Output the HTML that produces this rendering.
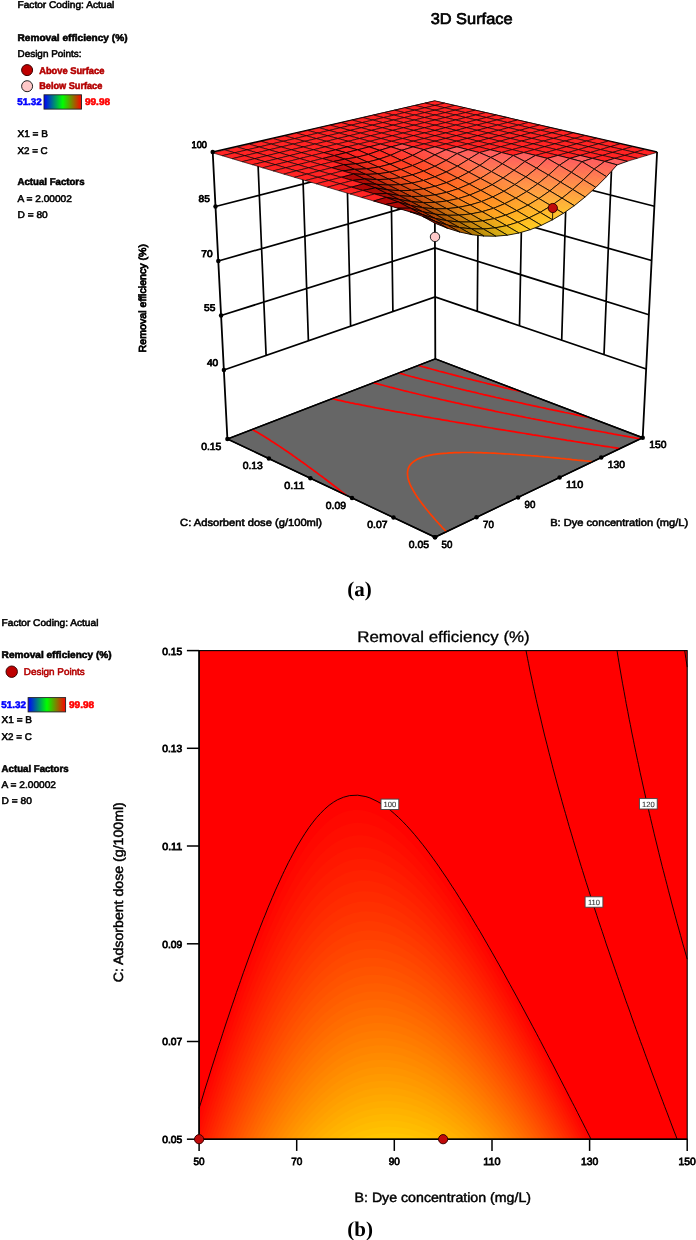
<!DOCTYPE html>
<html lang="en"><head><meta charset="utf-8"><title>3D Surface and contour plot of removal efficiency</title>
<style>html,body{margin:0;padding:0;background:#fff}body{width:696px;height:1240px;overflow:hidden}svg text{font-family:"Liberation Sans",Arial,sans-serif;paint-order:stroke fill;text-rendering:geometricPrecision}.m,.n{fill:none;stroke:#000;stroke-width:.62;stroke-linejoin:round}.n{stroke-width:.85}</style>
</head><body>
<svg width="696" height="1240" viewBox="0 0 696 1240" style="display:block">
<rect width="696" height="1240" fill="#fff"/>
<g stroke-width=".55">
<g id="surface3d">
<path d="M223.9,370.0 L435.1,296.9 L646.2,369.0 M221.1,315.5 L435.0,248.0 L648.9,314.7 M218.3,261.0 L434.8,199.1 L651.6,260.5 M215.5,206.5 L434.7,150.2 L654.4,206.2 M212.7,152.0 L434.5,101.3 L657.1,152.0 M257.1,141.9 L266.1,355.4 M479.0,111.4 L477.3,311.4 M301.4,131.7 L308.4,340.8 M523.5,121.6 L519.5,325.8 M345.8,121.6 L350.6,326.2 M568.1,131.7 L561.7,340.2 M390.1,111.4 L392.9,311.6 M612.6,141.9 L604.0,354.6" fill="none" stroke="#000" stroke-width="1.7"/>
<path d="M212.7,152.0 L227.4,439.0 M434.5,101.3 L435.3,358.9 M657.1,152.0 L642.7,437.7" fill="none" stroke="#000" stroke-width="1.8"/>
<polygon points="227.4,439.0 435.3,358.9 642.7,437.7 435.0,537.2" fill="#666666" stroke="#000" stroke-width="1.3" stroke-linejoin="round"/>
<clipPath id="floorclip"><polygon points="227.4,439.0 435.3,358.9 642.7,437.7 435.0,537.2"/></clipPath>
<g clip-path="url(#floorclip)">
<path d="M446.7,532.1 445.8,531.1 444.0,529.2 443.1,528.3 441.7,526.8 440.5,525.4 439.5,524.4 437.8,522.5 437.0,521.6 435.3,519.7 434.4,518.7 433.3,517.4 432.0,515.9 431.1,514.9 429.5,513.0 428.7,512.0 427.7,510.8 426.4,509.2 425.6,508.2 424.3,506.5 423.4,505.4 422.6,504.4 421.2,502.5 420.5,501.5 419.7,500.5 418.4,498.6 417.7,497.7 417.1,496.7 415.9,494.9 415.2,493.8 414.6,492.8 413.7,491.3 412.9,489.8 412.3,488.8 411.8,487.8 411.0,486.3 410.3,484.8 409.9,483.8 409.5,482.7 409.1,481.6 408.6,480.2 408.2,478.8 407.9,477.4 407.7,476.3 407.6,475.1 407.5,474.0 407.5,472.8 407.6,471.6 407.8,470.3 408.1,469.0 408.5,467.9 409.0,466.9 409.5,465.9 410.6,464.4 411.6,463.3 412.6,462.4 414.5,461.0 416.7,459.6 419.3,458.4 422.2,457.3 425.3,456.3 428.1,455.6 430.5,455.1 432.9,454.7 436.3,454.2 438.4,453.9 440.6,453.6 444.0,453.3 447.1,453.1 449.4,452.9 451.8,452.8 454.2,452.7 456.7,452.6 459.2,452.6 461.7,452.5 464.3,452.5 467.0,452.5 469.7,452.5 472.4,452.5 475.1,452.6 477.9,452.6 480.8,452.7 483.7,452.8 486.6,452.9 489.5,453.0 491.9,453.1 494.2,453.2 496.6,453.3 499.0,453.5 501.6,453.6 504.7,453.8 507.9,454.0 510.6,454.2 512.9,454.3 515.2,454.5 517.5,454.7 520.7,454.9 524.0,455.1 526.5,455.3 528.8,455.5 531.0,455.7 534.0,455.9 537.3,456.2 539.9,456.5 542.2,456.7 544.4,456.9 547.6,457.1 551.0,457.5 553.2,457.7 555.4,457.9 558.1,458.1 561.6,458.5 564.2,458.7 566.4,459.0 568.7,459.2 572.3,459.6 575.1,459.8 577.3,460.1 579.6,460.3 583.2,460.7 586.0,461.0 588.2,461.2 590.5,461.5 592.5,461.7" fill="none" stroke="#ff3d00" stroke-width="1.7"/>
<path d="M346.2,495.1 345.0,494.2 343.0,492.6 341.7,491.7 340.0,490.3 338.0,488.8 337.0,488.0 335.0,486.5 333.1,485.0 332.1,484.3 330.1,482.8 328.1,481.3 327.2,480.5 325.2,479.0 323.4,477.7 322.3,476.8 320.3,475.4 318.7,474.2 317.4,473.2 315.5,471.8 314.0,470.7 312.6,469.6 310.6,468.2 309.1,467.1 307.7,466.1 305.8,464.6 304.2,463.5 302.9,462.5 300.9,461.2 299.1,459.8 298.0,459.1 296.1,457.7 294.2,456.4 293.2,455.7 291.3,454.3 289.3,453.0 288.3,452.3 286.4,451.0 284.5,449.7 282.6,448.4 281.6,447.7 279.6,446.4 277.7,445.1 276.3,444.2 274.8,443.2 272.8,441.9 270.8,440.7 269.5,439.8 267.9,438.8 265.9,437.5 263.9,436.3 261.9,435.1 260.9,434.5 258.9,433.3 256.9,432.1 254.8,430.9 252.8,429.7 251.8,429.1 251.8,429.1" fill="none" stroke="#ff0000" stroke-width="1.7"/>
<path d="M331.7,398.7 333.2,399.0 336.3,399.7 337.9,400.1 341.0,400.7 342.8,401.1 345.7,401.8 347.8,402.2 350.5,402.8 352.7,403.2 355.3,403.8 357.5,404.2 360.2,404.7 362.3,405.2 365.1,405.7 367.0,406.1 370.1,406.7 371.7,407.0 375.0,407.7 376.7,408.0 380.1,408.6 381.7,408.9 385.1,409.6 386.8,409.9 390.1,410.5 391.9,410.8 394.7,411.4 397.0,411.8 399.2,412.2 402.2,412.7 403.9,413.0 407.3,413.7 409.1,414.0 412.5,414.6 414.3,414.9 417.0,415.4 419.5,415.8 421.5,416.2 424.8,416.8 426.6,417.1 430.1,417.7 431.8,418.0 434.7,418.5 437.2,418.9 439.1,419.2 442.5,419.8 444.3,420.1 447.9,420.7 449.7,421.1 452.2,421.5 455.1,422.0 456.9,422.3 460.5,422.9 462.3,423.2 465.3,423.7 467.7,424.1 469.7,424.4 473.2,425.0 475.0,425.3 478.4,425.9 480.5,426.2 482.7,426.6 486.0,427.2 487.9,427.5 491.5,428.0 493.4,428.4 495.8,428.8 499.0,429.3 500.8,429.6 504.5,430.2 506.4,430.5 508.9,430.9 512.0,431.4 513.9,431.7 517.6,432.3 519.5,432.6 521.9,433.0 525.2,433.5 527.0,433.8 530.6,434.4 532.7,434.8 535.0,435.1 538.4,435.7 540.3,436.0 543.7,436.5 546.0,436.9 548.1,437.2 551.7,437.8 553.6,438.1 556.9,438.6 559.4,439.0 561.3,439.3 565.1,439.9 567.1,440.3 570.0,440.7 572.9,441.2 574.8,441.5 578.7,442.1 580.6,442.4 583.2,442.8 586.4,443.3 588.4,443.6 592.0,444.2 594.2,444.6 596.4,444.9 600.1,445.5 602.0,445.8 605.3,446.3 607.9,446.7 609.9,447.0 613.8,447.6 615.8,447.9 618.6,448.4 619.7,448.6" fill="none" stroke="#ff0000" stroke-width="1.7"/>
<path d="M373.4,382.8 375.9,383.4 377.7,383.9 380.5,384.6 383.0,385.3 384.8,385.8 387.6,386.5 389.8,387.1 392.0,387.6 394.9,388.4 396.5,388.8 399.3,389.5 402.2,390.2 403.7,390.6 406.7,391.3 409.3,392.0 411.1,392.4 414.2,393.2 415.7,393.5 418.7,394.3 421.7,395.0 423.3,395.3 426.3,396.1 427.9,396.4 430.9,397.2 433.6,397.8 435.6,398.2 438.7,398.9 440.3,399.3 443.4,400.0 445.2,400.4 448.2,401.1 450.9,401.7 452.9,402.2 456.1,402.9 457.7,403.2 460.9,403.9 462.5,404.3 465.8,405.0 467.7,405.4 470.6,406.0 473.2,406.6 475.5,407.1 478.6,407.7 480.5,408.1 483.8,408.8 485.4,409.2 488.7,409.9 490.4,410.2 493.8,410.9 495.4,411.3 498.8,412.0 500.5,412.3 503.8,413.0 505.5,413.3 508.9,414.0 510.6,414.4 514.0,415.1 515.7,415.4 519.2,416.1 520.9,416.4 524.3,417.1 526.1,417.5 529.5,418.1 531.2,418.5 534.7,419.2 536.5,419.5 539.9,420.2 541.7,420.5 545.2,421.2 547.0,421.6 550.5,422.2 552.3,422.6 555.8,423.3 557.6,423.6 561.1,424.3 562.9,424.6 566.5,425.3 568.3,425.6 571.9,426.3 573.7,426.6 576.9,427.3 579.1,427.7 581.9,428.2 584.5,428.7 586.9,429.1 589.9,429.7 591.9,430.1 595.4,430.7 597.2,431.0 600.9,431.7 602.7,432.0 606.4,432.7 608.3,433.1 611.8,433.7 613.8,434.1 616.8,434.6 619.4,435.1 621.7,435.5 625.0,436.1 626.8,436.4 630.6,437.1 632.5,437.4 636.2,438.1 638.1,438.4 640.0,438.8" fill="none" stroke="#ff0000" stroke-width="1.7"/>
<path d="M398.9,373.1 401.6,373.8 403.8,374.4 405.7,375.0 408.5,375.7 411.3,376.5 412.7,376.8 415.5,377.6 418.3,378.3 419.7,378.7 422.6,379.5 425.4,380.2 426.9,380.6 429.7,381.3 432.6,382.1 434.1,382.4 437.0,383.2 439.9,383.9 441.3,384.3 444.3,385.0 447.2,385.8 448.7,386.1 451.7,386.9 454.0,387.5 456.2,388.0 459.2,388.7 460.7,389.1 463.7,389.8 466.7,390.6 468.2,390.9 471.3,391.6 473.5,392.2 475.9,392.7 479.0,393.5 480.5,393.8 483.6,394.6 486.0,395.1 488.3,395.6 491.4,396.4 493.0,396.7 496.1,397.5 498.3,397.9 500.9,398.5 504.0,399.3 505.6,399.6 508.8,400.3 510.4,400.7 513.6,401.4 516.2,402.0 518.5,402.5 521.7,403.2 523.4,403.6 526.6,404.3 528.2,404.6 531.5,405.4 533.7,405.8 536.5,406.4 539.4,407.1 541.4,407.5 544.7,408.2 546.4,408.6 549.7,409.3 551.4,409.6 554.8,410.3 556.5,410.7 559.8,411.4 562.1,411.9 564.9,412.5 567.7,413.0 570.0,413.5 573.3,414.2 575.1,414.6 578.6,415.3 580.3,415.6 583.7,416.3 585.5,416.7 588.9,417.4 589.8,417.6" fill="none" stroke="#ff0000" stroke-width="1.7"/>
<path d="M418.6,365.5 419.9,365.9 422.7,366.7 425.4,367.4 428.0,368.1 429.5,368.5 432.2,369.3 435.0,370.0 436.4,370.4 439.2,371.2 442.0,371.9 443.9,372.4 446.2,373.0 449.0,373.8 451.6,374.4 453.3,374.9 456.1,375.6 459.0,376.4 460.4,376.7 463.3,377.5 466.2,378.2 467.6,378.6 470.5,379.3 473.5,380.1 474.9,380.4 477.9,381.2 480.6,381.8 482.3,382.3 485.3,383.0 487.5,383.6 489.8,384.1 492.8,384.8 494.3,385.2 497.3,385.9 500.3,386.7 501.8,387.0 504.9,387.8 507.7,388.4 509.5,388.9 512.5,389.6 514.3,390.0 517.2,390.7 520.3,391.4 520.8,391.5" fill="none" stroke="#ff0000" stroke-width="1.7"/>
</g>
<polygon points="227.4,439.0 435.3,358.9 642.7,437.7 435.0,537.2" fill="none" stroke="#000" stroke-width="1.5" stroke-linejoin="round"/>
<path d="M434.9,105.4 444.8,103.1 434.9,100.8 425.0,103.1Z" fill="#ff2323"/>
<path class="m" d="M434.9,105.4 444.8,103.1 434.9,100.8 425.0,103.1Z"/>
<path d="M444.9,107.8 454.9,105.4 444.8,103.1 434.9,105.4Z" fill="#ff2323"/>
<path class="m" d="M444.9,107.8 454.9,105.4 444.8,103.1 434.9,105.4Z"/>
<path d="M424.9,107.8 434.9,105.4 425.0,103.1 414.9,105.4Z" fill="#ff2323"/>
<path class="m" d="M424.9,107.8 434.9,105.4 425.0,103.1 414.9,105.4Z"/>
<path d="M455.1,110.2 465.0,107.8 454.9,105.4 444.9,107.8Z" fill="#ff2323"/>
<path class="m" d="M455.1,110.2 465.0,107.8 454.9,105.4 444.9,107.8Z"/>
<path d="M434.9,110.2 444.9,107.8 434.9,105.4 424.9,107.8Z" fill="#ff2323"/>
<path class="m" d="M434.9,110.2 444.9,107.8 434.9,105.4 424.9,107.8Z"/>
<path d="M414.7,110.2 424.9,107.8 414.9,105.4 404.8,107.8Z" fill="#ff2323"/>
<path class="m" d="M414.7,110.2 424.9,107.8 414.9,105.4 404.8,107.8Z"/>
<path d="M465.4,112.6 475.3,110.2 465.0,107.8 455.1,110.2Z" fill="#ff2323"/>
<path class="m" d="M465.4,112.6 475.3,110.2 465.0,107.8 455.1,110.2Z"/>
<path d="M445.1,112.6 455.1,110.2 444.9,107.8 434.9,110.2Z" fill="#ff2323"/>
<path class="m" d="M445.1,112.6 455.1,110.2 444.9,107.8 434.9,110.2Z"/>
<path d="M424.7,112.6 434.9,110.2 424.9,107.8 414.7,110.2Z" fill="#ff2323"/>
<path class="m" d="M424.7,112.6 434.9,110.2 424.9,107.8 414.7,110.2Z"/>
<path d="M404.4,112.6 414.7,110.2 404.8,107.8 394.5,110.2Z" fill="#ff2323"/>
<path class="m" d="M404.4,112.6 414.7,110.2 404.8,107.8 394.5,110.2Z"/>
<path d="M475.7,115.0 485.7,112.6 475.3,110.2 465.4,112.6Z" fill="#ff2323"/>
<path class="m" d="M475.7,115.0 485.7,112.6 475.3,110.2 465.4,112.6Z"/>
<path d="M455.3,115.0 465.4,112.6 455.1,110.2 445.1,112.6Z" fill="#ff2323"/>
<path class="m" d="M455.3,115.0 465.4,112.6 455.1,110.2 445.1,112.6Z"/>
<path d="M434.9,115.1 445.1,112.6 434.9,110.2 424.7,112.6Z" fill="#ff2323"/>
<path class="m" d="M434.9,115.1 445.1,112.6 434.9,110.2 424.7,112.6Z"/>
<path d="M414.5,115.1 424.7,112.6 414.7,110.2 404.4,112.6Z" fill="#ff2323"/>
<path class="m" d="M414.5,115.1 424.7,112.6 414.7,110.2 404.4,112.6Z"/>
<path d="M394.0,115.1 404.4,112.6 394.5,110.2 384.1,112.6Z" fill="#ff2323"/>
<path class="m" d="M394.0,115.1 404.4,112.6 394.5,110.2 384.1,112.6Z"/>
<path d="M486.3,117.5 496.2,115.0 485.7,112.6 475.7,115.0Z" fill="#ff2323"/>
<path class="m" d="M486.3,117.5 496.2,115.0 485.7,112.6 475.7,115.0Z"/>
<path d="M465.7,117.5 475.7,115.0 465.4,112.6 455.3,115.0Z" fill="#ff2323"/>
<path class="m" d="M465.7,117.5 475.7,115.0 465.4,112.6 455.3,115.0Z"/>
<path d="M445.2,117.5 455.3,115.0 445.1,112.6 434.9,115.1Z" fill="#ff2323"/>
<path class="m" d="M445.2,117.5 455.3,115.0 445.1,112.6 434.9,115.1Z"/>
<path d="M424.6,117.5 434.9,115.1 424.7,112.6 414.5,115.1Z" fill="#ff2323"/>
<path class="m" d="M424.6,117.5 434.9,115.1 424.7,112.6 414.5,115.1Z"/>
<path d="M404.1,117.6 414.5,115.1 404.4,112.6 394.0,115.1Z" fill="#ff2323"/>
<path class="m" d="M404.1,117.6 414.5,115.1 404.4,112.6 394.0,115.1Z"/>
<path d="M383.5,117.6 394.0,115.1 384.1,112.6 373.6,115.1Z" fill="#ff2323"/>
<path class="m" d="M383.5,117.6 394.0,115.1 384.1,112.6 373.6,115.1Z"/>
<path d="M496.9,120.0 506.8,117.5 496.2,115.0 486.3,117.5Z" fill="#ff2323"/>
<path class="m" d="M496.9,120.0 506.8,117.5 496.2,115.0 486.3,117.5Z"/>
<path d="M476.2,120.0 486.3,117.5 475.7,115.0 465.7,117.5Z" fill="#ff2323"/>
<path class="m" d="M476.2,120.0 486.3,117.5 475.7,115.0 465.7,117.5Z"/>
<path d="M455.6,120.0 465.7,117.5 455.3,115.0 445.2,117.5Z" fill="#ff2323"/>
<path class="m" d="M455.6,120.0 465.7,117.5 455.3,115.0 445.2,117.5Z"/>
<path d="M434.9,120.0 445.2,117.5 434.9,115.1 424.6,117.5Z" fill="#ff2323"/>
<path class="m" d="M434.9,120.0 445.2,117.5 434.9,115.1 424.6,117.5Z"/>
<path d="M414.2,120.1 424.6,117.5 414.5,115.1 404.1,117.6Z" fill="#ff2323"/>
<path class="m" d="M414.2,120.1 424.6,117.5 414.5,115.1 404.1,117.6Z"/>
<path d="M393.6,120.1 404.1,117.6 394.0,115.1 383.5,117.6Z" fill="#ff2323"/>
<path class="m" d="M393.6,120.1 404.1,117.6 394.0,115.1 383.5,117.6Z"/>
<path d="M372.9,120.1 383.5,117.6 373.6,115.1 363.0,117.6Z" fill="#ff2323"/>
<path class="m" d="M372.9,120.1 383.5,117.6 373.6,115.1 363.0,117.6Z"/>
<path d="M507.6,122.5 517.5,120.0 506.8,117.5 496.9,120.0Z" fill="#ff2323"/>
<path class="m" d="M507.6,122.5 517.5,120.0 506.8,117.5 496.9,120.0Z"/>
<path d="M486.9,122.5 496.9,120.0 486.3,117.5 476.2,120.0Z" fill="#ff2323"/>
<path class="m" d="M486.9,122.5 496.9,120.0 486.3,117.5 476.2,120.0Z"/>
<path d="M466.1,122.6 476.2,120.0 465.7,117.5 455.6,120.0Z" fill="#ff2323"/>
<path class="m" d="M466.1,122.6 476.2,120.0 465.7,117.5 455.6,120.0Z"/>
<path d="M445.3,122.6 455.6,120.0 445.2,117.5 434.9,120.0Z" fill="#ff2323"/>
<path class="m" d="M445.3,122.6 455.6,120.0 445.2,117.5 434.9,120.0Z"/>
<path d="M424.5,122.6 434.9,120.0 424.6,117.5 414.2,120.1Z" fill="#ff2323"/>
<path class="m" d="M424.5,122.6 434.9,120.0 424.6,117.5 414.2,120.1Z"/>
<path d="M403.7,122.6 414.2,120.1 404.1,117.6 393.6,120.1Z" fill="#ff2323"/>
<path class="m" d="M403.7,122.6 414.2,120.1 404.1,117.6 393.6,120.1Z"/>
<path d="M382.9,122.6 393.6,120.1 383.5,117.6 372.9,120.1Z" fill="#ff2323"/>
<path class="m" d="M382.9,122.6 393.6,120.1 383.5,117.6 372.9,120.1Z"/>
<path d="M362.1,122.6 372.9,120.1 363.0,117.6 352.2,120.1Z" fill="#ff2323"/>
<path class="m" d="M362.1,122.6 372.9,120.1 363.0,117.6 352.2,120.1Z"/>
<path d="M518.5,125.1 528.4,122.5 517.5,120.0 507.6,122.5Z" fill="#ff2323"/>
<path class="m" d="M518.5,125.1 528.4,122.5 517.5,120.0 507.6,122.5Z"/>
<path d="M497.6,125.1 507.6,122.5 496.9,120.0 486.9,122.5Z" fill="#ff2323"/>
<path class="m" d="M497.6,125.1 507.6,122.5 496.9,120.0 486.9,122.5Z"/>
<path d="M476.7,125.1 486.9,122.5 476.2,120.0 466.1,122.6Z" fill="#ff2323"/>
<path class="m" d="M476.7,125.1 486.9,122.5 476.2,120.0 466.1,122.6Z"/>
<path d="M455.8,125.1 466.1,122.6 455.6,120.0 445.3,122.6Z" fill="#ff2323"/>
<path class="m" d="M455.8,125.1 466.1,122.6 455.6,120.0 445.3,122.6Z"/>
<path d="M434.9,125.2 445.3,122.6 434.9,120.0 424.5,122.6Z" fill="#ff2323"/>
<path class="m" d="M434.9,125.2 445.3,122.6 434.9,120.0 424.5,122.6Z"/>
<path d="M414.0,125.2 424.5,122.6 414.2,120.1 403.7,122.6Z" fill="#ff2323"/>
<path class="m" d="M414.0,125.2 424.5,122.6 414.2,120.1 403.7,122.6Z"/>
<path d="M393.1,125.2 403.7,122.6 393.6,120.1 382.9,122.6Z" fill="#ff2323"/>
<path class="m" d="M393.1,125.2 403.7,122.6 393.6,120.1 382.9,122.6Z"/>
<path d="M372.2,125.2 382.9,122.6 372.9,120.1 362.1,122.6Z" fill="#ff2323"/>
<path class="m" d="M372.2,125.2 382.9,122.6 372.9,120.1 362.1,122.6Z"/>
<path d="M351.2,125.2 362.1,122.6 352.2,120.1 341.3,122.7Z" fill="#ff2323"/>
<path class="m" d="M351.2,125.2 362.1,122.6 352.2,120.1 341.3,122.7Z"/>
<path d="M529.5,127.7 539.4,125.1 528.4,122.5 518.5,125.1Z" fill="#ff2323"/>
<path class="m" d="M529.5,127.7 539.4,125.1 528.4,122.5 518.5,125.1Z"/>
<path d="M508.5,127.7 518.5,125.1 507.6,122.5 497.6,125.1Z" fill="#ff2323"/>
<path class="m" d="M508.5,127.7 518.5,125.1 507.6,122.5 497.6,125.1Z"/>
<path d="M487.5,127.7 497.6,125.1 486.9,122.5 476.7,125.1Z" fill="#ff2323"/>
<path class="m" d="M487.5,127.7 497.6,125.1 486.9,122.5 476.7,125.1Z"/>
<path d="M466.5,127.7 476.7,125.1 466.1,122.6 455.8,125.1Z" fill="#ff2323"/>
<path class="m" d="M466.5,127.7 476.7,125.1 466.1,122.6 455.8,125.1Z"/>
<path d="M445.4,127.7 455.8,125.1 445.3,122.6 434.9,125.2Z" fill="#ff2323"/>
<path class="m" d="M445.4,127.7 455.8,125.1 445.3,122.6 434.9,125.2Z"/>
<path d="M424.4,127.8 434.9,125.2 424.5,122.6 414.0,125.2Z" fill="#ff2323"/>
<path class="m" d="M424.4,127.8 434.9,125.2 424.5,122.6 414.0,125.2Z"/>
<path d="M403.4,127.8 414.0,125.2 403.7,122.6 393.1,125.2Z" fill="#ff2323"/>
<path class="m" d="M403.4,127.8 414.0,125.2 403.7,122.6 393.1,125.2Z"/>
<path d="M382.3,127.8 393.1,125.2 382.9,122.6 372.2,125.2Z" fill="#ff2323"/>
<path class="m" d="M382.3,127.8 393.1,125.2 382.9,122.6 372.2,125.2Z"/>
<path d="M361.3,127.8 372.2,125.2 362.1,122.6 351.2,125.2Z" fill="#ff2323"/>
<path class="m" d="M361.3,127.8 372.2,125.2 362.1,122.6 351.2,125.2Z"/>
<path d="M340.2,127.8 351.2,125.2 341.3,122.7 330.3,125.2Z" fill="#ff2323"/>
<path class="m" d="M340.2,127.8 351.2,125.2 341.3,122.7 330.3,125.2Z"/>
<path d="M540.7,130.3 550.5,127.7 539.4,125.1 529.5,127.7Z" fill="#ff2323"/>
<path class="m" d="M540.7,130.3 550.5,127.7 539.4,125.1 529.5,127.7Z"/>
<path d="M519.5,130.3 529.5,127.7 518.5,125.1 508.5,127.7Z" fill="#ff2323"/>
<path class="m" d="M519.5,130.3 529.5,127.7 518.5,125.1 508.5,127.7Z"/>
<path d="M498.4,130.3 508.5,127.7 497.6,125.1 487.5,127.7Z" fill="#ff2323"/>
<path class="m" d="M498.4,130.3 508.5,127.7 497.6,125.1 487.5,127.7Z"/>
<path d="M477.2,130.3 487.5,127.7 476.7,125.1 466.5,127.7Z" fill="#ff2323"/>
<path class="m" d="M477.2,130.3 487.5,127.7 476.7,125.1 466.5,127.7Z"/>
<path d="M456.1,130.4 466.5,127.7 455.8,125.1 445.4,127.7Z" fill="#ff2323"/>
<path class="m" d="M456.1,130.4 466.5,127.7 455.8,125.1 445.4,127.7Z"/>
<path d="M434.9,130.4 445.4,127.7 434.9,125.2 424.4,127.8Z" fill="#ff2323"/>
<path class="m" d="M434.9,130.4 445.4,127.7 434.9,125.2 424.4,127.8Z"/>
<path d="M413.7,130.4 424.4,127.8 414.0,125.2 403.4,127.8Z" fill="#ff2323"/>
<path class="m" d="M413.7,130.4 424.4,127.8 414.0,125.2 403.4,127.8Z"/>
<path d="M392.6,130.4 403.4,127.8 393.1,125.2 382.3,127.8Z" fill="#ff2323"/>
<path class="m" d="M392.6,130.4 403.4,127.8 393.1,125.2 382.3,127.8Z"/>
<path d="M371.4,130.4 382.3,127.8 372.2,125.2 361.3,127.8Z" fill="#ff2323"/>
<path class="m" d="M371.4,130.4 382.3,127.8 372.2,125.2 361.3,127.8Z"/>
<path d="M350.2,130.4 361.3,127.8 351.2,125.2 340.2,127.8Z" fill="#ff2323"/>
<path class="m" d="M350.2,130.4 361.3,127.8 351.2,125.2 340.2,127.8Z"/>
<path d="M329.1,130.5 340.2,127.8 330.3,125.2 319.2,127.8Z" fill="#ff2323"/>
<path class="m" d="M329.1,130.5 340.2,127.8 330.3,125.2 319.2,127.8Z"/>
<path d="M551.9,132.9 561.8,130.3 550.5,127.7 540.7,130.3Z" fill="#ff2323"/>
<path class="m" d="M551.9,132.9 561.8,130.3 550.5,127.7 540.7,130.3Z"/>
<path d="M530.7,133.0 540.7,130.3 529.5,127.7 519.5,130.3Z" fill="#ff2323"/>
<path class="m" d="M530.7,133.0 540.7,130.3 529.5,127.7 519.5,130.3Z"/>
<path d="M509.4,133.0 519.5,130.3 508.5,127.7 498.4,130.3Z" fill="#ff2323"/>
<path class="m" d="M509.4,133.0 519.5,130.3 508.5,127.7 498.4,130.3Z"/>
<path d="M488.1,133.0 498.4,130.3 487.5,127.7 477.2,130.3Z" fill="#ff2323"/>
<path class="m" d="M488.1,133.0 498.4,130.3 487.5,127.7 477.2,130.3Z"/>
<path d="M466.8,133.0 477.2,130.3 466.5,127.7 456.1,130.4Z" fill="#ff2323"/>
<path class="m" d="M466.8,133.0 477.2,130.3 466.5,127.7 456.1,130.4Z"/>
<path d="M445.6,133.0 456.1,130.4 445.4,127.7 434.9,130.4Z" fill="#ff2323"/>
<path class="m" d="M445.6,133.0 456.1,130.4 445.4,127.7 434.9,130.4Z"/>
<path d="M424.3,133.0 434.9,130.4 424.4,127.8 413.7,130.4Z" fill="#ff2323"/>
<path class="m" d="M424.3,133.0 434.9,130.4 424.4,127.8 413.7,130.4Z"/>
<path d="M403.0,133.1 413.7,130.4 403.4,127.8 392.6,130.4Z" fill="#ff2323"/>
<path class="m" d="M403.0,133.1 413.7,130.4 403.4,127.8 392.6,130.4Z"/>
<path d="M381.7,133.1 392.6,130.4 382.3,127.8 371.4,130.4Z" fill="#ff2323"/>
<path class="m" d="M381.7,133.1 392.6,130.4 382.3,127.8 371.4,130.4Z"/>
<path d="M360.4,133.1 371.4,130.4 361.3,127.8 350.2,130.4Z" fill="#ff2323"/>
<path class="m" d="M360.4,133.1 371.4,130.4 361.3,127.8 350.2,130.4Z"/>
<path d="M339.1,133.1 350.2,130.4 340.2,127.8 329.1,130.5Z" fill="#ff2323"/>
<path class="m" d="M339.1,133.1 350.2,130.4 340.2,127.8 329.1,130.5Z"/>
<path d="M317.8,133.1 329.1,130.5 319.2,127.8 307.9,130.5Z" fill="#ff2323"/>
<path class="m" d="M317.8,133.1 329.1,130.5 319.2,127.8 307.9,130.5Z"/>
<path d="M563.3,135.6 573.2,132.9 561.8,130.3 551.9,132.9Z" fill="#ff2323"/>
<path class="m" d="M563.3,135.6 573.2,132.9 561.8,130.3 551.9,132.9Z"/>
<path d="M541.9,135.6 551.9,132.9 540.7,130.3 530.7,133.0Z" fill="#ff2323"/>
<path class="m" d="M541.9,135.6 551.9,132.9 540.7,130.3 530.7,133.0Z"/>
<path d="M520.5,135.7 530.7,133.0 519.5,130.3 509.4,133.0Z" fill="#ff2323"/>
<path class="m" d="M520.5,135.7 530.7,133.0 519.5,130.3 509.4,133.0Z"/>
<path d="M499.1,135.7 509.4,133.0 498.4,130.3 488.1,133.0Z" fill="#ff2323"/>
<path class="m" d="M499.1,135.7 509.4,133.0 498.4,130.3 488.1,133.0Z"/>
<path d="M477.7,135.7 488.1,133.0 477.2,130.3 466.8,133.0Z" fill="#ff2323"/>
<path class="m" d="M477.7,135.7 488.1,133.0 477.2,130.3 466.8,133.0Z"/>
<path d="M456.3,135.7 466.8,133.0 456.1,130.4 445.6,133.0Z" fill="#ff2323"/>
<path class="m" d="M456.3,135.7 466.8,133.0 456.1,130.4 445.6,133.0Z"/>
<path d="M434.9,135.7 445.6,133.0 434.9,130.4 424.3,133.0Z" fill="#ff2323"/>
<path class="m" d="M434.9,135.7 445.6,133.0 434.9,130.4 424.3,133.0Z"/>
<path d="M413.5,135.7 424.3,133.0 413.7,130.4 403.0,133.1Z" fill="#ff2323"/>
<path class="m" d="M413.5,135.7 424.3,133.0 413.7,130.4 403.0,133.1Z"/>
<path d="M392.1,135.8 403.0,133.1 392.6,130.4 381.7,133.1Z" fill="#ff2323"/>
<path class="m" d="M392.1,135.8 403.0,133.1 392.6,130.4 381.7,133.1Z"/>
<path d="M370.6,135.8 381.7,133.1 371.4,130.4 360.4,133.1Z" fill="#ff2323"/>
<path class="m" d="M370.6,135.8 381.7,133.1 371.4,130.4 360.4,133.1Z"/>
<path d="M349.2,135.8 360.4,133.1 350.2,130.4 339.1,133.1Z" fill="#ff2323"/>
<path class="m" d="M349.2,135.8 360.4,133.1 350.2,130.4 339.1,133.1Z"/>
<path d="M327.8,135.8 339.1,133.1 329.1,130.5 317.8,133.1Z" fill="#ff2323"/>
<path class="m" d="M327.8,135.8 339.1,133.1 329.1,130.5 317.8,133.1Z"/>
<path d="M306.3,135.8 317.8,133.1 307.9,130.5 296.5,133.1Z" fill="#ff2323"/>
<path class="m" d="M306.3,135.8 317.8,133.1 307.9,130.5 296.5,133.1Z"/>
<path d="M574.9,138.3 584.7,135.6 573.2,132.9 563.3,135.6Z" fill="#ff2323"/>
<path class="m" d="M574.9,138.3 584.7,135.6 573.2,132.9 563.3,135.6Z"/>
<path d="M553.4,138.4 563.3,135.6 551.9,132.9 541.9,135.6Z" fill="#ff2323"/>
<path class="m" d="M553.4,138.4 563.3,135.6 551.9,132.9 541.9,135.6Z"/>
<path d="M531.8,138.4 541.9,135.6 530.7,133.0 520.5,135.7Z" fill="#ff2323"/>
<path class="m" d="M531.8,138.4 541.9,135.6 530.7,133.0 520.5,135.7Z"/>
<path d="M510.3,138.4 520.5,135.7 509.4,133.0 499.1,135.7Z" fill="#ff2323"/>
<path class="m" d="M510.3,138.4 520.5,135.7 509.4,133.0 499.1,135.7Z"/>
<path d="M488.8,138.4 499.1,135.7 488.1,133.0 477.7,135.7Z" fill="#ff2323"/>
<path class="m" d="M488.8,138.4 499.1,135.7 488.1,133.0 477.7,135.7Z"/>
<path d="M467.2,138.4 477.7,135.7 466.8,133.0 456.3,135.7Z" fill="#ff2323"/>
<path class="m" d="M467.2,138.4 477.7,135.7 466.8,133.0 456.3,135.7Z"/>
<path d="M445.7,138.4 456.3,135.7 445.6,133.0 434.9,135.7Z" fill="#ff2323"/>
<path class="m" d="M445.7,138.4 456.3,135.7 445.6,133.0 434.9,135.7Z"/>
<path d="M424.1,138.5 434.9,135.7 424.3,133.0 413.5,135.7Z" fill="#ff2323"/>
<path class="m" d="M424.1,138.5 434.9,135.7 424.3,133.0 413.5,135.7Z"/>
<path d="M402.6,138.5 413.5,135.7 403.0,133.1 392.1,135.8Z" fill="#ff2323"/>
<path class="m" d="M402.6,138.5 413.5,135.7 403.0,133.1 392.1,135.8Z"/>
<path d="M381.0,138.5 392.1,135.8 381.7,133.1 370.6,135.8Z" fill="#ff2323"/>
<path class="m" d="M381.0,138.5 392.1,135.8 381.7,133.1 370.6,135.8Z"/>
<path d="M359.5,138.5 370.6,135.8 360.4,133.1 349.2,135.8Z" fill="#ff2323"/>
<path class="m" d="M359.5,138.5 370.6,135.8 360.4,133.1 349.2,135.8Z"/>
<path d="M337.9,138.5 349.2,135.8 339.1,133.1 327.8,135.8Z" fill="#ff2323"/>
<path class="m" d="M337.9,138.5 349.2,135.8 339.1,133.1 327.8,135.8Z"/>
<path d="M316.3,138.6 327.8,135.8 317.8,133.1 306.3,135.8Z" fill="#ff2323"/>
<path class="m" d="M316.3,138.6 327.8,135.8 317.8,133.1 306.3,135.8Z"/>
<path d="M294.8,138.6 306.3,135.8 296.5,133.1 284.9,135.9Z" fill="#ff2323"/>
<path class="m" d="M294.8,138.6 306.3,135.8 296.5,133.1 284.9,135.9Z"/>
<path d="M586.6,141.1 596.4,138.3 584.7,135.6 574.9,138.3Z" fill="#ff2323"/>
<path class="m" d="M586.6,141.1 596.4,138.3 584.7,135.6 574.9,138.3Z"/>
<path d="M564.9,141.1 574.9,138.3 563.3,135.6 553.4,138.4Z" fill="#ff2323"/>
<path class="m" d="M564.9,141.1 574.9,138.3 563.3,135.6 553.4,138.4Z"/>
<path d="M543.3,141.1 553.4,138.4 541.9,135.6 531.8,138.4Z" fill="#ff2323"/>
<path class="m" d="M543.3,141.1 553.4,138.4 541.9,135.6 531.8,138.4Z"/>
<path d="M521.6,141.1 531.8,138.4 520.5,135.7 510.3,138.4Z" fill="#ff2323"/>
<path class="m" d="M521.6,141.1 531.8,138.4 520.5,135.7 510.3,138.4Z"/>
<path d="M499.9,141.2 510.3,138.4 499.1,135.7 488.8,138.4Z" fill="#ff2323"/>
<path class="m" d="M499.9,141.2 510.3,138.4 499.1,135.7 488.8,138.4Z"/>
<path d="M478.3,141.2 488.8,138.4 477.7,135.7 467.2,138.4Z" fill="#ff2323"/>
<path class="m" d="M478.3,141.2 488.8,138.4 477.7,135.7 467.2,138.4Z"/>
<path d="M456.6,141.2 467.2,138.4 456.3,135.7 445.7,138.4Z" fill="#ff2323"/>
<path class="m" d="M456.6,141.2 467.2,138.4 456.3,135.7 445.7,138.4Z"/>
<path d="M434.9,141.2 445.7,138.4 434.9,135.7 424.1,138.5Z" fill="#ff2323"/>
<path class="m" d="M434.9,141.2 445.7,138.4 434.9,135.7 424.1,138.5Z"/>
<path d="M413.2,141.2 424.1,138.5 413.5,135.7 402.6,138.5Z" fill="#ff2323"/>
<path class="m" d="M413.2,141.2 424.1,138.5 413.5,135.7 402.6,138.5Z"/>
<path d="M391.6,141.3 402.6,138.5 392.1,135.8 381.0,138.5Z" fill="#ff2323"/>
<path class="m" d="M391.6,141.3 402.6,138.5 392.1,135.8 381.0,138.5Z"/>
<path d="M369.9,141.3 381.0,138.5 370.6,135.8 359.5,138.5Z" fill="#ff2323"/>
<path class="m" d="M369.9,141.3 381.0,138.5 370.6,135.8 359.5,138.5Z"/>
<path d="M348.2,141.3 359.5,138.5 349.2,135.8 337.9,138.5Z" fill="#ff2323"/>
<path class="m" d="M348.2,141.3 359.5,138.5 349.2,135.8 337.9,138.5Z"/>
<path d="M326.5,141.3 337.9,138.5 327.8,135.8 316.3,138.6Z" fill="#ff2323"/>
<path class="m" d="M326.5,141.3 337.9,138.5 327.8,135.8 316.3,138.6Z"/>
<path d="M304.8,141.3 316.3,138.6 306.3,135.8 294.8,138.6Z" fill="#ff2323"/>
<path class="m" d="M304.8,141.3 316.3,138.6 306.3,135.8 294.8,138.6Z"/>
<path d="M283.1,141.3 294.8,138.6 284.9,135.9 273.2,138.6Z" fill="#ff2323"/>
<path class="m" d="M283.1,141.3 294.8,138.6 284.9,135.9 273.2,138.6Z"/>
<path d="M598.4,143.9 608.2,141.1 596.4,138.3 586.6,141.1Z" fill="#ff2323"/>
<path class="m" d="M598.4,143.9 608.2,141.1 596.4,138.3 586.6,141.1Z"/>
<path d="M576.6,143.9 586.6,141.1 574.9,138.3 564.9,141.1Z" fill="#ff2323"/>
<path class="m" d="M576.6,143.9 586.6,141.1 574.9,138.3 564.9,141.1Z"/>
<path d="M554.8,143.9 564.9,141.1 553.4,138.4 543.3,141.1Z" fill="#ff2323"/>
<path class="m" d="M554.8,143.9 564.9,141.1 553.4,138.4 543.3,141.1Z"/>
<path d="M533.0,143.9 543.3,141.1 531.8,138.4 521.6,141.1Z" fill="#ff2323"/>
<path class="m" d="M533.0,143.9 543.3,141.1 531.8,138.4 521.6,141.1Z"/>
<path d="M511.2,143.9 521.6,141.1 510.3,138.4 499.9,141.2Z" fill="#ff2323"/>
<path class="m" d="M511.2,143.9 521.6,141.1 510.3,138.4 499.9,141.2Z"/>
<path d="M489.4,144.0 499.9,141.2 488.8,138.4 478.3,141.2Z" fill="#ff2323"/>
<path class="m" d="M489.4,144.0 499.9,141.2 488.8,138.4 478.3,141.2Z"/>
<path d="M467.6,144.0 478.3,141.2 467.2,138.4 456.6,141.2Z" fill="#ff2323"/>
<path class="m" d="M467.6,144.0 478.3,141.2 467.2,138.4 456.6,141.2Z"/>
<path d="M445.8,144.0 456.6,141.2 445.7,138.4 434.9,141.2Z" fill="#ff2323"/>
<path class="m" d="M445.8,144.0 456.6,141.2 445.7,138.4 434.9,141.2Z"/>
<path d="M424.0,144.0 434.9,141.2 424.1,138.5 413.2,141.2Z" fill="#ff2323"/>
<path class="m" d="M424.0,144.0 434.9,141.2 424.1,138.5 413.2,141.2Z"/>
<path d="M402.2,144.0 413.2,141.2 402.6,138.5 391.6,141.3Z" fill="#ff2323"/>
<path class="m" d="M402.2,144.0 413.2,141.2 402.6,138.5 391.6,141.3Z"/>
<path d="M380.4,144.1 391.6,141.3 381.0,138.5 369.9,141.3Z" fill="#ff2323"/>
<path class="m" d="M380.4,144.1 391.6,141.3 381.0,138.5 369.9,141.3Z"/>
<path d="M358.6,144.1 369.9,141.3 359.5,138.5 348.2,141.3Z" fill="#ff2323"/>
<path class="m" d="M358.6,144.1 369.9,141.3 359.5,138.5 348.2,141.3Z"/>
<path d="M336.7,144.1 348.2,141.3 337.9,138.5 326.5,141.3Z" fill="#ff2323"/>
<path class="m" d="M336.7,144.1 348.2,141.3 337.9,138.5 326.5,141.3Z"/>
<path d="M314.9,144.1 326.5,141.3 316.3,138.6 304.8,141.3Z" fill="#ff2323"/>
<path class="m" d="M314.9,144.1 326.5,141.3 316.3,138.6 304.8,141.3Z"/>
<path d="M293.0,144.1 304.8,141.3 294.8,138.6 283.1,141.3Z" fill="#ff2323"/>
<path class="m" d="M293.0,144.1 304.8,141.3 294.8,138.6 283.1,141.3Z"/>
<path d="M271.2,144.1 283.1,141.3 273.2,138.6 261.3,141.4Z" fill="#ff2323"/>
<path class="m" d="M271.2,144.1 283.1,141.3 273.2,138.6 261.3,141.4Z"/>
<path d="M610.4,146.7 620.2,143.9 608.2,141.1 598.4,143.9Z" fill="#ff2323"/>
<path class="m" d="M610.4,146.7 620.2,143.9 608.2,141.1 598.4,143.9Z"/>
<path d="M588.4,146.7 598.4,143.9 586.6,141.1 576.6,143.9Z" fill="#ff2323"/>
<path class="m" d="M588.4,146.7 598.4,143.9 586.6,141.1 576.6,143.9Z"/>
<path d="M566.5,146.7 576.6,143.9 564.9,141.1 554.8,143.9Z" fill="#ff2323"/>
<path class="m" d="M566.5,146.7 576.6,143.9 564.9,141.1 554.8,143.9Z"/>
<path d="M544.6,146.7 554.8,143.9 543.3,141.1 533.0,143.9Z" fill="#ff2323"/>
<path class="m" d="M544.6,146.7 554.8,143.9 543.3,141.1 533.0,143.9Z"/>
<path d="M522.7,146.8 533.0,143.9 521.6,141.1 511.2,143.9Z" fill="#ff2323"/>
<path class="m" d="M522.7,146.8 533.0,143.9 521.6,141.1 511.2,143.9Z"/>
<path d="M500.7,146.8 511.2,143.9 499.9,141.2 489.4,144.0Z" fill="#ff2323"/>
<path class="m" d="M500.7,146.8 511.2,143.9 499.9,141.2 489.4,144.0Z"/>
<path d="M478.8,146.8 489.4,144.0 478.3,141.2 467.6,144.0Z" fill="#ff2323"/>
<path class="m" d="M478.8,146.8 489.4,144.0 478.3,141.2 467.6,144.0Z"/>
<path d="M456.9,146.8 467.6,144.0 456.6,141.2 445.8,144.0Z" fill="#ff2323"/>
<path class="m" d="M456.9,146.8 467.6,144.0 456.6,141.2 445.8,144.0Z"/>
<path d="M434.9,146.8 445.8,144.0 434.9,141.2 424.0,144.0Z" fill="#ff2323"/>
<path class="m" d="M434.9,146.8 445.8,144.0 434.9,141.2 424.0,144.0Z"/>
<path d="M413.0,146.9 424.0,144.0 413.2,141.2 402.2,144.0Z" fill="#ff2323"/>
<path class="m" d="M413.0,146.9 424.0,144.0 413.2,141.2 402.2,144.0Z"/>
<path d="M391.0,146.9 402.2,144.0 391.6,141.3 380.4,144.1Z" fill="#ff2323"/>
<path class="m" d="M391.0,146.9 402.2,144.0 391.6,141.3 380.4,144.1Z"/>
<path d="M369.1,146.9 380.4,144.1 369.9,141.3 358.6,144.1Z" fill="#ff2323"/>
<path class="m" d="M369.1,146.9 380.4,144.1 369.9,141.3 358.6,144.1Z"/>
<path d="M347.1,146.9 358.6,144.1 348.2,141.3 336.7,144.1Z" fill="#ff2323"/>
<path class="m" d="M347.1,146.9 358.6,144.1 348.2,141.3 336.7,144.1Z"/>
<path d="M325.1,146.9 336.7,144.1 326.5,141.3 314.9,144.1Z" fill="#ff2323"/>
<path class="m" d="M325.1,146.9 336.7,144.1 326.5,141.3 314.9,144.1Z"/>
<path d="M303.2,147.0 314.9,144.1 304.8,141.3 293.0,144.1Z" fill="#ff2323"/>
<path class="m" d="M303.2,147.0 314.9,144.1 304.8,141.3 293.0,144.1Z"/>
<path d="M281.2,147.0 293.0,144.1 283.1,141.3 271.2,144.1Z" fill="#ff2323"/>
<path class="m" d="M281.2,147.0 293.0,144.1 283.1,141.3 271.2,144.1Z"/>
<path d="M259.2,147.0 271.2,144.1 261.3,141.4 249.4,144.2Z" fill="#ff2323"/>
<path class="m" d="M259.2,147.0 271.2,144.1 261.3,141.4 249.4,144.2Z"/>
<path d="M622.5,149.5 632.3,146.7 620.2,143.9 610.4,146.7Z" fill="#ff2323"/>
<path class="m" d="M622.5,149.5 632.3,146.7 620.2,143.9 610.4,146.7Z"/>
<path d="M600.4,149.6 610.4,146.7 598.4,143.9 588.4,146.7Z" fill="#ff2323"/>
<path class="m" d="M600.4,149.6 610.4,146.7 598.4,143.9 588.4,146.7Z"/>
<path d="M578.4,149.6 588.4,146.7 576.6,143.9 566.5,146.7Z" fill="#ff2323"/>
<path class="m" d="M578.4,149.6 588.4,146.7 576.6,143.9 566.5,146.7Z"/>
<path d="M556.3,149.6 566.5,146.7 554.8,143.9 544.6,146.7Z" fill="#ff2323"/>
<path class="m" d="M556.3,149.6 566.5,146.7 554.8,143.9 544.6,146.7Z"/>
<path d="M534.3,149.6 544.6,146.7 533.0,143.9 522.7,146.8Z" fill="#ff2323"/>
<path class="m" d="M534.3,149.6 544.6,146.7 533.0,143.9 522.7,146.8Z"/>
<path d="M512.2,149.6 522.7,146.8 511.2,143.9 500.7,146.8Z" fill="#ff2323"/>
<path class="m" d="M512.2,149.6 522.7,146.8 511.2,143.9 500.7,146.8Z"/>
<path d="M490.1,149.7 500.7,146.8 489.4,144.0 478.8,146.8Z" fill="#ff2323"/>
<path class="m" d="M490.1,149.7 500.7,146.8 489.4,144.0 478.8,146.8Z"/>
<path d="M468.0,149.7 478.8,146.8 467.6,144.0 456.9,146.8Z" fill="#ff2323"/>
<path class="m" d="M468.0,149.7 478.8,146.8 467.6,144.0 456.9,146.8Z"/>
<path d="M446.0,149.7 456.9,146.8 445.8,144.0 434.9,146.8Z" fill="#ff2323"/>
<path class="m" d="M446.0,149.7 456.9,146.8 445.8,144.0 434.9,146.8Z"/>
<path d="M423.9,149.7 434.9,146.8 424.0,144.0 413.0,146.9Z" fill="#ff2323"/>
<path class="m" d="M423.9,149.7 434.9,146.8 424.0,144.0 413.0,146.9Z"/>
<path d="M401.8,150.3 413.0,146.9 402.2,144.0 391.0,146.9Z" fill="#ff4848"/>
<path d="M402.1,146.0 405.8,145.0 402.2,144.0 398.5,145.0Z" fill="#ff5050"/>
<path d="M405.7,147.0 409.4,145.9 405.8,145.0 402.1,146.0Z" fill="#ff4f4f"/>
<path d="M394.6,148.0 398.3,147.0 394.8,145.9 391.0,146.9Z" fill="#ff4141"/>
<path d="M409.3,148.0 413.0,146.9 409.4,145.9 405.7,147.0Z" fill="#ff4f4f"/>
<path d="M398.2,149.2 401.9,148.1 398.3,147.0 394.6,148.0Z" fill="#ff4140"/>
<path d="M405.5,149.1 409.3,148.0 405.7,147.0 401.9,148.1Z" fill="#ff4847"/>
<path d="M401.8,150.3 405.5,149.1 401.9,148.1 398.2,149.2Z" fill="#ff4140"/>
<path class="n" d="M401.8,150.3 413.0,146.9 402.2,144.0 391.0,146.9Z"/>
<path d="M379.7,150.4 391.0,146.9 380.4,144.1 369.1,146.9Z" fill="#ff3433"/>
<path d="M380.2,146.0 383.9,145.0 380.4,144.1 376.6,145.0Z" fill="#ff3b3b"/>
<path d="M376.4,147.0 380.2,146.0 376.6,145.0 372.8,145.9Z" fill="#ff3434"/>
<path d="M383.7,147.0 387.5,145.9 383.9,145.0 380.2,146.0Z" fill="#ff3b3b"/>
<path d="M372.6,148.1 376.4,147.0 372.8,145.9 369.1,146.9Z" fill="#ff2c2c"/>
<path d="M387.3,148.0 391.0,146.9 387.5,145.9 383.7,147.0Z" fill="#ff3a3a"/>
<path d="M376.1,149.2 379.9,148.1 376.4,147.0 372.6,148.1Z" fill="#ff2d2c"/>
<path d="M379.7,150.4 383.5,149.2 379.9,148.1 376.1,149.2Z" fill="#ff2d2b"/>
<path class="n" d="M379.7,150.4 391.0,146.9 380.4,144.1 369.1,146.9Z"/>
<path d="M357.6,149.8 369.1,146.9 358.6,144.1 347.1,146.9Z" fill="#ff2323"/>
<path class="m" d="M357.6,149.8 369.1,146.9 358.6,144.1 347.1,146.9Z"/>
<path d="M335.5,149.8 347.1,146.9 336.7,144.1 325.1,146.9Z" fill="#ff2323"/>
<path class="m" d="M335.5,149.8 347.1,146.9 336.7,144.1 325.1,146.9Z"/>
<path d="M313.4,149.8 325.1,146.9 314.9,144.1 303.2,147.0Z" fill="#ff2323"/>
<path class="m" d="M313.4,149.8 325.1,146.9 314.9,144.1 303.2,147.0Z"/>
<path d="M291.3,149.8 303.2,147.0 293.0,144.1 281.2,147.0Z" fill="#ff2323"/>
<path class="m" d="M291.3,149.8 303.2,147.0 293.0,144.1 281.2,147.0Z"/>
<path d="M269.2,149.8 281.2,147.0 271.2,144.1 259.2,147.0Z" fill="#ff2323"/>
<path class="m" d="M269.2,149.8 281.2,147.0 271.2,144.1 259.2,147.0Z"/>
<path d="M247.0,149.9 259.2,147.0 249.4,144.2 237.2,147.0Z" fill="#ff2323"/>
<path class="m" d="M247.0,149.9 259.2,147.0 249.4,144.2 237.2,147.0Z"/>
<path d="M634.7,152.4 644.5,149.5 632.3,146.7 622.5,149.5Z" fill="#ff2323"/>
<path class="m" d="M634.7,152.4 644.5,149.5 632.3,146.7 622.5,149.5Z"/>
<path d="M612.6,152.4 622.5,149.5 610.4,146.7 600.4,149.6Z" fill="#ff2323"/>
<path class="m" d="M612.6,152.4 622.5,149.5 610.4,146.7 600.4,149.6Z"/>
<path d="M590.4,152.5 600.4,149.6 588.4,146.7 578.4,149.6Z" fill="#ff2323"/>
<path class="m" d="M590.4,152.5 600.4,149.6 588.4,146.7 578.4,149.6Z"/>
<path d="M568.2,152.5 578.4,149.6 566.5,146.7 556.3,149.6Z" fill="#ff2323"/>
<path class="m" d="M568.2,152.5 578.4,149.6 566.5,146.7 556.3,149.6Z"/>
<path d="M546.0,152.5 556.3,149.6 544.6,146.7 534.3,149.6Z" fill="#ff2323"/>
<path class="m" d="M546.0,152.5 556.3,149.6 544.6,146.7 534.3,149.6Z"/>
<path d="M523.8,152.5 534.3,149.6 522.7,146.8 512.2,149.6Z" fill="#ff2323"/>
<path class="m" d="M523.8,152.5 534.3,149.6 522.7,146.8 512.2,149.6Z"/>
<path d="M501.6,152.5 512.2,149.6 500.7,146.8 490.1,149.7Z" fill="#ff2323"/>
<path class="m" d="M501.6,152.5 512.2,149.6 500.7,146.8 490.1,149.7Z"/>
<path d="M479.4,152.6 490.1,149.7 478.8,146.8 468.0,149.7Z" fill="#ff2323"/>
<path class="m" d="M479.4,152.6 490.1,149.7 478.8,146.8 468.0,149.7Z"/>
<path d="M457.1,153.6 468.0,149.7 456.9,146.8 446.0,149.7Z" fill="#ff5f5f"/>
<path d="M453.4,152.3 457.1,151.1 453.3,149.9 449.7,151.0Z" fill="#ff605e"/>
<path d="M460.8,152.3 464.4,151.0 460.7,149.9 457.1,151.1Z" fill="#ff605e"/>
<path d="M457.1,153.6 460.8,152.3 457.1,151.1 453.4,152.3Z" fill="#ff615e"/>
<path class="n" d="M457.1,153.6 468.0,149.7 456.9,146.8 446.0,149.7Z"/>
<path d="M434.9,154.9 446.0,149.7 434.9,146.8 423.9,149.7Z" fill="#ff5c59"/>
<path d="M434.9,149.0 438.6,147.8 434.9,146.8 431.3,147.8Z" fill="#ff5f5f"/>
<path d="M431.2,150.2 434.9,149.0 431.3,147.8 427.6,148.8Z" fill="#ff5c5c"/>
<path d="M438.6,150.2 442.3,148.7 438.6,147.8 434.9,149.0Z" fill="#ff5f5f"/>
<path d="M427.6,151.4 431.2,150.2 427.6,148.8 423.9,149.7Z" fill="#ff5554"/>
<path d="M434.9,151.7 438.6,150.2 434.9,149.0 431.2,150.2Z" fill="#ff5d5b"/>
<path d="M442.3,151.4 446.0,149.7 442.3,148.7 438.6,150.2Z" fill="#ff605f"/>
<path d="M431.2,153.1 434.9,151.7 431.2,150.2 427.6,151.4Z" fill="#ff5753"/>
<path d="M438.6,153.1 442.3,151.4 438.6,150.2 434.9,151.7Z" fill="#ff5e5a"/>
<path d="M434.9,154.9 438.6,153.1 434.9,151.7 431.2,153.1Z" fill="#ff5952"/>
<path class="n" d="M434.9,154.9 446.0,149.7 434.9,146.8 423.9,149.7Z"/>
<path d="M412.7,155.4 423.9,149.7 413.0,146.9 401.8,150.3Z" fill="#ff4a46"/>
<path d="M412.9,149.2 416.6,147.8 413.0,146.9 409.3,148.0Z" fill="#ff4f4e"/>
<path d="M409.2,150.6 412.9,149.2 409.3,148.0 405.5,149.1Z" fill="#ff4947"/>
<path d="M416.5,150.4 420.2,148.8 416.6,147.8 412.9,149.2Z" fill="#ff4f4e"/>
<path d="M405.4,152.0 409.2,150.6 405.5,149.1 401.8,150.3Z" fill="#ff423f"/>
<path d="M412.8,152.1 416.5,150.4 412.9,149.2 409.2,150.6Z" fill="#ff4946"/>
<path d="M420.2,151.6 423.9,149.7 420.2,148.8 416.5,150.4Z" fill="#ff4f4d"/>
<path d="M409.1,153.7 412.8,152.1 409.2,150.6 405.4,152.0Z" fill="#ff443e"/>
<path d="M416.5,153.5 420.2,151.6 416.5,150.4 412.8,152.1Z" fill="#ff4a45"/>
<path d="M412.7,155.4 416.5,153.5 412.8,152.1 409.1,153.7Z" fill="#ff463d"/>
<path class="n" d="M412.7,155.4 423.9,149.7 413.0,146.9 401.8,150.3Z"/>
<path d="M390.5,155.3 401.8,150.3 391.0,146.9 379.7,150.4Z" fill="#ff3632"/>
<path d="M390.8,149.3 394.6,148.0 391.0,146.9 387.3,148.0Z" fill="#ff3a3a"/>
<path d="M387.1,150.7 390.8,149.3 387.3,148.0 383.5,149.2Z" fill="#ff3432"/>
<path d="M394.4,150.6 398.2,149.2 394.6,148.0 390.8,149.3Z" fill="#ff3b39"/>
<path d="M383.3,152.0 387.1,150.7 383.5,149.2 379.7,150.4Z" fill="#ff2e2b"/>
<path d="M398.0,152.0 401.8,150.3 398.2,149.2 394.4,150.6Z" fill="#ff3c38"/>
<path d="M386.9,153.6 390.7,152.1 387.1,150.7 383.3,152.0Z" fill="#ff302a"/>
<path d="M394.3,153.6 398.0,152.0 394.4,150.6 390.7,152.1Z" fill="#ff3731"/>
<path d="M390.5,155.3 394.3,153.6 390.7,152.1 386.9,153.6Z" fill="#ff332a"/>
<path class="n" d="M390.5,155.3 401.8,150.3 391.0,146.9 379.7,150.4Z"/>
<path d="M368.3,154.4 379.7,150.4 369.1,146.9 357.6,149.8Z" fill="#ff2623"/>
<path d="M368.8,149.1 372.6,148.1 369.1,146.9 365.3,147.8Z" fill="#ff2525"/>
<path d="M365.0,150.2 368.8,149.1 365.3,147.8 361.4,148.8Z" fill="#ff2423"/>
<path d="M372.3,150.4 376.1,149.2 372.6,148.1 368.8,149.1Z" fill="#ff2624"/>
<path d="M361.1,151.3 365.0,150.2 361.4,148.8 357.6,149.8Z" fill="#ff2423"/>
<path d="M368.5,151.6 372.3,150.4 368.8,149.1 365.0,150.2Z" fill="#ff2523"/>
<path d="M375.9,151.7 379.7,150.4 376.1,149.2 372.3,150.4Z" fill="#ff2724"/>
<path d="M372.1,153.0 375.9,151.7 372.3,150.4 368.5,151.6Z" fill="#ff2723"/>
<path d="M368.3,154.4 372.1,153.0 368.5,151.6 364.7,152.8Z" fill="#ff2923"/>
<path class="n" d="M368.3,154.4 379.7,150.4 369.1,146.9 357.6,149.8Z"/>
<path d="M346.0,152.7 357.6,149.8 347.1,146.9 335.5,149.8Z" fill="#ff2323"/>
<path d="M339.0,150.8 342.9,149.8 339.4,148.8 335.5,149.8Z" fill="#fe2222"/>
<path d="M342.5,151.7 346.4,150.8 342.9,149.8 339.0,150.8Z" fill="#fd2222"/>
<path d="M346.0,152.7 349.9,151.7 346.4,150.8 342.5,151.7Z" fill="#fd2121"/>
<path class="n" d="M346.0,152.7 357.6,149.8 347.1,146.9 335.5,149.8Z"/>
<path d="M323.8,152.7 335.5,149.8 325.1,146.9 313.4,149.8Z" fill="#ff2323"/>
<path class="m" d="M323.8,152.7 335.5,149.8 325.1,146.9 313.4,149.8Z"/>
<path d="M301.5,152.7 313.4,149.8 303.2,147.0 291.3,149.8Z" fill="#ff2323"/>
<path class="m" d="M301.5,152.7 313.4,149.8 303.2,147.0 291.3,149.8Z"/>
<path d="M279.3,152.7 291.3,149.8 281.2,147.0 269.2,149.8Z" fill="#ff2323"/>
<path class="m" d="M279.3,152.7 291.3,149.8 281.2,147.0 269.2,149.8Z"/>
<path d="M257.0,152.8 269.2,149.8 259.2,147.0 247.0,149.9Z" fill="#ff2323"/>
<path class="m" d="M257.0,152.8 269.2,149.8 259.2,147.0 247.0,149.9Z"/>
<path d="M234.7,152.8 247.0,149.9 237.2,147.0 224.9,149.9Z" fill="#ff2323"/>
<path class="m" d="M234.7,152.8 247.0,149.9 237.2,147.0 224.9,149.9Z"/>
<path d="M647.2,155.3 656.9,152.4 644.5,149.5 634.7,152.4Z" fill="#ff2323"/>
<path class="m" d="M647.2,155.3 656.9,152.4 644.5,149.5 634.7,152.4Z"/>
<path d="M624.8,155.4 634.7,152.4 622.5,149.5 612.6,152.4Z" fill="#ff2323"/>
<path class="m" d="M624.8,155.4 634.7,152.4 622.5,149.5 612.6,152.4Z"/>
<path d="M602.5,155.4 612.6,152.4 600.4,149.6 590.4,152.5Z" fill="#ff2323"/>
<path class="m" d="M602.5,155.4 612.6,152.4 600.4,149.6 590.4,152.5Z"/>
<path d="M580.2,155.4 590.4,152.5 578.4,149.6 568.2,152.5Z" fill="#ff2323"/>
<path class="m" d="M580.2,155.4 590.4,152.5 578.4,149.6 568.2,152.5Z"/>
<path d="M557.9,155.4 568.2,152.5 556.3,149.6 546.0,152.5Z" fill="#ff2323"/>
<path class="m" d="M557.9,155.4 568.2,152.5 556.3,149.6 546.0,152.5Z"/>
<path d="M535.5,155.4 546.0,152.5 534.3,149.6 523.8,152.5Z" fill="#ff2323"/>
<path class="m" d="M535.5,155.4 546.0,152.5 534.3,149.6 523.8,152.5Z"/>
<path d="M513.2,155.5 523.8,152.5 512.2,149.6 501.6,152.5Z" fill="#ff2323"/>
<path class="m" d="M513.2,155.5 523.8,152.5 512.2,149.6 501.6,152.5Z"/>
<path d="M490.8,157.5 501.6,152.5 490.1,149.7 479.4,152.6Z" fill="#ff605e"/>
<path d="M490.3,151.8 493.9,150.6 490.1,149.7 486.5,150.6Z" fill="#ff5f5f"/>
<path d="M486.8,153.0 490.3,151.8 486.5,150.6 483.0,151.6Z" fill="#ff5f5f"/>
<path d="M494.2,153.0 497.7,151.6 493.9,150.6 490.3,151.8Z" fill="#ff5f5f"/>
<path d="M483.2,154.2 486.8,153.0 483.0,151.6 479.4,152.6Z" fill="#ff605f"/>
<path d="M498.0,154.2 501.6,152.5 497.7,151.6 494.2,153.0Z" fill="#ff605f"/>
<path d="M487.0,155.9 490.6,154.4 486.8,153.0 483.2,154.2Z" fill="#ff615e"/>
<path d="M494.4,155.9 498.0,154.2 494.2,153.0 490.6,154.4Z" fill="#ff615e"/>
<path d="M490.8,157.5 494.4,155.9 490.6,154.4 487.0,155.9Z" fill="#ff635d"/>
<path class="n" d="M490.8,157.5 501.6,152.5 490.1,149.7 479.4,152.6Z"/>
<path d="M468.4,159.4 479.4,152.6 468.0,149.7 457.1,153.6Z" fill="#ff635d"/>
<path d="M468.2,152.2 471.8,150.6 468.0,149.7 464.4,151.0Z" fill="#ff5f5f"/>
<path d="M464.5,153.9 468.2,152.2 464.4,151.0 460.8,152.3Z" fill="#ff615e"/>
<path d="M472.0,153.5 475.6,151.6 471.8,150.6 468.2,152.2Z" fill="#ff605e"/>
<path d="M475.7,154.8 479.4,152.6 475.6,151.6 472.0,153.5Z" fill="#ff605e"/>
<path d="M464.7,157.4 468.3,155.5 464.5,153.9 460.9,155.5Z" fill="#ff655c"/>
<path d="M472.1,157.1 475.7,154.8 472.0,153.5 468.3,155.5Z" fill="#ff645d"/>
<path d="M468.4,159.4 472.1,157.1 468.3,155.5 464.7,157.4Z" fill="#ff685b"/>
<path class="n" d="M468.4,159.4 479.4,152.6 468.0,149.7 457.1,153.6Z"/>
<path d="M446.1,160.4 457.1,153.6 446.0,149.7 434.9,154.9Z" fill="#ff6057"/>
<path d="M446.0,152.9 449.7,151.0 446.0,149.7 442.3,151.4Z" fill="#ff615e"/>
<path d="M442.3,154.8 446.0,152.9 442.3,151.4 438.6,153.1Z" fill="#ff5f59"/>
<path d="M449.7,154.4 453.4,152.3 449.7,151.0 446.0,152.9Z" fill="#ff625e"/>
<path d="M438.6,156.7 442.3,154.8 438.6,153.1 434.9,154.9Z" fill="#ff5b51"/>
<path d="M453.5,155.8 457.1,153.6 453.4,152.3 449.7,154.4Z" fill="#ff635d"/>
<path d="M442.4,158.6 446.1,156.5 442.3,154.8 438.6,156.7Z" fill="#ff5d4f"/>
<path d="M449.8,158.1 453.5,155.8 449.7,154.4 446.1,156.5Z" fill="#ff6256"/>
<path d="M446.1,160.4 449.8,158.1 446.1,156.5 442.4,158.6Z" fill="#ff5f4e"/>
<path class="n" d="M446.1,160.4 457.1,153.6 446.0,149.7 434.9,154.9Z"/>
<path d="M423.8,160.8 434.9,154.9 423.9,149.7 412.7,155.4Z" fill="#ff4f43"/>
<path d="M423.8,153.3 427.6,151.4 423.9,149.7 420.2,151.6Z" fill="#ff504c"/>
<path d="M420.1,155.3 423.8,153.3 420.2,151.6 416.5,153.5Z" fill="#ff4c44"/>
<path d="M427.5,155.1 431.2,153.1 427.6,151.4 423.8,153.3Z" fill="#ff524b"/>
<path d="M416.4,157.2 420.1,155.3 416.5,153.5 412.7,155.4Z" fill="#ff493d"/>
<path d="M431.2,156.8 434.9,154.9 431.2,153.1 427.5,155.1Z" fill="#ff544a"/>
<path d="M420.1,159.0 423.8,157.0 420.1,155.3 416.4,157.2Z" fill="#ff4c3c"/>
<path d="M427.5,158.8 431.2,156.8 427.5,155.1 423.8,157.0Z" fill="#ff5142"/>
<path d="M423.8,160.8 427.5,158.8 423.8,157.0 420.1,159.0Z" fill="#ff4e3b"/>
<path class="n" d="M423.8,160.8 434.9,154.9 423.9,149.7 412.7,155.4Z"/>
<path d="M401.4,160.4 412.7,155.4 401.8,150.3 390.5,155.3Z" fill="#ff3c30"/>
<path d="M401.7,153.7 405.4,152.0 401.8,150.3 398.0,152.0Z" fill="#ff3d38"/>
<path d="M397.9,155.3 401.7,153.7 398.0,152.0 394.3,153.6Z" fill="#ff3930"/>
<path d="M405.3,155.4 409.1,153.7 405.4,152.0 401.7,153.7Z" fill="#ff4037"/>
<path d="M394.1,157.0 397.9,155.3 394.3,153.6 390.5,155.3Z" fill="#ff3529"/>
<path d="M409.0,157.1 412.7,155.4 409.1,153.7 405.3,155.4Z" fill="#ff4236"/>
<path d="M397.8,158.7 401.5,157.0 397.9,155.3 394.1,157.0Z" fill="#ff3829"/>
<path d="M405.2,158.7 409.0,157.1 405.3,155.4 401.5,157.0Z" fill="#ff3e2f"/>
<path d="M401.4,160.4 405.2,158.7 401.5,157.0 397.8,158.7Z" fill="#ff3b28"/>
<path class="n" d="M401.4,160.4 412.7,155.4 401.8,150.3 390.5,155.3Z"/>
<path d="M379.1,159.2 390.5,155.3 379.7,150.4 368.3,154.4Z" fill="#ff2d23"/>
<path d="M379.5,153.3 383.3,152.0 379.7,150.4 375.9,151.7Z" fill="#ff2823"/>
<path d="M375.7,154.6 379.5,153.3 375.9,151.7 372.1,153.0Z" fill="#ff2a23"/>
<path d="M383.1,154.9 386.9,153.6 383.3,152.0 379.5,153.3Z" fill="#ff2b23"/>
<path d="M371.9,156.0 375.7,154.6 372.1,153.0 368.3,154.4Z" fill="#ff2b23"/>
<path d="M386.7,156.6 390.5,155.3 386.9,153.6 383.1,154.9Z" fill="#ff2e23"/>
<path d="M375.4,157.6 379.3,156.3 375.7,154.6 371.9,156.0Z" fill="#ff2e23"/>
<path d="M382.9,157.9 386.7,156.6 383.1,154.9 379.3,156.3Z" fill="#ff3023"/>
<path d="M379.1,159.2 382.9,157.9 379.3,156.3 375.4,157.6Z" fill="#ff3123"/>
<path class="n" d="M379.1,159.2 390.5,155.3 379.7,150.4 368.3,154.4Z"/>
<path d="M356.7,157.3 368.3,154.4 357.6,149.8 346.0,152.7Z" fill="#ff2622"/>
<path d="M357.3,152.3 361.1,151.3 357.6,149.8 353.8,150.7Z" fill="#ff2423"/>
<path d="M353.4,153.3 357.3,152.3 353.8,150.7 349.9,151.7Z" fill="#ff2423"/>
<path d="M360.8,153.8 364.7,152.8 361.1,151.3 357.3,152.3Z" fill="#ff2723"/>
<path d="M349.5,154.2 353.4,153.3 349.9,151.7 346.0,152.7Z" fill="#fc2221"/>
<path d="M357.0,154.8 360.8,153.8 357.3,152.3 353.4,153.3Z" fill="#ff2723"/>
<path d="M364.4,155.3 368.3,154.4 364.7,152.8 360.8,153.8Z" fill="#ff2923"/>
<path d="M353.1,155.8 357.0,154.8 353.4,153.3 349.5,154.2Z" fill="#fb2521"/>
<path d="M360.5,156.3 364.4,155.3 360.8,153.8 357.0,154.8Z" fill="#ff2923"/>
<path d="M356.7,157.3 360.5,156.3 357.0,154.8 353.1,155.8Z" fill="#fb2721"/>
<path class="n" d="M356.7,157.3 368.3,154.4 357.6,149.8 346.0,152.7Z"/>
<path d="M334.2,155.6 346.0,152.7 335.5,149.8 323.8,152.7Z" fill="#f11d1d"/>
<path d="M335.1,151.7 339.0,150.8 335.5,149.8 331.6,150.8Z" fill="#f72020"/>
<path d="M338.6,152.7 342.5,151.7 339.0,150.8 335.1,151.7Z" fill="#f71f1f"/>
<path d="M327.2,153.7 331.2,152.7 327.7,151.7 323.8,152.7Z" fill="#eb1b1b"/>
<path d="M342.1,153.7 346.0,152.7 342.5,151.7 338.6,152.7Z" fill="#f61f1f"/>
<path d="M330.7,154.6 334.7,153.7 331.2,152.7 327.2,153.7Z" fill="#ea1b1b"/>
<path d="M338.2,154.7 342.1,153.7 338.6,152.7 334.7,153.7Z" fill="#f01d1d"/>
<path d="M334.2,155.6 338.2,154.7 334.7,153.7 330.7,154.6Z" fill="#ea1b1b"/>
<path class="n" d="M334.2,155.6 346.0,152.7 335.5,149.8 323.8,152.7Z"/>
<path d="M311.9,155.6 323.8,152.7 313.4,149.8 301.5,152.7Z" fill="#ff2323"/>
<path class="m" d="M311.9,155.6 323.8,152.7 313.4,149.8 301.5,152.7Z"/>
<path d="M289.5,155.7 301.5,152.7 291.3,149.8 279.3,152.7Z" fill="#ff2323"/>
<path class="m" d="M289.5,155.7 301.5,152.7 291.3,149.8 279.3,152.7Z"/>
<path d="M267.1,155.7 279.3,152.7 269.2,149.8 257.0,152.8Z" fill="#ff2323"/>
<path class="m" d="M267.1,155.7 279.3,152.7 269.2,149.8 257.0,152.8Z"/>
<path d="M244.7,155.7 257.0,152.8 247.0,149.9 234.7,152.8Z" fill="#ff2323"/>
<path class="m" d="M244.7,155.7 257.0,152.8 247.0,149.9 234.7,152.8Z"/>
<path d="M222.3,155.7 234.7,152.8 224.9,149.9 212.5,152.8Z" fill="#ff2323"/>
<path class="m" d="M222.3,155.7 234.7,152.8 224.9,149.9 212.5,152.8Z"/>
<path d="M637.3,158.3 647.2,155.3 634.7,152.4 624.8,155.4Z" fill="#ff2323"/>
<path class="m" d="M637.3,158.3 647.2,155.3 634.7,152.4 624.8,155.4Z"/>
<path d="M614.8,158.3 624.8,155.4 612.6,152.4 602.5,155.4Z" fill="#ff2323"/>
<path class="m" d="M614.8,158.3 624.8,155.4 612.6,152.4 602.5,155.4Z"/>
<path d="M592.3,158.4 602.5,155.4 590.4,152.5 580.2,155.4Z" fill="#ff2323"/>
<path class="m" d="M592.3,158.4 602.5,155.4 590.4,152.5 580.2,155.4Z"/>
<path d="M569.9,158.4 580.2,155.4 568.2,152.5 557.9,155.4Z" fill="#ff2323"/>
<path class="m" d="M569.9,158.4 580.2,155.4 568.2,152.5 557.9,155.4Z"/>
<path d="M547.4,158.4 557.9,155.4 546.0,152.5 535.5,155.4Z" fill="#ff2323"/>
<path class="m" d="M547.4,158.4 557.9,155.4 546.0,152.5 535.5,155.4Z"/>
<path d="M524.9,161.5 535.5,155.4 523.8,152.5 513.2,155.5Z" fill="#ff615e"/>
<path d="M524.1,154.8 527.7,153.5 523.8,152.5 520.3,153.5Z" fill="#ff5f5f"/>
<path d="M520.6,156.1 524.1,154.8 520.3,153.5 516.7,154.5Z" fill="#ff5f5f"/>
<path d="M528.1,156.1 531.6,154.5 527.7,153.5 524.1,154.8Z" fill="#ff5f5f"/>
<path d="M517.0,157.5 520.6,156.1 516.7,154.5 513.2,155.5Z" fill="#ff605e"/>
<path d="M532.0,157.4 535.5,155.4 531.6,154.5 528.1,156.1Z" fill="#ff605e"/>
<path d="M520.9,159.5 524.5,157.8 520.6,156.1 517.0,157.5Z" fill="#ff635d"/>
<path d="M528.4,159.5 532.0,157.4 528.1,156.1 524.5,157.8Z" fill="#ff635d"/>
<path d="M524.9,161.5 528.4,159.5 524.5,157.8 520.9,159.5Z" fill="#ff655c"/>
<path class="n" d="M524.9,161.5 535.5,155.4 523.8,152.5 513.2,155.5Z"/>
<path d="M502.3,163.8 513.2,155.5 501.6,152.5 490.8,157.5Z" fill="#ff655c"/>
<path d="M501.8,155.5 505.4,153.5 501.6,152.5 498.0,154.2Z" fill="#ff605e"/>
<path d="M498.2,157.6 501.8,155.5 498.0,154.2 494.4,155.9Z" fill="#ff635d"/>
<path d="M505.7,156.9 509.3,154.5 505.4,153.5 501.8,155.5Z" fill="#ff615e"/>
<path d="M494.6,159.6 498.2,157.6 494.4,155.9 490.8,157.5Z" fill="#ff665c"/>
<path d="M509.6,158.2 513.2,155.5 509.3,154.5 505.7,156.9Z" fill="#ff615e"/>
<path d="M498.5,161.7 502.1,159.3 498.2,157.6 494.6,159.6Z" fill="#ff685b"/>
<path d="M506.0,161.0 509.6,158.2 505.7,156.9 502.1,159.3Z" fill="#ff665c"/>
<path d="M502.3,163.8 506.0,161.0 502.1,159.3 498.5,161.7Z" fill="#ff6b59"/>
<path class="n" d="M502.3,163.8 513.2,155.5 501.6,152.5 490.8,157.5Z"/>
<path d="M479.9,165.4 490.8,157.5 479.4,152.6 468.4,159.4Z" fill="#ff695b"/>
<path d="M479.5,156.6 483.2,154.2 479.4,152.6 475.7,154.8Z" fill="#ff625e"/>
<path d="M475.9,159.0 479.5,156.6 475.7,154.8 472.1,157.1Z" fill="#ff665c"/>
<path d="M483.3,158.4 487.0,155.9 483.2,154.2 479.5,156.6Z" fill="#ff645d"/>
<path d="M472.2,161.4 475.9,159.0 472.1,157.1 468.4,159.4Z" fill="#ff6a5a"/>
<path d="M487.2,160.1 490.8,157.5 487.0,155.9 483.3,158.4Z" fill="#ff675c"/>
<path d="M476.0,163.4 479.7,160.9 475.9,159.0 472.2,161.4Z" fill="#ff6d59"/>
<path d="M483.5,162.8 487.2,160.1 483.3,158.4 479.7,160.9Z" fill="#ff6c59"/>
<path d="M479.9,165.4 483.5,162.8 479.7,160.9 476.0,163.4Z" fill="#ff7157"/>
<path class="n" d="M479.9,165.4 490.8,157.5 479.4,152.6 468.4,159.4Z"/>
<path d="M457.4,166.2 468.4,159.4 457.1,153.6 446.1,160.4Z" fill="#ff6753"/>
<path d="M457.2,157.8 460.9,155.5 457.1,153.6 453.5,155.8Z" fill="#ff655c"/>
<path d="M453.5,160.1 457.2,157.8 453.5,155.8 449.8,158.1Z" fill="#ff6455"/>
<path d="M461.0,159.7 464.7,157.4 460.9,155.5 457.2,157.8Z" fill="#ff685b"/>
<path d="M449.9,162.4 453.5,160.1 449.8,158.1 446.1,160.4Z" fill="#ff624d"/>
<path d="M464.8,161.6 468.4,159.4 464.7,157.4 461.0,159.7Z" fill="#ff6b59"/>
<path d="M453.6,164.3 457.3,162.0 453.5,160.1 449.9,162.4Z" fill="#ff654b"/>
<path d="M461.1,163.9 464.8,161.6 461.0,159.7 457.3,162.0Z" fill="#ff6a52"/>
<path d="M457.4,166.2 461.1,163.9 457.3,162.0 453.6,164.3Z" fill="#ff684a"/>
<path class="n" d="M457.4,166.2 468.4,159.4 457.1,153.6 446.1,160.4Z"/>
<path d="M434.9,166.3 446.1,160.4 434.9,154.9 423.8,160.8Z" fill="#ff5740"/>
<path d="M434.9,158.7 438.6,156.7 434.9,154.9 431.2,156.8Z" fill="#ff5749"/>
<path d="M431.2,160.6 434.9,158.7 431.2,156.8 427.5,158.8Z" fill="#ff5441"/>
<path d="M438.7,160.5 442.4,158.6 438.6,156.7 434.9,158.7Z" fill="#ff5a47"/>
<path d="M427.5,162.6 431.2,160.6 427.5,158.8 423.8,160.8Z" fill="#ff513a"/>
<path d="M442.4,162.4 446.1,160.4 442.4,158.6 438.7,160.5Z" fill="#ff5d46"/>
<path d="M431.2,164.5 434.9,162.5 431.2,160.6 427.5,162.6Z" fill="#ff5439"/>
<path d="M438.7,164.3 442.4,162.4 438.7,160.5 434.9,162.5Z" fill="#ff5a3f"/>
<path d="M434.9,166.3 438.7,164.3 434.9,162.5 431.2,164.5Z" fill="#ff5738"/>
<path class="n" d="M434.9,166.3 446.1,160.4 434.9,154.9 423.8,160.8Z"/>
<path d="M412.5,165.6 423.8,160.8 412.7,155.4 401.4,160.4Z" fill="#ff442e"/>
<path d="M412.6,158.8 416.4,157.2 412.7,155.4 409.0,157.1Z" fill="#ff4535"/>
<path d="M408.9,160.5 412.6,158.8 409.0,157.1 405.2,158.7Z" fill="#ff412e"/>
<path d="M416.3,160.6 420.1,159.0 416.4,157.2 412.6,158.8Z" fill="#ff4834"/>
<path d="M405.1,162.1 408.9,160.5 405.2,158.7 401.4,160.4Z" fill="#ff3d28"/>
<path d="M420.0,162.4 423.8,160.8 420.1,159.0 416.3,160.6Z" fill="#ff4b34"/>
<path d="M408.8,163.9 412.6,162.2 408.9,160.5 405.1,162.1Z" fill="#ff4027"/>
<path d="M416.2,164.0 420.0,162.4 416.3,160.6 412.6,162.2Z" fill="#ff472d"/>
<path d="M412.5,165.6 416.2,164.0 412.6,162.2 408.8,163.9Z" fill="#ff4327"/>
<path class="n" d="M412.5,165.6 423.8,160.8 412.7,155.4 401.4,160.4Z"/>
<path d="M390.0,164.2 401.4,160.4 390.5,155.3 379.1,159.2Z" fill="#ff3623"/>
<path d="M390.3,158.3 394.1,157.0 390.5,155.3 386.7,156.6Z" fill="#ff3123"/>
<path d="M386.5,159.6 390.3,158.3 386.7,156.6 382.9,157.9Z" fill="#ff3323"/>
<path d="M394.0,160.0 397.8,158.7 394.1,157.0 390.3,158.3Z" fill="#ff3423"/>
<path d="M382.7,160.9 386.5,159.6 382.9,157.9 379.1,159.2Z" fill="#ff3423"/>
<path d="M397.6,161.7 401.4,160.4 397.8,158.7 394.0,160.0Z" fill="#ff3823"/>
<path d="M386.3,162.6 390.2,161.3 386.5,159.6 382.7,160.9Z" fill="#ff3723"/>
<path d="M393.8,162.9 397.6,161.7 394.0,160.0 390.2,161.3Z" fill="#ff3923"/>
<path d="M390.0,164.2 393.8,162.9 390.2,161.3 386.3,162.6Z" fill="#ff3a23"/>
<path class="n" d="M390.0,164.2 401.4,160.4 390.5,155.3 379.1,159.2Z"/>
<path d="M367.5,162.1 379.1,159.2 368.3,154.4 356.7,157.3Z" fill="#fe2e22"/>
<path d="M368.0,156.9 371.9,156.0 368.3,154.4 364.4,155.3Z" fill="#ff2c23"/>
<path d="M364.1,157.9 368.0,156.9 364.4,155.3 360.5,156.3Z" fill="#ff2c23"/>
<path d="M371.6,158.6 375.4,157.6 371.9,156.0 368.0,156.9Z" fill="#ff2f23"/>
<path d="M360.2,158.9 364.1,157.9 360.5,156.3 356.7,157.3Z" fill="#fa2921"/>
<path d="M367.7,159.5 371.6,158.6 368.0,156.9 364.1,157.9Z" fill="#ff2e23"/>
<path d="M375.2,160.2 379.1,159.2 375.4,157.6 371.6,158.6Z" fill="#ff3223"/>
<path d="M363.8,160.5 367.7,159.5 364.1,157.9 360.2,158.9Z" fill="#f92c20"/>
<path d="M371.3,161.1 375.2,160.2 371.6,158.6 367.7,159.5Z" fill="#ff3122"/>
<path d="M367.5,162.1 371.3,161.1 367.7,159.5 363.8,160.5Z" fill="#f92e20"/>
<path class="n" d="M367.5,162.1 379.1,159.2 368.3,154.4 356.7,157.3Z"/>
<path d="M344.9,159.2 356.7,157.3 346.0,152.7 334.2,155.6Z" fill="#ef1f1d"/>
<path d="M345.6,155.1 349.5,154.2 346.0,152.7 342.1,153.7Z" fill="#f6201f"/>
<path d="M341.7,155.9 345.6,155.1 342.1,153.7 338.2,154.7Z" fill="#ef1d1d"/>
<path d="M349.2,156.5 353.1,155.8 349.5,154.2 345.6,155.1Z" fill="#f5221f"/>
<path d="M337.8,156.8 341.7,155.9 338.2,154.7 334.2,155.6Z" fill="#e91b1b"/>
<path d="M352.8,157.9 356.7,157.3 353.1,155.8 349.2,156.5Z" fill="#f4241f"/>
<path d="M341.3,158.0 345.3,157.2 341.7,155.9 337.8,156.8Z" fill="#e81c1a"/>
<path d="M348.8,158.6 352.8,157.9 349.2,156.5 345.3,157.2Z" fill="#ee201c"/>
<path d="M344.9,159.2 348.8,158.6 345.3,157.2 341.3,158.0Z" fill="#e81d1a"/>
<path class="n" d="M344.9,159.2 356.7,157.3 346.0,152.7 334.2,155.6Z"/>
<path d="M322.3,158.6 334.2,155.6 323.8,152.7 311.9,155.6Z" fill="#ff2323"/>
<path class="m" d="M322.3,158.6 334.2,155.6 323.8,152.7 311.9,155.6Z"/>
<path d="M299.8,158.6 311.9,155.6 301.5,152.7 289.5,155.7Z" fill="#ff2323"/>
<path class="m" d="M299.8,158.6 311.9,155.6 301.5,152.7 289.5,155.7Z"/>
<path d="M277.3,158.7 289.5,155.7 279.3,152.7 267.1,155.7Z" fill="#ff2323"/>
<path class="m" d="M277.3,158.7 289.5,155.7 279.3,152.7 267.1,155.7Z"/>
<path d="M254.7,158.7 267.1,155.7 257.0,152.8 244.7,155.7Z" fill="#ff2323"/>
<path class="m" d="M254.7,158.7 267.1,155.7 257.0,152.8 244.7,155.7Z"/>
<path d="M232.2,158.7 244.7,155.7 234.7,152.8 222.3,155.7Z" fill="#ff2323"/>
<path class="m" d="M232.2,158.7 244.7,155.7 234.7,152.8 222.3,155.7Z"/>
<path d="M627.3,161.3 637.3,158.3 624.8,155.4 614.8,158.3Z" fill="#ff2323"/>
<path class="m" d="M627.3,161.3 637.3,158.3 624.8,155.4 614.8,158.3Z"/>
<path d="M604.7,161.4 614.8,158.3 602.5,155.4 592.3,158.4Z" fill="#ff2323"/>
<path class="m" d="M604.7,161.4 614.8,158.3 602.5,155.4 592.3,158.4Z"/>
<path d="M582.0,161.7 592.3,158.4 580.2,155.4 569.9,158.4Z" fill="#ff5f5f"/>
<path class="n" d="M582.0,161.7 592.3,158.4 580.2,155.4 569.9,158.4Z"/>
<path d="M559.3,165.3 569.9,158.4 557.9,155.4 547.4,158.4Z" fill="#ff625e"/>
<path d="M558.4,157.8 561.8,156.4 557.9,155.4 554.4,156.4Z" fill="#ff5f5f"/>
<path d="M554.9,159.3 558.4,157.8 554.4,156.4 550.9,157.4Z" fill="#ff605f"/>
<path d="M562.4,159.3 565.8,157.4 561.8,156.4 558.4,157.8Z" fill="#ff605f"/>
<path d="M551.4,160.7 554.9,159.3 550.9,157.4 547.4,158.4Z" fill="#ff605e"/>
<path d="M566.4,160.7 569.9,158.4 565.8,157.4 562.4,159.3Z" fill="#ff605e"/>
<path d="M555.3,163.0 558.9,161.1 554.9,159.3 551.4,160.7Z" fill="#ff645d"/>
<path d="M562.9,163.0 566.4,160.7 562.4,159.3 558.9,161.1Z" fill="#ff645d"/>
<path d="M559.3,165.3 562.9,163.0 558.9,161.1 555.3,163.0Z" fill="#ff675b"/>
<path class="n" d="M559.3,165.3 569.9,158.4 557.9,155.4 547.4,158.4Z"/>
<path d="M536.7,168.2 547.4,158.4 535.5,155.4 524.9,161.5Z" fill="#ff665c"/>
<path d="M535.9,158.8 539.5,156.4 535.5,155.4 532.0,157.4Z" fill="#ff615e"/>
<path d="M532.3,161.3 535.9,158.8 532.0,157.4 528.4,159.5Z" fill="#ff645c"/>
<path d="M539.9,160.2 543.4,157.4 539.5,156.4 535.9,158.8Z" fill="#ff615e"/>
<path d="M528.8,163.7 532.3,161.3 528.4,159.5 524.9,161.5Z" fill="#ff685b"/>
<path d="M543.8,161.6 547.4,158.4 543.4,157.4 539.9,160.2Z" fill="#ff625e"/>
<path d="M532.7,165.9 536.3,163.1 532.3,161.3 528.8,163.7Z" fill="#ff6c59"/>
<path d="M540.2,164.9 543.8,161.6 539.9,160.2 536.3,163.1Z" fill="#ff685b"/>
<path d="M536.7,168.2 540.2,164.9 536.3,163.1 532.7,165.9Z" fill="#ff6f58"/>
<path class="n" d="M536.7,168.2 547.4,158.4 535.5,155.4 524.9,161.5Z"/>
<path d="M514.0,170.3 524.9,161.5 513.2,155.5 502.3,163.8Z" fill="#ff6c59"/>
<path d="M513.5,160.3 517.0,157.5 513.2,155.5 509.6,158.2Z" fill="#ff635d"/>
<path d="M509.8,163.1 513.5,160.3 509.6,158.2 506.0,161.0Z" fill="#ff695b"/>
<path d="M517.3,162.3 520.9,159.5 517.0,157.5 513.5,160.3Z" fill="#ff665c"/>
<path d="M506.2,165.9 509.8,163.1 506.0,161.0 502.3,163.8Z" fill="#ff6f58"/>
<path d="M521.3,164.4 524.9,161.5 520.9,159.5 517.3,162.3Z" fill="#ff6a5a"/>
<path d="M510.1,168.1 513.7,165.2 509.8,163.1 506.2,165.9Z" fill="#ff7256"/>
<path d="M517.6,167.3 521.3,164.4 517.3,162.3 513.7,165.2Z" fill="#ff7058"/>
<path d="M514.0,170.3 517.6,167.3 513.7,165.2 510.1,168.1Z" fill="#ff7655"/>
<path class="n" d="M514.0,170.3 524.9,161.5 513.2,155.5 502.3,163.8Z"/>
<path d="M491.4,171.6 502.3,163.8 490.8,157.5 479.9,165.4Z" fill="#ff7257"/>
<path d="M491.0,162.2 494.6,159.6 490.8,157.5 487.2,160.1Z" fill="#ff6a5a"/>
<path d="M487.4,164.8 491.0,162.2 487.2,160.1 483.5,162.8Z" fill="#ff6f58"/>
<path d="M494.9,164.3 498.5,161.7 494.6,159.6 491.0,162.2Z" fill="#ff6d59"/>
<path d="M483.7,167.4 487.4,164.8 483.5,162.8 479.9,165.4Z" fill="#ff7456"/>
<path d="M498.7,166.4 502.3,163.8 498.5,161.7 494.9,164.3Z" fill="#ff7057"/>
<path d="M487.6,169.5 491.2,166.9 487.4,164.8 483.7,167.4Z" fill="#ff7754"/>
<path d="M495.1,169.0 498.7,166.4 494.9,164.3 491.2,166.9Z" fill="#ff7555"/>
<path d="M491.4,171.6 495.1,169.0 491.2,166.9 487.6,169.5Z" fill="#ff7a53"/>
<path class="n" d="M491.4,171.6 502.3,163.8 490.8,157.5 479.9,165.4Z"/>
<path d="M468.8,172.2 479.9,165.4 468.4,159.4 457.4,166.2Z" fill="#ff6f4f"/>
<path d="M468.6,163.6 472.2,161.4 468.4,159.4 464.8,161.6Z" fill="#ff6f58"/>
<path d="M464.9,165.9 468.6,163.6 464.8,161.6 461.1,163.9Z" fill="#ff6c50"/>
<path d="M472.4,165.6 476.0,163.4 472.2,161.4 468.6,163.6Z" fill="#ff7156"/>
<path d="M461.2,168.2 464.9,165.9 461.1,163.9 457.4,166.2Z" fill="#ff6b48"/>
<path d="M468.7,167.9 472.4,165.6 468.6,163.6 464.9,165.9Z" fill="#ff6f4e"/>
<path d="M476.2,167.6 479.9,165.4 476.0,163.4 472.4,165.6Z" fill="#ff7455"/>
<path d="M465.0,170.2 468.7,167.9 464.9,165.9 461.2,168.2Z" fill="#ff6e47"/>
<path d="M472.5,169.9 476.2,167.6 472.4,165.6 468.7,167.9Z" fill="#ff724d"/>
<path d="M468.8,172.2 472.5,169.9 468.7,167.9 465.0,170.2Z" fill="#ff7146"/>
<path class="n" d="M468.8,172.2 479.9,165.4 468.4,159.4 457.4,166.2Z"/>
<path d="M446.2,172.0 457.4,166.2 446.1,160.4 434.9,166.3Z" fill="#ff603d"/>
<path d="M446.1,164.3 449.9,162.4 446.1,160.4 442.4,162.4Z" fill="#ff5f45"/>
<path d="M442.4,166.3 446.1,164.3 442.4,162.4 438.7,164.3Z" fill="#ff5d3e"/>
<path d="M449.9,166.2 453.6,164.3 449.9,162.4 446.1,164.3Z" fill="#ff6244"/>
<path d="M438.7,168.2 442.4,166.3 438.7,164.3 434.9,166.3Z" fill="#ff5a37"/>
<path d="M453.7,168.1 457.4,166.2 453.6,164.3 449.9,166.2Z" fill="#ff6542"/>
<path d="M442.5,170.1 446.2,168.2 442.4,166.3 438.7,168.2Z" fill="#ff5d36"/>
<path d="M450.0,170.1 453.7,168.1 449.9,166.2 446.2,168.2Z" fill="#ff633c"/>
<path d="M446.2,172.0 450.0,170.1 446.2,168.2 442.5,170.1Z" fill="#ff6135"/>
<path class="n" d="M446.2,172.0 457.4,166.2 446.1,160.4 434.9,166.3Z"/>
<path d="M423.6,171.1 434.9,166.3 423.8,160.8 412.5,165.6Z" fill="#ff4d2c"/>
<path d="M423.7,164.2 427.5,162.6 423.8,160.8 420.0,162.4Z" fill="#ff4e33"/>
<path d="M420.0,165.8 423.7,164.2 420.0,162.4 416.2,164.0Z" fill="#ff4a2c"/>
<path d="M427.5,166.1 431.2,164.5 427.5,162.6 423.7,164.2Z" fill="#ff5132"/>
<path d="M416.2,167.5 420.0,165.8 416.2,164.0 412.5,165.6Z" fill="#ff4726"/>
<path d="M431.2,167.9 434.9,166.3 431.2,164.5 427.5,166.1Z" fill="#ff5431"/>
<path d="M419.9,169.3 423.7,167.7 420.0,165.8 416.2,167.5Z" fill="#ff4a26"/>
<path d="M427.4,169.5 431.2,167.9 427.5,166.1 423.7,167.7Z" fill="#ff512b"/>
<path d="M423.6,171.1 427.4,169.5 423.7,167.7 419.9,169.3Z" fill="#ff4d25"/>
<path class="n" d="M423.6,171.1 434.9,166.3 423.8,160.8 412.5,165.6Z"/>
<path d="M401.0,169.5 412.5,165.6 401.4,160.4 390.0,164.2Z" fill="#ff4023"/>
<path d="M401.3,163.4 405.1,162.1 401.4,160.4 397.6,161.7Z" fill="#ff3b23"/>
<path d="M397.5,164.7 401.3,163.4 397.6,161.7 393.8,162.9Z" fill="#ff3c23"/>
<path d="M405.0,165.2 408.8,163.9 405.1,162.1 401.3,163.4Z" fill="#ff3f23"/>
<path d="M393.6,166.0 397.5,164.7 393.8,162.9 390.0,164.2Z" fill="#ff3e23"/>
<path d="M408.7,166.9 412.5,165.6 408.8,163.9 405.0,165.2Z" fill="#ff4223"/>
<path d="M397.3,167.7 401.2,166.4 397.5,164.7 393.6,166.0Z" fill="#ff4123"/>
<path d="M404.9,168.2 408.7,166.9 405.0,165.2 401.2,166.4Z" fill="#ff4323"/>
<path d="M401.0,169.5 404.9,168.2 401.2,166.4 397.3,167.7Z" fill="#ff4423"/>
<path class="n" d="M401.0,169.5 412.5,165.6 401.4,160.4 390.0,164.2Z"/>
<path d="M378.4,167.1 390.0,164.2 379.1,159.2 367.5,162.1Z" fill="#fd3622"/>
<path d="M378.8,161.8 382.7,160.9 379.1,159.2 375.2,160.2Z" fill="#ff3523"/>
<path d="M375.0,162.8 378.8,161.8 375.2,160.2 371.3,161.1Z" fill="#fe3422"/>
<path d="M382.5,163.5 386.3,162.6 382.7,160.9 378.8,161.8Z" fill="#ff3823"/>
<path d="M371.1,163.7 375.0,162.8 371.3,161.1 367.5,162.1Z" fill="#f83120"/>
<path d="M378.6,164.4 382.5,163.5 378.8,161.8 375.0,162.8Z" fill="#fe3622"/>
<path d="M386.1,165.2 390.0,164.2 386.3,162.6 382.5,163.5Z" fill="#ff3b23"/>
<path d="M374.7,165.4 378.6,164.4 375.0,162.8 371.1,163.7Z" fill="#f73420"/>
<path d="M382.3,166.1 386.1,165.2 382.5,163.5 378.6,164.4Z" fill="#fd3922"/>
<path d="M378.4,167.1 382.3,166.1 378.6,164.4 374.7,165.4Z" fill="#f7371f"/>
<path class="n" d="M378.4,167.1 390.0,164.2 379.1,159.2 367.5,162.1Z"/>
<path d="M355.7,163.9 367.5,162.1 356.7,157.3 344.9,159.2Z" fill="#ed251c"/>
<path d="M356.3,159.5 360.2,158.9 356.7,157.3 352.8,157.9Z" fill="#f4261e"/>
<path d="M352.4,160.1 356.3,159.5 352.8,157.9 348.8,158.6Z" fill="#ed221c"/>
<path d="M359.9,161.1 363.8,160.5 360.2,158.9 356.3,159.5Z" fill="#f3291e"/>
<path d="M348.5,160.7 352.4,160.1 348.8,158.6 344.9,159.2Z" fill="#e71e1a"/>
<path d="M363.5,162.7 367.5,162.1 363.8,160.5 359.9,161.1Z" fill="#f22b1e"/>
<path d="M352.1,162.3 356.0,161.7 352.4,160.1 348.5,160.7Z" fill="#e6211a"/>
<path d="M359.6,163.3 363.5,162.7 359.9,161.1 356.0,161.7Z" fill="#ec271c"/>
<path d="M355.7,163.9 359.6,163.3 356.0,161.7 352.1,162.3Z" fill="#e62319"/>
<path class="n" d="M355.7,163.9 367.5,162.1 356.7,157.3 344.9,159.2Z"/>
<path d="M333.0,161.6 344.9,159.2 334.2,155.6 322.3,158.6Z" fill="#dc1616"/>
<path d="M333.8,157.7 337.8,156.8 334.2,155.6 330.3,156.6Z" fill="#e31818"/>
<path d="M337.4,158.9 341.3,158.0 337.8,156.8 333.8,157.7Z" fill="#e21918"/>
<path d="M325.9,159.6 329.9,158.7 326.3,157.6 322.3,158.6Z" fill="#d61414"/>
<path d="M340.9,160.0 344.9,159.2 341.3,158.0 337.4,158.9Z" fill="#e11918"/>
<path d="M329.4,160.6 333.4,159.7 329.9,158.7 325.9,159.6Z" fill="#d51414"/>
<path d="M337.0,160.8 340.9,160.0 337.4,158.9 333.4,159.7Z" fill="#db1616"/>
<path d="M333.0,161.6 337.0,160.8 333.4,159.7 329.4,160.6Z" fill="#d51313"/>
<path class="n" d="M333.0,161.6 344.9,159.2 334.2,155.6 322.3,158.6Z"/>
<path d="M310.3,161.6 322.3,158.6 311.9,155.6 299.8,158.6Z" fill="#ff2323"/>
<path class="m" d="M310.3,161.6 322.3,158.6 311.9,155.6 299.8,158.6Z"/>
<path d="M287.6,161.7 299.8,158.6 289.5,155.7 277.3,158.7Z" fill="#ff2323"/>
<path class="m" d="M287.6,161.7 299.8,158.6 289.5,155.7 277.3,158.7Z"/>
<path d="M264.9,161.7 277.3,158.7 267.1,155.7 254.7,158.7Z" fill="#ff2323"/>
<path class="m" d="M264.9,161.7 277.3,158.7 267.1,155.7 254.7,158.7Z"/>
<path d="M242.2,161.7 254.7,158.7 244.7,155.7 232.2,158.7Z" fill="#ff2323"/>
<path class="m" d="M242.2,161.7 254.7,158.7 244.7,155.7 232.2,158.7Z"/>
<path d="M617.1,164.9 627.3,161.3 614.8,158.3 604.7,161.4Z" fill="#ff5f5f"/>
<path d="M617.1,164.9 620.5,163.7 616.3,162.6 612.9,163.7Z" fill="#ff605e"/>
<path class="n" d="M617.1,164.9 627.3,161.3 614.8,158.3 604.7,161.4Z"/>
<path d="M594.2,169.1 604.7,161.4 592.3,158.4 582.0,161.7Z" fill="#ff635d"/>
<path d="M593.0,161.0 596.4,159.4 592.3,158.4 588.9,159.5Z" fill="#ff5f5f"/>
<path d="M589.5,162.5 593.0,161.0 588.9,159.5 585.5,160.6Z" fill="#ff605e"/>
<path d="M597.1,162.4 600.5,160.4 596.4,159.4 593.0,161.0Z" fill="#ff605e"/>
<path d="M586.1,164.2 589.5,162.5 585.5,160.6 582.0,161.7Z" fill="#ff615e"/>
<path d="M601.2,163.9 604.7,161.4 600.5,160.4 597.1,162.4Z" fill="#ff615e"/>
<path d="M590.1,166.6 593.6,164.5 589.5,162.5 586.1,164.2Z" fill="#ff655c"/>
<path d="M597.7,166.5 601.2,163.9 597.1,162.4 593.6,164.5Z" fill="#ff655c"/>
<path d="M594.2,169.1 597.7,166.5 593.6,164.5 590.1,166.6Z" fill="#ff695b"/>
<path class="n" d="M594.2,169.1 604.7,161.4 592.3,158.4 582.0,161.7Z"/>
<path d="M571.4,172.4 582.0,161.7 569.9,158.4 559.3,165.3Z" fill="#ff685b"/>
<path d="M570.4,162.2 573.9,159.5 569.9,158.4 566.4,160.7Z" fill="#ff615e"/>
<path d="M566.9,164.9 570.4,162.2 566.4,160.7 562.9,163.0Z" fill="#ff665c"/>
<path d="M574.4,163.7 578.0,160.6 573.9,159.5 570.4,162.2Z" fill="#ff625d"/>
<path d="M563.3,167.7 566.9,164.9 562.9,163.0 559.3,165.3Z" fill="#ff6b5a"/>
<path d="M578.5,165.3 582.0,161.7 578.0,160.6 574.4,163.7Z" fill="#ff635d"/>
<path d="M567.3,170.1 570.9,166.9 566.9,164.9 563.3,167.7Z" fill="#ff6e58"/>
<path d="M574.9,168.9 578.5,165.3 574.4,163.7 570.9,166.9Z" fill="#ff6b5a"/>
<path d="M571.4,172.4 574.9,168.9 570.9,166.9 567.3,170.1Z" fill="#ff7257"/>
<path class="n" d="M571.4,172.4 582.0,161.7 569.9,158.4 559.3,165.3Z"/>
<path d="M548.6,175.1 559.3,165.3 547.4,158.4 536.7,168.2Z" fill="#ff6f58"/>
<path d="M547.8,163.9 551.4,160.7 547.4,158.4 543.8,161.6Z" fill="#ff645d"/>
<path d="M544.2,167.2 547.8,163.9 543.8,161.6 540.2,164.9Z" fill="#ff6b59"/>
<path d="M551.8,166.2 555.3,163.0 551.4,160.7 547.8,163.9Z" fill="#ff685b"/>
<path d="M540.6,170.4 544.2,167.2 540.2,164.9 536.7,168.2Z" fill="#ff7256"/>
<path d="M555.8,168.5 559.3,165.3 555.3,163.0 551.8,166.2Z" fill="#ff6c59"/>
<path d="M544.6,172.8 548.2,169.5 544.2,167.2 540.6,170.4Z" fill="#ff7655"/>
<path d="M552.2,171.8 555.8,168.5 551.8,166.2 548.2,169.5Z" fill="#ff7356"/>
<path d="M548.6,175.1 552.2,171.8 548.2,169.5 544.6,172.8Z" fill="#ff7a53"/>
<path class="n" d="M548.6,175.1 559.3,165.3 547.4,158.4 536.7,168.2Z"/>
<path d="M525.8,176.9 536.7,168.2 524.9,161.5 514.0,170.3Z" fill="#ff7754"/>
<path d="M525.2,166.6 528.8,163.7 524.9,161.5 521.3,164.4Z" fill="#ff6d59"/>
<path d="M521.6,169.5 525.2,166.6 521.3,164.4 517.6,167.3Z" fill="#ff7356"/>
<path d="M529.1,168.8 532.7,165.9 528.8,163.7 525.2,166.6Z" fill="#ff7157"/>
<path d="M517.9,172.5 521.6,169.5 517.6,167.3 514.0,170.3Z" fill="#ff7953"/>
<path d="M533.1,171.1 536.7,168.2 532.7,165.9 529.1,168.8Z" fill="#ff7555"/>
<path d="M521.9,174.7 525.5,171.8 521.6,169.5 517.9,172.5Z" fill="#ff7d52"/>
<path d="M529.4,174.0 533.1,171.1 529.1,168.8 525.5,171.8Z" fill="#ff7b53"/>
<path d="M525.8,176.9 529.4,174.0 525.5,171.8 521.9,174.7Z" fill="#ff8150"/>
<path class="n" d="M525.8,176.9 536.7,168.2 524.9,161.5 514.0,170.3Z"/>
<path d="M503.1,178.0 514.0,170.3 502.3,163.8 491.4,171.6Z" fill="#ff7c52"/>
<path d="M502.6,168.5 506.2,165.9 502.3,163.8 498.7,166.4Z" fill="#ff7456"/>
<path d="M499.0,171.1 502.6,168.5 498.7,166.4 495.1,169.0Z" fill="#ff7954"/>
<path d="M506.5,170.7 510.1,168.1 506.2,165.9 502.6,168.5Z" fill="#ff7854"/>
<path d="M495.3,173.7 499.0,171.1 495.1,169.0 491.4,171.6Z" fill="#ff7e51"/>
<path d="M510.4,172.8 514.0,170.3 510.1,168.1 506.5,170.7Z" fill="#ff7b53"/>
<path d="M499.2,175.9 502.8,173.3 499.0,171.1 495.3,173.7Z" fill="#ff8150"/>
<path d="M506.8,175.4 510.4,172.8 506.5,170.7 502.8,173.3Z" fill="#ff8050"/>
<path d="M503.1,178.0 506.8,175.4 502.8,173.3 499.2,175.9Z" fill="#ff854e"/>
<path class="n" d="M503.1,178.0 514.0,170.3 502.3,163.8 491.4,171.6Z"/>
<path d="M480.4,178.4 491.4,171.6 479.9,165.4 468.8,172.2Z" fill="#ff794a"/>
<path d="M480.0,169.7 483.7,167.4 479.9,165.4 476.2,167.6Z" fill="#ff7753"/>
<path d="M476.4,172.0 480.0,169.7 476.2,167.6 472.5,169.9Z" fill="#ff754b"/>
<path d="M483.9,171.8 487.6,169.5 483.7,167.4 480.0,169.7Z" fill="#ff7a51"/>
<path d="M472.7,174.2 476.4,172.0 472.5,169.9 468.8,172.2Z" fill="#ff7444"/>
<path d="M480.2,174.0 483.9,171.8 480.0,169.7 476.4,172.0Z" fill="#ff784a"/>
<path d="M487.8,173.8 491.4,171.6 487.6,169.5 483.9,171.8Z" fill="#ff7d4f"/>
<path d="M476.5,176.3 480.2,174.0 476.4,172.0 472.7,174.2Z" fill="#ff7743"/>
<path d="M484.1,176.1 487.8,173.8 483.9,171.8 480.2,174.0Z" fill="#ff7c48"/>
<path d="M480.4,178.4 484.1,176.1 480.2,174.0 476.5,176.3Z" fill="#ff7b41"/>
<path class="n" d="M480.4,178.4 491.4,171.6 479.9,165.4 468.8,172.2Z"/>
<path d="M457.7,178.0 468.8,172.2 457.4,166.2 446.2,172.0Z" fill="#ff6a3a"/>
<path d="M457.5,170.1 461.2,168.2 457.4,166.2 453.7,168.1Z" fill="#ff6941"/>
<path d="M453.8,172.1 457.5,170.1 453.7,168.1 450.0,170.1Z" fill="#ff663b"/>
<path d="M461.3,172.1 465.0,170.2 461.2,168.2 457.5,170.1Z" fill="#ff6c40"/>
<path d="M450.0,174.0 453.8,172.1 450.0,170.1 446.2,172.0Z" fill="#ff6434"/>
<path d="M457.6,174.0 461.3,172.1 457.5,170.1 453.8,172.1Z" fill="#ff693a"/>
<path d="M465.1,174.1 468.8,172.2 465.0,170.2 461.3,172.1Z" fill="#ff6f3f"/>
<path d="M453.8,176.0 457.6,174.0 453.8,172.1 450.0,174.0Z" fill="#ff6734"/>
<path d="M461.4,176.0 465.1,174.1 461.3,172.1 457.6,174.0Z" fill="#ff6d39"/>
<path d="M457.7,178.0 461.4,176.0 457.6,174.0 453.8,176.0Z" fill="#ff6b33"/>
<path class="n" d="M457.7,178.0 468.8,172.2 457.4,166.2 446.2,172.0Z"/>
<path d="M434.9,176.8 446.2,172.0 434.9,166.3 423.6,171.1Z" fill="#ff572a"/>
<path d="M434.9,169.8 438.7,168.2 434.9,166.3 431.2,167.9Z" fill="#ff5731"/>
<path d="M431.2,171.4 434.9,169.8 431.2,167.9 427.4,169.5Z" fill="#ff542b"/>
<path d="M438.7,171.7 442.5,170.1 438.7,168.2 434.9,169.8Z" fill="#ff5b30"/>
<path d="M427.4,173.0 431.2,171.4 427.4,169.5 423.6,171.1Z" fill="#ff5125"/>
<path d="M442.5,173.6 446.2,172.0 442.5,170.1 438.7,171.7Z" fill="#ff5e2f"/>
<path d="M431.2,174.9 434.9,173.3 431.2,171.4 427.4,173.0Z" fill="#ff5424"/>
<path d="M438.7,175.2 442.5,173.6 438.7,171.7 434.9,173.3Z" fill="#ff5b2a"/>
<path d="M434.9,176.8 438.7,175.2 434.9,173.3 431.2,174.9Z" fill="#ff5824"/>
<path class="n" d="M434.9,176.8 446.2,172.0 434.9,166.3 423.6,171.1Z"/>
<path d="M412.2,174.9 423.6,171.1 412.5,165.6 401.0,169.5Z" fill="#ff4a23"/>
<path d="M412.4,168.7 416.2,167.5 412.5,165.6 408.7,166.9Z" fill="#ff4623"/>
<path d="M408.6,170.0 412.4,168.7 408.7,166.9 404.9,168.2Z" fill="#ff4723"/>
<path d="M416.1,170.5 419.9,169.3 416.2,167.5 412.4,168.7Z" fill="#ff4923"/>
<path d="M404.7,171.3 408.6,170.0 404.9,168.2 401.0,169.5Z" fill="#ff4823"/>
<path d="M419.8,172.4 423.6,171.1 419.9,169.3 416.1,170.5Z" fill="#ff4d23"/>
<path d="M408.5,173.1 412.3,171.8 408.6,170.0 404.7,171.3Z" fill="#ff4b23"/>
<path d="M416.0,173.6 419.8,172.4 416.1,170.5 412.3,171.8Z" fill="#ff4e23"/>
<path d="M412.2,174.9 416.0,173.6 412.3,171.8 408.5,173.1Z" fill="#ff4f23"/>
<path class="n" d="M412.2,174.9 423.6,171.1 412.5,165.6 401.0,169.5Z"/>
<path d="M389.4,172.2 401.0,169.5 390.0,164.2 378.4,167.1Z" fill="#fb3f21"/>
<path d="M389.8,166.9 393.6,166.0 390.0,164.2 386.1,165.2Z" fill="#ff3e23"/>
<path d="M385.9,167.8 389.8,166.9 386.1,165.2 382.3,166.1Z" fill="#fc3c21"/>
<path d="M393.5,168.6 397.3,167.7 393.6,166.0 389.8,166.9Z" fill="#ff4123"/>
<path d="M382.0,168.8 385.9,167.8 382.3,166.1 378.4,167.1Z" fill="#f6391f"/>
<path d="M389.6,169.6 393.5,168.6 389.8,166.9 385.9,167.8Z" fill="#fc3f21"/>
<path d="M397.2,170.4 401.0,169.5 397.3,167.7 393.5,168.6Z" fill="#ff4523"/>
<path d="M385.7,170.5 389.6,169.6 385.9,167.8 382.0,168.8Z" fill="#f53c1f"/>
<path d="M393.3,171.3 397.2,170.4 393.5,168.6 389.6,169.6Z" fill="#fb4221"/>
<path d="M389.4,172.2 393.3,171.3 389.6,169.6 385.7,170.5Z" fill="#f53f1f"/>
<path class="n" d="M389.4,172.2 401.0,169.5 390.0,164.2 378.4,167.1Z"/>
<path d="M366.6,168.8 378.4,167.1 367.5,162.1 355.7,163.9Z" fill="#eb2c1b"/>
<path d="M367.2,164.3 371.1,163.7 367.5,162.1 363.5,162.7Z" fill="#f22e1e"/>
<path d="M363.2,164.9 367.2,164.3 363.5,162.7 359.6,163.3Z" fill="#eb2a1b"/>
<path d="M370.8,166.0 374.7,165.4 371.1,163.7 367.2,164.3Z" fill="#f1311d"/>
<path d="M359.3,165.5 363.2,164.9 359.6,163.3 355.7,163.9Z" fill="#e52619"/>
<path d="M374.5,167.6 378.4,167.1 374.7,165.4 370.8,166.0Z" fill="#f0331d"/>
<path d="M362.9,167.1 366.9,166.6 363.2,164.9 359.3,165.5Z" fill="#e42819"/>
<path d="M370.5,168.2 374.5,167.6 370.8,166.0 366.9,166.6Z" fill="#ea2f1b"/>
<path d="M366.6,168.8 370.5,168.2 366.9,166.6 362.9,167.1Z" fill="#e42b19"/>
<path class="n" d="M366.6,168.8 378.4,167.1 367.5,162.1 355.7,163.9Z"/>
<path d="M343.7,164.7 355.7,163.9 344.9,159.2 333.0,161.6Z" fill="#da1815"/>
<path d="M344.5,161.4 348.5,160.7 344.9,159.2 340.9,160.0Z" fill="#e11b18"/>
<path d="M340.5,162.0 344.5,161.4 340.9,160.0 337.0,160.8Z" fill="#da1715"/>
<path d="M348.1,162.8 352.1,162.3 348.5,160.7 344.5,161.4Z" fill="#e01c17"/>
<path d="M336.5,162.6 340.5,162.0 337.0,160.8 333.0,161.6Z" fill="#d41313"/>
<path d="M351.7,164.1 355.7,163.9 352.1,162.3 348.1,162.8Z" fill="#df1e17"/>
<path d="M340.1,163.6 344.1,163.2 340.5,162.0 336.5,162.6Z" fill="#d31413"/>
<path d="M347.7,164.4 351.7,164.1 348.1,162.8 344.1,163.2Z" fill="#d91915"/>
<path d="M343.7,164.7 347.7,164.4 344.1,163.2 340.1,163.6Z" fill="#d31413"/>
<path class="n" d="M343.7,164.7 355.7,163.9 344.9,159.2 333.0,161.6Z"/>
<path d="M320.9,164.7 333.0,161.6 322.3,158.6 310.3,161.6Z" fill="#ff2323"/>
<path class="m" d="M320.9,164.7 333.0,161.6 322.3,158.6 310.3,161.6Z"/>
<path d="M298.1,164.7 310.3,161.6 299.8,158.6 287.6,161.7Z" fill="#ff2323"/>
<path class="m" d="M298.1,164.7 310.3,161.6 299.8,158.6 287.6,161.7Z"/>
<path d="M275.3,164.7 287.6,161.7 277.3,158.7 264.9,161.7Z" fill="#ff2323"/>
<path class="m" d="M275.3,164.7 287.6,161.7 277.3,158.7 264.9,161.7Z"/>
<path d="M252.4,164.7 264.9,161.7 254.7,158.7 242.2,161.7Z" fill="#ff2323"/>
<path class="m" d="M252.4,164.7 264.9,161.7 254.7,158.7 242.2,161.7Z"/>
<path d="M606.5,176.7 617.1,164.9 604.7,161.4 594.2,169.1Z" fill="#ff6a5a"/>
<path d="M605.3,165.6 608.8,162.6 604.7,161.4 601.2,163.9Z" fill="#ff625e"/>
<path d="M601.8,168.6 605.3,165.6 601.2,163.9 597.7,166.5Z" fill="#ff675b"/>
<path d="M609.4,167.2 612.9,163.7 608.8,162.6 605.3,165.6Z" fill="#ff635d"/>
<path d="M598.3,171.6 601.8,168.6 597.7,166.5 594.2,169.1Z" fill="#ff6d59"/>
<path d="M613.6,168.8 617.1,164.9 612.9,163.7 609.4,167.2Z" fill="#ff645d"/>
<path d="M602.4,174.1 605.9,170.7 601.8,168.6 598.3,171.6Z" fill="#ff7157"/>
<path d="M610.1,172.7 613.6,168.8 609.4,167.2 605.9,170.7Z" fill="#ff6d59"/>
<path d="M606.5,176.7 610.1,172.7 605.9,170.7 602.4,174.1Z" fill="#ff7555"/>
<path class="n" d="M606.5,176.7 617.1,164.9 604.7,161.4 594.2,169.1Z"/>
<path d="M583.5,179.8 594.2,169.1 582.0,161.7 571.4,172.4Z" fill="#ff7256"/>
<path d="M582.5,167.7 586.1,164.2 582.0,161.7 578.5,165.3Z" fill="#ff665c"/>
<path d="M579.0,171.3 582.5,167.7 578.5,165.3 574.9,168.9Z" fill="#ff6e58"/>
<path d="M586.6,170.2 590.1,166.6 586.1,164.2 582.5,167.7Z" fill="#ff6a5a"/>
<path d="M575.4,174.9 579.0,171.3 574.9,168.9 571.4,172.4Z" fill="#ff7655"/>
<path d="M590.7,172.6 594.2,169.1 590.1,166.6 586.6,170.2Z" fill="#ff6f58"/>
<path d="M579.5,177.3 583.0,173.8 579.0,171.3 575.4,174.9Z" fill="#ff7a53"/>
<path d="M587.1,176.2 590.7,172.6 586.6,170.2 583.0,173.8Z" fill="#ff7754"/>
<path d="M583.5,179.8 587.1,176.2 583.0,173.8 579.5,177.3Z" fill="#ff7f51"/>
<path class="n" d="M583.5,179.8 594.2,169.1 582.0,161.7 571.4,172.4Z"/>
<path d="M560.6,182.2 571.4,172.4 559.3,165.3 548.6,175.1Z" fill="#ff7c52"/>
<path d="M559.8,170.9 563.3,167.7 559.3,165.3 555.8,168.5Z" fill="#ff7157"/>
<path d="M556.2,174.2 559.8,170.9 555.8,168.5 552.2,171.8Z" fill="#ff7854"/>
<path d="M563.8,173.3 567.3,170.1 563.3,167.7 559.8,170.9Z" fill="#ff7555"/>
<path d="M552.6,177.4 556.2,174.2 552.2,171.8 548.6,175.1Z" fill="#ff7f51"/>
<path d="M567.8,175.7 571.4,172.4 567.3,170.1 563.8,173.3Z" fill="#ff7953"/>
<path d="M556.6,179.8 560.2,176.5 556.2,174.2 552.6,177.4Z" fill="#ff834f"/>
<path d="M564.2,178.9 567.8,175.7 563.8,173.3 560.2,176.5Z" fill="#ff8050"/>
<path d="M560.6,182.2 564.2,178.9 560.2,176.5 556.6,179.8Z" fill="#ff874d"/>
<path class="n" d="M560.6,182.2 571.4,172.4 559.3,165.3 548.6,175.1Z"/>
<path d="M537.8,183.8 548.6,175.1 536.7,168.2 525.8,176.9Z" fill="#ff834f"/>
<path d="M537.0,173.4 540.6,170.4 536.7,168.2 533.1,171.1Z" fill="#ff7954"/>
<path d="M533.4,176.3 537.0,173.4 533.1,171.1 529.4,174.0Z" fill="#ff7f51"/>
<path d="M541.0,175.7 544.6,172.8 540.6,170.4 537.0,173.4Z" fill="#ff7d52"/>
<path d="M529.8,179.2 533.4,176.3 529.4,174.0 525.8,176.9Z" fill="#ff854e"/>
<path d="M545.0,178.0 548.6,175.1 544.6,172.8 541.0,175.7Z" fill="#ff8150"/>
<path d="M533.8,181.5 537.4,178.6 533.4,176.3 529.8,179.2Z" fill="#ff894d"/>
<path d="M541.4,180.9 545.0,178.0 541.0,175.7 537.4,178.6Z" fill="#ff874d"/>
<path d="M537.8,183.8 541.4,180.9 537.4,178.6 533.8,181.5Z" fill="#ff8d4b"/>
<path class="n" d="M537.8,183.8 548.6,175.1 536.7,168.2 525.8,176.9Z"/>
<path d="M514.9,184.6 525.8,176.9 514.0,170.3 503.1,178.0Z" fill="#ff874d"/>
<path d="M514.3,175.0 517.9,172.5 514.0,170.3 510.4,172.8Z" fill="#ff7f51"/>
<path d="M510.7,177.6 514.3,175.0 510.4,172.8 506.8,175.4Z" fill="#ff844f"/>
<path d="M518.2,177.3 521.9,174.7 517.9,172.5 514.3,175.0Z" fill="#ff834f"/>
<path d="M507.0,180.2 510.7,177.6 506.8,175.4 503.1,178.0Z" fill="#ff894d"/>
<path d="M522.2,179.5 525.8,176.9 521.9,174.7 518.2,177.3Z" fill="#ff864e"/>
<path d="M511.0,182.4 514.6,179.8 510.7,177.6 507.0,180.2Z" fill="#ff8c4b"/>
<path d="M518.6,182.1 522.2,179.5 518.2,177.3 514.6,179.8Z" fill="#ff8b4c"/>
<path d="M514.9,184.6 518.6,182.1 514.6,179.8 511.0,182.4Z" fill="#ff904a"/>
<path class="n" d="M514.9,184.6 525.8,176.9 514.0,170.3 503.1,178.0Z"/>
<path d="M492.1,184.7 503.1,178.0 491.4,171.6 480.4,178.4Z" fill="#ff8245"/>
<path d="M491.6,176.0 495.3,173.7 491.4,171.6 487.8,173.8Z" fill="#ff804d"/>
<path d="M488.0,178.2 491.6,176.0 487.8,173.8 484.1,176.1Z" fill="#ff7f47"/>
<path d="M495.5,178.1 499.2,175.9 495.3,173.7 491.6,176.0Z" fill="#ff844c"/>
<path d="M484.3,180.5 488.0,178.2 484.1,176.1 480.4,178.4Z" fill="#ff7e40"/>
<path d="M499.4,180.3 503.1,178.0 499.2,175.9 495.5,178.1Z" fill="#ff874a"/>
<path d="M488.2,182.6 491.8,180.4 488.0,178.2 484.3,180.5Z" fill="#ff813f"/>
<path d="M495.8,182.5 499.4,180.3 495.5,178.1 491.8,180.4Z" fill="#ff8643"/>
<path d="M492.1,184.7 495.8,182.5 491.8,180.4 488.2,182.6Z" fill="#ff853d"/>
<path class="n" d="M492.1,184.7 503.1,178.0 491.4,171.6 480.4,178.4Z"/>
<path d="M469.2,184.1 480.4,178.4 468.8,172.2 457.7,178.0Z" fill="#ff7437"/>
<path d="M469.0,176.2 472.7,174.2 468.8,172.2 465.1,174.1Z" fill="#ff723e"/>
<path d="M465.2,178.1 469.0,176.2 465.1,174.1 461.4,176.0Z" fill="#ff7038"/>
<path d="M472.8,178.2 476.5,176.3 472.7,174.2 469.0,176.2Z" fill="#ff763d"/>
<path d="M461.5,180.0 465.2,178.1 461.4,176.0 457.7,178.0Z" fill="#ff6f32"/>
<path d="M476.7,180.3 480.4,178.4 476.5,176.3 472.8,178.2Z" fill="#ff793b"/>
<path d="M465.4,182.0 469.1,180.1 465.2,178.1 461.5,180.0Z" fill="#ff7231"/>
<path d="M473.0,182.2 476.7,180.3 472.8,178.2 469.1,180.1Z" fill="#ff7736"/>
<path d="M469.2,184.1 473.0,182.2 469.1,180.1 465.4,182.0Z" fill="#ff7630"/>
<path class="n" d="M469.2,184.1 480.4,178.4 468.8,172.2 457.7,178.0Z"/>
<path d="M446.4,182.7 457.7,178.0 446.2,172.0 434.9,176.8Z" fill="#ff6229"/>
<path d="M446.3,175.6 450.0,174.0 446.2,172.0 442.5,173.6Z" fill="#ff612f"/>
<path d="M442.5,177.2 446.3,175.6 442.5,173.6 438.7,175.2Z" fill="#ff5e29"/>
<path d="M450.1,177.6 453.8,176.0 450.0,174.0 446.3,175.6Z" fill="#ff652e"/>
<path d="M438.7,178.8 442.5,177.2 438.7,175.2 434.9,176.8Z" fill="#ff5b24"/>
<path d="M453.9,179.5 457.7,178.0 453.8,176.0 450.1,177.6Z" fill="#ff692d"/>
<path d="M442.6,180.7 446.3,179.1 442.5,177.2 438.7,178.8Z" fill="#ff5f23"/>
<path d="M450.2,181.1 453.9,179.5 450.1,177.6 446.3,179.1Z" fill="#ff6628"/>
<path d="M446.4,182.7 450.2,181.1 446.3,179.1 442.6,180.7Z" fill="#ff6323"/>
<path class="n" d="M446.4,182.7 457.7,178.0 446.2,172.0 434.9,176.8Z"/>
<path d="M423.5,180.5 434.9,176.8 423.6,171.1 412.2,174.9Z" fill="#ff5523"/>
<path d="M423.6,174.3 427.4,173.0 423.6,171.1 419.8,172.4Z" fill="#ff5123"/>
<path d="M419.8,175.5 423.6,174.3 419.8,172.4 416.0,173.6Z" fill="#ff5223"/>
<path d="M416.0,176.8 419.8,175.5 416.0,173.6 412.2,174.9Z" fill="#ff5323"/>
<path d="M431.2,178.0 434.9,176.8 431.2,174.9 427.4,176.1Z" fill="#ff5823"/>
<path d="M419.7,178.6 423.6,177.4 419.8,175.5 416.0,176.8Z" fill="#ff5623"/>
<path d="M427.3,179.3 431.2,178.0 427.4,176.1 423.6,177.4Z" fill="#ff5923"/>
<path d="M423.5,180.5 427.3,179.3 423.6,177.4 419.7,178.6Z" fill="#ff5a23"/>
<path class="n" d="M423.5,180.5 434.9,176.8 423.6,171.1 412.2,174.9Z"/>
<path d="M400.6,177.6 412.2,174.9 401.0,169.5 389.4,172.2Z" fill="#fa4821"/>
<path d="M400.9,172.2 404.7,171.3 401.0,169.5 397.2,170.4Z" fill="#ff4823"/>
<path d="M397.0,173.1 400.9,172.2 397.2,170.4 393.3,171.3Z" fill="#fa4521"/>
<path d="M404.6,174.0 408.5,173.1 404.7,171.3 400.9,172.2Z" fill="#ff4b23"/>
<path d="M393.1,174.0 397.0,173.1 393.3,171.3 389.4,172.2Z" fill="#f4421f"/>
<path d="M408.4,175.8 412.2,174.9 408.5,173.1 404.6,174.0Z" fill="#ff4f23"/>
<path d="M396.9,175.8 400.7,174.9 397.0,173.1 393.1,174.0Z" fill="#f4461e"/>
<path d="M404.5,176.7 408.4,175.8 404.6,174.0 400.7,174.9Z" fill="#f94c20"/>
<path d="M400.6,177.6 404.5,176.7 400.7,174.9 396.9,175.8Z" fill="#f3491e"/>
<path class="n" d="M400.6,177.6 412.2,174.9 401.0,169.5 389.4,172.2Z"/>
<path d="M377.7,173.9 389.4,172.2 378.4,167.1 366.6,168.8Z" fill="#e9351a"/>
<path d="M378.1,169.3 382.0,168.8 378.4,167.1 374.5,167.6Z" fill="#f0361d"/>
<path d="M374.2,169.9 378.1,169.3 374.5,167.6 370.5,168.2Z" fill="#e9321b"/>
<path d="M381.8,171.0 385.7,170.5 382.0,168.8 378.1,169.3Z" fill="#ef391d"/>
<path d="M370.3,170.5 374.2,169.9 370.5,168.2 366.6,168.8Z" fill="#e32d18"/>
<path d="M385.5,172.8 389.4,172.2 385.7,170.5 381.8,171.0Z" fill="#ef3c1d"/>
<path d="M374.0,172.2 377.9,171.6 374.2,169.9 370.3,170.5Z" fill="#e33018"/>
<path d="M381.6,173.3 385.5,172.8 381.8,171.0 377.9,171.6Z" fill="#e8371a"/>
<path d="M377.7,173.9 381.6,173.3 377.9,171.6 374.0,172.2Z" fill="#e23318"/>
<path class="n" d="M377.7,173.9 389.4,172.2 378.4,167.1 366.6,168.8Z"/>
<path d="M354.6,169.4 366.6,168.8 355.7,163.9 343.7,164.7Z" fill="#d81d14"/>
<path d="M355.3,165.8 359.3,165.5 355.7,163.9 351.7,164.1Z" fill="#df2117"/>
<path d="M351.4,166.0 355.3,165.8 351.7,164.1 347.7,164.4Z" fill="#d91b15"/>
<path d="M359.0,167.4 362.9,167.1 359.3,165.5 355.3,165.8Z" fill="#de2317"/>
<path d="M347.3,166.2 351.4,166.0 347.7,164.4 343.7,164.7Z" fill="#d21512"/>
<path d="M362.6,169.0 366.6,168.8 362.9,167.1 359.0,167.4Z" fill="#de2616"/>
<path d="M351.0,167.8 355.0,167.6 351.4,166.0 347.3,166.2Z" fill="#d21712"/>
<path d="M358.6,169.2 362.6,169.0 359.0,167.4 355.0,167.6Z" fill="#d72014"/>
<path d="M354.6,169.4 358.6,169.2 355.0,167.6 351.0,167.8Z" fill="#d11a12"/>
<path class="n" d="M354.6,169.4 366.6,168.8 355.7,163.9 343.7,164.7Z"/>
<path d="M331.6,167.8 343.7,164.7 333.0,161.6 320.9,164.7Z" fill="#ff2323"/>
<path class="m" d="M331.6,167.8 343.7,164.7 333.0,161.6 320.9,164.7Z"/>
<path d="M308.7,167.8 320.9,164.7 310.3,161.6 298.1,164.7Z" fill="#ff2323"/>
<path class="m" d="M308.7,167.8 320.9,164.7 310.3,161.6 298.1,164.7Z"/>
<path d="M285.7,167.8 298.1,164.7 287.6,161.7 275.3,164.7Z" fill="#ff2323"/>
<path class="m" d="M285.7,167.8 298.1,164.7 287.6,161.7 275.3,164.7Z"/>
<path d="M262.7,167.8 275.3,164.7 264.9,161.7 252.4,164.7Z" fill="#ff2323"/>
<path class="m" d="M262.7,167.8 275.3,164.7 264.9,161.7 252.4,164.7Z"/>
<path d="M595.8,187.4 606.5,176.7 594.2,169.1 583.5,179.8Z" fill="#ff8050"/>
<path d="M594.8,175.2 598.3,171.6 594.2,169.1 590.7,172.6Z" fill="#ff7456"/>
<path d="M591.2,178.7 594.8,175.2 590.7,172.6 587.1,176.2Z" fill="#ff7b52"/>
<path d="M598.9,177.7 602.4,174.1 598.3,171.6 594.8,175.2Z" fill="#ff7854"/>
<path d="M587.6,182.3 591.2,178.7 587.1,176.2 583.5,179.8Z" fill="#ff834f"/>
<path d="M603.0,180.2 606.5,176.7 602.4,174.1 598.9,177.7Z" fill="#ff7d52"/>
<path d="M591.7,184.8 595.3,181.3 591.2,178.7 587.6,182.3Z" fill="#ff884d"/>
<path d="M599.4,183.8 603.0,180.2 598.9,177.7 595.3,181.3Z" fill="#ff854e"/>
<path d="M595.8,187.4 599.4,183.8 595.3,181.3 591.7,184.8Z" fill="#ff8d4b"/>
<path class="n" d="M595.8,187.4 606.5,176.7 594.2,169.1 583.5,179.8Z"/>
<path d="M572.8,189.5 583.5,179.8 571.4,172.4 560.6,182.2Z" fill="#ff894d"/>
<path d="M571.8,178.1 575.4,174.9 571.4,172.4 567.8,175.7Z" fill="#ff7d52"/>
<path d="M568.3,181.4 571.8,178.1 567.8,175.7 564.2,178.9Z" fill="#ff844f"/>
<path d="M575.9,180.6 579.5,177.3 575.4,174.9 571.8,178.1Z" fill="#ff8250"/>
<path d="M564.7,184.6 568.3,181.4 564.2,178.9 560.6,182.2Z" fill="#ff8b4c"/>
<path d="M580.0,183.0 583.5,179.8 579.5,177.3 575.9,180.6Z" fill="#ff864e"/>
<path d="M568.7,187.1 572.3,183.8 568.3,181.4 564.7,184.6Z" fill="#ff8f4a"/>
<path d="M576.4,186.3 580.0,183.0 575.9,180.6 572.3,183.8Z" fill="#ff8d4b"/>
<path d="M572.8,189.5 576.4,186.3 572.3,183.8 568.7,187.1Z" fill="#ff9448"/>
<path class="n" d="M572.8,189.5 583.5,179.8 571.4,172.4 560.6,182.2Z"/>
<path d="M549.8,190.9 560.6,182.2 548.6,175.1 537.8,183.8Z" fill="#ff8f4a"/>
<path d="M549.0,180.3 552.6,177.4 548.6,175.1 545.0,178.0Z" fill="#ff854e"/>
<path d="M545.4,183.2 549.0,180.3 545.0,178.0 541.4,180.9Z" fill="#ff8b4c"/>
<path d="M553.0,182.7 556.6,179.8 552.6,177.4 549.0,180.3Z" fill="#ff894c"/>
<path d="M541.8,186.1 545.4,183.2 541.4,180.9 537.8,183.8Z" fill="#ff9149"/>
<path d="M557.0,185.1 560.6,182.2 556.6,179.8 553.0,182.7Z" fill="#ff8d4b"/>
<path d="M545.8,188.5 549.4,185.6 545.4,183.2 541.8,186.1Z" fill="#ff9547"/>
<path d="M553.4,188.0 557.0,185.1 553.0,182.7 549.4,185.6Z" fill="#ff9348"/>
<path d="M549.8,190.9 553.4,188.0 549.4,185.6 545.8,188.5Z" fill="#ff9946"/>
<path class="n" d="M549.8,190.9 560.6,182.2 548.6,175.1 537.8,183.8Z"/>
<path d="M526.8,191.5 537.8,183.8 525.8,176.9 514.9,184.6Z" fill="#ff9348"/>
<path d="M526.2,181.8 529.8,179.2 525.8,176.9 522.2,179.5Z" fill="#ff8a4c"/>
<path d="M522.5,184.3 526.2,181.8 522.2,179.5 518.6,182.1Z" fill="#ff8f4a"/>
<path d="M530.1,184.1 533.8,181.5 529.8,179.2 526.2,181.8Z" fill="#ff8e4a"/>
<path d="M518.9,186.9 522.5,184.3 518.6,182.1 514.9,184.6Z" fill="#ff9448"/>
<path d="M534.1,186.3 537.8,183.8 533.8,181.5 530.1,184.1Z" fill="#ff9249"/>
<path d="M522.8,189.2 526.5,186.6 522.5,184.3 518.9,186.9Z" fill="#ff9746"/>
<path d="M530.5,188.9 534.1,186.3 530.1,184.1 526.5,186.6Z" fill="#ff9747"/>
<path d="M526.8,191.5 530.5,188.9 526.5,186.6 522.8,189.2Z" fill="#ff9b45"/>
<path class="n" d="M526.8,191.5 537.8,183.8 525.8,176.9 514.9,184.6Z"/>
<path d="M503.9,191.3 514.9,184.6 503.1,178.0 492.1,184.7Z" fill="#ff8d40"/>
<path d="M503.4,182.5 507.0,180.2 503.1,178.0 499.4,180.3Z" fill="#ff8a48"/>
<path d="M499.7,184.7 503.4,182.5 499.4,180.3 495.8,182.5Z" fill="#ff8942"/>
<path d="M507.3,184.7 511.0,182.4 507.0,180.2 503.4,182.5Z" fill="#ff8e46"/>
<path d="M496.0,186.9 499.7,184.7 495.8,182.5 492.1,184.7Z" fill="#ff893c"/>
<path d="M511.2,186.9 514.9,184.6 511.0,182.4 507.3,184.7Z" fill="#ff9145"/>
<path d="M499.9,189.1 503.6,186.9 499.7,184.7 496.0,186.9Z" fill="#ff8c3b"/>
<path d="M507.6,189.1 511.2,186.9 507.3,184.7 503.6,186.9Z" fill="#ff903f"/>
<path d="M503.9,191.3 507.6,189.1 503.6,186.9 499.9,189.1Z" fill="#ff9039"/>
<path class="n" d="M503.9,191.3 514.9,184.6 503.1,178.0 492.1,184.7Z"/>
<path d="M480.9,190.4 492.1,184.7 480.4,178.4 469.2,184.1Z" fill="#ff7f34"/>
<path d="M480.6,182.4 484.3,180.5 480.4,178.4 476.7,180.3Z" fill="#ff7d3a"/>
<path d="M476.8,184.3 480.6,182.4 476.7,180.3 473.0,182.2Z" fill="#ff7b35"/>
<path d="M484.5,184.5 488.2,182.6 484.3,180.5 480.6,182.4Z" fill="#ff8039"/>
<path d="M473.1,186.2 476.8,184.3 473.0,182.2 469.2,184.1Z" fill="#ff7a30"/>
<path d="M488.4,186.6 492.1,184.7 488.2,182.6 484.5,184.5Z" fill="#ff8438"/>
<path d="M477.0,188.3 480.7,186.4 476.8,184.3 473.1,186.2Z" fill="#ff7e2f"/>
<path d="M484.7,188.5 488.4,186.6 484.5,184.5 480.7,186.4Z" fill="#ff8333"/>
<path d="M480.9,190.4 484.7,188.5 480.7,186.4 477.0,188.3Z" fill="#ff822e"/>
<path class="n" d="M480.9,190.4 492.1,184.7 480.4,178.4 469.2,184.1Z"/>
<path d="M458.0,188.8 469.2,184.1 457.7,178.0 446.4,182.7Z" fill="#ff6e27"/>
<path d="M457.8,181.6 461.5,180.0 457.7,178.0 453.9,179.5Z" fill="#ff6c2d"/>
<path d="M454.0,183.1 457.8,181.6 453.9,179.5 450.2,181.1Z" fill="#ff6a28"/>
<path d="M461.6,183.6 465.4,182.0 461.5,180.0 457.8,181.6Z" fill="#ff702c"/>
<path d="M450.2,184.7 454.0,183.1 450.2,181.1 446.4,182.7Z" fill="#ff6723"/>
<path d="M457.9,185.2 461.6,183.6 457.8,181.6 454.0,183.1Z" fill="#ff6d27"/>
<path d="M465.5,185.6 469.2,184.1 465.4,182.0 461.6,183.6Z" fill="#ff742b"/>
<path d="M454.1,186.7 457.9,185.2 454.0,183.1 450.2,184.7Z" fill="#ff6c23"/>
<path d="M461.7,187.2 465.5,185.6 461.6,183.6 457.9,185.2Z" fill="#ff7127"/>
<path d="M458.0,188.8 461.7,187.2 457.9,185.2 454.1,186.7Z" fill="#ff7023"/>
<path class="n" d="M458.0,188.8 469.2,184.1 457.7,178.0 446.4,182.7Z"/>
<path d="M435.0,186.3 446.4,182.7 434.9,176.8 423.5,180.5Z" fill="#ff6123"/>
<path d="M435.0,180.0 438.7,178.8 434.9,176.8 431.2,178.0Z" fill="#ff5c23"/>
<path d="M431.1,181.2 435.0,180.0 431.2,178.0 427.3,179.3Z" fill="#ff5d23"/>
<path d="M438.8,181.9 442.6,180.7 438.7,178.8 435.0,180.0Z" fill="#ff6023"/>
<path d="M427.3,182.4 431.1,181.2 427.3,179.3 423.5,180.5Z" fill="#ff5e23"/>
<path d="M442.6,183.9 446.4,182.7 442.6,180.7 438.8,181.9Z" fill="#ff6523"/>
<path d="M431.1,184.4 435.0,183.2 431.1,181.2 427.3,182.4Z" fill="#ff6223"/>
<path d="M438.8,185.1 442.6,183.9 438.8,181.9 435.0,183.2Z" fill="#ff6523"/>
<path d="M435.0,186.3 438.8,185.1 435.0,183.2 431.1,184.4Z" fill="#ff6623"/>
<path class="n" d="M435.0,186.3 446.4,182.7 434.9,176.8 423.5,180.5Z"/>
<path d="M411.9,183.1 423.5,180.5 412.2,174.9 400.6,177.6Z" fill="#f85220"/>
<path d="M412.1,177.6 416.0,176.8 412.2,174.9 408.4,175.8Z" fill="#ff5222"/>
<path d="M408.2,178.5 412.1,177.6 408.4,175.8 404.5,176.7Z" fill="#f94f20"/>
<path d="M415.9,179.5 419.7,178.6 416.0,176.8 412.1,177.6Z" fill="#fe5522"/>
<path d="M404.4,179.4 408.2,178.5 404.5,176.7 400.6,177.6Z" fill="#f24c1e"/>
<path d="M419.7,181.4 423.5,180.5 419.7,178.6 415.9,179.5Z" fill="#fe5922"/>
<path d="M408.1,181.3 412.0,180.4 408.2,178.5 404.4,179.4Z" fill="#f24f1e"/>
<path d="M415.8,182.3 419.7,181.4 415.9,179.5 412.0,180.4Z" fill="#f75620"/>
<path d="M411.9,183.1 415.8,182.3 412.0,180.4 408.1,181.3Z" fill="#f1531d"/>
<path class="n" d="M411.9,183.1 423.5,180.5 412.2,174.9 400.6,177.6Z"/>
<path d="M388.8,179.2 400.6,177.6 389.4,172.2 377.7,173.9Z" fill="#e73d1a"/>
<path d="M389.2,174.5 393.1,174.0 389.4,172.2 385.5,172.8Z" fill="#ee3f1c"/>
<path d="M385.3,175.1 389.2,174.5 385.5,172.8 381.6,173.3Z" fill="#e83a1a"/>
<path d="M393.0,176.3 396.9,175.8 393.1,174.0 389.2,174.5Z" fill="#ed421c"/>
<path d="M381.4,175.6 385.3,175.1 381.6,173.3 377.7,173.9Z" fill="#e13618"/>
<path d="M396.7,178.1 400.6,177.6 396.9,175.8 393.0,176.3Z" fill="#ed451c"/>
<path d="M385.1,177.4 389.0,176.9 385.3,175.1 381.4,175.6Z" fill="#e13918"/>
<path d="M392.8,178.6 396.7,178.1 393.0,176.3 389.0,176.9Z" fill="#e6401a"/>
<path d="M388.8,179.2 392.8,178.6 389.0,176.9 385.1,177.4Z" fill="#e03c17"/>
<path class="n" d="M388.8,179.2 400.6,177.6 389.4,172.2 377.7,173.9Z"/>
<path d="M365.7,174.4 377.7,173.9 366.6,168.8 354.6,169.4Z" fill="#d62514"/>
<path d="M366.3,170.7 370.3,170.5 366.6,168.8 362.6,169.0Z" fill="#dd2816"/>
<path d="M362.3,170.9 366.3,170.7 362.6,169.0 358.6,169.2Z" fill="#d72214"/>
<path d="M370.0,172.4 374.0,172.2 370.3,170.5 366.3,170.7Z" fill="#dc2b16"/>
<path d="M358.3,171.1 362.3,170.9 358.6,169.2 354.6,169.4Z" fill="#d01c12"/>
<path d="M373.7,174.1 377.7,173.9 374.0,172.2 370.0,172.4Z" fill="#dc2e16"/>
<path d="M362.0,172.7 366.0,172.6 362.3,170.9 358.3,171.1Z" fill="#d01f12"/>
<path d="M369.7,174.2 373.7,174.1 370.0,172.4 366.0,172.6Z" fill="#d52814"/>
<path d="M365.7,174.4 369.7,174.2 366.0,172.6 362.0,172.7Z" fill="#cf2111"/>
<path class="n" d="M365.7,174.4 377.7,173.9 366.6,168.8 354.6,169.4Z"/>
<path d="M342.5,170.9 354.6,169.4 343.7,164.7 331.6,167.8Z" fill="#c50f0e"/>
<path d="M343.3,167.1 347.3,166.2 343.7,164.7 339.7,165.7Z" fill="#cc1110"/>
<path d="M339.3,167.9 343.3,167.1 339.7,165.7 335.7,166.7Z" fill="#c60e0e"/>
<path d="M347.0,168.5 351.0,167.8 347.3,166.2 343.3,167.1Z" fill="#cb1310"/>
<path d="M335.3,168.8 339.3,167.9 335.7,166.7 331.6,167.8Z" fill="#bf0c0c"/>
<path d="M350.6,169.9 354.6,169.4 351.0,167.8 347.0,168.5Z" fill="#cb1510"/>
<path d="M338.9,169.8 342.9,169.2 339.3,167.9 335.3,168.8Z" fill="#bf0c0c"/>
<path d="M346.6,170.4 350.6,169.9 347.0,168.5 342.9,169.2Z" fill="#c4100e"/>
<path d="M342.5,170.9 346.6,170.4 342.9,169.2 338.9,169.8Z" fill="#be0c0b"/>
<path class="n" d="M342.5,170.9 354.6,169.4 343.7,164.7 331.6,167.8Z"/>
<path d="M319.4,170.9 331.6,167.8 320.9,164.7 308.7,167.8Z" fill="#ff2323"/>
<path class="m" d="M319.4,170.9 331.6,167.8 320.9,164.7 308.7,167.8Z"/>
<path d="M296.3,170.9 308.7,167.8 298.1,164.7 285.7,167.8Z" fill="#ff2323"/>
<path class="m" d="M296.3,170.9 308.7,167.8 298.1,164.7 285.7,167.8Z"/>
<path d="M273.2,170.9 285.7,167.8 275.3,164.7 262.7,167.8Z" fill="#ff2323"/>
<path class="m" d="M273.2,170.9 285.7,167.8 275.3,164.7 262.7,167.8Z"/>
<path d="M585.1,197.0 595.8,187.4 583.5,179.8 572.8,189.5Z" fill="#ff9647"/>
<path d="M584.1,185.5 587.6,182.3 583.5,179.8 580.0,183.0Z" fill="#ff8b4c"/>
<path d="M580.5,188.8 584.1,185.5 580.0,183.0 576.4,186.3Z" fill="#ff9149"/>
<path d="M588.2,188.1 591.7,184.8 587.6,182.3 584.1,185.5Z" fill="#ff8f4a"/>
<path d="M576.9,192.0 580.5,188.8 576.4,186.3 572.8,189.5Z" fill="#ff9846"/>
<path d="M592.3,190.6 595.8,187.4 591.7,184.8 588.2,188.1Z" fill="#ff9448"/>
<path d="M581.0,194.5 584.6,191.3 580.5,188.8 576.9,192.0Z" fill="#ff9d44"/>
<path d="M588.7,193.8 592.3,190.6 588.2,188.1 584.6,191.3Z" fill="#ff9a45"/>
<path d="M585.1,197.0 588.7,193.8 584.6,191.3 581.0,194.5Z" fill="#ffa142"/>
<path class="n" d="M585.1,197.0 595.8,187.4 583.5,179.8 572.8,189.5Z"/>
<path d="M562.0,198.2 572.8,189.5 560.6,182.2 549.8,190.9Z" fill="#ff9b44"/>
<path d="M561.1,187.5 564.7,184.6 560.6,182.2 557.0,185.1Z" fill="#ff9149"/>
<path d="M557.5,190.4 561.1,187.5 557.0,185.1 553.4,188.0Z" fill="#ff9746"/>
<path d="M565.1,189.9 568.7,187.1 564.7,184.6 561.1,187.5Z" fill="#ff9647"/>
<path d="M553.9,193.3 557.5,190.4 553.4,188.0 549.8,190.9Z" fill="#ff9d44"/>
<path d="M569.2,192.4 572.8,189.5 568.7,187.1 565.1,189.9Z" fill="#ff9a45"/>
<path d="M557.9,195.7 561.5,192.8 557.5,190.4 553.9,193.3Z" fill="#ffa142"/>
<path d="M565.6,195.3 569.2,192.4 565.1,189.9 561.5,192.8Z" fill="#ffa043"/>
<path d="M562.0,198.2 565.6,195.3 561.5,192.8 557.9,195.7Z" fill="#ffa540"/>
<path class="n" d="M562.0,198.2 572.8,189.5 560.6,182.2 549.8,190.9Z"/>
<path d="M538.9,198.5 549.8,190.9 537.8,183.8 526.8,191.5Z" fill="#ff9e43"/>
<path d="M538.1,188.7 541.8,186.1 537.8,183.8 534.1,186.3Z" fill="#ff9647"/>
<path d="M534.5,191.3 538.1,188.7 534.1,186.3 530.5,188.9Z" fill="#ff9a45"/>
<path d="M542.2,191.1 545.8,188.5 541.8,186.1 538.1,188.7Z" fill="#ff9a45"/>
<path d="M530.9,193.8 534.5,191.3 530.5,188.9 526.8,191.5Z" fill="#ff9f43"/>
<path d="M534.9,196.2 538.5,193.6 534.5,191.3 530.9,193.8Z" fill="#ffa341"/>
<path d="M542.6,196.0 546.2,193.4 542.2,191.1 538.5,193.6Z" fill="#ffa241"/>
<path d="M538.9,198.5 542.6,196.0 538.5,193.6 534.9,196.2Z" fill="#ffa73f"/>
<path class="n" d="M538.9,198.5 549.8,190.9 537.8,183.8 526.8,191.5Z"/>
<path d="M515.8,198.1 526.8,191.5 514.9,184.6 503.9,191.3Z" fill="#ff983c"/>
<path d="M515.2,189.1 518.9,186.9 514.9,184.6 511.2,186.9Z" fill="#ff9543"/>
<path d="M511.5,191.4 515.2,189.1 511.2,186.9 507.6,189.1Z" fill="#ff943d"/>
<path d="M519.2,191.4 522.8,189.2 518.9,186.9 515.2,189.1Z" fill="#ff9841"/>
<path d="M507.9,193.6 511.5,191.4 507.6,189.1 503.9,191.3Z" fill="#ff9438"/>
<path d="M523.2,193.7 526.8,191.5 522.8,189.2 519.2,191.4Z" fill="#ff9c3f"/>
<path d="M511.8,195.9 515.5,193.6 511.5,191.4 507.9,193.6Z" fill="#ff9837"/>
<path d="M519.5,195.9 523.2,193.7 519.2,191.4 515.5,193.6Z" fill="#ff9c3a"/>
<path d="M515.8,198.1 519.5,195.9 515.5,193.6 511.8,195.9Z" fill="#ff9c36"/>
<path class="n" d="M515.8,198.1 526.8,191.5 514.9,184.6 503.9,191.3Z"/>
<path d="M492.7,197.0 503.9,191.3 492.1,184.7 480.9,190.4Z" fill="#ff8b31"/>
<path d="M492.3,188.8 496.0,186.9 492.1,184.7 488.4,186.6Z" fill="#ff8837"/>
<path d="M488.6,190.7 492.3,188.8 488.4,186.6 484.7,188.5Z" fill="#ff8732"/>
<path d="M496.2,191.0 499.9,189.1 496.0,186.9 492.3,188.8Z" fill="#ff8c36"/>
<path d="M484.9,192.6 488.6,190.7 484.7,188.5 480.9,190.4Z" fill="#ff862d"/>
<path d="M500.2,193.2 503.9,191.3 499.9,189.1 496.2,191.0Z" fill="#ff9035"/>
<path d="M488.8,194.8 492.5,192.9 488.6,190.7 484.9,192.6Z" fill="#ff8a2d"/>
<path d="M496.5,195.1 500.2,193.2 496.2,191.0 492.5,192.9Z" fill="#ff8f30"/>
<path d="M492.7,197.0 496.5,195.1 492.5,192.9 488.8,194.8Z" fill="#ff8e2c"/>
<path class="n" d="M492.7,197.0 503.9,191.3 492.1,184.7 480.9,190.4Z"/>
<path d="M469.7,195.1 480.9,190.4 469.2,184.1 458.0,188.8Z" fill="#ff7a26"/>
<path d="M469.4,187.7 473.1,186.2 469.2,184.1 465.5,185.6Z" fill="#ff782b"/>
<path d="M465.6,189.3 469.4,187.7 465.5,185.6 461.7,187.2Z" fill="#ff7526"/>
<path d="M473.3,189.9 477.0,188.3 473.1,186.2 469.4,187.7Z" fill="#ff7c2a"/>
<path d="M461.8,190.9 465.6,189.3 461.7,187.2 458.0,188.8Z" fill="#ff7423"/>
<path d="M477.2,192.0 480.9,190.4 477.0,188.3 473.3,189.9Z" fill="#ff802a"/>
<path d="M465.7,192.9 469.5,191.4 465.6,189.3 461.8,190.9Z" fill="#ff7923"/>
<path d="M473.4,193.5 477.2,192.0 473.3,189.9 469.5,191.4Z" fill="#ff7e25"/>
<path d="M469.7,195.1 473.4,193.5 469.5,191.4 465.7,192.9Z" fill="#ff7d23"/>
<path class="n" d="M469.7,195.1 480.9,190.4 469.2,184.1 458.0,188.8Z"/>
<path d="M446.5,192.4 458.0,188.8 446.4,182.7 435.0,186.3Z" fill="#ff6d23"/>
<path d="M446.4,185.9 450.2,184.7 446.4,182.7 442.6,183.9Z" fill="#ff6923"/>
<path d="M442.6,187.1 446.4,185.9 442.6,183.9 438.8,185.1Z" fill="#ff6923"/>
<path d="M438.8,188.3 442.6,187.1 438.8,185.1 435.0,186.3Z" fill="#ff6a23"/>
<path d="M446.5,189.1 450.3,187.9 446.4,185.9 442.6,187.1Z" fill="#ff6e23"/>
<path d="M454.2,190.0 458.0,188.8 454.1,186.7 450.3,187.9Z" fill="#ff7123"/>
<path d="M442.7,190.3 446.5,189.1 442.6,187.1 438.8,188.3Z" fill="#ff6e23"/>
<path d="M450.4,191.2 454.2,190.0 450.3,187.9 446.5,189.1Z" fill="#ff7223"/>
<path d="M446.5,192.4 450.4,191.2 446.5,189.1 442.7,190.3Z" fill="#ff7223"/>
<path class="n" d="M446.5,192.4 458.0,188.8 446.4,182.7 435.0,186.3Z"/>
<path d="M423.4,188.9 435.0,186.3 423.5,180.5 411.9,183.1Z" fill="#f65d1f"/>
<path d="M423.5,183.3 427.3,182.4 423.5,180.5 419.7,181.4Z" fill="#fd5c22"/>
<path d="M419.6,184.2 423.5,183.3 419.7,181.4 415.8,182.3Z" fill="#f7591f"/>
<path d="M427.3,185.2 431.1,184.4 427.3,182.4 423.5,183.3Z" fill="#fc6021"/>
<path d="M415.7,185.0 419.6,184.2 415.8,182.3 411.9,183.1Z" fill="#f0561d"/>
<path d="M431.1,187.2 435.0,186.3 431.1,184.4 427.3,185.2Z" fill="#fc6421"/>
<path d="M419.5,187.0 423.4,186.1 419.6,184.2 415.7,185.0Z" fill="#f05a1d"/>
<path d="M427.3,188.0 431.1,187.2 427.3,185.2 423.4,186.1Z" fill="#f5611f"/>
<path d="M423.4,188.9 427.3,188.0 423.4,186.1 419.5,187.0Z" fill="#ef5d1d"/>
<path class="n" d="M423.4,188.9 435.0,186.3 423.5,180.5 411.9,183.1Z"/>
<path d="M400.2,184.7 411.9,183.1 400.6,177.6 388.8,179.2Z" fill="#e54719"/>
<path d="M400.5,179.9 404.4,179.4 400.6,177.6 396.7,178.1Z" fill="#ec481c"/>
<path d="M396.5,180.5 400.5,179.9 396.7,178.1 392.8,178.6Z" fill="#e64419"/>
<path d="M404.2,181.8 408.1,181.3 404.4,179.4 400.5,179.9Z" fill="#eb4b1b"/>
<path d="M392.6,181.0 396.5,180.5 392.8,178.6 388.8,179.2Z" fill="#df3f17"/>
<path d="M408.0,183.6 411.9,183.1 408.1,181.3 404.2,181.8Z" fill="#eb4f1b"/>
<path d="M396.4,182.8 400.3,182.3 396.5,180.5 392.6,181.0Z" fill="#df4217"/>
<path d="M404.1,184.2 408.0,183.6 404.2,181.8 400.3,182.3Z" fill="#e44a19"/>
<path d="M400.2,184.7 404.1,184.2 400.3,182.3 396.4,182.8Z" fill="#de4517"/>
<path class="n" d="M400.2,184.7 411.9,183.1 400.6,177.6 388.8,179.2Z"/>
<path d="M376.9,179.6 388.8,179.2 377.7,173.9 365.7,174.4Z" fill="#d42d13"/>
<path d="M377.4,175.8 381.4,175.6 377.7,173.9 373.7,174.1Z" fill="#db3016"/>
<path d="M373.4,176.0 377.4,175.8 373.7,174.1 369.7,174.2Z" fill="#d52a13"/>
<path d="M381.1,177.6 385.1,177.4 381.4,175.6 377.4,175.8Z" fill="#da3315"/>
<path d="M369.4,176.2 373.4,176.0 369.7,174.2 365.7,174.4Z" fill="#ce2411"/>
<path d="M384.9,179.3 388.8,179.2 385.1,177.4 381.1,177.6Z" fill="#da3615"/>
<path d="M373.2,177.9 377.2,177.7 373.4,176.0 369.4,176.2Z" fill="#ce2711"/>
<path d="M380.9,179.5 384.9,179.3 381.1,177.6 377.2,177.7Z" fill="#d33013"/>
<path d="M376.9,179.6 380.9,179.5 377.2,177.7 373.2,177.9Z" fill="#cd2a11"/>
<path class="n" d="M376.9,179.6 388.8,179.2 377.7,173.9 365.7,174.4Z"/>
<path d="M353.6,174.0 365.7,174.4 354.6,169.4 342.5,170.9Z" fill="#c3130d"/>
<path d="M354.3,171.4 358.3,171.1 354.6,169.4 350.6,169.9Z" fill="#ca1710"/>
<path d="M350.3,171.6 354.3,171.4 350.6,169.9 346.6,170.4Z" fill="#c4110d"/>
<path d="M358.0,172.8 362.0,172.7 358.3,171.1 354.3,171.4Z" fill="#c9190f"/>
<path d="M346.2,171.9 350.3,171.6 346.6,170.4 342.5,170.9Z" fill="#bd0c0b"/>
<path d="M361.7,174.3 365.7,174.4 362.0,172.7 358.0,172.8Z" fill="#c91b0f"/>
<path d="M349.9,173.0 353.9,172.9 350.3,171.6 346.2,171.9Z" fill="#bd0c0b"/>
<path d="M357.6,174.2 361.7,174.3 358.0,172.8 353.9,172.9Z" fill="#c2140d"/>
<path d="M353.6,174.0 357.6,174.2 353.9,172.9 349.9,173.0Z" fill="#bc0d0b"/>
<path class="n" d="M353.6,174.0 365.7,174.4 354.6,169.4 342.5,170.9Z"/>
<path d="M330.3,174.1 342.5,170.9 331.6,167.8 319.4,170.9Z" fill="#ff2323"/>
<path class="m" d="M330.3,174.1 342.5,170.9 331.6,167.8 319.4,170.9Z"/>
<path d="M307.0,174.1 319.4,170.9 308.7,167.8 296.3,170.9Z" fill="#ff2323"/>
<path class="m" d="M307.0,174.1 319.4,170.9 308.7,167.8 296.3,170.9Z"/>
<path d="M283.8,174.1 296.3,170.9 285.7,167.8 273.2,170.9Z" fill="#ff2323"/>
<path class="m" d="M283.8,174.1 296.3,170.9 285.7,167.8 273.2,170.9Z"/>
<path d="M574.3,205.7 585.1,197.0 572.8,189.5 562.0,198.2Z" fill="#ffa83f"/>
<path d="M573.3,194.9 576.9,192.0 572.8,189.5 569.2,192.4Z" fill="#ff9e43"/>
<path d="M569.7,197.8 573.3,194.9 569.2,192.4 565.6,195.3Z" fill="#ffa441"/>
<path d="M577.4,197.4 581.0,194.5 576.9,192.0 573.3,194.9Z" fill="#ffa341"/>
<path d="M566.1,200.7 569.7,197.8 565.6,195.3 562.0,198.2Z" fill="#ffaa3e"/>
<path d="M581.5,199.9 585.1,197.0 581.0,194.5 577.4,197.4Z" fill="#ffa73f"/>
<path d="M570.2,203.2 573.8,200.3 569.7,197.8 566.1,200.7Z" fill="#ffae3c"/>
<path d="M577.9,202.8 581.5,199.9 577.4,197.4 573.8,200.3Z" fill="#ffad3d"/>
<path d="M574.3,205.7 577.9,202.8 573.8,200.3 570.2,203.2Z" fill="#ffb23b"/>
<path class="n" d="M574.3,205.7 585.1,197.0 572.8,189.5 562.0,198.2Z"/>
<path d="M551.1,205.8 562.0,198.2 549.8,190.9 538.9,198.5Z" fill="#ffaa3e"/>
<path d="M550.2,195.8 553.9,193.3 549.8,190.9 546.2,193.4Z" fill="#ffa242"/>
<path d="M546.6,198.4 550.2,195.8 546.2,193.4 542.6,196.0Z" fill="#ffa640"/>
<path d="M554.3,198.3 557.9,195.7 553.9,193.3 550.2,195.8Z" fill="#ffa640"/>
<path d="M543.0,201.0 546.6,198.4 542.6,196.0 538.9,198.5Z" fill="#ffab3d"/>
<path d="M550.7,200.8 554.3,198.3 550.2,195.8 546.6,198.4Z" fill="#ffab3e"/>
<path d="M547.0,203.4 550.7,200.8 546.6,198.4 543.0,201.0Z" fill="#ffae3b"/>
<path d="M554.8,203.3 558.4,200.7 554.3,198.3 550.7,200.8Z" fill="#ffaf3c"/>
<path d="M551.1,205.8 554.8,203.3 550.7,200.8 547.0,203.4Z" fill="#ffb239"/>
<path class="n" d="M551.1,205.8 562.0,198.2 549.8,190.9 538.9,198.5Z"/>
<path d="M527.9,205.2 538.9,198.5 526.8,191.5 515.8,198.1Z" fill="#ffa437"/>
<path d="M527.2,196.0 530.9,193.8 526.8,191.5 523.2,193.7Z" fill="#ffa03e"/>
<path d="M523.5,198.2 527.2,196.0 523.2,193.7 519.5,195.9Z" fill="#ffa039"/>
<path d="M531.2,198.4 534.9,196.2 530.9,193.8 527.2,196.0Z" fill="#ffa33c"/>
<path d="M519.8,200.5 523.5,198.2 519.5,195.9 515.8,198.1Z" fill="#ffa034"/>
<path d="M535.3,200.7 538.9,198.5 534.9,196.2 531.2,198.4Z" fill="#ffa73a"/>
<path d="M523.9,202.8 527.6,200.6 523.5,198.2 519.8,200.5Z" fill="#ffa433"/>
<path d="M531.6,202.9 535.3,200.7 531.2,198.4 527.6,200.6Z" fill="#ffa836"/>
<path d="M527.9,205.2 531.6,202.9 527.6,200.6 523.9,202.8Z" fill="#ffa932"/>
<path class="n" d="M527.9,205.2 538.9,198.5 526.8,191.5 515.8,198.1Z"/>
<path d="M504.7,203.7 515.8,198.1 503.9,191.3 492.7,197.0Z" fill="#ff972e"/>
<path d="M504.2,195.5 507.9,193.6 503.9,191.3 500.2,193.2Z" fill="#ff9433"/>
<path d="M500.4,197.3 504.2,195.5 500.2,193.2 496.5,195.1Z" fill="#ff932f"/>
<path d="M508.1,197.7 511.8,195.9 507.9,193.6 504.2,195.5Z" fill="#ff9832"/>
<path d="M496.7,199.2 500.4,197.3 496.5,195.1 492.7,197.0Z" fill="#ff932b"/>
<path d="M512.1,200.0 515.8,198.1 511.8,195.9 508.1,197.7Z" fill="#ff9c31"/>
<path d="M500.7,201.5 504.4,199.6 500.4,197.3 496.7,199.2Z" fill="#ff972b"/>
<path d="M508.4,201.9 512.1,200.0 508.1,197.7 504.4,199.6Z" fill="#ff9c2e"/>
<path d="M504.7,203.7 508.4,201.9 504.4,199.6 500.7,201.5Z" fill="#ff9b2a"/>
<path class="n" d="M504.7,203.7 515.8,198.1 503.9,191.3 492.7,197.0Z"/>
<path d="M481.5,201.6 492.7,197.0 480.9,190.4 469.7,195.1Z" fill="#ff8725"/>
<path d="M481.1,194.1 484.9,192.6 480.9,190.4 477.2,192.0Z" fill="#ff8429"/>
<path d="M477.4,195.7 481.1,194.1 477.2,192.0 473.4,193.5Z" fill="#ff8225"/>
<path d="M485.1,196.3 488.8,194.8 484.9,192.6 481.1,194.1Z" fill="#ff8929"/>
<path d="M473.6,197.2 477.4,195.7 473.4,193.5 469.7,195.1Z" fill="#ff8223"/>
<path d="M489.0,198.5 492.7,197.0 488.8,194.8 485.1,196.3Z" fill="#ff8d28"/>
<path d="M477.5,199.4 481.3,197.8 477.4,195.7 473.6,197.2Z" fill="#ff8723"/>
<path d="M485.3,200.0 489.0,198.5 485.1,196.3 481.3,197.8Z" fill="#ff8b24"/>
<path d="M481.5,201.6 485.3,200.0 481.3,197.8 477.5,199.4Z" fill="#ff8c23"/>
<path class="n" d="M481.5,201.6 492.7,197.0 480.9,190.4 469.7,195.1Z"/>
<path d="M458.2,198.6 469.7,195.1 458.0,188.8 446.5,192.4Z" fill="#ff7a23"/>
<path d="M458.0,192.0 461.8,190.9 458.0,188.8 454.2,190.0Z" fill="#ff7623"/>
<path d="M454.2,193.2 458.0,192.0 454.2,190.0 450.4,191.2Z" fill="#ff7623"/>
<path d="M450.4,194.4 454.2,193.2 450.4,191.2 446.5,192.4Z" fill="#ff7622"/>
<path d="M465.9,196.2 469.7,195.1 465.7,192.9 462.0,194.1Z" fill="#ff7f23"/>
<path d="M454.3,196.5 458.1,195.3 454.2,193.2 450.4,194.4Z" fill="#ff7a22"/>
<path d="M462.1,197.4 465.9,196.2 462.0,194.1 458.1,195.3Z" fill="#ff7f23"/>
<path d="M458.2,198.6 462.1,197.4 458.1,195.3 454.3,196.5Z" fill="#fe7e22"/>
<path class="n" d="M458.2,198.6 469.7,195.1 458.0,188.8 446.5,192.4Z"/>
<path d="M435.0,194.9 446.5,192.4 435.0,186.3 423.4,188.9Z" fill="#f4681e"/>
<path d="M435.0,189.2 438.8,188.3 435.0,186.3 431.1,187.2Z" fill="#fb6821"/>
<path d="M431.1,190.0 435.0,189.2 431.1,187.2 427.3,188.0Z" fill="#f5641f"/>
<path d="M438.8,191.2 442.7,190.3 438.8,188.3 435.0,189.2Z" fill="#fa6b21"/>
<path d="M427.2,190.9 431.1,190.0 427.3,188.0 423.4,188.9Z" fill="#ee611c"/>
<path d="M442.7,193.2 446.5,192.4 442.7,190.3 438.8,191.2Z" fill="#fa6f20"/>
<path d="M431.1,192.9 435.0,192.0 431.1,190.0 427.2,190.9Z" fill="#ee651c"/>
<path d="M438.8,194.0 442.7,193.2 438.8,191.2 435.0,192.0Z" fill="#f36c1e"/>
<path d="M435.0,194.9 438.8,194.0 435.0,192.0 431.1,192.9Z" fill="#ed681c"/>
<path class="n" d="M435.0,194.9 446.5,192.4 435.0,186.3 423.4,188.9Z"/>
<path d="M411.6,190.4 423.4,188.9 411.9,183.1 400.2,184.7Z" fill="#e35118"/>
<path d="M411.8,185.5 415.7,185.0 411.9,183.1 408.0,183.6Z" fill="#ea521b"/>
<path d="M407.9,186.0 411.8,185.5 408.0,183.6 404.1,184.2Z" fill="#e44d19"/>
<path d="M415.6,187.5 419.5,187.0 415.7,185.0 411.8,185.5Z" fill="#e9561b"/>
<path d="M404.0,186.6 407.9,186.0 404.1,184.2 400.2,184.7Z" fill="#dd4916"/>
<path d="M419.5,189.4 423.4,188.9 419.5,187.0 415.6,187.5Z" fill="#e9591a"/>
<path d="M407.8,188.5 411.7,188.0 407.9,186.0 404.0,186.6Z" fill="#dd4c16"/>
<path d="M415.6,189.9 419.5,189.4 415.6,187.5 411.7,188.0Z" fill="#e25418"/>
<path d="M411.6,190.4 415.6,189.9 411.7,188.0 407.8,188.5Z" fill="#dc4f16"/>
<path class="n" d="M411.6,190.4 423.4,188.9 411.9,183.1 400.2,184.7Z"/>
<path d="M388.2,185.1 400.2,184.7 388.8,179.2 376.9,179.6Z" fill="#d23612"/>
<path d="M388.6,181.1 392.6,181.0 388.8,179.2 384.9,179.3Z" fill="#d93915"/>
<path d="M384.7,181.3 388.6,181.1 384.9,179.3 380.9,179.5Z" fill="#d33313"/>
<path d="M392.4,183.0 396.4,182.8 392.6,181.0 388.6,181.1Z" fill="#d83c15"/>
<path d="M380.7,181.4 384.7,181.3 380.9,179.5 376.9,179.6Z" fill="#cc2d10"/>
<path d="M396.2,184.8 400.2,184.7 396.4,182.8 392.4,183.0Z" fill="#d84014"/>
<path d="M384.4,183.2 388.4,183.1 384.7,181.3 380.7,181.4Z" fill="#cc3010"/>
<path d="M392.2,184.9 396.2,184.8 392.4,183.0 388.4,183.1Z" fill="#d13912"/>
<path d="M388.2,185.1 392.2,184.9 388.4,183.1 384.4,183.2Z" fill="#cb3310"/>
<path class="n" d="M388.2,185.1 400.2,184.7 388.8,179.2 376.9,179.6Z"/>
<path d="M364.8,179.0 376.9,179.6 365.7,174.4 353.6,174.0Z" fill="#c1180c"/>
<path d="M365.4,176.0 369.4,176.2 365.7,174.4 361.7,174.3Z" fill="#c81d0f"/>
<path d="M361.3,175.8 365.4,176.0 361.7,174.3 357.6,174.2Z" fill="#c2160d"/>
<path d="M369.1,177.7 373.2,177.9 369.4,176.2 365.4,176.0Z" fill="#c7200f"/>
<path d="M357.3,175.7 361.3,175.8 357.6,174.2 353.6,174.0Z" fill="#bb0e0a"/>
<path d="M372.9,179.4 376.9,179.6 373.2,177.9 369.1,177.7Z" fill="#c7230e"/>
<path d="M361.0,177.3 365.1,177.5 361.3,175.8 357.3,175.7Z" fill="#bb100a"/>
<path d="M368.8,179.2 372.9,179.4 369.1,177.7 365.1,177.5Z" fill="#c01b0c"/>
<path d="M364.8,179.0 368.8,179.2 365.1,177.5 361.0,177.3Z" fill="#ba130a"/>
<path class="n" d="M364.8,179.0 376.9,179.6 365.7,174.4 353.6,174.0Z"/>
<path d="M341.3,177.3 353.6,174.0 342.5,170.9 330.3,174.1Z" fill="#ff2323"/>
<path class="m" d="M341.3,177.3 353.6,174.0 342.5,170.9 330.3,174.1Z"/>
<path d="M317.9,177.3 330.3,174.1 319.4,170.9 307.0,174.1Z" fill="#ff2323"/>
<path class="m" d="M317.9,177.3 330.3,174.1 319.4,170.9 307.0,174.1Z"/>
<path d="M294.5,177.3 307.0,174.1 296.3,170.9 283.8,174.1Z" fill="#ff2323"/>
<path class="m" d="M294.5,177.3 307.0,174.1 296.3,170.9 283.8,174.1Z"/>
<path d="M563.4,213.3 574.3,205.7 562.0,198.2 551.1,205.8Z" fill="#ffb738"/>
<path d="M562.5,203.2 566.1,200.7 562.0,198.2 558.4,200.7Z" fill="#ffae3c"/>
<path d="M558.9,205.7 562.5,203.2 558.4,200.7 554.8,203.3Z" fill="#ffb33a"/>
<path d="M566.6,205.7 570.2,203.2 566.1,200.7 562.5,203.2Z" fill="#ffb33a"/>
<path d="M555.2,208.3 558.9,205.7 554.8,203.3 551.1,205.8Z" fill="#ffb637"/>
<path d="M559.3,210.8 563.0,208.2 558.9,205.7 555.2,208.3Z" fill="#ffbb36"/>
<path d="M567.1,210.8 570.7,208.2 566.6,205.7 563.0,208.2Z" fill="#ffbb36"/>
<path d="M563.4,213.3 567.1,210.8 563.0,208.2 559.3,210.8Z" fill="#ffbf34"/>
<path class="n" d="M563.4,213.3 574.3,205.7 562.0,198.2 551.1,205.8Z"/>
<path d="M540.1,212.4 551.1,205.8 538.9,198.5 527.9,205.2Z" fill="#ffb033"/>
<path d="M539.3,203.1 543.0,201.0 538.9,198.5 535.3,200.7Z" fill="#ffab38"/>
<path d="M535.6,205.3 539.3,203.1 535.3,200.7 531.6,202.9Z" fill="#ffac34"/>
<path d="M543.4,205.6 547.0,203.4 543.0,201.0 539.3,203.1Z" fill="#ffb037"/>
<path d="M532.0,207.6 535.6,205.3 531.6,202.9 527.9,205.2Z" fill="#ffad31"/>
<path d="M547.5,208.0 551.1,205.8 547.0,203.4 543.4,205.6Z" fill="#ffb435"/>
<path d="M536.0,210.0 539.7,207.8 535.6,205.3 532.0,207.6Z" fill="#ffb22f"/>
<path d="M543.8,210.2 547.5,208.0 543.4,205.6 539.7,207.8Z" fill="#ffb531"/>
<path d="M540.1,212.4 543.8,210.2 539.7,207.8 536.0,210.0Z" fill="#ffb62e"/>
<path class="n" d="M540.1,212.4 551.1,205.8 538.9,198.5 527.9,205.2Z"/>
<path d="M516.8,210.7 527.9,205.2 515.8,198.1 504.7,203.7Z" fill="#ffa52c"/>
<path d="M516.2,202.3 519.8,200.5 515.8,198.1 512.1,200.0Z" fill="#ffa030"/>
<path d="M512.4,204.2 516.2,202.3 512.1,200.0 508.4,201.9Z" fill="#ffa02d"/>
<path d="M520.2,204.7 523.9,202.8 519.8,200.5 516.2,202.3Z" fill="#ffa52f"/>
<path d="M508.7,206.1 512.4,204.2 508.4,201.9 504.7,203.7Z" fill="#ffa029"/>
<path d="M524.2,207.0 527.9,205.2 523.9,202.8 520.2,204.7Z" fill="#ffa92e"/>
<path d="M512.8,208.4 516.5,206.5 512.4,204.2 508.7,206.1Z" fill="#ffa529"/>
<path d="M520.5,208.9 524.2,207.0 520.2,204.7 516.5,206.5Z" fill="#ffa92b"/>
<path d="M516.8,210.7 520.5,208.9 516.5,206.5 512.8,208.4Z" fill="#ffa928"/>
<path class="n" d="M516.8,210.7 527.9,205.2 515.8,198.1 504.7,203.7Z"/>
<path d="M493.5,208.3 504.7,203.7 492.7,197.0 481.5,201.6Z" fill="#ff9525"/>
<path d="M493.0,200.7 496.7,199.2 492.7,197.0 489.0,198.5Z" fill="#ff9128"/>
<path d="M489.2,202.3 493.0,200.7 489.0,198.5 485.3,200.0Z" fill="#ff9024"/>
<path d="M497.0,203.0 500.7,201.5 496.7,199.2 493.0,200.7Z" fill="#ff9627"/>
<path d="M485.5,203.8 489.2,202.3 485.3,200.0 481.5,201.6Z" fill="#ff9023"/>
<path d="M493.2,204.5 497.0,203.0 493.0,200.7 489.2,202.3Z" fill="#ff9524"/>
<path d="M501.0,205.2 504.7,203.7 500.7,201.5 497.0,203.0Z" fill="#ff9b27"/>
<path d="M489.5,206.0 493.2,204.5 489.2,202.3 485.5,203.8Z" fill="#ff9523"/>
<path d="M497.2,206.8 501.0,205.2 497.0,203.0 493.2,204.5Z" fill="#ff9924"/>
<path d="M493.5,208.3 497.2,206.8 493.2,204.5 489.5,206.0Z" fill="#ff9a23"/>
<path class="n" d="M493.5,208.3 504.7,203.7 492.7,197.0 481.5,201.6Z"/>
<path d="M470.1,205.0 481.5,201.6 469.7,195.1 458.2,198.6Z" fill="#ff8823"/>
<path d="M469.8,198.4 473.6,197.2 469.7,195.1 465.9,196.2Z" fill="#ff8323"/>
<path d="M466.0,199.6 469.8,198.4 465.9,196.2 462.1,197.4Z" fill="#ff8323"/>
<path d="M462.2,200.7 466.0,199.6 462.1,197.4 458.2,198.6Z" fill="#fd8222"/>
<path d="M477.7,202.7 481.5,201.6 477.5,199.4 473.7,200.5Z" fill="#ff8d23"/>
<path d="M466.1,202.9 469.9,201.7 466.0,199.6 462.2,200.7Z" fill="#fd8722"/>
<path d="M473.9,203.9 477.7,202.7 473.7,200.5 469.9,201.7Z" fill="#ff8d23"/>
<path d="M470.1,205.0 473.9,203.9 469.9,201.7 466.1,202.9Z" fill="#fc8b21"/>
<path class="n" d="M470.1,205.0 481.5,201.6 469.7,195.1 458.2,198.6Z"/>
<path d="M446.7,201.0 458.2,198.6 446.5,192.4 435.0,194.9Z" fill="#f2741e"/>
<path d="M446.6,195.3 450.4,194.4 446.5,192.4 442.7,193.2Z" fill="#f97320"/>
<path d="M442.7,196.1 446.6,195.3 442.7,193.2 438.8,194.0Z" fill="#f3701e"/>
<path d="M450.5,197.3 454.3,196.5 450.4,194.4 446.6,195.3Z" fill="#f87720"/>
<path d="M438.9,196.9 442.7,196.1 438.8,194.0 435.0,194.9Z" fill="#ec6c1c"/>
<path d="M454.4,199.4 458.2,198.6 454.3,196.5 450.5,197.3Z" fill="#f87b20"/>
<path d="M442.8,199.0 446.6,198.2 442.7,196.1 438.9,196.9Z" fill="#ec701c"/>
<path d="M450.6,200.2 454.4,199.4 450.5,197.3 446.6,198.2Z" fill="#f2781e"/>
<path d="M446.7,201.0 450.6,200.2 446.6,198.2 442.8,199.0Z" fill="#eb741b"/>
<path class="n" d="M446.7,201.0 458.2,198.6 446.5,192.4 435.0,194.9Z"/>
<path d="M423.2,196.3 435.0,194.9 423.4,188.9 411.6,190.4Z" fill="#e15b18"/>
<path d="M423.3,191.4 427.2,190.9 423.4,188.9 419.5,189.4Z" fill="#e85d1a"/>
<path d="M419.4,191.8 423.3,191.4 419.5,189.4 415.6,189.9Z" fill="#e25818"/>
<path d="M427.2,193.3 431.1,192.9 427.2,190.9 423.3,191.4Z" fill="#e7611a"/>
<path d="M415.5,192.3 419.4,191.8 415.6,189.9 411.6,190.4Z" fill="#db5316"/>
<path d="M431.1,195.3 435.0,194.9 431.1,192.9 427.2,193.3Z" fill="#e7641a"/>
<path d="M419.3,194.3 423.3,193.8 419.4,191.8 415.5,192.3Z" fill="#db5616"/>
<path d="M427.2,195.8 431.1,195.3 427.2,193.3 423.3,193.8Z" fill="#e15f18"/>
<path d="M423.2,196.3 427.2,195.8 423.3,193.8 419.3,194.3Z" fill="#da5a15"/>
<path class="n" d="M423.2,196.3 435.0,194.9 423.4,188.9 411.6,190.4Z"/>
<path d="M399.7,190.7 411.6,190.4 400.2,184.7 388.2,185.1Z" fill="#d04012"/>
<path d="M400.0,186.7 404.0,186.6 400.2,184.7 396.2,184.8Z" fill="#d74314"/>
<path d="M396.0,186.8 400.0,186.7 396.2,184.8 392.2,184.9Z" fill="#d13c12"/>
<path d="M403.8,188.6 407.8,188.5 404.0,186.6 400.0,186.7Z" fill="#d64614"/>
<path d="M392.0,186.9 396.0,186.8 392.2,184.9 388.2,185.1Z" fill="#cb3610"/>
<path d="M407.7,190.5 411.6,190.4 407.8,188.5 403.8,188.6Z" fill="#d64a14"/>
<path d="M395.9,188.8 399.9,188.7 396.0,186.8 392.0,186.9Z" fill="#ca3910"/>
<path d="M403.7,190.6 407.7,190.5 403.8,188.6 399.9,188.7Z" fill="#d04312"/>
<path d="M399.7,190.7 403.7,190.6 399.9,188.7 395.9,188.8Z" fill="#c93c0f"/>
<path class="n" d="M399.7,190.7 411.6,190.4 400.2,184.7 388.2,185.1Z"/>
<path d="M376.1,184.3 388.2,185.1 376.9,179.6 364.8,179.0Z" fill="#bf200c"/>
<path d="M376.6,181.2 380.7,181.4 376.9,179.6 372.9,179.4Z" fill="#c6250e"/>
<path d="M372.6,181.0 376.6,181.2 372.9,179.4 368.8,179.2Z" fill="#c01d0c"/>
<path d="M380.4,183.0 384.4,183.2 380.7,181.4 376.6,181.2Z" fill="#c5280e"/>
<path d="M368.5,180.8 372.6,181.0 368.8,179.2 364.8,179.0Z" fill="#ba150a"/>
<path d="M384.2,184.8 388.2,185.1 384.4,183.2 380.4,183.0Z" fill="#c52b0e"/>
<path d="M372.3,182.5 376.4,182.8 372.6,181.0 368.5,180.8Z" fill="#b91809"/>
<path d="M380.2,184.6 384.2,184.8 380.4,183.0 376.4,182.8Z" fill="#bf230b"/>
<path d="M376.1,184.3 380.2,184.6 376.4,182.8 372.3,182.5Z" fill="#b81b09"/>
<path class="n" d="M376.1,184.3 388.2,185.1 376.9,179.6 364.8,179.0Z"/>
<path d="M352.5,180.5 364.8,179.0 353.6,174.0 341.3,177.3Z" fill="#b30907"/>
<path d="M353.2,176.6 357.3,175.7 353.6,174.0 349.5,175.1Z" fill="#b50908"/>
<path d="M349.1,177.5 353.2,176.6 349.5,175.1 345.4,176.2Z" fill="#b20707"/>
<path d="M356.9,178.0 361.0,177.3 357.3,175.7 353.2,176.6Z" fill="#b40b08"/>
<path d="M345.0,178.3 349.1,177.5 345.4,176.2 341.3,177.3Z" fill="#b20707"/>
<path d="M352.9,178.7 356.9,178.0 353.2,176.6 349.1,177.5Z" fill="#b20907"/>
<path d="M360.7,179.5 364.8,179.0 361.0,177.3 356.9,178.0Z" fill="#b40d08"/>
<path d="M348.7,179.4 352.9,178.7 349.1,177.5 345.0,178.3Z" fill="#b20707"/>
<path d="M356.6,180.0 360.7,179.5 356.9,178.0 352.9,178.7Z" fill="#b20a07"/>
<path d="M352.5,180.5 356.6,180.0 352.9,178.7 348.7,179.4Z" fill="#b20807"/>
<path class="n" d="M352.5,180.5 364.8,179.0 353.6,174.0 341.3,177.3Z"/>
<path d="M328.9,180.5 341.3,177.3 330.3,174.1 317.9,177.3Z" fill="#ff2323"/>
<path class="m" d="M328.9,180.5 341.3,177.3 330.3,174.1 317.9,177.3Z"/>
<path d="M305.3,180.6 317.9,177.3 307.0,174.1 294.5,177.3Z" fill="#ff2323"/>
<path class="m" d="M305.3,180.6 317.9,177.3 307.0,174.1 294.5,177.3Z"/>
<path d="M552.5,219.8 563.4,213.3 551.1,205.8 540.1,212.4Z" fill="#ffbe2f"/>
<path d="M551.6,210.5 555.2,208.3 551.1,205.8 547.5,208.0Z" fill="#ffb833"/>
<path d="M547.9,212.7 551.6,210.5 547.5,208.0 543.8,210.2Z" fill="#ffb930"/>
<path d="M555.7,213.0 559.3,210.8 555.2,208.3 551.6,210.5Z" fill="#ffbc32"/>
<path d="M544.2,214.9 547.9,212.7 543.8,210.2 540.1,212.4Z" fill="#ffbb2d"/>
<path d="M559.8,215.5 563.4,213.3 559.3,210.8 555.7,213.0Z" fill="#ffc130"/>
<path d="M548.3,217.4 552.0,215.2 547.9,212.7 544.2,214.9Z" fill="#ffbf2c"/>
<path d="M556.1,217.7 559.8,215.5 555.7,213.0 552.0,215.2Z" fill="#ffc22d"/>
<path d="M552.5,219.8 556.1,217.7 552.0,215.2 548.3,217.4Z" fill="#ffc42b"/>
<path class="n" d="M552.5,219.8 563.4,213.3 551.1,205.8 540.1,212.4Z"/>
<path d="M529.0,217.9 540.1,212.4 527.9,205.2 516.8,210.7Z" fill="#ffb32a"/>
<path d="M528.3,209.4 532.0,207.6 527.9,205.2 524.2,207.0Z" fill="#ffae2d"/>
<path d="M524.6,211.2 528.3,209.4 524.2,207.0 520.5,208.9Z" fill="#ffae2a"/>
<path d="M532.4,211.8 536.0,210.0 532.0,207.6 528.3,209.4Z" fill="#ffb22c"/>
<path d="M520.9,213.1 524.6,211.2 520.5,208.9 516.8,210.7Z" fill="#ffae28"/>
<path d="M536.4,214.2 540.1,212.4 536.0,210.0 532.4,211.8Z" fill="#ffb72b"/>
<path d="M524.9,215.5 528.7,213.7 524.6,211.2 520.9,213.1Z" fill="#ffb327"/>
<path d="M532.7,216.1 536.4,214.2 532.4,211.8 528.7,213.7Z" fill="#ffb829"/>
<path d="M529.0,217.9 532.7,216.1 528.7,213.7 524.9,215.5Z" fill="#ffb827"/>
<path class="n" d="M529.0,217.9 540.1,212.4 527.9,205.2 516.8,210.7Z"/>
<path d="M505.6,215.2 516.8,210.7 504.7,203.7 493.5,208.3Z" fill="#ffa424"/>
<path d="M505.0,207.6 508.7,206.1 504.7,203.7 501.0,205.2Z" fill="#ff9f26"/>
<path d="M501.2,209.1 505.0,207.6 501.0,205.2 497.2,206.8Z" fill="#ff9e23"/>
<path d="M509.0,209.9 512.8,208.4 508.7,206.1 505.0,207.6Z" fill="#ffa426"/>
<path d="M497.5,210.6 501.2,209.1 497.2,206.8 493.5,208.3Z" fill="#ff9f23"/>
<path d="M505.3,211.4 509.0,209.9 505.0,207.6 501.2,209.1Z" fill="#ffa323"/>
<path d="M513.1,212.2 516.8,210.7 512.8,208.4 509.0,209.9Z" fill="#ffa926"/>
<path d="M501.5,212.9 505.3,211.4 501.2,209.1 497.5,210.6Z" fill="#ffa423"/>
<path d="M509.3,213.7 513.1,212.2 509.0,209.9 505.3,211.4Z" fill="#ffa823"/>
<path d="M505.6,215.2 509.3,213.7 505.3,211.4 501.5,212.9Z" fill="#ffaa23"/>
<path class="n" d="M505.6,215.2 516.8,210.7 504.7,203.7 493.5,208.3Z"/>
<path d="M482.1,211.7 493.5,208.3 481.5,201.6 470.1,205.0Z" fill="#ff9622"/>
<path d="M481.7,204.9 485.5,203.8 481.5,201.6 477.7,202.7Z" fill="#ff9123"/>
<path d="M477.9,206.1 481.7,204.9 477.7,202.7 473.9,203.9Z" fill="#ff9123"/>
<path d="M485.7,207.2 489.5,206.0 485.5,203.8 481.7,204.9Z" fill="#ff9623"/>
<path d="M474.1,207.3 477.9,206.1 473.9,203.9 470.1,205.0Z" fill="#fc9021"/>
<path d="M481.9,208.3 485.7,207.2 481.7,204.9 477.9,206.1Z" fill="#ff9623"/>
<path d="M489.7,209.4 493.5,208.3 489.5,206.0 485.7,207.2Z" fill="#ff9b23"/>
<path d="M478.1,209.5 481.9,208.3 477.9,206.1 474.1,207.3Z" fill="#fb9421"/>
<path d="M485.9,210.6 489.7,209.4 485.7,207.2 481.9,208.3Z" fill="#ff9b23"/>
<path d="M482.1,211.7 485.9,210.6 481.9,208.3 478.1,209.5Z" fill="#fa9921"/>
<path class="n" d="M482.1,211.7 493.5,208.3 481.5,201.6 470.1,205.0Z"/>
<path d="M458.6,207.4 470.1,205.0 458.2,198.6 446.7,201.0Z" fill="#f0801d"/>
<path d="M458.3,201.5 462.2,200.7 458.2,198.6 454.4,199.4Z" fill="#f78020"/>
<path d="M454.5,202.4 458.3,201.5 454.4,199.4 450.6,200.2Z" fill="#f17c1d"/>
<path d="M462.3,203.7 466.1,202.9 462.2,200.7 458.3,201.5Z" fill="#f7841f"/>
<path d="M450.6,203.2 454.5,202.4 450.6,200.2 446.7,201.0Z" fill="#eb781b"/>
<path d="M466.3,205.8 470.1,205.0 466.1,202.9 462.3,203.7Z" fill="#f6881f"/>
<path d="M454.6,205.3 458.4,204.5 454.5,202.4 450.6,203.2Z" fill="#ea7d1b"/>
<path d="M462.4,206.6 466.3,205.8 462.3,203.7 458.4,204.5Z" fill="#f0841d"/>
<path d="M458.6,207.4 462.4,206.6 458.4,204.5 454.6,205.3Z" fill="#e9811b"/>
<path class="n" d="M458.6,207.4 470.1,205.0 458.2,198.6 446.7,201.0Z"/>
<path d="M435.0,202.4 446.7,201.0 435.0,194.9 423.2,196.3Z" fill="#df6717"/>
<path d="M435.0,197.4 438.9,196.9 435.0,194.9 431.1,195.3Z" fill="#e6681a"/>
<path d="M431.1,197.8 435.0,197.4 431.1,195.3 427.2,195.8Z" fill="#e06317"/>
<path d="M438.9,199.4 442.8,199.0 438.9,196.9 435.0,197.4Z" fill="#e66c19"/>
<path d="M427.1,198.3 431.1,197.8 427.2,195.8 423.2,196.3Z" fill="#da5e15"/>
<path d="M442.8,201.5 446.7,201.0 442.8,199.0 438.9,199.4Z" fill="#e57019"/>
<path d="M431.0,200.3 435.0,199.9 431.1,197.8 427.1,198.3Z" fill="#d96115"/>
<path d="M438.9,201.9 442.8,201.5 438.9,199.4 435.0,199.9Z" fill="#df6b17"/>
<path d="M435.0,202.4 438.9,201.9 435.0,199.9 431.0,200.3Z" fill="#d86515"/>
<path class="n" d="M435.0,202.4 446.7,201.0 435.0,194.9 423.2,196.3Z"/>
<path d="M411.3,196.5 423.2,196.3 411.6,190.4 399.7,190.7Z" fill="#ce4a11"/>
<path d="M411.5,192.4 415.5,192.3 411.6,190.4 407.7,190.5Z" fill="#d54d14"/>
<path d="M407.6,192.5 411.5,192.4 407.7,190.5 403.7,190.6Z" fill="#cf4611"/>
<path d="M415.4,194.4 419.3,194.3 415.5,192.3 411.5,192.4Z" fill="#d55013"/>
<path d="M403.6,192.6 407.6,192.5 403.7,190.6 399.7,190.7Z" fill="#c9400f"/>
<path d="M419.3,196.3 423.2,196.3 419.3,194.3 415.4,194.4Z" fill="#d45413"/>
<path d="M407.4,194.6 411.4,194.5 407.6,192.5 403.6,192.6Z" fill="#c8430f"/>
<path d="M415.3,196.4 419.3,196.3 415.4,194.4 411.4,194.5Z" fill="#ce4d11"/>
<path d="M411.3,196.5 415.3,196.4 411.4,194.5 407.4,194.6Z" fill="#c7460f"/>
<path class="n" d="M411.3,196.5 423.2,196.3 411.6,190.4 399.7,190.7Z"/>
<path d="M387.6,189.9 399.7,190.7 388.2,185.1 376.1,184.3Z" fill="#bd290b"/>
<path d="M388.0,186.7 392.0,186.9 388.2,185.1 384.2,184.8Z" fill="#c42e0e"/>
<path d="M384.0,186.4 388.0,186.7 384.2,184.8 380.2,184.6Z" fill="#be260b"/>
<path d="M391.8,188.5 395.9,188.8 392.0,186.9 388.0,186.7Z" fill="#c4320d"/>
<path d="M379.9,186.2 384.0,186.4 380.2,184.6 376.1,184.3Z" fill="#b81e09"/>
<path d="M395.7,190.4 399.7,190.7 395.9,188.8 391.8,188.5Z" fill="#c3350d"/>
<path d="M383.7,188.0 387.8,188.3 384.0,186.4 379.9,186.2Z" fill="#b72109"/>
<path d="M391.7,190.1 395.7,190.4 391.8,188.5 387.8,188.3Z" fill="#bd2c0b"/>
<path d="M387.6,189.9 391.7,190.1 387.8,188.3 383.7,188.0Z" fill="#b62409"/>
<path class="n" d="M387.6,189.9 399.7,190.7 388.2,185.1 376.1,184.3Z"/>
<path d="M363.8,183.8 376.1,184.3 364.8,179.0 352.5,180.5Z" fill="#b20d07"/>
<path d="M364.5,181.0 368.5,180.8 364.8,179.0 360.7,179.5Z" fill="#b30f07"/>
<path d="M360.4,181.3 364.5,181.0 360.7,179.5 356.6,180.0Z" fill="#b20b07"/>
<path d="M368.2,182.6 372.3,182.5 368.5,180.8 364.5,181.0Z" fill="#b31107"/>
<path d="M356.2,181.6 360.4,181.3 356.6,180.0 352.5,180.5Z" fill="#b20807"/>
<path d="M372.0,184.1 376.1,184.3 372.3,182.5 368.2,182.6Z" fill="#b21307"/>
<path d="M360.0,182.7 364.1,182.6 360.4,181.3 356.2,181.6Z" fill="#b20907"/>
<path d="M367.9,184.0 372.0,184.1 368.2,182.6 364.1,182.6Z" fill="#b20e07"/>
<path d="M363.8,183.8 367.9,184.0 364.1,182.6 360.0,182.7Z" fill="#b20907"/>
<path class="n" d="M363.8,183.8 376.1,184.3 364.8,179.0 352.5,180.5Z"/>
<path d="M340.1,183.8 352.5,180.5 341.3,177.3 328.9,180.5Z" fill="#ff2323"/>
<path class="m" d="M340.1,183.8 352.5,180.5 341.3,177.3 328.9,180.5Z"/>
<path d="M316.3,183.8 328.9,180.5 317.9,177.3 305.3,180.6Z" fill="#ff2323"/>
<path class="m" d="M316.3,183.8 328.9,180.5 317.9,177.3 305.3,180.6Z"/>
<path d="M541.4,225.3 552.5,219.8 540.1,212.4 529.0,217.9Z" fill="#ffc227"/>
<path d="M540.5,216.7 544.2,214.9 540.1,212.4 536.4,214.2Z" fill="#ffbc2a"/>
<path d="M536.8,218.5 540.5,216.7 536.4,214.2 532.7,216.1Z" fill="#ffbd28"/>
<path d="M544.7,219.2 548.3,217.4 544.2,214.9 540.5,216.7Z" fill="#ffc129"/>
<path d="M533.1,220.4 536.8,218.5 532.7,216.1 529.0,217.9Z" fill="#ffbd26"/>
<path d="M548.8,221.7 552.5,219.8 548.3,217.4 544.7,219.2Z" fill="#ffc628"/>
<path d="M537.3,222.8 541.0,221.0 536.8,218.5 533.1,220.4Z" fill="#ffc326"/>
<path d="M545.1,223.5 548.8,221.7 544.7,219.2 541.0,221.0Z" fill="#ffc727"/>
<path d="M541.4,225.3 545.1,223.5 541.0,221.0 537.3,222.8Z" fill="#ffc825"/>
<path class="n" d="M541.4,225.3 552.5,219.8 540.1,212.4 529.0,217.9Z"/>
<path d="M517.8,222.3 529.0,217.9 516.8,210.7 505.6,215.2Z" fill="#ffb324"/>
<path d="M517.1,214.6 520.9,213.1 516.8,210.7 513.1,212.2Z" fill="#ffae25"/>
<path d="M513.4,216.1 517.1,214.6 513.1,212.2 509.3,213.7Z" fill="#ffad23"/>
<path d="M521.2,217.0 524.9,215.5 520.9,213.1 517.1,214.6Z" fill="#ffb325"/>
<path d="M509.6,217.6 513.4,216.1 509.3,213.7 505.6,215.2Z" fill="#ffaf23"/>
<path d="M517.5,218.5 521.2,217.0 517.1,214.6 513.4,216.1Z" fill="#ffb323"/>
<path d="M525.3,219.4 529.0,217.9 524.9,215.5 521.2,217.0Z" fill="#ffb925"/>
<path d="M513.7,220.0 517.5,218.5 513.4,216.1 509.6,217.6Z" fill="#ffb423"/>
<path d="M521.6,220.9 525.3,219.4 521.2,217.0 517.5,218.5Z" fill="#ffb823"/>
<path d="M517.8,222.3 521.6,220.9 517.5,218.5 513.7,220.0Z" fill="#ffba23"/>
<path class="n" d="M517.8,222.3 529.0,217.9 516.8,210.7 505.6,215.2Z"/>
<path d="M494.2,218.6 505.6,215.2 493.5,208.3 482.1,211.7Z" fill="#fea422"/>
<path d="M493.7,211.7 497.5,210.6 493.5,208.3 489.7,209.4Z" fill="#ffa023"/>
<path d="M489.9,212.8 493.7,211.7 489.7,209.4 485.9,210.6Z" fill="#ffa023"/>
<path d="M497.7,214.0 501.5,212.9 497.5,210.6 493.7,211.7Z" fill="#ffa523"/>
<path d="M486.1,214.0 489.9,212.8 485.9,210.6 482.1,211.7Z" fill="#fa9d20"/>
<path d="M494.0,215.1 497.7,214.0 493.7,211.7 489.9,212.8Z" fill="#ffa422"/>
<path d="M501.8,216.3 505.6,215.2 501.5,212.9 497.7,214.0Z" fill="#ffaa23"/>
<path d="M490.1,216.3 494.0,215.1 489.9,212.8 486.1,214.0Z" fill="#f9a220"/>
<path d="M498.0,217.5 501.8,216.3 497.7,214.0 494.0,215.1Z" fill="#ffa922"/>
<path d="M494.2,218.6 498.0,217.5 494.0,215.1 490.1,216.3Z" fill="#f8a720"/>
<path class="n" d="M494.2,218.6 505.6,215.2 493.5,208.3 482.1,211.7Z"/>
<path d="M470.6,214.0 482.1,211.7 470.1,205.0 458.6,207.4Z" fill="#ee8d1c"/>
<path d="M470.2,208.0 474.1,207.3 470.1,205.0 466.3,205.8Z" fill="#f58d1f"/>
<path d="M466.4,208.8 470.2,208.0 466.3,205.8 462.4,206.6Z" fill="#ef891d"/>
<path d="M474.2,210.3 478.1,209.5 474.1,207.3 470.2,208.0Z" fill="#f5911f"/>
<path d="M462.5,209.6 466.4,208.8 462.4,206.6 458.6,207.4Z" fill="#e9851a"/>
<path d="M478.3,212.5 482.1,211.7 478.1,209.5 474.2,210.3Z" fill="#f4961e"/>
<path d="M466.5,211.8 470.4,211.0 466.4,208.8 462.5,209.6Z" fill="#e8891a"/>
<path d="M474.4,213.3 478.3,212.5 474.2,210.3 470.4,211.0Z" fill="#ee921c"/>
<path d="M470.6,214.0 474.4,213.3 470.4,211.0 466.5,211.8Z" fill="#e78e1a"/>
<path class="n" d="M470.6,214.0 482.1,211.7 470.1,205.0 458.6,207.4Z"/>
<path d="M446.8,208.7 458.6,207.4 446.7,201.0 435.0,202.4Z" fill="#dd7316"/>
<path d="M446.7,203.6 450.6,203.2 446.7,201.0 442.8,201.5Z" fill="#e47419"/>
<path d="M442.8,204.0 446.7,203.6 442.8,201.5 438.9,201.9Z" fill="#de6f17"/>
<path d="M450.7,205.7 454.6,205.3 450.6,203.2 446.7,203.6Z" fill="#e47819"/>
<path d="M438.9,204.5 442.8,204.0 438.9,201.9 435.0,202.4Z" fill="#d86914"/>
<path d="M454.7,207.9 458.6,207.4 454.6,205.3 450.7,205.7Z" fill="#e37c18"/>
<path d="M442.9,206.6 446.8,206.2 442.8,204.0 438.9,204.5Z" fill="#d76d14"/>
<path d="M450.8,208.3 454.7,207.9 450.7,205.7 446.8,206.2Z" fill="#dd7716"/>
<path d="M446.8,208.7 450.8,208.3 446.8,206.2 442.9,206.6Z" fill="#d67114"/>
<path class="n" d="M446.8,208.7 458.6,207.4 446.7,201.0 435.0,202.4Z"/>
<path d="M423.1,202.6 435.0,202.4 423.2,196.3 411.3,196.5Z" fill="#cc5410"/>
<path d="M423.2,198.4 427.1,198.3 423.2,196.3 419.3,196.3Z" fill="#d35813"/>
<path d="M419.2,198.4 423.2,198.4 419.3,196.3 415.3,196.4Z" fill="#cd5111"/>
<path d="M427.1,200.4 431.0,200.3 427.1,198.3 423.2,198.4Z" fill="#d35b13"/>
<path d="M415.2,198.5 419.2,198.4 415.3,196.4 411.3,196.5Z" fill="#c74a0e"/>
<path d="M431.0,202.4 435.0,202.4 431.0,200.3 427.1,200.4Z" fill="#d25f12"/>
<path d="M419.1,200.5 423.1,200.5 419.2,198.4 415.2,198.5Z" fill="#c64e0e"/>
<path d="M427.1,202.5 431.0,202.4 427.1,200.4 423.1,200.5Z" fill="#cc5810"/>
<path d="M423.1,202.6 427.1,202.5 423.1,200.5 419.1,200.5Z" fill="#c5510e"/>
<path class="n" d="M423.1,202.6 435.0,202.4 423.2,196.3 411.3,196.5Z"/>
<path d="M399.2,195.6 411.3,196.5 399.7,190.7 387.6,189.9Z" fill="#bb330a"/>
<path d="M399.5,192.3 403.6,192.6 399.7,190.7 395.7,190.4Z" fill="#c2380d"/>
<path d="M395.5,192.1 399.5,192.3 395.7,190.4 391.7,190.1Z" fill="#bc300b"/>
<path d="M403.4,194.3 407.4,194.6 403.6,192.6 399.5,192.3Z" fill="#c23b0d"/>
<path d="M391.5,191.8 395.5,192.1 391.7,190.1 387.6,189.9Z" fill="#b62708"/>
<path d="M407.3,196.2 411.3,196.5 407.4,194.6 403.4,194.3Z" fill="#c13f0c"/>
<path d="M395.3,193.7 399.4,194.0 395.5,192.1 391.5,191.8Z" fill="#b52b08"/>
<path d="M403.3,195.9 407.3,196.2 403.4,194.3 399.4,194.0Z" fill="#bb360a"/>
<path d="M399.2,195.6 403.3,195.9 399.4,194.0 395.3,193.7Z" fill="#b42e08"/>
<path class="n" d="M399.2,195.6 411.3,196.5 399.7,190.7 387.6,189.9Z"/>
<path d="M375.3,187.9 387.6,189.9 376.1,184.3 363.8,183.8Z" fill="#b21207"/>
<path d="M375.8,185.8 379.9,186.2 376.1,184.3 372.0,184.1Z" fill="#b21607"/>
<path d="M371.7,185.5 375.8,185.8 372.0,184.1 367.9,184.0Z" fill="#b21007"/>
<path d="M379.7,187.5 383.7,188.0 379.9,186.2 375.8,185.8Z" fill="#b21907"/>
<path d="M367.6,185.1 371.7,185.5 367.9,184.0 363.8,183.8Z" fill="#b20a07"/>
<path d="M383.5,189.2 387.6,189.9 383.7,188.0 379.7,187.5Z" fill="#b21c07"/>
<path d="M371.4,186.5 375.6,187.0 371.7,185.5 367.6,185.1Z" fill="#b20c07"/>
<path d="M379.4,188.5 383.5,189.2 379.7,187.5 375.6,187.0Z" fill="#b21407"/>
<path d="M375.3,187.9 379.4,188.5 375.6,187.0 371.4,186.5Z" fill="#b20d07"/>
<path class="n" d="M375.3,187.9 387.6,189.9 376.1,184.3 363.8,183.8Z"/>
<path d="M351.4,187.2 363.8,183.8 352.5,180.5 340.1,183.8Z" fill="#ff2323"/>
<path class="m" d="M351.4,187.2 363.8,183.8 352.5,180.5 340.1,183.8Z"/>
<path d="M327.5,187.2 340.1,183.8 328.9,180.5 316.3,183.8Z" fill="#ff2323"/>
<path class="m" d="M327.5,187.2 340.1,183.8 328.9,180.5 316.3,183.8Z"/>
<path d="M530.2,229.7 541.4,225.3 529.0,217.9 517.8,222.3Z" fill="#ffc423"/>
<path d="M529.4,221.8 533.1,220.4 529.0,217.9 525.3,219.4Z" fill="#ffbe24"/>
<path d="M525.7,223.3 529.4,221.8 525.3,219.4 521.6,220.9Z" fill="#ffbe23"/>
<path d="M533.5,224.3 537.3,222.8 533.1,220.4 529.4,221.8Z" fill="#ffc324"/>
<path d="M521.9,224.8 525.7,223.3 521.6,220.9 517.8,222.3Z" fill="#ffbf23"/>
<path d="M529.8,225.8 533.5,224.3 529.4,221.8 525.7,223.3Z" fill="#ffc323"/>
<path d="M537.7,226.8 541.4,225.3 537.3,222.8 533.5,224.3Z" fill="#ffc924"/>
<path d="M526.1,227.3 529.8,225.8 525.7,223.3 521.9,224.8Z" fill="#ffc523"/>
<path d="M533.9,228.2 537.7,226.8 533.5,224.3 529.8,225.8Z" fill="#ffc923"/>
<path d="M530.2,229.7 533.9,228.2 529.8,225.8 526.1,227.3Z" fill="#ffca23"/>
<path class="n" d="M530.2,229.7 541.4,225.3 529.0,217.9 517.8,222.3Z"/>
<path d="M506.5,225.7 517.8,222.3 505.6,215.2 494.2,218.6Z" fill="#fcb321"/>
<path d="M505.9,218.7 509.6,217.6 505.6,215.2 501.8,216.3Z" fill="#ffaf23"/>
<path d="M502.1,219.8 505.9,218.7 501.8,216.3 498.0,217.5Z" fill="#feae22"/>
<path d="M509.9,221.1 513.7,220.0 509.6,217.6 505.9,218.7Z" fill="#ffb523"/>
<path d="M498.3,220.9 502.1,219.8 498.0,217.5 494.2,218.6Z" fill="#f8ac20"/>
<path d="M506.2,222.2 509.9,221.1 505.9,218.7 502.1,219.8Z" fill="#fdb322"/>
<path d="M514.0,223.5 517.8,222.3 513.7,220.0 509.9,221.1Z" fill="#ffba23"/>
<path d="M502.4,223.3 506.2,222.2 502.1,219.8 498.3,220.9Z" fill="#f7b120"/>
<path d="M510.3,224.6 514.0,223.5 509.9,221.1 506.2,222.2Z" fill="#fdb822"/>
<path d="M506.5,225.7 510.3,224.6 506.2,222.2 502.4,223.3Z" fill="#f6b61f"/>
<path class="n" d="M506.5,225.7 517.8,222.3 505.6,215.2 494.2,218.6Z"/>
<path d="M482.7,220.9 494.2,218.6 482.1,211.7 470.6,214.0Z" fill="#ec9b1c"/>
<path d="M482.3,214.8 486.1,214.0 482.1,211.7 478.3,212.5Z" fill="#f39a1e"/>
<path d="M478.4,215.5 482.3,214.8 478.3,212.5 474.4,213.3Z" fill="#ed961c"/>
<path d="M486.3,217.0 490.1,216.3 486.1,214.0 482.3,214.8Z" fill="#f39f1e"/>
<path d="M474.6,216.3 478.4,215.5 474.4,213.3 470.6,214.0Z" fill="#e7921a"/>
<path d="M490.4,219.3 494.2,218.6 490.1,216.3 486.3,217.0Z" fill="#f2a41e"/>
<path d="M478.6,218.6 482.5,217.8 478.4,215.5 474.6,216.3Z" fill="#e6971a"/>
<path d="M486.6,220.1 490.4,219.3 486.3,217.0 482.5,217.8Z" fill="#ec9f1c"/>
<path d="M482.7,220.9 486.6,220.1 482.5,217.8 478.6,218.6Z" fill="#e59b19"/>
<path class="n" d="M482.7,220.9 494.2,218.6 482.1,211.7 470.6,214.0Z"/>
<path d="M458.9,215.2 470.6,214.0 458.6,207.4 446.8,208.7Z" fill="#db7f16"/>
<path d="M458.7,210.0 462.5,209.6 458.6,207.4 454.7,207.9Z" fill="#e28018"/>
<path d="M454.8,210.5 458.7,210.0 454.7,207.9 450.8,208.3Z" fill="#dc7b16"/>
<path d="M462.7,212.2 466.5,211.8 462.5,209.6 458.7,210.0Z" fill="#e28518"/>
<path d="M450.8,210.9 454.8,210.5 450.8,208.3 446.8,208.7Z" fill="#d67514"/>
<path d="M466.7,214.4 470.6,214.0 466.5,211.8 462.7,212.2Z" fill="#e18918"/>
<path d="M454.8,213.1 458.8,212.6 454.8,210.5 450.8,210.9Z" fill="#d57913"/>
<path d="M462.8,214.8 466.7,214.4 462.7,212.2 458.8,212.6Z" fill="#db8315"/>
<path d="M458.9,215.2 462.8,214.8 458.8,212.6 454.8,213.1Z" fill="#d47e13"/>
<path class="n" d="M458.9,215.2 470.6,214.0 458.6,207.4 446.8,208.7Z"/>
<path d="M435.0,208.8 446.8,208.7 435.0,202.4 423.1,202.6Z" fill="#ca6010"/>
<path d="M435.0,204.5 438.9,204.5 435.0,202.4 431.0,202.4Z" fill="#d16312"/>
<path d="M431.0,204.6 435.0,204.5 431.0,202.4 427.1,202.5Z" fill="#cb5c10"/>
<path d="M438.9,206.6 442.9,206.6 438.9,204.5 435.0,204.5Z" fill="#d16712"/>
<path d="M427.0,204.6 431.0,204.6 427.1,202.5 423.1,202.6Z" fill="#c5550e"/>
<path d="M442.9,208.7 446.8,208.7 442.9,206.6 438.9,206.6Z" fill="#d06b12"/>
<path d="M431.0,206.7 435.0,206.7 431.0,204.6 427.0,204.6Z" fill="#c4590d"/>
<path d="M439.0,208.8 442.9,208.7 438.9,206.6 435.0,206.7Z" fill="#ca640f"/>
<path d="M435.0,208.8 439.0,208.8 435.0,206.7 431.0,206.7Z" fill="#c35d0d"/>
<path class="n" d="M435.0,208.8 446.8,208.7 435.0,202.4 423.1,202.6Z"/>
<path d="M411.0,201.6 423.1,202.6 411.3,196.5 399.2,195.6Z" fill="#b93d0a"/>
<path d="M411.2,198.2 415.2,198.5 411.3,196.5 407.3,196.2Z" fill="#c0420c"/>
<path d="M407.2,197.9 411.2,198.2 407.3,196.2 403.3,195.9Z" fill="#ba3a0a"/>
<path d="M415.1,200.2 419.1,200.5 415.2,198.5 411.2,198.2Z" fill="#c0460c"/>
<path d="M403.1,197.6 407.2,197.9 403.3,195.9 399.2,195.6Z" fill="#b43108"/>
<path d="M419.1,202.2 423.1,202.6 419.1,200.5 415.1,200.2Z" fill="#bf490c"/>
<path d="M407.1,199.6 411.1,199.9 407.2,197.9 403.1,197.6Z" fill="#b33507"/>
<path d="M415.0,201.9 419.1,202.2 415.1,200.2 411.1,199.9Z" fill="#b94109"/>
<path d="M411.0,201.6 415.0,201.9 411.1,199.9 407.1,199.6Z" fill="#b23807"/>
<path class="n" d="M411.0,201.6 423.1,202.6 411.3,196.5 399.2,195.6Z"/>
<path d="M386.9,193.5 399.2,195.6 387.6,189.9 375.3,187.9Z" fill="#b21b07"/>
<path d="M387.4,191.1 391.5,191.8 387.6,189.9 383.5,189.2Z" fill="#b21f07"/>
<path d="M383.3,190.4 387.4,191.1 383.5,189.2 379.4,188.5Z" fill="#b21707"/>
<path d="M391.2,193.0 395.3,193.7 391.5,191.8 387.4,191.1Z" fill="#b22207"/>
<path d="M379.1,189.7 383.3,190.4 379.4,188.5 375.3,187.9Z" fill="#b20f07"/>
<path d="M395.1,194.9 399.2,195.6 395.3,193.7 391.2,193.0Z" fill="#b22607"/>
<path d="M383.0,191.6 387.1,192.3 383.3,190.4 379.1,189.7Z" fill="#b21307"/>
<path d="M391.0,194.2 395.1,194.9 391.2,193.0 387.1,192.3Z" fill="#b21e07"/>
<path d="M386.9,193.5 391.0,194.2 387.1,192.3 383.0,191.6Z" fill="#b21607"/>
<path class="n" d="M386.9,193.5 399.2,195.6 387.6,189.9 375.3,187.9Z"/>
<path d="M362.8,190.5 375.3,187.9 363.8,183.8 351.4,187.2Z" fill="#b20707"/>
<path d="M367.3,187.5 371.4,186.5 367.6,185.1 363.5,186.2Z" fill="#b20807"/>
<path d="M371.1,188.7 375.3,187.9 371.4,186.5 367.3,187.5Z" fill="#b20907"/>
<path d="M367.0,189.6 371.1,188.7 367.3,187.5 363.2,188.4Z" fill="#b20807"/>
<path class="n" d="M362.8,190.5 375.3,187.9 363.8,183.8 351.4,187.2Z"/>
<path d="M338.8,190.6 351.4,187.2 340.1,183.8 327.5,187.2Z" fill="#ff2323"/>
<path class="m" d="M338.8,190.6 351.4,187.2 340.1,183.8 327.5,187.2Z"/>
<path d="M518.9,233.0 530.2,229.7 517.8,222.3 506.5,225.7Z" fill="#fbc221"/>
<path d="M518.2,225.9 521.9,224.8 517.8,222.3 514.0,223.5Z" fill="#ffbf23"/>
<path d="M514.4,227.0 518.2,225.9 514.0,223.5 510.3,224.6Z" fill="#fcbd21"/>
<path d="M522.3,228.3 526.1,227.3 521.9,224.8 518.2,225.9Z" fill="#ffc523"/>
<path d="M510.6,228.1 514.4,227.0 510.3,224.6 506.5,225.7Z" fill="#f6bb1f"/>
<path d="M518.5,229.5 522.3,228.3 518.2,225.9 514.4,227.0Z" fill="#fbc321"/>
<path d="M526.4,230.8 530.2,229.7 526.1,227.3 522.3,228.3Z" fill="#ffca23"/>
<path d="M514.7,230.6 518.5,229.5 514.4,227.0 510.6,228.1Z" fill="#f5c01f"/>
<path d="M522.7,231.9 526.4,230.8 522.3,228.3 518.5,229.5Z" fill="#fbc821"/>
<path d="M518.9,233.0 522.7,231.9 518.5,229.5 514.7,230.6Z" fill="#f5c51f"/>
<path class="n" d="M518.9,233.0 530.2,229.7 517.8,222.3 506.5,225.7Z"/>
<path d="M495.0,227.9 506.5,225.7 494.2,218.6 482.7,220.9Z" fill="#eaa91b"/>
<path d="M494.5,221.7 498.3,220.9 494.2,218.6 490.4,219.3Z" fill="#f1a81e"/>
<path d="M490.6,222.4 494.5,221.7 490.4,219.3 486.6,220.1Z" fill="#eba41b"/>
<path d="M498.6,224.1 502.4,223.3 498.3,220.9 494.5,221.7Z" fill="#f1ad1d"/>
<path d="M486.8,223.2 490.6,222.4 486.6,220.1 482.7,220.9Z" fill="#e5a019"/>
<path d="M502.7,226.4 506.5,225.7 502.4,223.3 498.6,224.1Z" fill="#f0b21d"/>
<path d="M490.9,225.6 494.7,224.8 490.6,222.4 486.8,223.2Z" fill="#e4a519"/>
<path d="M498.8,227.2 502.7,226.4 498.6,224.1 494.7,224.8Z" fill="#eaae1b"/>
<path d="M495.0,227.9 498.8,227.2 494.7,224.8 490.9,225.6Z" fill="#e4aa19"/>
<path class="n" d="M495.0,227.9 506.5,225.7 494.2,218.6 482.7,220.9Z"/>
<path d="M471.0,222.0 482.7,220.9 470.6,214.0 458.9,215.2Z" fill="#d98c15"/>
<path d="M470.7,216.7 474.6,216.3 470.6,214.0 466.7,214.4Z" fill="#e08d18"/>
<path d="M466.8,217.1 470.7,216.7 466.7,214.4 462.8,214.8Z" fill="#da8815"/>
<path d="M474.8,219.0 478.6,218.6 474.6,216.3 470.7,216.7Z" fill="#e09217"/>
<path d="M462.9,217.5 466.8,217.1 462.8,214.8 458.9,215.2Z" fill="#d48213"/>
<path d="M478.8,221.2 482.7,220.9 478.6,218.6 474.8,219.0Z" fill="#df9617"/>
<path d="M467.0,219.7 470.9,219.4 466.8,217.1 462.9,217.5Z" fill="#d38613"/>
<path d="M474.9,221.6 478.8,221.2 474.8,219.0 470.9,219.4Z" fill="#d99115"/>
<path d="M471.0,222.0 474.9,221.6 470.9,219.4 467.0,219.7Z" fill="#d38b13"/>
<path class="n" d="M471.0,222.0 482.7,220.9 470.6,214.0 458.9,215.2Z"/>
<path d="M447.0,215.3 458.9,215.2 446.8,208.7 435.0,208.8Z" fill="#c86c0f"/>
<path d="M446.9,210.9 450.8,210.9 446.8,208.7 442.9,208.7Z" fill="#cf6f11"/>
<path d="M442.9,210.9 446.9,210.9 442.9,208.7 439.0,208.8Z" fill="#c9680f"/>
<path d="M450.9,213.1 454.8,213.1 450.8,210.9 446.9,210.9Z" fill="#cf7311"/>
<path d="M439.0,211.0 442.9,210.9 439.0,208.8 435.0,208.8Z" fill="#c3610d"/>
<path d="M454.9,215.3 458.9,215.2 454.8,213.1 450.9,213.1Z" fill="#ce7711"/>
<path d="M443.0,213.1 447.0,213.1 442.9,210.9 439.0,211.0Z" fill="#c2650d"/>
<path d="M451.0,215.3 454.9,215.3 450.9,213.1 447.0,213.1Z" fill="#c8700f"/>
<path d="M447.0,215.3 451.0,215.3 447.0,213.1 443.0,213.1Z" fill="#c2690d"/>
<path class="n" d="M447.0,215.3 458.9,215.2 446.8,208.7 435.0,208.8Z"/>
<path d="M422.9,207.8 435.0,208.8 423.1,202.6 411.0,201.6Z" fill="#b84809"/>
<path d="M423.0,204.3 427.0,204.6 423.1,202.6 419.1,202.2Z" fill="#be4d0b"/>
<path d="M419.0,204.0 423.0,204.3 419.1,202.2 415.0,201.9Z" fill="#b84409"/>
<path d="M427.0,206.4 431.0,206.7 427.0,204.6 423.0,204.3Z" fill="#be510b"/>
<path d="M415.0,203.6 419.0,204.0 415.0,201.9 411.0,201.6Z" fill="#b23c07"/>
<path d="M423.0,206.0 427.0,206.4 423.0,204.3 419.0,204.0Z" fill="#b74809"/>
<path d="M431.0,208.5 435.0,208.8 431.0,206.7 427.0,206.4Z" fill="#bd550b"/>
<path d="M418.9,205.7 423.0,206.0 419.0,204.0 415.0,203.6Z" fill="#b24007"/>
<path d="M427.0,208.1 431.0,208.5 427.0,206.4 423.0,206.0Z" fill="#b74c09"/>
<path d="M422.9,207.8 427.0,208.1 423.0,206.0 418.9,205.7Z" fill="#b24307"/>
<path class="n" d="M422.9,207.8 435.0,208.8 423.1,202.6 411.0,201.6Z"/>
<path d="M398.7,199.4 411.0,201.6 399.2,195.6 386.9,193.5Z" fill="#b22507"/>
<path d="M399.1,196.9 403.1,197.6 399.2,195.6 395.1,194.9Z" fill="#b22907"/>
<path d="M395.0,196.2 399.1,196.9 395.1,194.9 391.0,194.2Z" fill="#b22107"/>
<path d="M403.0,198.9 407.1,199.6 403.1,197.6 399.1,196.9Z" fill="#b22d07"/>
<path d="M390.8,195.5 395.0,196.2 391.0,194.2 386.9,193.5Z" fill="#b21907"/>
<path d="M406.9,200.9 411.0,201.6 407.1,199.6 403.0,198.9Z" fill="#b23107"/>
<path d="M394.8,197.4 398.9,198.2 395.0,196.2 390.8,195.5Z" fill="#b21d07"/>
<path d="M402.8,200.1 406.9,200.9 403.0,198.9 398.9,198.2Z" fill="#b22807"/>
<path d="M398.7,199.4 402.8,200.1 398.9,198.2 394.8,197.4Z" fill="#b22007"/>
<path class="n" d="M398.7,199.4 411.0,201.6 399.2,195.6 386.9,193.5Z"/>
<path d="M374.5,194.0 386.9,193.5 375.3,187.9 362.8,190.5Z" fill="#b20b07"/>
<path d="M370.9,191.0 375.0,190.4 371.1,188.7 367.0,189.6Z" fill="#b20907"/>
<path d="M378.9,192.0 383.0,191.6 379.1,189.7 375.0,190.4Z" fill="#b20d07"/>
<path d="M366.7,191.7 370.9,191.0 367.0,189.6 362.8,190.5Z" fill="#b20707"/>
<path d="M382.8,193.7 386.9,193.5 383.0,191.6 378.9,192.0Z" fill="#b21007"/>
<path d="M370.6,192.8 374.7,192.4 370.9,191.0 366.7,191.7Z" fill="#b20807"/>
<path d="M378.6,193.8 382.8,193.7 378.9,192.0 374.7,192.4Z" fill="#b20c07"/>
<path d="M374.5,194.0 378.6,193.8 374.7,192.4 370.6,192.8Z" fill="#b20907"/>
<path class="n" d="M374.5,194.0 386.9,193.5 375.3,187.9 362.8,190.5Z"/>
<path d="M350.2,194.0 362.8,190.5 351.4,187.2 338.8,190.6Z" fill="#ff2323"/>
<path class="m" d="M350.2,194.0 362.8,190.5 351.4,187.2 338.8,190.6Z"/>
<path d="M507.4,235.2 518.9,233.0 506.5,225.7 495.0,227.9Z" fill="#e9b81a"/>
<path d="M506.8,228.8 510.6,228.1 506.5,225.7 502.7,226.4Z" fill="#efb71d"/>
<path d="M503.0,229.6 506.8,228.8 502.7,226.4 498.8,227.2Z" fill="#e9b31b"/>
<path d="M510.9,231.3 514.7,230.6 510.6,228.1 506.8,228.8Z" fill="#efbc1d"/>
<path d="M499.1,230.3 503.0,229.6 498.8,227.2 495.0,227.9Z" fill="#e3af18"/>
<path d="M515.1,233.7 518.9,233.0 514.7,230.6 510.9,231.3Z" fill="#eec11c"/>
<path d="M503.3,232.7 507.1,232.0 503.0,229.6 499.1,230.3Z" fill="#e2b318"/>
<path d="M511.3,234.5 515.1,233.7 510.9,231.3 507.1,232.0Z" fill="#e8bd1a"/>
<path d="M507.4,235.2 511.3,234.5 507.1,232.0 503.3,232.7Z" fill="#e2b818"/>
<path class="n" d="M507.4,235.2 518.9,233.0 506.5,225.7 495.0,227.9Z"/>
<path d="M483.3,229.0 495.0,227.9 482.7,220.9 471.0,222.0Z" fill="#d89a14"/>
<path d="M482.9,223.6 486.8,223.2 482.7,220.9 478.8,221.2Z" fill="#de9b17"/>
<path d="M479.0,223.9 482.9,223.6 478.8,221.2 474.9,221.6Z" fill="#d89515"/>
<path d="M487.0,225.9 490.9,225.6 486.8,223.2 482.9,223.6Z" fill="#dea017"/>
<path d="M475.1,224.3 479.0,223.9 474.9,221.6 471.0,222.0Z" fill="#d28f12"/>
<path d="M491.1,228.3 495.0,227.9 490.9,225.6 487.0,225.9Z" fill="#dda416"/>
<path d="M479.2,226.7 483.1,226.3 479.0,223.9 475.1,224.3Z" fill="#d19412"/>
<path d="M487.2,228.6 491.1,228.3 487.0,225.9 483.1,226.3Z" fill="#d79f14"/>
<path d="M483.3,229.0 487.2,228.6 483.1,226.3 479.2,226.7Z" fill="#d19912"/>
<path class="n" d="M483.3,229.0 495.0,227.9 482.7,220.9 471.0,222.0Z"/>
<path d="M459.2,222.0 471.0,222.0 458.9,215.2 447.0,215.3Z" fill="#c7780e"/>
<path d="M459.0,217.5 462.9,217.5 458.9,215.2 454.9,215.3Z" fill="#ce7b11"/>
<path d="M455.0,217.5 459.0,217.5 454.9,215.3 451.0,215.3Z" fill="#c7740f"/>
<path d="M463.0,219.7 467.0,219.7 462.9,217.5 459.0,217.5Z" fill="#cd8011"/>
<path d="M451.1,217.5 455.0,217.5 451.0,215.3 447.0,215.3Z" fill="#c16d0c"/>
<path d="M467.1,222.0 471.0,222.0 467.0,219.7 463.0,219.7Z" fill="#cc8410"/>
<path d="M455.1,219.7 459.1,219.7 455.0,217.5 451.1,217.5Z" fill="#c0710c"/>
<path d="M463.2,222.0 467.1,222.0 463.0,219.7 459.1,219.7Z" fill="#c67d0e"/>
<path d="M459.2,222.0 463.2,222.0 459.1,219.7 455.1,219.7Z" fill="#c0750c"/>
<path class="n" d="M459.2,222.0 471.0,222.0 458.9,215.2 447.0,215.3Z"/>
<path d="M435.0,214.2 447.0,215.3 435.0,208.8 422.9,207.8Z" fill="#b65409"/>
<path d="M435.0,210.6 439.0,211.0 435.0,208.8 431.0,208.5Z" fill="#bd580b"/>
<path d="M431.0,210.2 435.0,210.6 431.0,208.5 427.0,208.1Z" fill="#b65009"/>
<path d="M439.0,212.8 443.0,213.1 439.0,211.0 435.0,210.6Z" fill="#bc5c0b"/>
<path d="M426.9,209.9 431.0,210.2 427.0,208.1 422.9,207.8Z" fill="#b24707"/>
<path d="M435.0,212.4 439.0,212.8 435.0,210.6 431.0,210.2Z" fill="#b65408"/>
<path d="M443.0,214.9 447.0,215.3 443.0,213.1 439.0,212.8Z" fill="#bb600a"/>
<path d="M430.9,212.0 435.0,212.4 431.0,210.2 426.9,209.9Z" fill="#b24b07"/>
<path d="M439.0,214.5 443.0,214.9 439.0,212.8 435.0,212.4Z" fill="#b55708"/>
<path d="M435.0,214.2 439.0,214.5 435.0,212.4 430.9,212.0Z" fill="#b25007"/>
<path class="n" d="M435.0,214.2 447.0,215.3 435.0,208.8 422.9,207.8Z"/>
<path d="M410.6,205.5 422.9,207.8 411.0,201.6 398.7,199.4Z" fill="#b23007"/>
<path d="M410.9,202.9 415.0,203.6 411.0,201.6 406.9,200.9Z" fill="#b23407"/>
<path d="M406.8,202.2 410.9,202.9 406.9,200.9 402.8,200.1Z" fill="#b22c07"/>
<path d="M414.9,205.0 418.9,205.7 415.0,203.6 410.9,202.9Z" fill="#b23807"/>
<path d="M402.7,201.4 406.8,202.2 402.8,200.1 398.7,199.4Z" fill="#b22407"/>
<path d="M418.8,207.0 422.9,207.8 418.9,205.7 414.9,205.0Z" fill="#b23c07"/>
<path d="M406.7,203.5 410.8,204.2 406.8,202.2 402.7,201.4Z" fill="#b22807"/>
<path d="M414.8,206.3 418.8,207.0 414.9,205.0 410.8,204.2Z" fill="#b23407"/>
<path d="M410.6,205.5 414.8,206.3 410.8,204.2 406.7,203.5Z" fill="#b22b07"/>
<path class="n" d="M410.6,205.5 422.9,207.8 411.0,201.6 398.7,199.4Z"/>
<path d="M386.2,197.4 398.7,199.4 386.9,193.5 374.5,194.0Z" fill="#b21007"/>
<path d="M386.7,195.4 390.8,195.5 386.9,193.5 382.8,193.7Z" fill="#b21307"/>
<path d="M382.5,195.2 386.7,195.4 382.8,193.7 378.6,193.8Z" fill="#b20e07"/>
<path d="M390.6,197.0 394.8,197.4 390.8,195.5 386.7,195.4Z" fill="#b21607"/>
<path d="M378.4,195.1 382.5,195.2 378.6,193.8 374.5,194.0Z" fill="#b20907"/>
<path d="M394.6,198.8 398.7,199.4 394.8,197.4 390.6,197.0Z" fill="#b21907"/>
<path d="M382.3,196.3 386.5,196.7 382.5,195.2 378.4,195.1Z" fill="#b20a07"/>
<path d="M390.4,198.1 394.6,198.8 390.6,197.0 386.5,196.7Z" fill="#b21107"/>
<path d="M386.2,197.4 390.4,198.1 386.5,196.7 382.3,196.3Z" fill="#b20a07"/>
<path class="n" d="M386.2,197.4 398.7,199.4 386.9,193.5 374.5,194.0Z"/>
<path d="M361.8,197.5 374.5,194.0 362.8,190.5 350.2,194.0Z" fill="#ff2323"/>
<path class="m" d="M361.8,197.5 374.5,194.0 362.8,190.5 350.2,194.0Z"/>
<path d="M495.8,236.2 507.4,235.2 495.0,227.9 483.3,229.0Z" fill="#d6a814"/>
<path d="M495.3,230.7 499.1,230.3 495.0,227.9 491.1,228.3Z" fill="#dda916"/>
<path d="M491.4,231.0 495.3,230.7 491.1,228.3 487.2,228.6Z" fill="#d6a314"/>
<path d="M499.4,233.1 503.3,232.7 499.1,230.3 495.3,230.7Z" fill="#dcae16"/>
<path d="M487.5,231.4 491.4,231.0 487.2,228.6 483.3,229.0Z" fill="#d09d12"/>
<path d="M503.6,235.5 507.4,235.2 503.3,232.7 499.4,233.1Z" fill="#dbb316"/>
<path d="M491.6,233.8 495.5,233.4 491.4,231.0 487.5,231.4Z" fill="#cfa211"/>
<path d="M499.7,235.9 503.6,235.5 499.4,233.1 495.5,233.4Z" fill="#d5ad13"/>
<path d="M495.8,236.2 499.7,235.9 495.5,233.4 491.6,233.8Z" fill="#cfa711"/>
<path class="n" d="M495.8,236.2 507.4,235.2 495.0,227.9 483.3,229.0Z"/>
<path d="M471.5,228.9 483.3,229.0 471.0,222.0 459.2,222.0Z" fill="#c5860e"/>
<path d="M471.2,224.3 475.1,224.3 471.0,222.0 467.1,222.0Z" fill="#cc8910"/>
<path d="M467.3,224.3 471.2,224.3 467.1,222.0 463.2,222.0Z" fill="#c5810e"/>
<path d="M475.3,226.6 479.2,226.7 475.1,224.3 471.2,224.3Z" fill="#cb8d10"/>
<path d="M463.3,224.3 467.3,224.3 463.2,222.0 459.2,222.0Z" fill="#bf7a0c"/>
<path d="M479.4,229.0 483.3,229.0 479.2,226.7 475.3,226.6Z" fill="#ca9210"/>
<path d="M467.4,226.6 471.4,226.6 467.3,224.3 463.3,224.3Z" fill="#be7e0b"/>
<path d="M475.5,228.9 479.4,229.0 475.3,226.6 471.4,226.6Z" fill="#c48a0d"/>
<path d="M471.5,228.9 475.5,228.9 471.4,226.6 467.4,226.6Z" fill="#be820b"/>
<path class="n" d="M471.5,228.9 483.3,229.0 471.0,222.0 459.2,222.0Z"/>
<path d="M447.2,220.8 459.2,222.0 447.0,215.3 435.0,214.2Z" fill="#b56008"/>
<path d="M447.1,217.1 451.1,217.5 447.0,215.3 443.0,214.9Z" fill="#bb650a"/>
<path d="M443.1,216.7 447.1,217.1 443.0,214.9 439.0,214.5Z" fill="#b45b08"/>
<path d="M451.1,219.4 455.1,219.7 451.1,217.5 447.1,217.1Z" fill="#ba690a"/>
<path d="M439.0,216.4 443.1,216.7 439.0,214.5 435.0,214.2Z" fill="#b25407"/>
<path d="M447.1,219.0 451.1,219.4 447.1,217.1 443.1,216.7Z" fill="#b46008"/>
<path d="M455.2,221.6 459.2,222.0 455.1,219.7 451.1,219.4Z" fill="#b96d0a"/>
<path d="M443.1,218.6 447.1,219.0 443.1,216.7 439.0,216.4Z" fill="#b25807"/>
<path d="M451.2,221.2 455.2,221.6 451.1,219.4 447.1,219.0Z" fill="#b36407"/>
<path d="M447.2,220.8 451.2,221.2 447.1,219.0 443.1,218.6Z" fill="#b25c07"/>
<path class="n" d="M447.2,220.8 459.2,222.0 447.0,215.3 435.0,214.2Z"/>
<path d="M422.7,211.8 435.0,214.2 422.9,207.8 410.6,205.5Z" fill="#b23c07"/>
<path d="M422.9,209.1 426.9,209.9 422.9,207.8 418.8,207.0Z" fill="#b24007"/>
<path d="M418.8,208.4 422.9,209.1 418.8,207.0 414.8,206.3Z" fill="#b23807"/>
<path d="M426.9,211.3 430.9,212.0 426.9,209.9 422.9,209.1Z" fill="#b24407"/>
<path d="M414.7,207.6 418.8,208.4 414.8,206.3 410.6,205.5Z" fill="#b22f07"/>
<path d="M430.9,213.4 435.0,214.2 430.9,212.0 426.9,211.3Z" fill="#b24807"/>
<path d="M418.7,209.7 422.8,210.5 418.8,208.4 414.7,207.6Z" fill="#b23307"/>
<path d="M426.8,212.6 430.9,213.4 426.9,211.3 422.8,210.5Z" fill="#b24007"/>
<path d="M422.7,211.8 426.8,212.6 422.8,210.5 418.7,209.7Z" fill="#b23707"/>
<path class="n" d="M422.7,211.8 435.0,214.2 422.9,207.8 410.6,205.5Z"/>
<path d="M398.2,202.0 410.6,205.5 398.7,199.4 386.2,197.4Z" fill="#b21607"/>
<path d="M398.5,200.6 402.7,201.4 398.7,199.4 394.6,198.8Z" fill="#b21c07"/>
<path d="M394.4,199.8 398.5,200.6 394.6,198.8 390.4,198.1Z" fill="#b21407"/>
<path d="M402.5,202.5 406.7,203.5 402.7,201.4 398.5,200.6Z" fill="#b21f07"/>
<path d="M390.2,198.9 394.4,199.8 390.4,198.1 386.2,197.4Z" fill="#b20b07"/>
<path d="M406.5,204.3 410.6,205.5 406.7,203.5 402.5,202.5Z" fill="#b22207"/>
<path d="M394.2,200.5 398.4,201.5 394.4,199.8 390.2,198.9Z" fill="#b20d07"/>
<path d="M402.4,203.2 406.5,204.3 402.5,202.5 398.4,201.5Z" fill="#b21907"/>
<path d="M398.2,202.0 402.4,203.2 398.4,201.5 394.2,200.5Z" fill="#b20f07"/>
<path class="n" d="M398.2,202.0 410.6,205.5 398.7,199.4 386.2,197.4Z"/>
<path d="M373.6,201.0 386.2,197.4 374.5,194.0 361.8,197.5Z" fill="#ff2323"/>
<path class="m" d="M373.6,201.0 386.2,197.4 374.5,194.0 361.8,197.5Z"/>
<path d="M484.0,236.1 495.8,236.2 483.3,229.0 471.5,228.9Z" fill="#c3930d"/>
<path d="M483.6,231.4 487.5,231.4 483.3,229.0 479.4,229.0Z" fill="#ca960f"/>
<path d="M479.6,231.3 483.6,231.4 479.4,229.0 475.5,228.9Z" fill="#c38f0d"/>
<path d="M487.7,233.7 491.6,233.8 487.5,231.4 483.6,231.4Z" fill="#c99b0f"/>
<path d="M475.7,231.3 479.6,231.3 475.5,228.9 471.5,228.9Z" fill="#bd870b"/>
<path d="M491.9,236.2 495.8,236.2 491.6,233.8 487.7,233.7Z" fill="#c8a00f"/>
<path d="M479.8,233.7 483.8,233.7 479.6,231.3 475.7,231.3Z" fill="#bc8c0b"/>
<path d="M488.0,236.1 491.9,236.2 487.7,233.7 483.8,233.7Z" fill="#c2980d"/>
<path d="M484.0,236.1 488.0,236.1 483.8,233.7 479.8,233.7Z" fill="#bc900b"/>
<path class="n" d="M484.0,236.1 495.8,236.2 483.3,229.0 471.5,228.9Z"/>
<path d="M459.6,227.6 471.5,228.9 459.2,222.0 447.2,220.8Z" fill="#b46d08"/>
<path d="M459.3,223.9 463.3,224.3 459.2,222.0 455.2,221.6Z" fill="#b97109"/>
<path d="M455.3,223.5 459.3,223.9 455.2,221.6 451.2,221.2Z" fill="#b26807"/>
<path d="M463.4,226.2 467.4,226.6 463.3,224.3 459.3,223.9Z" fill="#b87609"/>
<path d="M451.3,223.1 455.3,223.5 451.2,221.2 447.2,220.8Z" fill="#b26107"/>
<path d="M459.4,225.8 463.4,226.2 459.3,223.9 455.3,223.5Z" fill="#b26c07"/>
<path d="M467.6,228.5 471.5,228.9 467.4,226.6 463.4,226.2Z" fill="#b77a09"/>
<path d="M455.4,225.3 459.4,225.8 455.3,223.5 451.3,223.1Z" fill="#b26507"/>
<path d="M463.6,228.1 467.6,228.5 463.4,226.2 459.4,225.8Z" fill="#b27107"/>
<path d="M459.6,227.6 463.6,228.1 459.4,225.8 455.4,225.3Z" fill="#b26a07"/>
<path class="n" d="M459.6,227.6 471.5,228.9 459.2,222.0 447.2,220.8Z"/>
<path d="M435.0,218.4 447.2,220.8 435.0,214.2 422.7,211.8Z" fill="#b24807"/>
<path d="M435.0,215.6 439.0,216.4 435.0,214.2 430.9,213.4Z" fill="#b24c07"/>
<path d="M430.9,214.8 435.0,215.6 430.9,213.4 426.8,212.6Z" fill="#b24407"/>
<path d="M439.1,217.8 443.1,218.6 439.0,216.4 435.0,215.6Z" fill="#b25007"/>
<path d="M426.8,214.0 430.9,214.8 426.8,212.6 422.7,211.8Z" fill="#b23b07"/>
<path d="M443.1,220.0 447.2,220.8 443.1,218.6 439.1,217.8Z" fill="#b25507"/>
<path d="M430.9,216.2 435.0,217.0 430.9,214.8 426.8,214.0Z" fill="#b23f07"/>
<path d="M439.1,219.2 443.1,220.0 439.1,217.8 435.0,217.0Z" fill="#b24c07"/>
<path d="M435.0,218.4 439.1,219.2 435.0,217.0 430.9,216.2Z" fill="#b24307"/>
<path class="n" d="M435.0,218.4 447.2,220.8 435.0,214.2 422.7,211.8Z"/>
<path d="M410.3,208.2 422.7,211.8 410.6,205.5 398.2,202.0Z" fill="#b22007"/>
<path d="M410.5,206.4 414.7,207.6 410.6,205.5 406.5,204.3Z" fill="#b22607"/>
<path d="M406.4,205.3 410.5,206.4 406.5,204.3 402.4,203.2Z" fill="#b21c07"/>
<path d="M414.6,208.5 418.7,209.7 414.7,207.6 410.5,206.4Z" fill="#b22a07"/>
<path d="M402.2,204.1 406.4,205.3 402.4,203.2 398.2,202.0Z" fill="#b21207"/>
<path d="M418.6,210.6 422.7,211.8 418.7,209.7 414.6,208.5Z" fill="#b22e07"/>
<path d="M406.2,206.2 410.4,207.3 406.4,205.3 402.2,204.1Z" fill="#b21607"/>
<path d="M414.5,209.4 418.6,210.6 414.6,208.5 410.4,207.3Z" fill="#b22407"/>
<path d="M410.3,208.2 414.5,209.4 410.4,207.3 406.2,206.2Z" fill="#b21a07"/>
<path class="n" d="M410.3,208.2 422.7,211.8 410.6,205.5 398.2,202.0Z"/>
<path d="M385.5,204.5 398.2,202.0 386.2,197.4 373.6,201.0Z" fill="#b20807"/>
<path d="M386.0,200.0 390.2,198.9 386.2,197.4 382.0,198.6Z" fill="#b20707"/>
<path d="M381.8,201.1 386.0,200.0 382.0,198.6 377.8,199.8Z" fill="#b20707"/>
<path d="M390.0,201.4 394.2,200.5 390.2,198.9 386.0,200.0Z" fill="#b20907"/>
<path d="M377.6,202.2 381.8,201.1 377.8,199.8 373.6,201.0Z" fill="#b20707"/>
<path d="M394.0,202.9 398.2,202.0 394.2,200.5 390.0,201.4Z" fill="#b20a07"/>
<path d="M381.6,203.3 385.8,202.4 381.8,201.1 377.6,202.2Z" fill="#b20707"/>
<path d="M389.8,203.7 394.0,202.9 390.0,201.4 385.8,202.4Z" fill="#b20907"/>
<path d="M385.5,204.5 389.8,203.7 385.8,202.4 381.6,203.3Z" fill="#b20707"/>
<path class="n" d="M385.5,204.5 398.2,202.0 386.2,197.4 373.6,201.0Z"/>
<path d="M472.1,234.7 484.0,236.1 471.5,228.9 459.6,227.6Z" fill="#b37b08"/>
<path d="M471.7,230.9 475.7,231.3 471.5,228.9 467.6,228.5Z" fill="#b77e09"/>
<path d="M467.7,230.4 471.7,230.9 467.6,228.5 463.6,228.1Z" fill="#b27607"/>
<path d="M475.9,233.2 479.8,233.7 475.7,231.3 471.7,230.9Z" fill="#b68309"/>
<path d="M463.7,230.0 467.7,230.4 463.6,228.1 459.6,227.6Z" fill="#b26e07"/>
<path d="M471.9,232.8 475.9,233.2 471.7,230.9 467.7,230.4Z" fill="#b27a07"/>
<path d="M480.1,235.6 484.0,236.1 479.8,233.7 475.9,233.2Z" fill="#b58808"/>
<path d="M467.9,232.3 471.9,232.8 467.7,230.4 463.7,230.0Z" fill="#b27307"/>
<path d="M476.1,235.2 480.1,235.6 475.9,233.2 471.9,232.8Z" fill="#b27f07"/>
<path d="M472.1,234.7 476.1,235.2 471.9,232.8 467.9,232.3Z" fill="#b27807"/>
<path class="n" d="M472.1,234.7 484.0,236.1 471.5,228.9 459.6,227.6Z"/>
<path d="M447.4,225.1 459.6,227.6 447.2,220.8 435.0,218.4Z" fill="#b25507"/>
<path d="M447.3,222.2 451.3,223.1 447.2,220.8 443.1,220.0Z" fill="#b25907"/>
<path d="M443.2,221.4 447.3,222.2 443.1,220.0 439.1,219.2Z" fill="#b25007"/>
<path d="M451.4,224.5 455.4,225.3 451.3,223.1 447.3,222.2Z" fill="#b25d07"/>
<path d="M439.1,220.6 443.2,221.4 439.1,219.2 435.0,218.4Z" fill="#b24807"/>
<path d="M455.5,226.8 459.6,227.6 455.4,225.3 451.4,224.5Z" fill="#b26207"/>
<path d="M443.2,222.9 447.3,223.7 443.2,221.4 439.1,220.6Z" fill="#b24c07"/>
<path d="M451.5,226.0 455.5,226.8 451.4,224.5 447.3,223.7Z" fill="#b25907"/>
<path d="M447.4,225.1 451.5,226.0 447.3,223.7 443.2,222.9Z" fill="#b25007"/>
<path class="n" d="M447.4,225.1 459.6,227.6 447.2,220.8 435.0,218.4Z"/>
<path d="M422.6,214.7 435.0,218.4 422.7,211.8 410.3,208.2Z" fill="#b22c07"/>
<path d="M422.7,212.8 426.8,214.0 422.7,211.8 418.6,210.6Z" fill="#b23207"/>
<path d="M418.5,211.6 422.7,212.8 418.6,210.6 414.5,209.4Z" fill="#b22807"/>
<path d="M426.8,215.0 430.9,216.2 426.8,214.0 422.7,212.8Z" fill="#b23607"/>
<path d="M414.4,210.4 418.5,211.6 414.5,209.4 410.3,208.2Z" fill="#b21d07"/>
<path d="M430.9,217.2 435.0,218.4 430.9,216.2 426.8,215.0Z" fill="#b23a07"/>
<path d="M418.4,212.5 422.6,213.8 418.5,211.6 414.4,210.4Z" fill="#b22107"/>
<path d="M426.7,215.9 430.9,217.2 426.8,215.0 422.6,213.8Z" fill="#b23007"/>
<path d="M422.6,214.7 426.7,215.9 422.6,213.8 418.4,212.5Z" fill="#b22507"/>
<path class="n" d="M422.6,214.7 435.0,218.4 422.7,211.8 410.3,208.2Z"/>
<path d="M397.6,208.2 410.3,208.2 398.2,202.0 385.5,204.5Z" fill="#b20c07"/>
<path d="M393.8,205.2 398.0,204.6 394.0,202.9 389.8,203.7Z" fill="#b20a07"/>
<path d="M402.0,206.4 406.2,206.2 402.2,204.1 398.0,204.6Z" fill="#b20f07"/>
<path d="M389.6,205.7 393.8,205.2 389.8,203.7 385.5,204.5Z" fill="#b20807"/>
<path d="M406.1,208.2 410.3,208.2 406.2,206.2 402.0,206.4Z" fill="#b21207"/>
<path d="M393.6,206.9 397.8,206.7 393.8,205.2 389.6,205.7Z" fill="#b20807"/>
<path d="M401.9,208.2 406.1,208.2 402.0,206.4 397.8,206.7Z" fill="#b20e07"/>
<path d="M397.6,208.2 401.9,208.2 397.8,206.7 393.6,206.9Z" fill="#b20907"/>
<path class="n" d="M397.6,208.2 410.3,208.2 398.2,202.0 385.5,204.5Z"/>
<path d="M459.9,232.1 472.1,234.7 459.6,227.6 447.4,225.1Z" fill="#b26207"/>
<path d="M459.7,229.1 463.7,230.0 459.6,227.6 455.5,226.8Z" fill="#b26607"/>
<path d="M455.6,228.3 459.7,229.1 455.5,226.8 451.5,226.0Z" fill="#b25d07"/>
<path d="M463.9,231.5 467.9,232.3 463.7,230.0 459.7,229.1Z" fill="#b26b07"/>
<path d="M451.5,227.5 455.6,228.3 451.5,226.0 447.4,225.1Z" fill="#b25507"/>
<path d="M468.0,233.9 472.1,234.7 467.9,232.3 463.9,231.5Z" fill="#b27007"/>
<path d="M455.7,229.8 459.8,230.6 455.6,228.3 451.5,227.5Z" fill="#b25907"/>
<path d="M464.0,233.0 468.0,233.9 463.9,231.5 459.8,230.6Z" fill="#b26707"/>
<path d="M459.9,232.1 464.0,233.0 459.8,230.6 455.7,229.8Z" fill="#b25e07"/>
<path class="n" d="M459.9,232.1 472.1,234.7 459.6,227.6 447.4,225.1Z"/>
<path d="M435.0,221.4 447.4,225.1 435.0,218.4 422.6,214.7Z" fill="#b23807"/>
<path d="M435.0,219.4 439.1,220.6 435.0,218.4 430.9,217.2Z" fill="#b23e07"/>
<path d="M430.8,218.2 435.0,219.4 430.9,217.2 426.7,215.9Z" fill="#b23407"/>
<path d="M439.1,221.6 443.2,222.9 439.1,220.6 435.0,219.4Z" fill="#b24207"/>
<path d="M426.7,216.9 430.8,218.2 426.7,215.9 422.6,214.7Z" fill="#b22907"/>
<path d="M443.3,223.9 447.4,225.1 443.2,222.9 439.1,221.6Z" fill="#b24707"/>
<path d="M430.8,219.1 435.0,220.4 430.8,218.2 426.7,216.9Z" fill="#b22d07"/>
<path d="M439.1,222.6 443.3,223.9 439.1,221.6 435.0,220.4Z" fill="#b23c07"/>
<path d="M435.0,221.4 439.1,222.6 435.0,220.4 430.8,219.1Z" fill="#b23207"/>
<path class="n" d="M435.0,221.4 447.4,225.1 435.0,218.4 422.6,214.7Z"/>
<path d="M409.9,211.8 422.6,214.7 410.3,208.2 397.6,208.2Z" fill="#b21107"/>
<path d="M410.2,210.0 414.4,210.4 410.3,208.2 406.1,208.2Z" fill="#b21507"/>
<path d="M406.0,209.7 410.2,210.0 406.1,208.2 401.9,208.2Z" fill="#b20f07"/>
<path d="M414.3,211.9 418.4,212.5 414.4,210.4 410.2,210.0Z" fill="#b21907"/>
<path d="M401.7,209.4 406.0,209.7 401.9,208.2 397.6,208.2Z" fill="#b20a07"/>
<path d="M418.4,213.7 422.6,214.7 418.4,212.5 414.3,211.9Z" fill="#b21c07"/>
<path d="M405.8,210.6 410.0,211.2 406.0,209.7 401.7,209.4Z" fill="#b20a07"/>
<path d="M414.2,212.8 418.4,213.7 414.3,211.9 410.0,211.2Z" fill="#b21307"/>
<path d="M409.9,211.8 414.2,212.8 410.0,211.2 405.8,210.6Z" fill="#b20b07"/>
<path class="n" d="M409.9,211.8 422.6,214.7 410.3,208.2 397.6,208.2Z"/>
<path d="M447.6,228.3 459.9,232.1 447.4,225.1 435.0,221.4Z" fill="#b24507"/>
<path d="M447.4,226.2 451.5,227.5 447.4,225.1 443.3,223.9Z" fill="#b24b07"/>
<path d="M443.3,224.9 447.4,226.2 443.3,223.9 439.1,222.6Z" fill="#b24007"/>
<path d="M451.6,228.5 455.7,229.8 451.5,227.5 447.4,226.2Z" fill="#b24f07"/>
<path d="M439.2,223.7 443.3,224.9 439.1,222.6 435.0,221.4Z" fill="#b23607"/>
<path d="M455.8,230.9 459.9,232.1 455.7,229.8 451.6,228.5Z" fill="#b25407"/>
<path d="M443.4,226.0 447.5,227.3 443.3,224.9 439.2,223.7Z" fill="#b23a07"/>
<path d="M451.7,229.6 455.8,230.9 451.6,228.5 447.5,227.3Z" fill="#b24907"/>
<path d="M447.6,228.3 451.7,229.6 447.5,227.3 443.4,226.0Z" fill="#b23f07"/>
<path class="n" d="M447.6,228.3 459.9,232.1 447.4,225.1 435.0,221.4Z"/>
<path d="M422.4,216.3 435.0,221.4 422.6,214.7 409.9,211.8Z" fill="#b21807"/>
<path d="M422.5,215.7 426.7,216.9 422.6,214.7 418.4,213.7Z" fill="#b21f07"/>
<path d="M418.3,214.5 422.5,215.7 418.4,213.7 414.2,212.8Z" fill="#b21607"/>
<path d="M426.6,217.7 430.8,219.1 426.7,216.9 422.5,215.7Z" fill="#b22307"/>
<path d="M414.0,213.3 418.3,214.5 414.2,212.8 409.9,211.8Z" fill="#b20c07"/>
<path d="M430.8,219.7 435.0,221.4 430.8,219.1 426.6,217.7Z" fill="#b22707"/>
<path d="M418.2,214.8 422.4,216.3 418.3,214.5 414.0,213.3Z" fill="#b20e07"/>
<path d="M426.6,218.0 430.8,219.7 426.6,217.7 422.4,216.3Z" fill="#b21b07"/>
<path d="M422.4,216.3 426.6,218.0 422.4,216.3 418.2,214.8Z" fill="#b20f07"/>
<path class="n" d="M422.4,216.3 435.0,221.4 422.6,214.7 409.9,211.8Z"/>
<path d="M435.0,223.2 447.6,228.3 435.0,221.4 422.4,216.3Z" fill="#b22307"/>
<path d="M435.0,222.0 439.2,223.7 435.0,221.4 430.8,219.7Z" fill="#b22b07"/>
<path d="M430.8,220.3 435.0,222.0 430.8,219.7 426.6,218.0Z" fill="#b21e07"/>
<path d="M439.2,224.3 443.4,226.0 439.2,223.7 435.0,222.0Z" fill="#b22f07"/>
<path d="M426.5,218.6 430.8,220.3 426.6,218.0 422.4,216.3Z" fill="#b21207"/>
<path d="M443.4,226.6 447.6,228.3 443.4,226.0 439.2,224.3Z" fill="#b23307"/>
<path d="M430.8,220.9 435.0,222.6 430.8,220.3 426.5,218.6Z" fill="#b21607"/>
<path d="M439.2,224.9 443.4,226.6 439.2,224.3 435.0,222.6Z" fill="#b22707"/>
<path d="M435.0,223.2 439.2,224.9 435.0,222.6 430.8,220.9Z" fill="#b21a07"/>
<path class="n" d="M435.0,223.2 447.6,228.3 435.0,221.4 422.4,216.3Z"/>
<line x1="552.8" y1="208.0" x2="552.5" y2="219.8" stroke="#000" stroke-width="0.8"/>
<circle cx="552.8" cy="208.0" r="4.6" fill="#c00a0a" stroke="#3a0000" stroke-width="1"/>
<circle cx="435.0" cy="236.9" r="4.7" fill="#ffc8c8" stroke="#222" stroke-width="1"/>
<circle cx="223.9" cy="370.0" r="2.25" fill="#000"/>
<text x="218.2" y="365.8" font-size="9.7" text-anchor="end" fill="#000" stroke="#000" stroke-width="0.75" textLength="11.3" lengthAdjust="spacingAndGlyphs" >40</text>
<circle cx="221.1" cy="315.5" r="2.25" fill="#000"/>
<text x="215.4" y="311.3" font-size="9.7" text-anchor="end" fill="#000" stroke="#000" stroke-width="0.75" textLength="11.3" lengthAdjust="spacingAndGlyphs" >55</text>
<circle cx="218.3" cy="261.0" r="2.25" fill="#000"/>
<text x="212.6" y="256.8" font-size="9.7" text-anchor="end" fill="#000" stroke="#000" stroke-width="0.75" textLength="11.3" lengthAdjust="spacingAndGlyphs" >70</text>
<circle cx="215.5" cy="206.5" r="2.25" fill="#000"/>
<text x="209.8" y="202.3" font-size="9.7" text-anchor="end" fill="#000" stroke="#000" stroke-width="0.75" textLength="11.3" lengthAdjust="spacingAndGlyphs" >85</text>
<circle cx="212.7" cy="152.0" r="2.25" fill="#000"/>
<text x="207.0" y="147.8" font-size="9.7" text-anchor="end" fill="#000" stroke="#000" stroke-width="0.75" textLength="15.4" lengthAdjust="spacingAndGlyphs" >100</text>
<circle cx="227.4" cy="439.0" r="2.25" fill="#000"/>
<text x="221.4" y="449.7" font-size="10.3" text-anchor="end" fill="#000" stroke="#000" stroke-width="0.7" textLength="20.2" lengthAdjust="spacingAndGlyphs" >0.15</text>
<circle cx="435.0" cy="537.2" r="2.25" fill="#000"/>
<text x="441.5" y="547.9" font-size="10.3" fill="#000" stroke="#000" stroke-width="0.7" textLength="10.8" lengthAdjust="spacingAndGlyphs" >50</text>
<circle cx="268.9" cy="458.6" r="2.25" fill="#000"/>
<text x="262.9" y="469.3" font-size="10.3" text-anchor="end" fill="#000" stroke="#000" stroke-width="0.7" textLength="20.2" lengthAdjust="spacingAndGlyphs" >0.13</text>
<circle cx="476.5" cy="517.3" r="2.25" fill="#000"/>
<text x="483.0" y="528.0" font-size="10.3" fill="#000" stroke="#000" stroke-width="0.7" textLength="10.8" lengthAdjust="spacingAndGlyphs" >70</text>
<circle cx="310.4" cy="478.3" r="2.25" fill="#000"/>
<text x="304.4" y="489.0" font-size="10.3" text-anchor="end" fill="#000" stroke="#000" stroke-width="0.7" textLength="20.2" lengthAdjust="spacingAndGlyphs" >0.11</text>
<circle cx="518.1" cy="497.4" r="2.25" fill="#000"/>
<text x="524.6" y="508.1" font-size="10.3" fill="#000" stroke="#000" stroke-width="0.7" textLength="10.8" lengthAdjust="spacingAndGlyphs" >90</text>
<circle cx="352.0" cy="497.9" r="2.25" fill="#000"/>
<text x="346.0" y="508.6" font-size="10.3" text-anchor="end" fill="#000" stroke="#000" stroke-width="0.7" textLength="20.2" lengthAdjust="spacingAndGlyphs" >0.09</text>
<circle cx="559.6" cy="477.5" r="2.25" fill="#000"/>
<text x="566.1" y="488.2" font-size="10.3" fill="#000" stroke="#000" stroke-width="0.7" textLength="17.2" lengthAdjust="spacingAndGlyphs" >110</text>
<circle cx="393.5" cy="517.6" r="2.25" fill="#000"/>
<text x="387.5" y="528.3" font-size="10.3" text-anchor="end" fill="#000" stroke="#000" stroke-width="0.7" textLength="20.2" lengthAdjust="spacingAndGlyphs" >0.07</text>
<circle cx="601.2" cy="457.6" r="2.25" fill="#000"/>
<text x="607.7" y="468.3" font-size="10.3" fill="#000" stroke="#000" stroke-width="0.7" textLength="17.2" lengthAdjust="spacingAndGlyphs" >130</text>
<circle cx="435.0" cy="537.2" r="2.25" fill="#000"/>
<text x="429.0" y="547.9" font-size="10.3" text-anchor="end" fill="#000" stroke="#000" stroke-width="0.7" textLength="20.2" lengthAdjust="spacingAndGlyphs" >0.05</text>
<circle cx="642.7" cy="437.7" r="2.25" fill="#000"/>
<text x="649.2" y="448.4" font-size="10.3" fill="#000" stroke="#000" stroke-width="0.7" textLength="17.2" lengthAdjust="spacingAndGlyphs" >150</text>
</g>
<text x="471.6" y="23.5" font-size="15.6" text-anchor="middle" fill="#000" stroke="#000" stroke-width="0.7" textLength="81.9" lengthAdjust="spacingAndGlyphs" >3D Surface</text>
<text x="180.1" y="526.1" font-size="10.3" fill="#000" stroke="#000" textLength="142.0" lengthAdjust="spacingAndGlyphs" >C: Adsorbent dose (g/100ml)</text>
<text x="550.2" y="526.1" font-size="10.3" fill="#000" stroke="#000" textLength="138.0" lengthAdjust="spacingAndGlyphs" >B: Dye concentration (mg/L)</text>
<text x="146.2" y="352.4" font-size="10.3" fill="#000" stroke="#000" stroke-width="0.8" textLength="108.5" lengthAdjust="spacingAndGlyphs" transform="rotate(-90 146.2 352.4)" >Removal efficiency (%)</text>
<text x="359.5" y="595.5" font-size="21" text-anchor="middle" font-weight="bold" fill="#000" stroke="#000" stroke-width=".3" style="font-family:Liberation Serif, Times New Roman, serif;stroke:none" >(a)</text>
<g id="contour2d">
<rect x="199.1" y="650.6" width="488.1" height="488.6" fill="#ff0000"/>
<path d="M199.1,1139.2 203.2,1139.2 207.2,1139.2 211.3,1139.2 215.4,1139.2 219.4,1139.2 223.5,1139.2 227.6,1139.2 231.6,1139.2 235.7,1139.2 239.8,1139.2 243.8,1139.2 247.9,1139.2 252.0,1139.2 256.0,1139.2 260.1,1139.2 264.2,1139.2 268.2,1139.2 272.3,1139.2 276.4,1139.2 280.5,1139.2 284.5,1139.2 288.6,1139.2 292.7,1139.2 296.7,1139.2 300.8,1139.2 304.9,1139.2 308.9,1139.2 313.0,1139.2 317.1,1139.2 321.1,1139.2 325.2,1139.2 329.3,1139.2 333.3,1139.2 337.4,1139.2 341.5,1139.2 345.5,1139.2 349.6,1139.2 353.7,1139.2 357.7,1139.2 361.8,1139.2 365.9,1139.2 369.9,1139.2 374.0,1139.2 378.1,1139.2 382.1,1139.2 386.2,1139.2 390.3,1139.2 394.3,1139.2 398.4,1139.2 402.5,1139.2 406.5,1139.2 410.6,1139.2 414.7,1139.2 418.7,1139.2 422.8,1139.2 426.9,1139.2 430.9,1139.2 435.0,1139.2 439.1,1139.2 443.1,1139.2 447.2,1139.2 451.3,1139.2 455.4,1139.2 459.4,1139.2 463.5,1139.2 467.6,1139.2 471.6,1139.2 475.7,1139.2 479.8,1139.2 483.8,1139.2 487.9,1139.2 492.0,1139.2 496.0,1139.2 500.1,1139.2 504.2,1139.2 508.2,1139.2 512.3,1139.2 516.4,1139.2 520.4,1139.2 524.5,1139.2 528.6,1139.2 532.6,1139.2 536.7,1139.2 540.8,1139.2 544.8,1139.2 548.9,1139.2 553.0,1139.2 557.0,1139.2 561.1,1139.2 565.2,1139.2 569.2,1139.2 573.3,1139.2 577.4,1139.2 581.4,1139.2 585.5,1139.2 589.6,1139.2 590.8,1139.2 589.6,1136.8 588.7,1135.1 586.7,1131.1 585.5,1128.7 584.6,1127.0 582.5,1122.9 581.4,1120.7 580.5,1118.8 578.4,1114.8 577.4,1112.7 576.3,1110.7 574.2,1106.6 573.3,1104.8 572.2,1102.6 570.1,1098.5 569.2,1096.9 568.0,1094.4 565.9,1090.3 565.2,1089.0 563.8,1086.3 561.7,1082.2 561.1,1081.1 559.6,1078.1 557.5,1074.1 557.0,1073.2 555.3,1070.0 553.2,1065.9 553.0,1065.4 551.1,1061.8 549.0,1057.8 548.9,1057.6 546.8,1053.7 544.8,1049.9 544.7,1049.6 542.5,1045.6 540.8,1042.2 540.4,1041.5 538.2,1037.4 536.7,1034.5 536.1,1033.3 533.9,1029.3 532.6,1026.8 531.8,1025.2 529.6,1021.1 528.6,1019.2 527.4,1017.1 525.2,1013.0 524.5,1011.6 523.0,1008.9 520.8,1004.8 520.4,1004.1 518.6,1000.8 516.4,996.7 516.4,996.6 514.2,992.6 512.3,989.2 511.9,988.5 509.7,984.5 508.2,981.8 507.4,980.4 505.2,976.3 504.2,974.5 502.9,972.3 500.6,968.2 500.1,967.2 498.3,964.1 496.0,960.0 496.0,960.0 493.7,956.0 492.0,952.9 491.4,951.9 489.1,947.8 487.9,945.8 486.7,943.8 484.3,939.7 483.8,938.8 482.0,935.6 479.8,931.8 479.6,931.5 477.2,927.5 475.7,925.0 474.7,923.4 472.3,919.3 471.6,918.2 469.8,915.3 467.6,911.5 467.4,911.2 464.8,907.1 463.5,904.9 462.3,903.0 459.8,899.0 459.4,898.4 457.2,894.9 455.4,892.0 454.6,890.8 451.9,886.8 451.3,885.7 449.3,882.7 447.2,879.6 446.6,878.6 443.8,874.5 443.1,873.5 441.0,870.5 439.1,867.6 438.2,866.4 435.3,862.3 435.0,861.9 432.4,858.3 430.9,856.3 429.4,854.2 426.9,850.8 426.3,850.1 423.2,846.0 422.8,845.6 419.9,842.0 418.7,840.5 416.6,837.9 414.7,835.6 413.1,833.8 410.6,830.9 409.5,829.8 406.5,826.5 405.8,825.7 402.5,822.2 401.8,821.6 398.4,818.3 397.6,817.5 394.3,814.6 393.0,813.5 390.3,811.2 387.9,809.4 386.2,808.1 382.2,805.3 382.1,805.3 378.1,802.8 375.0,801.3 374.0,800.8 369.9,799.0 365.9,797.7 363.4,797.2 361.8,796.8 357.7,796.4 353.7,796.3 349.6,796.8 347.8,797.2 345.5,797.7 341.5,799.1 337.4,801.0 337.0,801.3 333.3,803.5 330.8,805.3 329.3,806.4 325.7,809.4 325.2,809.9 321.5,813.5 321.1,813.8 317.8,817.5 317.1,818.3 314.4,821.6 313.0,823.3 311.2,825.7 308.9,828.8 308.3,829.8 305.5,833.8 304.9,834.8 302.9,837.9 300.8,841.3 300.4,842.0 298.0,846.0 296.7,848.2 295.7,850.1 293.4,854.2 292.7,855.6 291.3,858.3 289.1,862.3 288.6,863.4 287.1,866.4 285.1,870.5 284.5,871.6 283.1,874.5 281.2,878.6 280.5,880.2 279.3,882.7 277.5,886.8 276.4,889.2 275.7,890.8 273.9,894.9 272.3,898.5 272.1,899.0 270.4,903.0 268.7,907.1 268.2,908.2 267.0,911.2 265.4,915.3 264.2,918.2 263.7,919.3 262.1,923.4 260.5,927.5 260.1,928.5 258.9,931.5 257.4,935.6 256.0,939.0 255.8,939.7 254.3,943.8 252.8,947.8 252.0,949.9 251.2,951.9 249.8,956.0 248.3,960.0 247.9,961.0 246.8,964.1 245.3,968.2 243.9,972.3 243.8,972.3 242.4,976.3 241.0,980.4 239.8,983.9 239.6,984.5 238.2,988.5 236.8,992.6 235.7,995.6 235.3,996.7 234.0,1000.8 232.6,1004.8 231.6,1007.6 231.2,1008.9 229.8,1013.0 228.5,1017.1 227.6,1019.7 227.1,1021.1 225.8,1025.2 224.4,1029.3 223.5,1032.0 223.1,1033.3 221.8,1037.4 220.4,1041.5 219.4,1044.5 219.1,1045.6 217.8,1049.6 216.5,1053.7 215.4,1057.1 215.2,1057.8 213.9,1061.8 212.6,1065.9 211.3,1069.9 211.3,1070.0 210.0,1074.1 208.7,1078.1 207.4,1082.2 207.2,1082.8 206.1,1086.3 204.9,1090.3 203.6,1094.4 203.2,1095.8 202.3,1098.5 201.1,1102.6 199.8,1106.6 199.1,1108.9 199.1,1110.7 199.1,1114.8 199.1,1118.8 199.1,1122.9 199.1,1127.0 199.1,1131.1 199.1,1135.1 199.1,1139.2Z" fill="#ff0300"/>
<path d="M199.1,1139.2 203.2,1139.2 207.2,1139.2 211.3,1139.2 215.4,1139.2 219.4,1139.2 223.5,1139.2 227.6,1139.2 231.6,1139.2 235.7,1139.2 239.8,1139.2 243.8,1139.2 247.9,1139.2 252.0,1139.2 256.0,1139.2 260.1,1139.2 264.2,1139.2 268.2,1139.2 272.3,1139.2 276.4,1139.2 280.5,1139.2 284.5,1139.2 288.6,1139.2 292.7,1139.2 296.7,1139.2 300.8,1139.2 304.9,1139.2 308.9,1139.2 313.0,1139.2 317.1,1139.2 321.1,1139.2 325.2,1139.2 329.3,1139.2 333.3,1139.2 337.4,1139.2 341.5,1139.2 345.5,1139.2 349.6,1139.2 353.7,1139.2 357.7,1139.2 361.8,1139.2 365.9,1139.2 369.9,1139.2 374.0,1139.2 378.1,1139.2 382.1,1139.2 386.2,1139.2 390.3,1139.2 394.3,1139.2 398.4,1139.2 402.5,1139.2 406.5,1139.2 410.6,1139.2 414.7,1139.2 418.7,1139.2 422.8,1139.2 426.9,1139.2 430.9,1139.2 435.0,1139.2 439.1,1139.2 443.1,1139.2 447.2,1139.2 451.3,1139.2 455.4,1139.2 459.4,1139.2 463.5,1139.2 467.6,1139.2 471.6,1139.2 475.7,1139.2 479.8,1139.2 483.8,1139.2 487.9,1139.2 492.0,1139.2 496.0,1139.2 500.1,1139.2 504.2,1139.2 508.2,1139.2 512.3,1139.2 516.4,1139.2 520.4,1139.2 524.5,1139.2 528.6,1139.2 532.6,1139.2 536.7,1139.2 540.8,1139.2 544.8,1139.2 548.9,1139.2 553.0,1139.2 557.0,1139.2 561.1,1139.2 565.2,1139.2 569.2,1139.2 573.3,1139.2 577.4,1139.2 581.4,1139.2 585.5,1139.2 588.3,1139.2 586.2,1135.1 585.5,1133.8 584.1,1131.1 582.0,1127.0 581.4,1125.8 579.9,1122.9 577.8,1118.8 577.4,1117.9 575.7,1114.8 573.6,1110.7 573.3,1110.0 571.5,1106.6 569.4,1102.6 569.2,1102.2 567.3,1098.5 565.2,1094.4 565.2,1094.4 563.1,1090.3 561.1,1086.6 561.0,1086.3 558.8,1082.2 557.0,1078.8 556.7,1078.1 554.5,1074.1 553.0,1071.1 552.4,1070.0 550.2,1065.9 548.9,1063.4 548.1,1061.8 545.9,1057.8 544.8,1055.7 543.8,1053.7 541.6,1049.6 540.8,1048.1 539.4,1045.6 537.2,1041.5 536.7,1040.5 535.0,1037.4 532.9,1033.3 532.6,1032.9 530.6,1029.3 528.6,1025.4 528.4,1025.2 526.2,1021.1 524.5,1017.9 524.0,1017.1 521.8,1013.0 520.4,1010.5 519.5,1008.9 517.3,1004.8 516.4,1003.2 515.0,1000.8 512.8,996.7 512.3,995.8 510.5,992.6 508.2,988.6 508.2,988.5 505.9,984.5 504.2,981.4 503.6,980.4 501.3,976.3 500.1,974.2 499.0,972.3 496.6,968.2 496.0,967.1 494.3,964.1 492.0,960.1 491.9,960.0 489.5,956.0 487.9,953.2 487.1,951.9 484.7,947.8 483.8,946.3 482.3,943.8 479.9,939.7 479.8,939.5 477.4,935.6 475.7,932.8 474.9,931.5 472.4,927.5 471.6,926.2 469.9,923.4 467.6,919.6 467.4,919.3 464.8,915.3 463.5,913.2 462.2,911.2 459.6,907.1 459.4,906.9 456.9,903.0 455.4,900.6 454.2,899.0 451.5,894.9 451.3,894.5 448.8,890.8 447.2,888.5 446.0,886.8 443.1,882.7 443.1,882.7 440.2,878.6 439.1,877.0 437.3,874.5 435.0,871.4 434.3,870.5 431.2,866.4 430.9,866.0 428.1,862.3 426.9,860.8 424.8,858.3 422.8,855.7 421.5,854.2 418.7,850.8 418.1,850.1 414.7,846.2 414.6,846.0 410.8,842.0 410.6,841.7 406.9,837.9 406.5,837.5 402.8,833.8 402.5,833.5 398.4,829.8 398.4,829.7 394.3,826.3 393.6,825.7 390.3,823.1 388.2,821.6 386.2,820.2 382.1,817.6 382.0,817.5 378.1,815.4 374.0,813.5 373.8,813.5 369.9,812.0 365.9,810.9 361.8,810.2 357.7,809.9 353.7,810.0 349.6,810.6 345.5,811.6 341.5,813.1 340.7,813.5 337.4,815.1 333.4,817.5 333.3,817.6 329.3,820.5 328.0,821.6 325.2,824.0 323.4,825.7 321.1,827.9 319.5,829.8 317.1,832.4 315.9,833.8 313.0,837.3 312.5,837.9 309.5,842.0 308.9,842.7 306.6,846.0 304.9,848.6 303.9,850.1 301.3,854.2 300.8,854.9 298.8,858.3 296.7,861.7 296.4,862.3 294.1,866.4 292.7,868.9 291.8,870.5 289.6,874.5 288.6,876.5 287.5,878.6 285.5,882.7 284.5,884.5 283.4,886.8 281.5,890.8 280.5,892.9 279.5,894.9 277.7,899.0 276.4,901.7 275.8,903.0 274.0,907.1 272.3,910.8 272.2,911.2 270.4,915.3 268.7,919.3 268.2,920.3 267.0,923.4 265.3,927.5 264.2,930.0 263.6,931.5 261.9,935.6 260.3,939.7 260.1,940.1 258.7,943.8 257.1,947.8 256.0,950.5 255.5,951.9 253.9,956.0 252.4,960.0 252.0,961.1 250.8,964.1 249.3,968.2 247.9,972.0 247.8,972.3 246.3,976.3 244.8,980.4 243.8,983.1 243.3,984.5 241.9,988.5 240.4,992.6 239.8,994.4 239.0,996.7 237.5,1000.8 236.1,1004.8 235.7,1005.9 234.7,1008.9 233.3,1013.0 231.9,1017.0 231.6,1017.7 230.5,1021.1 229.1,1025.2 227.7,1029.3 227.6,1029.6 226.3,1033.3 225.0,1037.4 223.6,1041.5 223.5,1041.7 222.2,1045.6 220.9,1049.6 219.5,1053.7 219.4,1054.0 218.2,1057.8 216.9,1061.8 215.5,1065.9 215.4,1066.4 214.2,1070.0 212.9,1074.1 211.6,1078.1 211.3,1079.0 210.3,1082.2 209.0,1086.3 207.7,1090.3 207.2,1091.7 206.4,1094.4 205.1,1098.5 203.8,1102.6 203.2,1104.6 202.5,1106.6 201.2,1110.7 200.0,1114.8 199.1,1117.5 199.1,1118.8 199.1,1122.9 199.1,1127.0 199.1,1131.1 199.1,1135.1 199.1,1139.2Z" fill="#ff0800"/>
<path d="M199.1,1139.2 203.2,1139.2 207.2,1139.2 211.3,1139.2 215.4,1139.2 219.4,1139.2 223.5,1139.2 227.6,1139.2 231.6,1139.2 235.7,1139.2 239.8,1139.2 243.8,1139.2 247.9,1139.2 252.0,1139.2 256.0,1139.2 260.1,1139.2 264.2,1139.2 268.2,1139.2 272.3,1139.2 276.4,1139.2 280.5,1139.2 284.5,1139.2 288.6,1139.2 292.7,1139.2 296.7,1139.2 300.8,1139.2 304.9,1139.2 308.9,1139.2 313.0,1139.2 317.1,1139.2 321.1,1139.2 325.2,1139.2 329.3,1139.2 333.3,1139.2 337.4,1139.2 341.5,1139.2 345.5,1139.2 349.6,1139.2 353.7,1139.2 357.7,1139.2 361.8,1139.2 365.9,1139.2 369.9,1139.2 374.0,1139.2 378.1,1139.2 382.1,1139.2 386.2,1139.2 390.3,1139.2 394.3,1139.2 398.4,1139.2 402.5,1139.2 406.5,1139.2 410.6,1139.2 414.7,1139.2 418.7,1139.2 422.8,1139.2 426.9,1139.2 430.9,1139.2 435.0,1139.2 439.1,1139.2 443.1,1139.2 447.2,1139.2 451.3,1139.2 455.4,1139.2 459.4,1139.2 463.5,1139.2 467.6,1139.2 471.6,1139.2 475.7,1139.2 479.8,1139.2 483.8,1139.2 487.9,1139.2 492.0,1139.2 496.0,1139.2 500.1,1139.2 504.2,1139.2 508.2,1139.2 512.3,1139.2 516.4,1139.2 520.4,1139.2 524.5,1139.2 528.6,1139.2 532.6,1139.2 536.7,1139.2 540.8,1139.2 544.8,1139.2 548.9,1139.2 553.0,1139.2 557.0,1139.2 561.1,1139.2 565.2,1139.2 569.2,1139.2 573.3,1139.2 577.4,1139.2 581.4,1139.2 585.5,1139.2 585.7,1139.2 585.5,1138.8 583.6,1135.1 581.5,1131.1 581.4,1130.9 579.4,1127.0 577.4,1123.1 577.3,1122.9 575.2,1118.8 573.3,1115.2 573.1,1114.8 570.9,1110.7 569.2,1107.5 568.8,1106.6 566.7,1102.6 565.2,1099.7 564.5,1098.5 562.4,1094.4 561.1,1092.0 560.2,1090.3 558.1,1086.3 557.0,1084.3 555.9,1082.2 553.7,1078.1 553.0,1076.7 551.6,1074.1 549.4,1070.0 548.9,1069.0 547.2,1065.9 545.0,1061.8 544.8,1061.5 542.8,1057.8 540.8,1053.9 540.6,1053.7 538.4,1049.6 536.7,1046.4 536.2,1045.6 534.0,1041.5 532.6,1039.0 531.8,1037.4 529.5,1033.3 528.6,1031.6 527.3,1029.3 525.0,1025.2 524.5,1024.2 522.8,1021.1 520.5,1017.1 520.4,1016.9 518.2,1013.0 516.4,1009.6 516.0,1008.9 513.7,1004.8 512.3,1002.4 511.4,1000.8 509.0,996.7 508.2,995.3 506.7,992.6 504.4,988.5 504.2,988.2 502.0,984.5 500.1,981.1 499.7,980.4 497.3,976.3 496.0,974.2 494.9,972.3 492.5,968.2 492.0,967.3 490.1,964.1 487.9,960.5 487.6,960.0 485.2,956.0 483.8,953.7 482.7,951.9 480.2,947.8 479.8,947.0 477.7,943.8 475.7,940.5 475.2,939.7 472.6,935.6 471.6,934.0 470.0,931.5 467.6,927.6 467.5,927.5 464.8,923.4 463.5,921.3 462.2,919.3 459.5,915.3 459.4,915.2 456.7,911.2 455.4,909.1 454.0,907.1 451.3,903.2 451.2,903.0 448.3,899.0 447.2,897.3 445.5,894.9 443.1,891.7 442.5,890.8 439.5,886.8 439.1,886.1 436.5,882.7 435.0,880.7 433.3,878.6 430.9,875.5 430.1,874.5 426.9,870.5 426.9,870.5 423.5,866.4 422.8,865.6 419.9,862.3 418.7,860.9 416.3,858.3 414.7,856.5 412.5,854.2 410.6,852.2 408.5,850.1 406.5,848.2 404.2,846.0 402.5,844.4 399.7,842.0 398.4,840.9 394.7,837.9 394.3,837.6 390.3,834.6 389.1,833.8 386.2,831.9 382.5,829.8 382.1,829.6 378.1,827.5 374.0,825.8 373.5,825.7 369.9,824.5 365.9,823.5 361.8,823.0 357.7,822.8 353.7,823.1 349.6,823.8 345.5,824.9 343.5,825.7 341.5,826.5 337.4,828.5 335.4,829.8 333.3,831.0 329.5,833.8 329.3,834.0 325.2,837.5 324.8,837.9 321.1,841.4 320.6,842.0 317.1,845.8 316.9,846.0 313.5,850.1 313.0,850.7 310.3,854.2 308.9,856.0 307.3,858.3 304.9,861.8 304.5,862.3 301.8,866.4 300.8,868.0 299.3,870.5 296.8,874.5 296.7,874.6 294.4,878.6 292.7,881.7 292.1,882.7 289.9,886.8 288.6,889.1 287.7,890.8 285.6,894.9 284.5,897.0 283.5,899.0 281.5,903.0 280.5,905.2 279.6,907.1 277.6,911.2 276.4,913.8 275.7,915.3 273.9,919.3 272.3,922.7 272.0,923.4 270.2,927.5 268.4,931.5 268.2,932.0 266.7,935.6 265.0,939.7 264.2,941.5 263.3,943.8 261.6,947.8 260.1,951.4 259.9,951.9 258.3,956.0 256.7,960.0 256.0,961.6 255.0,964.1 253.5,968.2 252.0,972.0 251.9,972.3 250.3,976.3 248.8,980.4 247.9,982.6 247.2,984.5 245.7,988.5 244.2,992.6 243.8,993.5 242.7,996.7 241.2,1000.8 239.8,1004.7 239.7,1004.8 238.3,1008.9 236.8,1013.0 235.7,1016.0 235.3,1017.1 233.9,1021.1 232.5,1025.2 231.6,1027.6 231.1,1029.3 229.6,1033.3 228.2,1037.4 227.6,1039.3 226.8,1041.5 225.4,1045.6 224.1,1049.6 223.5,1051.2 222.7,1053.7 221.3,1057.8 219.9,1061.8 219.4,1063.3 218.6,1065.9 217.2,1070.0 215.9,1074.1 215.4,1075.5 214.5,1078.1 213.2,1082.2 211.9,1086.3 211.3,1087.9 210.5,1090.3 209.2,1094.4 207.9,1098.5 207.2,1100.5 206.6,1102.6 205.3,1106.6 204.0,1110.7 203.2,1113.2 202.7,1114.8 201.4,1118.8 200.1,1122.9 199.1,1126.0 199.1,1127.0 199.1,1131.1 199.1,1135.1 199.1,1139.2Z" fill="#ff0d00"/>
<path d="M199.1,1139.2 203.2,1139.2 207.2,1139.2 211.3,1139.2 215.4,1139.2 219.4,1139.2 223.5,1139.2 227.6,1139.2 231.6,1139.2 235.7,1139.2 239.8,1139.2 243.8,1139.2 247.9,1139.2 252.0,1139.2 256.0,1139.2 260.1,1139.2 264.2,1139.2 268.2,1139.2 272.3,1139.2 276.4,1139.2 280.5,1139.2 284.5,1139.2 288.6,1139.2 292.7,1139.2 296.7,1139.2 300.8,1139.2 304.9,1139.2 308.9,1139.2 313.0,1139.2 317.1,1139.2 321.1,1139.2 325.2,1139.2 329.3,1139.2 333.3,1139.2 337.4,1139.2 341.5,1139.2 345.5,1139.2 349.6,1139.2 353.7,1139.2 357.7,1139.2 361.8,1139.2 365.9,1139.2 369.9,1139.2 374.0,1139.2 378.1,1139.2 382.1,1139.2 386.2,1139.2 390.3,1139.2 394.3,1139.2 398.4,1139.2 402.5,1139.2 406.5,1139.2 410.6,1139.2 414.7,1139.2 418.7,1139.2 422.8,1139.2 426.9,1139.2 430.9,1139.2 435.0,1139.2 439.1,1139.2 443.1,1139.2 447.2,1139.2 451.3,1139.2 455.4,1139.2 459.4,1139.2 463.5,1139.2 467.6,1139.2 471.6,1139.2 475.7,1139.2 479.8,1139.2 483.8,1139.2 487.9,1139.2 492.0,1139.2 496.0,1139.2 500.1,1139.2 504.2,1139.2 508.2,1139.2 512.3,1139.2 516.4,1139.2 520.4,1139.2 524.5,1139.2 528.6,1139.2 532.6,1139.2 536.7,1139.2 540.8,1139.2 544.8,1139.2 548.9,1139.2 553.0,1139.2 557.0,1139.2 561.1,1139.2 565.2,1139.2 569.2,1139.2 573.3,1139.2 577.4,1139.2 581.4,1139.2 583.1,1139.2 581.4,1135.9 581.0,1135.1 578.9,1131.1 577.4,1128.2 576.8,1127.0 574.6,1122.9 573.3,1120.4 572.5,1118.8 570.3,1114.8 569.2,1112.7 568.2,1110.7 566.0,1106.6 565.2,1105.0 563.8,1102.6 561.7,1098.5 561.1,1097.4 559.5,1094.4 557.3,1090.3 557.0,1089.8 555.1,1086.3 553.0,1082.2 553.0,1082.2 550.7,1078.1 548.9,1074.7 548.6,1074.1 546.3,1070.0 544.8,1067.2 544.1,1065.9 541.9,1061.8 540.8,1059.7 539.7,1057.8 537.4,1053.7 536.7,1052.3 535.2,1049.6 533.0,1045.6 532.6,1045.0 530.7,1041.5 528.6,1037.7 528.4,1037.4 526.1,1033.3 524.5,1030.4 523.9,1029.3 521.6,1025.2 520.4,1023.2 519.3,1021.1 517.0,1017.1 516.4,1016.0 514.6,1013.0 512.3,1008.9 512.3,1008.9 509.9,1004.8 508.2,1001.9 507.6,1000.8 505.2,996.7 504.2,994.9 502.8,992.6 500.4,988.5 500.1,988.0 498.0,984.5 496.0,981.1 495.6,980.4 493.1,976.3 492.0,974.3 490.7,972.3 488.2,968.2 487.9,967.6 485.7,964.1 483.8,961.0 483.2,960.0 480.7,956.0 479.8,954.5 478.1,951.9 475.7,948.1 475.5,947.8 472.9,943.8 471.6,941.7 470.3,939.7 467.6,935.6 467.6,935.5 464.9,931.5 463.5,929.3 462.2,927.5 459.5,923.4 459.4,923.3 456.7,919.3 455.4,917.4 453.8,915.3 451.3,911.6 451.0,911.2 448.0,907.1 447.2,906.0 445.0,903.0 443.1,900.5 442.0,899.0 439.1,895.1 438.9,894.9 435.7,890.8 435.0,889.9 432.5,886.8 430.9,884.8 429.1,882.7 426.9,880.0 425.7,878.6 422.8,875.3 422.1,874.5 418.7,870.8 418.4,870.5 414.7,866.5 414.6,866.4 410.6,862.4 410.5,862.3 406.5,858.6 406.2,858.3 402.5,855.0 401.5,854.2 398.4,851.6 396.4,850.1 394.3,848.6 390.6,846.0 390.3,845.8 386.2,843.3 383.8,842.0 382.1,841.1 378.1,839.2 374.5,837.9 374.0,837.7 369.9,836.5 365.9,835.7 361.8,835.3 357.7,835.3 353.7,835.7 349.6,836.4 345.5,837.7 345.0,837.9 341.5,839.3 337.4,841.4 336.5,842.0 333.3,844.0 330.5,846.0 329.3,847.0 325.6,850.1 325.2,850.4 321.3,854.2 321.1,854.3 317.5,858.3 317.1,858.7 314.0,862.3 313.0,863.5 310.7,866.4 308.9,868.7 307.7,870.5 304.9,874.4 304.8,874.5 302.1,878.6 300.8,880.5 299.4,882.7 296.9,886.8 296.7,887.1 294.5,890.8 292.7,894.0 292.1,894.9 289.9,899.0 288.6,901.3 287.7,903.0 285.5,907.1 284.5,909.0 283.4,911.2 281.4,915.3 280.5,917.1 279.4,919.3 277.4,923.4 276.4,925.5 275.5,927.5 273.6,931.5 272.3,934.2 271.7,935.6 269.9,939.7 268.2,943.3 268.1,943.8 266.3,947.8 264.5,951.9 264.2,952.7 262.8,956.0 261.1,960.0 260.1,962.4 259.4,964.1 257.7,968.2 256.1,972.3 256.0,972.3 254.5,976.3 252.8,980.4 252.0,982.5 251.2,984.5 249.7,988.5 248.1,992.6 247.9,993.0 246.5,996.7 245.0,1000.8 243.8,1003.7 243.4,1004.8 241.9,1008.9 240.4,1013.0 239.8,1014.7 238.9,1017.1 237.4,1021.1 235.9,1025.2 235.7,1025.8 234.5,1029.3 233.0,1033.3 231.6,1037.2 231.6,1037.4 230.1,1041.5 228.7,1045.6 227.6,1048.8 227.3,1049.6 225.9,1053.7 224.5,1057.8 223.5,1060.5 223.1,1061.8 221.7,1065.9 220.3,1070.0 219.4,1072.4 218.9,1074.1 217.5,1078.1 216.1,1082.2 215.4,1084.5 214.8,1086.3 213.4,1090.3 212.1,1094.4 211.3,1096.7 210.7,1098.5 209.4,1102.6 208.1,1106.6 207.2,1109.1 206.7,1110.7 205.4,1114.8 204.1,1118.8 203.2,1121.6 202.8,1122.9 201.4,1127.0 200.1,1131.1 199.1,1134.3 199.1,1135.1 199.1,1139.2Z" fill="#ff1200"/>
<path d="M200.2,1139.2 203.2,1139.2 207.2,1139.2 211.3,1139.2 215.4,1139.2 219.4,1139.2 223.5,1139.2 227.6,1139.2 231.6,1139.2 235.7,1139.2 239.8,1139.2 243.8,1139.2 247.9,1139.2 252.0,1139.2 256.0,1139.2 260.1,1139.2 264.2,1139.2 268.2,1139.2 272.3,1139.2 276.4,1139.2 280.5,1139.2 284.5,1139.2 288.6,1139.2 292.7,1139.2 296.7,1139.2 300.8,1139.2 304.9,1139.2 308.9,1139.2 313.0,1139.2 317.1,1139.2 321.1,1139.2 325.2,1139.2 329.3,1139.2 333.3,1139.2 337.4,1139.2 341.5,1139.2 345.5,1139.2 349.6,1139.2 353.7,1139.2 357.7,1139.2 361.8,1139.2 365.9,1139.2 369.9,1139.2 374.0,1139.2 378.1,1139.2 382.1,1139.2 386.2,1139.2 390.3,1139.2 394.3,1139.2 398.4,1139.2 402.5,1139.2 406.5,1139.2 410.6,1139.2 414.7,1139.2 418.7,1139.2 422.8,1139.2 426.9,1139.2 430.9,1139.2 435.0,1139.2 439.1,1139.2 443.1,1139.2 447.2,1139.2 451.3,1139.2 455.4,1139.2 459.4,1139.2 463.5,1139.2 467.6,1139.2 471.6,1139.2 475.7,1139.2 479.8,1139.2 483.8,1139.2 487.9,1139.2 492.0,1139.2 496.0,1139.2 500.1,1139.2 504.2,1139.2 508.2,1139.2 512.3,1139.2 516.4,1139.2 520.4,1139.2 524.5,1139.2 528.6,1139.2 532.6,1139.2 536.7,1139.2 540.8,1139.2 544.8,1139.2 548.9,1139.2 553.0,1139.2 557.0,1139.2 561.1,1139.2 565.2,1139.2 569.2,1139.2 573.3,1139.2 577.4,1139.2 580.5,1139.2 578.4,1135.1 577.4,1133.2 576.2,1131.1 574.1,1127.0 573.3,1125.6 571.9,1122.9 569.7,1118.8 569.2,1117.9 567.5,1114.8 565.4,1110.7 565.2,1110.3 563.2,1106.6 561.1,1102.8 561.0,1102.6 558.8,1098.5 557.0,1095.2 556.6,1094.4 554.4,1090.3 553.0,1087.7 552.2,1086.3 549.9,1082.2 548.9,1080.3 547.7,1078.1 545.5,1074.1 544.8,1072.9 543.2,1070.0 541.0,1065.9 540.8,1065.5 538.7,1061.8 536.7,1058.2 536.5,1057.8 534.2,1053.7 532.6,1050.9 531.9,1049.6 529.6,1045.6 528.6,1043.7 527.3,1041.5 525.0,1037.4 524.5,1036.5 522.7,1033.3 520.4,1029.4 520.4,1029.3 518.0,1025.2 516.4,1022.3 515.7,1021.1 513.3,1017.1 512.3,1015.3 510.9,1013.0 508.5,1008.9 508.2,1008.4 506.1,1004.8 504.2,1001.5 503.7,1000.8 501.3,996.7 500.1,994.7 498.8,992.6 496.4,988.5 496.0,988.0 493.9,984.5 492.0,981.3 491.4,980.4 488.9,976.3 487.9,974.8 486.3,972.3 483.8,968.3 483.8,968.2 481.2,964.1 479.8,961.9 478.6,960.0 476.0,956.0 475.7,955.6 473.3,951.9 471.6,949.3 470.6,947.8 467.9,943.8 467.6,943.2 465.1,939.7 463.5,937.2 462.4,935.6 459.6,931.5 459.4,931.4 456.7,927.5 455.4,925.6 453.8,923.4 451.3,920.0 450.8,919.3 447.8,915.3 447.2,914.5 444.7,911.2 443.1,909.1 441.6,907.1 439.1,903.9 438.4,903.0 435.1,899.0 435.0,898.9 431.7,894.9 430.9,894.0 428.2,890.8 426.9,889.3 424.6,886.8 422.8,884.7 420.9,882.7 418.7,880.4 416.9,878.6 414.7,876.3 412.8,874.5 410.6,872.4 408.4,870.5 406.5,868.8 403.7,866.4 402.5,865.3 398.6,862.3 398.4,862.2 394.3,859.3 392.8,858.3 390.3,856.6 386.2,854.3 386.0,854.2 382.1,852.3 378.1,850.6 376.7,850.1 374.0,849.2 369.9,848.2 365.9,847.5 361.8,847.2 357.7,847.3 353.7,847.8 349.6,848.7 345.5,850.0 345.2,850.1 341.5,851.7 337.4,853.8 336.8,854.2 333.3,856.4 330.8,858.3 329.3,859.4 325.8,862.3 325.2,862.9 321.5,866.4 321.1,866.8 317.6,870.5 317.1,871.1 314.1,874.5 313.0,875.8 310.8,878.6 308.9,881.0 307.7,882.7 304.9,886.6 304.8,886.8 302.0,890.8 300.8,892.6 299.4,894.9 296.8,899.0 296.7,899.1 294.3,903.0 292.7,905.9 291.9,907.1 289.6,911.2 288.6,913.1 287.4,915.3 285.2,919.3 284.5,920.6 283.1,923.4 281.0,927.5 280.4,928.5 279.0,931.5 277.0,935.6 276.4,936.8 275.0,939.7 273.1,943.8 272.3,945.4 271.2,947.8 269.3,951.9 268.2,954.3 267.5,956.0 265.7,960.0 264.2,963.5 263.9,964.1 262.2,968.2 260.4,972.3 260.1,973.0 258.7,976.3 257.0,980.4 256.0,982.8 255.4,984.5 253.7,988.5 252.1,992.6 252.0,992.9 250.5,996.7 248.9,1000.8 247.9,1003.2 247.3,1004.8 245.7,1008.9 244.1,1013.0 243.8,1013.7 242.6,1017.1 241.0,1021.1 239.8,1024.5 239.5,1025.2 238.0,1029.3 236.5,1033.3 235.7,1035.5 235.0,1037.4 233.5,1041.5 232.0,1045.6 231.6,1046.7 230.6,1049.6 229.1,1053.7 227.7,1057.8 227.6,1058.0 226.2,1061.8 224.8,1065.9 223.5,1069.6 223.4,1070.0 222.0,1074.1 220.6,1078.1 219.4,1081.4 219.2,1082.2 217.8,1086.3 216.4,1090.3 215.4,1093.3 215.0,1094.4 213.6,1098.5 212.2,1102.6 211.3,1105.3 210.9,1106.6 209.5,1110.7 208.2,1114.8 207.2,1117.6 206.8,1118.8 205.5,1122.9 204.1,1127.0 203.2,1129.9 202.8,1131.1 201.5,1135.1 200.2,1139.2Z" fill="#ff1700"/>
<path d="M202.8,1139.2 203.2,1139.2 207.2,1139.2 211.3,1139.2 215.4,1139.2 219.4,1139.2 223.5,1139.2 227.6,1139.2 231.6,1139.2 235.7,1139.2 239.8,1139.2 243.8,1139.2 247.9,1139.2 252.0,1139.2 256.0,1139.2 260.1,1139.2 264.2,1139.2 268.2,1139.2 272.3,1139.2 276.4,1139.2 280.5,1139.2 284.5,1139.2 288.6,1139.2 292.7,1139.2 296.7,1139.2 300.8,1139.2 304.9,1139.2 308.9,1139.2 313.0,1139.2 317.1,1139.2 321.1,1139.2 325.2,1139.2 329.3,1139.2 333.3,1139.2 337.4,1139.2 341.5,1139.2 345.5,1139.2 349.6,1139.2 353.7,1139.2 357.7,1139.2 361.8,1139.2 365.9,1139.2 369.9,1139.2 374.0,1139.2 378.1,1139.2 382.1,1139.2 386.2,1139.2 390.3,1139.2 394.3,1139.2 398.4,1139.2 402.5,1139.2 406.5,1139.2 410.6,1139.2 414.7,1139.2 418.7,1139.2 422.8,1139.2 426.9,1139.2 430.9,1139.2 435.0,1139.2 439.1,1139.2 443.1,1139.2 447.2,1139.2 451.3,1139.2 455.4,1139.2 459.4,1139.2 463.5,1139.2 467.6,1139.2 471.6,1139.2 475.7,1139.2 479.8,1139.2 483.8,1139.2 487.9,1139.2 492.0,1139.2 496.0,1139.2 500.1,1139.2 504.2,1139.2 508.2,1139.2 512.3,1139.2 516.4,1139.2 520.4,1139.2 524.5,1139.2 528.6,1139.2 532.6,1139.2 536.7,1139.2 540.8,1139.2 544.8,1139.2 548.9,1139.2 553.0,1139.2 557.0,1139.2 561.1,1139.2 565.2,1139.2 569.2,1139.2 573.3,1139.2 577.4,1139.2 577.9,1139.2 577.4,1138.3 575.7,1135.1 573.5,1131.1 573.3,1130.7 571.3,1127.0 569.2,1123.1 569.1,1122.9 566.9,1118.8 565.2,1115.6 564.7,1114.8 562.5,1110.7 561.1,1108.1 560.3,1106.6 558.1,1102.6 557.0,1100.6 555.9,1098.5 553.6,1094.4 553.0,1093.2 551.4,1090.3 549.1,1086.3 548.9,1085.8 546.9,1082.2 544.8,1078.5 544.6,1078.1 542.3,1074.1 540.8,1071.2 540.1,1070.0 537.8,1065.9 536.7,1064.0 535.5,1061.8 533.2,1057.8 532.6,1056.8 530.8,1053.7 528.6,1049.7 528.5,1049.6 526.2,1045.6 524.5,1042.6 523.8,1041.5 521.5,1037.4 520.4,1035.6 519.1,1033.3 516.7,1029.3 516.4,1028.6 514.3,1025.2 512.3,1021.7 511.9,1021.1 509.5,1017.1 508.2,1014.9 507.1,1013.0 504.6,1008.9 504.2,1008.1 502.2,1004.8 500.1,1001.4 499.7,1000.8 497.2,996.7 496.0,994.8 494.7,992.6 492.2,988.5 492.0,988.2 489.6,984.5 487.9,981.8 487.0,980.4 484.4,976.3 483.8,975.4 481.8,972.3 479.8,969.1 479.1,968.2 476.5,964.1 475.7,962.9 473.7,960.0 471.6,956.9 471.0,956.0 468.2,951.9 467.6,950.9 465.4,947.8 463.5,945.0 462.6,943.8 459.7,939.7 459.4,939.3 456.8,935.6 455.4,933.6 453.8,931.5 451.3,928.2 450.8,927.5 447.7,923.4 447.2,922.8 444.5,919.3 443.1,917.6 441.3,915.3 439.1,912.5 437.9,911.2 435.0,907.6 434.6,907.1 431.1,903.0 430.9,902.9 427.4,899.0 426.9,898.4 423.6,894.9 422.8,894.0 419.7,890.8 418.7,889.9 415.5,886.8 414.7,885.9 411.2,882.7 410.6,882.2 406.5,878.7 406.5,878.6 402.5,875.4 401.3,874.5 398.4,872.4 395.5,870.5 394.3,869.7 390.3,867.2 388.8,866.4 386.2,865.0 382.1,863.1 380.0,862.3 378.1,861.6 374.0,860.3 369.9,859.4 365.9,858.9 361.8,858.7 357.7,858.9 353.7,859.5 349.6,860.5 345.5,861.8 344.4,862.3 341.5,863.6 337.4,865.8 336.5,866.4 333.3,868.4 330.6,870.5 329.3,871.4 325.6,874.5 325.2,874.9 321.3,878.6 321.1,878.8 317.4,882.7 317.1,883.1 313.9,886.8 313.0,887.8 310.6,890.8 308.9,892.9 307.4,894.9 304.9,898.4 304.5,899.0 301.7,903.0 300.8,904.3 299.0,907.1 296.7,910.7 296.4,911.2 293.9,915.3 292.7,917.4 291.5,919.3 289.2,923.4 288.6,924.4 286.9,927.5 284.7,931.5 284.5,931.9 282.6,935.6 280.5,939.7 280.4,939.7 278.4,943.8 276.4,947.8 276.4,947.8 274.4,951.9 272.4,956.0 272.3,956.2 270.5,960.0 268.7,964.1 268.2,965.0 266.8,968.2 265.0,972.3 264.2,974.1 263.2,976.3 261.4,980.4 260.1,983.4 259.7,984.5 257.9,988.5 256.2,992.6 256.0,993.0 254.5,996.7 252.9,1000.8 252.0,1002.9 251.2,1004.8 249.6,1008.9 247.9,1013.0 247.9,1013.1 246.3,1017.1 244.8,1021.1 243.8,1023.4 243.2,1025.2 241.6,1029.3 240.0,1033.3 239.8,1034.0 238.5,1037.4 237.0,1041.5 235.7,1044.9 235.5,1045.6 234.0,1049.6 232.5,1053.7 231.6,1055.9 231.0,1057.8 229.5,1061.8 228.0,1065.9 227.6,1067.1 226.6,1070.0 225.1,1074.1 223.7,1078.1 223.5,1078.5 222.2,1082.2 220.8,1086.3 219.4,1090.1 219.4,1090.3 218.0,1094.4 216.6,1098.5 215.4,1101.9 215.1,1102.6 213.8,1106.6 212.4,1110.7 211.3,1113.8 211.0,1114.8 209.6,1118.8 208.2,1122.9 207.2,1125.9 206.9,1127.0 205.5,1131.1 204.2,1135.1 203.2,1138.1 202.8,1139.2Z" fill="#ff1c00"/>
<path d="M205.5,1139.2 207.2,1139.2 211.3,1139.2 215.4,1139.2 219.4,1139.2 223.5,1139.2 227.6,1139.2 231.6,1139.2 235.7,1139.2 239.8,1139.2 243.8,1139.2 247.9,1139.2 252.0,1139.2 256.0,1139.2 260.1,1139.2 264.2,1139.2 268.2,1139.2 272.3,1139.2 276.4,1139.2 280.5,1139.2 284.5,1139.2 288.6,1139.2 292.7,1139.2 296.7,1139.2 300.8,1139.2 304.9,1139.2 308.9,1139.2 313.0,1139.2 317.1,1139.2 321.1,1139.2 325.2,1139.2 329.3,1139.2 333.3,1139.2 337.4,1139.2 341.5,1139.2 345.5,1139.2 349.6,1139.2 353.7,1139.2 357.7,1139.2 361.8,1139.2 365.9,1139.2 369.9,1139.2 374.0,1139.2 378.1,1139.2 382.1,1139.2 386.2,1139.2 390.3,1139.2 394.3,1139.2 398.4,1139.2 402.5,1139.2 406.5,1139.2 410.6,1139.2 414.7,1139.2 418.7,1139.2 422.8,1139.2 426.9,1139.2 430.9,1139.2 435.0,1139.2 439.1,1139.2 443.1,1139.2 447.2,1139.2 451.3,1139.2 455.4,1139.2 459.4,1139.2 463.5,1139.2 467.6,1139.2 471.6,1139.2 475.7,1139.2 479.8,1139.2 483.8,1139.2 487.9,1139.2 492.0,1139.2 496.0,1139.2 500.1,1139.2 504.2,1139.2 508.2,1139.2 512.3,1139.2 516.4,1139.2 520.4,1139.2 524.5,1139.2 528.6,1139.2 532.6,1139.2 536.7,1139.2 540.8,1139.2 544.8,1139.2 548.9,1139.2 553.0,1139.2 557.0,1139.2 561.1,1139.2 565.2,1139.2 569.2,1139.2 573.3,1139.2 575.2,1139.2 573.3,1135.8 573.0,1135.1 570.8,1131.1 569.2,1128.3 568.5,1127.0 566.3,1122.9 565.2,1120.8 564.1,1118.8 561.9,1114.8 561.1,1113.4 559.6,1110.7 557.4,1106.6 557.0,1106.0 555.1,1102.6 553.0,1098.7 552.9,1098.5 550.6,1094.4 548.9,1091.4 548.3,1090.3 546.0,1086.3 544.8,1084.1 543.7,1082.2 541.4,1078.1 540.8,1076.9 539.1,1074.1 536.8,1070.0 536.7,1069.8 534.5,1065.9 532.6,1062.7 532.2,1061.8 529.8,1057.8 528.6,1055.6 527.4,1053.7 525.1,1049.6 524.5,1048.6 522.7,1045.6 520.4,1041.7 520.3,1041.5 517.9,1037.4 516.4,1034.8 515.5,1033.3 513.0,1029.3 512.3,1028.0 510.6,1025.2 508.2,1021.3 508.1,1021.1 505.6,1017.1 504.2,1014.6 503.2,1013.0 500.6,1008.9 500.1,1008.0 498.1,1004.8 496.0,1001.5 495.6,1000.8 493.0,996.7 492.0,995.1 490.4,992.6 487.9,988.7 487.8,988.5 485.1,984.5 483.8,982.5 482.5,980.4 479.8,976.3 479.8,976.3 477.0,972.3 475.7,970.2 474.3,968.2 471.6,964.3 471.5,964.1 468.7,960.0 467.6,958.4 465.8,956.0 463.5,952.7 462.9,951.9 460.0,947.8 459.4,947.1 457.0,943.8 455.4,941.6 453.9,939.7 451.3,936.2 450.8,935.6 447.6,931.5 447.2,931.0 444.4,927.5 443.1,925.9 441.0,923.4 439.1,921.0 437.6,919.3 435.0,916.3 434.1,915.3 430.9,911.7 430.5,911.2 426.9,907.3 426.7,907.1 422.8,903.1 422.8,903.0 418.7,899.1 418.6,899.0 414.7,895.3 414.2,894.9 410.6,891.7 409.5,890.8 406.5,888.4 404.4,886.8 402.5,885.2 398.8,882.7 398.4,882.4 394.3,879.8 392.3,878.6 390.3,877.5 386.2,875.4 384.1,874.5 382.1,873.7 378.1,872.3 374.0,871.2 370.3,870.5 369.9,870.4 365.9,870.0 361.8,869.9 357.7,870.2 356.0,870.5 353.7,870.8 349.6,871.9 345.5,873.3 342.8,874.5 341.5,875.2 337.4,877.4 335.5,878.6 333.3,880.0 329.8,882.7 329.3,883.1 325.2,886.5 324.9,886.8 321.1,890.4 320.7,890.8 317.1,894.6 316.8,894.9 313.3,899.0 313.0,899.3 310.0,903.0 308.9,904.4 306.9,907.1 304.9,909.8 303.9,911.2 301.1,915.3 300.8,915.7 298.4,919.3 296.7,921.9 295.8,923.4 293.3,927.5 292.7,928.5 290.9,931.5 288.6,935.5 288.5,935.6 286.3,939.7 284.5,942.8 284.0,943.8 281.9,947.8 280.5,950.5 279.7,951.9 277.7,956.0 276.4,958.5 275.6,960.0 273.6,964.1 272.3,966.8 271.7,968.2 269.7,972.3 268.2,975.4 267.8,976.3 266.0,980.4 264.2,984.3 264.1,984.5 262.3,988.5 260.5,992.6 260.1,993.5 258.8,996.7 257.0,1000.8 256.0,1003.0 255.3,1004.8 253.6,1008.9 252.0,1012.7 251.9,1013.0 250.2,1017.1 248.6,1021.1 247.9,1022.7 246.9,1025.2 245.3,1029.3 243.8,1033.0 243.7,1033.3 242.1,1037.4 240.5,1041.5 239.8,1043.4 239.0,1045.6 237.4,1049.6 235.9,1053.7 235.7,1054.1 234.3,1057.8 232.8,1061.8 231.6,1065.0 231.3,1065.9 229.8,1070.0 228.3,1074.1 227.6,1076.0 226.8,1078.1 225.4,1082.2 223.9,1086.3 223.5,1087.3 222.4,1090.3 221.0,1094.4 219.5,1098.5 219.4,1098.7 218.1,1102.6 216.7,1106.6 215.4,1110.4 215.3,1110.7 213.9,1114.8 212.4,1118.8 211.3,1122.1 211.0,1122.9 209.7,1127.0 208.3,1131.1 207.2,1134.1 206.9,1135.1 205.5,1139.2Z" fill="#ff2100"/>
<path d="M208.2,1139.2 211.3,1139.2 215.4,1139.2 219.4,1139.2 223.5,1139.2 227.6,1139.2 231.6,1139.2 235.7,1139.2 239.8,1139.2 243.8,1139.2 247.9,1139.2 252.0,1139.2 256.0,1139.2 260.1,1139.2 264.2,1139.2 268.2,1139.2 272.3,1139.2 276.4,1139.2 280.5,1139.2 284.5,1139.2 288.6,1139.2 292.7,1139.2 296.7,1139.2 300.8,1139.2 304.9,1139.2 308.9,1139.2 313.0,1139.2 317.1,1139.2 321.1,1139.2 325.2,1139.2 329.3,1139.2 333.3,1139.2 337.4,1139.2 341.5,1139.2 345.5,1139.2 349.6,1139.2 353.7,1139.2 357.7,1139.2 361.8,1139.2 365.9,1139.2 369.9,1139.2 374.0,1139.2 378.1,1139.2 382.1,1139.2 386.2,1139.2 390.3,1139.2 394.3,1139.2 398.4,1139.2 402.5,1139.2 406.5,1139.2 410.6,1139.2 414.7,1139.2 418.7,1139.2 422.8,1139.2 426.9,1139.2 430.9,1139.2 435.0,1139.2 439.1,1139.2 443.1,1139.2 447.2,1139.2 451.3,1139.2 455.4,1139.2 459.4,1139.2 463.5,1139.2 467.6,1139.2 471.6,1139.2 475.7,1139.2 479.8,1139.2 483.8,1139.2 487.9,1139.2 492.0,1139.2 496.0,1139.2 500.1,1139.2 504.2,1139.2 508.2,1139.2 512.3,1139.2 516.4,1139.2 520.4,1139.2 524.5,1139.2 528.6,1139.2 532.6,1139.2 536.7,1139.2 540.8,1139.2 544.8,1139.2 548.9,1139.2 553.0,1139.2 557.0,1139.2 561.1,1139.2 565.2,1139.2 569.2,1139.2 572.4,1139.2 570.2,1135.1 569.2,1133.4 568.0,1131.1 565.7,1127.0 565.2,1126.0 563.5,1122.9 561.2,1118.8 561.1,1118.6 558.9,1114.8 557.0,1111.3 556.7,1110.7 554.4,1106.6 553.0,1104.1 552.1,1102.6 549.8,1098.5 548.9,1096.8 547.5,1094.4 545.2,1090.3 544.8,1089.7 542.9,1086.3 540.8,1082.5 540.6,1082.2 538.2,1078.1 536.7,1075.5 535.9,1074.1 533.5,1070.0 532.6,1068.5 531.1,1065.9 528.8,1061.8 528.6,1061.5 526.4,1057.8 524.5,1054.6 524.0,1053.7 521.5,1049.6 520.4,1047.7 519.1,1045.6 516.7,1041.5 516.4,1041.0 514.2,1037.4 512.3,1034.3 511.7,1033.3 509.2,1029.3 508.2,1027.6 506.7,1025.2 504.2,1021.1 504.2,1021.0 501.6,1017.1 500.1,1014.6 499.1,1013.0 496.5,1008.9 496.0,1008.1 493.9,1004.8 492.0,1001.8 491.3,1000.8 488.6,996.7 487.9,995.6 485.9,992.6 483.8,989.4 483.2,988.5 480.5,984.5 479.8,983.4 477.7,980.4 475.7,977.4 474.9,976.3 472.1,972.3 471.6,971.6 469.2,968.2 467.6,965.9 466.3,964.1 463.5,960.2 463.3,960.0 460.3,956.0 459.4,954.8 457.2,951.9 455.4,949.4 454.1,947.8 451.3,944.2 451.0,943.8 447.7,939.7 447.2,939.1 444.3,935.6 443.1,934.2 440.9,931.5 439.1,929.4 437.4,927.5 435.0,924.8 433.8,923.4 430.9,920.3 430.0,919.3 426.9,916.1 426.1,915.3 422.8,912.0 421.9,911.2 418.7,908.1 417.6,907.1 414.7,904.5 413.0,903.0 410.6,901.0 408.0,899.0 406.5,897.8 402.5,894.9 402.5,894.9 398.4,892.1 396.2,890.8 394.3,889.7 390.3,887.5 388.7,886.8 386.2,885.6 382.1,884.0 378.1,882.7 378.0,882.7 374.0,881.7 369.9,881.0 365.9,880.7 361.8,880.7 357.7,881.1 353.7,881.9 350.7,882.7 349.6,883.0 345.5,884.5 341.5,886.3 340.7,886.8 337.4,888.6 334.0,890.8 333.3,891.3 329.3,894.3 328.6,894.9 325.2,897.8 323.9,899.0 321.1,901.6 319.8,903.0 317.1,905.8 315.9,907.1 313.0,910.5 312.4,911.2 309.1,915.3 308.9,915.5 306.0,919.3 304.9,920.9 303.1,923.4 300.8,926.7 300.3,927.5 297.6,931.5 296.7,932.8 295.0,935.6 292.7,939.4 292.5,939.7 290.0,943.8 288.6,946.2 287.7,947.8 285.4,951.9 284.5,953.4 283.2,956.0 281.0,960.0 280.5,961.0 278.8,964.1 276.7,968.2 276.4,968.9 274.7,972.3 272.7,976.3 272.3,977.1 270.7,980.4 268.8,984.5 268.2,985.5 266.9,988.5 265.0,992.6 264.2,994.3 263.1,996.7 261.3,1000.8 260.1,1003.4 259.5,1004.8 257.7,1008.9 256.0,1012.7 255.9,1013.0 254.2,1017.1 252.5,1021.1 252.0,1022.3 250.8,1025.2 249.1,1029.3 247.9,1032.2 247.4,1033.3 245.8,1037.4 244.2,1041.5 243.8,1042.3 242.6,1045.6 240.9,1049.6 239.8,1052.6 239.3,1053.7 237.8,1057.8 236.2,1061.8 235.7,1063.1 234.7,1065.9 233.1,1070.0 231.6,1073.8 231.6,1074.1 230.1,1078.1 228.5,1082.2 227.6,1084.8 227.0,1086.3 225.5,1090.3 224.1,1094.4 223.5,1095.9 222.6,1098.5 221.1,1102.6 219.7,1106.6 219.4,1107.2 218.2,1110.7 216.8,1114.8 215.4,1118.7 215.3,1118.8 213.9,1122.9 212.5,1127.0 211.3,1130.3 211.1,1131.1 209.7,1135.1 208.2,1139.2Z" fill="#ff2600"/>
<path d="M211.0,1139.2 211.3,1139.2 215.4,1139.2 219.4,1139.2 223.5,1139.2 227.6,1139.2 231.6,1139.2 235.7,1139.2 239.8,1139.2 243.8,1139.2 247.9,1139.2 252.0,1139.2 256.0,1139.2 260.1,1139.2 264.2,1139.2 268.2,1139.2 272.3,1139.2 276.4,1139.2 280.5,1139.2 284.5,1139.2 288.6,1139.2 292.7,1139.2 296.7,1139.2 300.8,1139.2 304.9,1139.2 308.9,1139.2 313.0,1139.2 317.1,1139.2 321.1,1139.2 325.2,1139.2 329.3,1139.2 333.3,1139.2 337.4,1139.2 341.5,1139.2 345.5,1139.2 349.6,1139.2 353.7,1139.2 357.7,1139.2 361.8,1139.2 365.9,1139.2 369.9,1139.2 374.0,1139.2 378.1,1139.2 382.1,1139.2 386.2,1139.2 390.3,1139.2 394.3,1139.2 398.4,1139.2 402.5,1139.2 406.5,1139.2 410.6,1139.2 414.7,1139.2 418.7,1139.2 422.8,1139.2 426.9,1139.2 430.9,1139.2 435.0,1139.2 439.1,1139.2 443.1,1139.2 447.2,1139.2 451.3,1139.2 455.4,1139.2 459.4,1139.2 463.5,1139.2 467.6,1139.2 471.6,1139.2 475.7,1139.2 479.8,1139.2 483.8,1139.2 487.9,1139.2 492.0,1139.2 496.0,1139.2 500.1,1139.2 504.2,1139.2 508.2,1139.2 512.3,1139.2 516.4,1139.2 520.4,1139.2 524.5,1139.2 528.6,1139.2 532.6,1139.2 536.7,1139.2 540.8,1139.2 544.8,1139.2 548.9,1139.2 553.0,1139.2 557.0,1139.2 561.1,1139.2 565.2,1139.2 569.2,1139.2 569.6,1139.2 569.2,1138.5 567.4,1135.1 565.2,1131.1 565.1,1131.1 562.8,1127.0 561.1,1123.9 560.6,1122.9 558.3,1118.8 557.0,1116.6 556.0,1114.8 553.7,1110.7 553.0,1109.4 551.4,1106.6 549.1,1102.6 548.9,1102.3 546.7,1098.5 544.8,1095.2 544.4,1094.4 542.0,1090.3 540.8,1088.1 539.7,1086.3 537.3,1082.2 536.7,1081.1 534.9,1078.1 532.6,1074.2 532.5,1074.1 530.1,1070.0 528.6,1067.3 527.7,1065.9 525.3,1061.8 524.5,1060.5 522.8,1057.8 520.4,1053.8 520.4,1053.7 517.9,1049.6 516.4,1047.1 515.4,1045.6 512.9,1041.5 512.3,1040.4 510.4,1037.4 508.2,1033.9 507.9,1033.3 505.3,1029.3 504.2,1027.4 502.7,1025.2 500.1,1021.1 500.1,1021.0 497.5,1017.1 496.0,1014.7 494.9,1013.0 492.2,1008.9 492.0,1008.5 489.5,1004.8 487.9,1002.4 486.8,1000.8 484.1,996.7 483.8,996.3 481.3,992.6 479.8,990.4 478.5,988.5 475.7,984.5 475.6,984.5 472.7,980.4 471.6,978.8 469.8,976.3 467.6,973.2 466.9,972.3 463.8,968.2 463.5,967.7 460.8,964.1 459.4,962.3 457.6,960.0 455.4,957.1 454.4,956.0 451.3,952.0 451.2,951.9 447.9,947.8 447.2,947.0 444.4,943.8 443.1,942.2 440.9,939.7 439.1,937.6 437.3,935.6 435.0,933.1 433.5,931.5 430.9,928.8 429.6,927.5 426.9,924.7 425.5,923.4 422.8,920.7 421.3,919.3 418.7,917.0 416.7,915.3 414.7,913.5 411.8,911.2 410.6,910.2 406.5,907.1 406.5,907.1 402.5,904.3 400.5,903.0 398.4,901.7 394.3,899.4 393.6,899.0 390.3,897.3 386.2,895.5 384.5,894.9 382.1,894.0 378.1,892.8 374.0,892.0 369.9,891.4 365.9,891.2 361.8,891.3 357.7,891.8 353.7,892.6 349.6,893.7 346.6,894.9 345.5,895.3 341.5,897.2 338.3,899.0 337.4,899.5 333.3,902.2 332.2,903.0 329.3,905.2 327.1,907.1 325.2,908.7 322.5,911.2 321.1,912.5 318.5,915.3 317.1,916.7 314.8,919.3 313.0,921.3 311.3,923.4 308.9,926.3 308.0,927.5 305.0,931.5 304.9,931.7 302.0,935.6 300.8,937.4 299.2,939.7 296.7,943.5 296.5,943.8 294.0,947.8 292.7,949.9 291.5,951.9 289.0,956.0 288.6,956.7 286.7,960.0 284.5,963.8 284.3,964.1 282.1,968.2 280.5,971.2 279.9,972.3 277.8,976.3 276.4,979.0 275.7,980.4 273.6,984.5 272.3,987.1 271.6,988.5 269.6,992.6 268.2,995.5 267.7,996.7 265.8,1000.8 264.2,1004.1 263.9,1004.8 262.0,1008.9 260.1,1013.0 260.1,1013.1 258.4,1017.1 256.6,1021.1 256.0,1022.3 254.8,1025.2 253.0,1029.3 252.0,1031.7 251.3,1033.3 249.6,1037.4 247.9,1041.4 247.9,1041.5 246.2,1045.6 244.6,1049.6 243.8,1051.4 242.9,1053.7 241.3,1057.8 239.8,1061.6 239.7,1061.8 238.1,1065.9 236.5,1070.0 235.7,1072.0 234.9,1074.1 233.4,1078.1 231.8,1082.2 231.6,1082.6 230.3,1086.3 228.7,1090.3 227.6,1093.4 227.2,1094.4 225.7,1098.5 224.2,1102.6 223.5,1104.4 222.7,1106.6 221.2,1110.7 219.7,1114.8 219.4,1115.5 218.3,1118.8 216.8,1122.9 215.4,1126.9 215.3,1127.0 213.9,1131.1 212.5,1135.1 211.3,1138.4 211.0,1139.2Z" fill="#ff2b00"/>
<path d="M213.9,1139.2 215.4,1139.2 219.4,1139.2 223.5,1139.2 227.6,1139.2 231.6,1139.2 235.7,1139.2 239.8,1139.2 243.8,1139.2 247.9,1139.2 252.0,1139.2 256.0,1139.2 260.1,1139.2 264.2,1139.2 268.2,1139.2 272.3,1139.2 276.4,1139.2 280.5,1139.2 284.5,1139.2 288.6,1139.2 292.7,1139.2 296.7,1139.2 300.8,1139.2 304.9,1139.2 308.9,1139.2 313.0,1139.2 317.1,1139.2 321.1,1139.2 325.2,1139.2 329.3,1139.2 333.3,1139.2 337.4,1139.2 341.5,1139.2 345.5,1139.2 349.6,1139.2 353.7,1139.2 357.7,1139.2 361.8,1139.2 365.9,1139.2 369.9,1139.2 374.0,1139.2 378.1,1139.2 382.1,1139.2 386.2,1139.2 390.3,1139.2 394.3,1139.2 398.4,1139.2 402.5,1139.2 406.5,1139.2 410.6,1139.2 414.7,1139.2 418.7,1139.2 422.8,1139.2 426.9,1139.2 430.9,1139.2 435.0,1139.2 439.1,1139.2 443.1,1139.2 447.2,1139.2 451.3,1139.2 455.4,1139.2 459.4,1139.2 463.5,1139.2 467.6,1139.2 471.6,1139.2 475.7,1139.2 479.8,1139.2 483.8,1139.2 487.9,1139.2 492.0,1139.2 496.0,1139.2 500.1,1139.2 504.2,1139.2 508.2,1139.2 512.3,1139.2 516.4,1139.2 520.4,1139.2 524.5,1139.2 528.6,1139.2 532.6,1139.2 536.7,1139.2 540.8,1139.2 544.8,1139.2 548.9,1139.2 553.0,1139.2 557.0,1139.2 561.1,1139.2 565.2,1139.2 566.8,1139.2 565.2,1136.3 564.5,1135.1 562.2,1131.1 561.1,1129.0 559.9,1127.0 557.6,1122.9 557.0,1121.9 555.3,1118.8 553.0,1114.8 553.0,1114.8 550.6,1110.7 548.9,1107.7 548.3,1106.6 545.9,1102.6 544.8,1100.7 543.6,1098.5 541.2,1094.4 540.8,1093.7 538.8,1090.3 536.7,1086.8 536.4,1086.3 534.0,1082.2 532.6,1079.9 531.6,1078.1 529.1,1074.1 528.6,1073.1 526.7,1070.0 524.5,1066.4 524.2,1065.9 521.7,1061.8 520.4,1059.7 519.2,1057.8 516.7,1053.7 516.4,1053.1 514.2,1049.6 512.3,1046.6 511.6,1045.6 509.1,1041.5 508.2,1040.1 506.5,1037.4 504.2,1033.7 503.9,1033.3 501.3,1029.3 500.1,1027.4 498.6,1025.2 496.0,1021.2 496.0,1021.1 493.2,1017.1 492.0,1015.1 490.5,1013.0 487.9,1009.1 487.8,1008.9 485.0,1004.8 483.8,1003.1 482.2,1000.8 479.8,997.3 479.3,996.7 476.4,992.6 475.7,991.6 473.5,988.5 471.6,985.9 470.5,984.5 467.6,980.4 467.5,980.4 464.4,976.3 463.5,975.1 461.3,972.3 459.4,969.8 458.1,968.2 455.4,964.7 454.9,964.1 451.6,960.0 451.3,959.7 448.1,956.0 447.2,954.9 444.6,951.9 443.1,950.2 441.0,947.8 439.1,945.7 437.3,943.8 435.0,941.3 433.4,939.7 430.9,937.1 429.4,935.6 426.9,933.1 425.2,931.5 422.8,929.3 420.7,927.5 418.7,925.7 415.9,923.4 414.7,922.3 410.8,919.3 410.6,919.2 406.5,916.2 405.1,915.3 402.5,913.5 398.7,911.2 398.4,911.0 394.3,908.8 390.7,907.1 390.3,906.9 386.2,905.2 382.1,903.8 379.1,903.0 378.1,902.8 374.0,902.0 369.9,901.5 365.9,901.4 361.8,901.6 357.7,902.1 353.7,903.0 353.5,903.0 349.6,904.2 345.5,905.8 342.8,907.1 341.5,907.8 337.4,910.1 335.8,911.2 333.3,912.8 330.1,915.3 329.3,915.9 325.2,919.3 325.2,919.3 321.1,923.1 320.9,923.4 317.1,927.3 316.9,927.5 313.3,931.5 313.0,931.9 309.9,935.6 308.9,936.8 306.7,939.7 304.9,942.1 303.7,943.8 300.8,947.8 300.8,947.8 298.0,951.9 296.7,953.8 295.3,956.0 292.7,960.0 292.7,960.2 290.3,964.1 288.6,966.9 287.8,968.2 285.5,972.3 284.5,973.9 283.2,976.3 280.9,980.4 280.5,981.2 278.7,984.5 276.6,988.5 276.4,988.9 274.5,992.6 272.4,996.7 272.3,996.9 270.4,1000.8 268.4,1004.8 268.2,1005.1 266.5,1008.9 264.5,1013.0 264.2,1013.7 262.6,1017.1 260.8,1021.1 260.1,1022.5 258.9,1025.2 257.1,1029.3 256.0,1031.6 255.3,1033.3 253.5,1037.4 252.0,1040.9 251.7,1041.5 250.0,1045.6 248.3,1049.6 247.9,1050.5 246.6,1053.7 244.9,1057.8 243.8,1060.3 243.2,1061.8 241.6,1065.9 239.9,1070.0 239.8,1070.4 238.3,1074.1 236.7,1078.1 235.7,1080.7 235.1,1082.2 233.5,1086.3 232.0,1090.3 231.6,1091.1 230.4,1094.4 228.8,1098.5 227.6,1101.8 227.3,1102.6 225.8,1106.6 224.2,1110.7 223.5,1112.7 222.7,1114.8 221.2,1118.8 219.7,1122.9 219.4,1123.7 218.3,1127.0 216.8,1131.1 215.4,1134.9 215.3,1135.1 213.9,1139.2Z" fill="#ff3000"/>
<path d="M216.7,1139.2 219.4,1139.2 223.5,1139.2 227.6,1139.2 231.6,1139.2 235.7,1139.2 239.8,1139.2 243.8,1139.2 247.9,1139.2 252.0,1139.2 256.0,1139.2 260.1,1139.2 264.2,1139.2 268.2,1139.2 272.3,1139.2 276.4,1139.2 280.5,1139.2 284.5,1139.2 288.6,1139.2 292.7,1139.2 296.7,1139.2 300.8,1139.2 304.9,1139.2 308.9,1139.2 313.0,1139.2 317.1,1139.2 321.1,1139.2 325.2,1139.2 329.3,1139.2 333.3,1139.2 337.4,1139.2 341.5,1139.2 345.5,1139.2 349.6,1139.2 353.7,1139.2 357.7,1139.2 361.8,1139.2 365.9,1139.2 369.9,1139.2 374.0,1139.2 378.1,1139.2 382.1,1139.2 386.2,1139.2 390.3,1139.2 394.3,1139.2 398.4,1139.2 402.5,1139.2 406.5,1139.2 410.6,1139.2 414.7,1139.2 418.7,1139.2 422.8,1139.2 426.9,1139.2 430.9,1139.2 435.0,1139.2 439.1,1139.2 443.1,1139.2 447.2,1139.2 451.3,1139.2 455.4,1139.2 459.4,1139.2 463.5,1139.2 467.6,1139.2 471.6,1139.2 475.7,1139.2 479.8,1139.2 483.8,1139.2 487.9,1139.2 492.0,1139.2 496.0,1139.2 500.1,1139.2 504.2,1139.2 508.2,1139.2 512.3,1139.2 516.4,1139.2 520.4,1139.2 524.5,1139.2 528.6,1139.2 532.6,1139.2 536.7,1139.2 540.8,1139.2 544.8,1139.2 548.9,1139.2 553.0,1139.2 557.0,1139.2 561.1,1139.2 563.9,1139.2 561.6,1135.1 561.1,1134.2 559.3,1131.1 557.0,1127.1 557.0,1127.0 554.6,1122.9 553.0,1120.0 552.3,1118.8 549.9,1114.8 548.9,1113.0 547.5,1110.7 545.1,1106.6 544.8,1106.1 542.7,1102.6 540.8,1099.2 540.3,1098.5 537.9,1094.4 536.7,1092.4 535.5,1090.3 533.0,1086.3 532.6,1085.6 530.6,1082.2 528.6,1078.9 528.1,1078.1 525.6,1074.1 524.5,1072.2 523.1,1070.0 520.6,1065.9 520.4,1065.6 518.1,1061.8 516.4,1059.1 515.5,1057.8 512.9,1053.7 512.3,1052.7 510.3,1049.6 508.2,1046.3 507.7,1045.6 505.1,1041.5 504.2,1040.0 502.5,1037.4 500.1,1033.8 499.8,1033.3 497.1,1029.3 496.0,1027.7 494.3,1025.2 492.0,1021.6 491.6,1021.1 488.8,1017.1 487.9,1015.7 486.0,1013.0 483.8,1009.9 483.1,1008.9 480.2,1004.8 479.8,1004.1 477.3,1000.8 475.7,998.5 474.3,996.7 471.6,993.0 471.3,992.6 468.3,988.5 467.6,987.6 465.1,984.5 463.5,982.3 462.0,980.4 459.4,977.2 458.7,976.3 455.4,972.3 455.4,972.2 452.0,968.2 451.3,967.3 448.5,964.1 447.2,962.6 444.9,960.0 443.1,958.0 441.2,956.0 439.1,953.6 437.4,951.9 435.0,949.4 433.4,947.8 430.9,945.3 429.3,943.8 426.9,941.5 424.9,939.7 422.8,937.8 420.3,935.6 418.7,934.3 415.3,931.5 414.7,931.0 410.6,928.0 409.9,927.5 406.5,925.1 403.8,923.4 402.5,922.5 398.4,920.2 396.7,919.3 394.3,918.1 390.3,916.3 387.6,915.3 386.2,914.7 382.1,913.4 378.1,912.4 374.0,911.8 369.9,911.4 365.9,911.3 361.8,911.6 357.7,912.2 353.7,913.1 349.6,914.4 347.6,915.3 345.5,916.1 341.5,918.1 339.3,919.3 337.4,920.4 333.3,923.1 333.0,923.4 329.3,926.2 327.8,927.5 325.2,929.7 323.2,931.5 321.1,933.5 319.0,935.6 317.1,937.7 315.2,939.7 313.0,942.2 311.7,943.8 308.9,947.1 308.4,947.8 305.2,951.9 304.9,952.4 302.2,956.0 300.8,958.0 299.4,960.0 296.7,963.9 296.6,964.1 293.9,968.2 292.7,970.2 291.4,972.3 288.9,976.3 288.6,976.8 286.5,980.4 284.5,983.7 284.1,984.5 281.8,988.5 280.5,991.0 279.6,992.6 277.4,996.7 276.4,998.6 275.3,1000.8 273.1,1004.8 272.3,1006.4 271.1,1008.9 269.1,1013.0 268.2,1014.6 267.1,1017.1 265.1,1021.1 264.2,1023.0 263.2,1025.2 261.3,1029.3 260.1,1031.7 259.4,1033.3 257.6,1037.4 256.0,1040.7 255.7,1041.5 253.9,1045.6 252.1,1049.6 252.0,1050.0 250.4,1053.7 248.6,1057.8 247.9,1059.4 246.9,1061.8 245.2,1065.9 243.8,1069.1 243.5,1070.0 241.8,1074.1 240.2,1078.1 239.8,1079.1 238.5,1082.2 236.9,1086.3 235.7,1089.2 235.3,1090.3 233.7,1094.4 232.1,1098.5 231.6,1099.6 230.5,1102.6 228.9,1106.6 227.6,1110.1 227.4,1110.7 225.8,1114.8 224.3,1118.8 223.5,1120.9 222.7,1122.9 221.2,1127.0 219.7,1131.1 219.4,1131.8 218.2,1135.1 216.7,1139.2Z" fill="#ff3500"/>
<path d="M219.6,1139.2 223.5,1139.2 227.6,1139.2 231.6,1139.2 235.7,1139.2 239.8,1139.2 243.8,1139.2 247.9,1139.2 252.0,1139.2 256.0,1139.2 260.1,1139.2 264.2,1139.2 268.2,1139.2 272.3,1139.2 276.4,1139.2 280.5,1139.2 284.5,1139.2 288.6,1139.2 292.7,1139.2 296.7,1139.2 300.8,1139.2 304.9,1139.2 308.9,1139.2 313.0,1139.2 317.1,1139.2 321.1,1139.2 325.2,1139.2 329.3,1139.2 333.3,1139.2 337.4,1139.2 341.5,1139.2 345.5,1139.2 349.6,1139.2 353.7,1139.2 357.7,1139.2 361.8,1139.2 365.9,1139.2 369.9,1139.2 374.0,1139.2 378.1,1139.2 382.1,1139.2 386.2,1139.2 390.3,1139.2 394.3,1139.2 398.4,1139.2 402.5,1139.2 406.5,1139.2 410.6,1139.2 414.7,1139.2 418.7,1139.2 422.8,1139.2 426.9,1139.2 430.9,1139.2 435.0,1139.2 439.1,1139.2 443.1,1139.2 447.2,1139.2 451.3,1139.2 455.4,1139.2 459.4,1139.2 463.5,1139.2 467.6,1139.2 471.6,1139.2 475.7,1139.2 479.8,1139.2 483.8,1139.2 487.9,1139.2 492.0,1139.2 496.0,1139.2 500.1,1139.2 504.2,1139.2 508.2,1139.2 512.3,1139.2 516.4,1139.2 520.4,1139.2 524.5,1139.2 528.6,1139.2 532.6,1139.2 536.7,1139.2 540.8,1139.2 544.8,1139.2 548.9,1139.2 553.0,1139.2 557.0,1139.2 561.0,1139.2 558.7,1135.1 557.0,1132.3 556.3,1131.1 553.9,1127.0 553.0,1125.3 551.6,1122.9 549.2,1118.8 548.9,1118.4 546.8,1114.8 544.8,1111.5 544.4,1110.7 541.9,1106.6 540.8,1104.7 539.5,1102.6 537.0,1098.5 536.7,1097.9 534.6,1094.4 532.6,1091.2 532.1,1090.3 529.6,1086.3 528.6,1084.6 527.1,1082.2 524.6,1078.1 524.5,1078.0 522.0,1074.1 520.4,1071.5 519.5,1070.0 516.9,1065.9 516.4,1065.0 514.3,1061.8 512.3,1058.7 511.7,1057.8 509.1,1053.7 508.2,1052.4 506.4,1049.6 504.2,1046.2 503.7,1045.6 501.0,1041.5 500.1,1040.1 498.3,1037.4 496.0,1034.1 495.5,1033.3 492.7,1029.3 492.0,1028.1 489.9,1025.2 487.9,1022.3 487.1,1021.1 484.2,1017.1 483.8,1016.5 481.2,1013.0 479.8,1010.9 478.3,1008.9 475.7,1005.4 475.3,1004.8 472.2,1000.8 471.6,1000.0 469.1,996.7 467.6,994.7 465.9,992.6 463.5,989.5 462.7,988.5 459.4,984.5 459.4,984.5 456.0,980.4 455.4,979.6 452.6,976.3 451.3,974.8 449.0,972.3 447.2,970.2 445.4,968.2 443.1,965.8 441.6,964.1 439.1,961.5 437.7,960.0 435.0,957.3 433.6,956.0 430.9,953.4 429.3,951.9 426.9,949.6 424.8,947.8 422.8,946.1 420.0,943.8 418.7,942.7 414.9,939.7 414.7,939.5 410.6,936.6 409.1,935.6 406.5,933.9 402.7,931.5 402.5,931.4 398.4,929.2 395.0,927.5 394.3,927.2 390.3,925.4 386.2,924.0 384.2,923.4 382.1,922.8 378.1,921.9 374.0,921.3 369.9,921.0 365.9,921.1 361.8,921.4 357.7,922.1 353.7,923.1 352.6,923.4 349.6,924.4 345.5,926.1 342.8,927.5 341.5,928.1 337.4,930.5 335.8,931.5 333.3,933.2 330.2,935.6 329.3,936.3 325.3,939.7 325.2,939.8 321.1,943.6 320.9,943.8 317.1,947.7 317.0,947.8 313.3,951.9 313.0,952.2 309.9,956.0 308.9,957.1 306.6,960.0 304.9,962.3 303.5,964.1 300.8,967.9 300.6,968.2 297.8,972.3 296.7,973.7 295.0,976.3 292.7,980.0 292.4,980.4 289.9,984.5 288.6,986.5 287.4,988.5 285.0,992.6 284.5,993.4 282.6,996.7 280.5,1000.6 280.3,1000.8 278.1,1004.8 276.4,1008.0 275.9,1008.9 273.8,1013.0 272.3,1015.8 271.7,1017.1 269.6,1021.1 268.2,1023.9 267.6,1025.2 265.6,1029.3 264.2,1032.2 263.6,1033.3 261.7,1037.4 260.1,1040.8 259.8,1041.5 257.9,1045.6 256.1,1049.6 256.0,1049.7 254.3,1053.7 252.4,1057.8 252.0,1058.8 250.7,1061.8 248.9,1065.9 247.9,1068.2 247.1,1070.0 245.4,1074.1 243.8,1077.8 243.7,1078.1 242.0,1082.2 240.3,1086.3 239.8,1087.6 238.7,1090.3 237.0,1094.4 235.7,1097.6 235.4,1098.5 233.7,1102.6 232.1,1106.6 231.6,1107.8 230.5,1110.7 228.9,1114.8 227.6,1118.3 227.4,1118.8 225.8,1122.9 224.2,1127.0 223.5,1128.9 222.7,1131.1 221.2,1135.1 219.6,1139.2Z" fill="#ff3a00"/>
<path d="M222.6,1139.2 223.5,1139.2 227.6,1139.2 231.6,1139.2 235.7,1139.2 239.8,1139.2 243.8,1139.2 247.9,1139.2 252.0,1139.2 256.0,1139.2 260.1,1139.2 264.2,1139.2 268.2,1139.2 272.3,1139.2 276.4,1139.2 280.5,1139.2 284.5,1139.2 288.6,1139.2 292.7,1139.2 296.7,1139.2 300.8,1139.2 304.9,1139.2 308.9,1139.2 313.0,1139.2 317.1,1139.2 321.1,1139.2 325.2,1139.2 329.3,1139.2 333.3,1139.2 337.4,1139.2 341.5,1139.2 345.5,1139.2 349.6,1139.2 353.7,1139.2 357.7,1139.2 361.8,1139.2 365.9,1139.2 369.9,1139.2 374.0,1139.2 378.1,1139.2 382.1,1139.2 386.2,1139.2 390.3,1139.2 394.3,1139.2 398.4,1139.2 402.5,1139.2 406.5,1139.2 410.6,1139.2 414.7,1139.2 418.7,1139.2 422.8,1139.2 426.9,1139.2 430.9,1139.2 435.0,1139.2 439.1,1139.2 443.1,1139.2 447.2,1139.2 451.3,1139.2 455.4,1139.2 459.4,1139.2 463.5,1139.2 467.6,1139.2 471.6,1139.2 475.7,1139.2 479.8,1139.2 483.8,1139.2 487.9,1139.2 492.0,1139.2 496.0,1139.2 500.1,1139.2 504.2,1139.2 508.2,1139.2 512.3,1139.2 516.4,1139.2 520.4,1139.2 524.5,1139.2 528.6,1139.2 532.6,1139.2 536.7,1139.2 540.8,1139.2 544.8,1139.2 548.9,1139.2 553.0,1139.2 557.0,1139.2 558.1,1139.2 557.0,1137.4 555.7,1135.1 553.3,1131.1 553.0,1130.5 550.9,1127.0 548.9,1123.7 548.5,1122.9 546.0,1118.8 544.8,1116.8 543.6,1114.8 541.1,1110.7 540.8,1110.1 538.6,1106.6 536.7,1103.4 536.2,1102.6 533.7,1098.5 532.6,1096.8 531.2,1094.4 528.6,1090.3 528.6,1090.2 526.1,1086.3 524.5,1083.7 523.5,1082.2 521.0,1078.1 520.4,1077.3 518.3,1074.1 516.4,1070.9 515.7,1070.0 513.1,1065.9 512.3,1064.7 510.4,1061.8 508.2,1058.5 507.8,1057.8 505.1,1053.7 504.2,1052.3 502.3,1049.6 500.1,1046.3 499.6,1045.6 496.8,1041.5 496.0,1040.4 493.9,1037.4 492.0,1034.5 491.1,1033.3 488.2,1029.3 487.9,1028.8 485.3,1025.2 483.8,1023.1 482.3,1021.1 479.8,1017.6 479.3,1017.1 476.3,1013.0 475.7,1012.2 473.2,1008.9 471.6,1006.9 470.0,1004.8 467.6,1001.7 466.8,1000.8 463.6,996.7 463.5,996.6 460.2,992.6 459.4,991.7 456.8,988.5 455.4,986.9 453.2,984.5 451.3,982.2 449.6,980.4 447.2,977.7 445.9,976.3 443.1,973.4 442.1,972.3 439.1,969.2 438.1,968.2 435.0,965.2 433.9,964.1 430.9,961.3 429.5,960.0 426.9,957.7 424.9,956.0 422.8,954.2 419.9,951.9 418.7,951.0 414.7,947.9 414.5,947.8 410.6,945.1 408.5,943.8 406.5,942.5 402.5,940.1 401.7,939.7 398.4,938.0 394.3,936.1 393.2,935.6 390.3,934.4 386.2,933.1 382.1,932.0 379.8,931.5 378.1,931.2 374.0,930.7 369.9,930.5 365.9,930.6 361.8,931.0 358.6,931.5 357.7,931.7 353.7,932.8 349.6,934.1 346.1,935.6 345.5,935.9 341.5,937.9 338.5,939.7 337.4,940.3 333.3,943.1 332.4,943.8 329.3,946.2 327.3,947.8 325.2,949.6 322.7,951.9 321.1,953.4 318.6,956.0 317.1,957.6 314.8,960.0 313.0,962.0 311.2,964.1 308.9,966.9 307.9,968.2 304.9,972.0 304.7,972.3 301.7,976.3 300.8,977.5 298.8,980.4 296.7,983.4 296.0,984.5 293.3,988.5 292.7,989.5 290.7,992.6 288.6,996.0 288.2,996.7 285.7,1000.8 284.5,1002.8 283.4,1004.8 281.0,1008.9 280.5,1009.9 278.8,1013.0 276.5,1017.1 276.4,1017.3 274.4,1021.1 272.3,1025.0 272.2,1025.2 270.1,1029.3 268.2,1033.0 268.1,1033.3 266.1,1037.4 264.2,1041.2 264.0,1041.5 262.1,1045.6 260.2,1049.6 260.1,1049.7 258.3,1053.7 256.4,1057.8 256.0,1058.5 254.5,1061.8 252.7,1065.9 252.0,1067.5 250.9,1070.0 249.1,1074.1 247.9,1076.7 247.3,1078.1 245.6,1082.2 243.8,1086.2 243.8,1086.3 242.1,1090.3 240.4,1094.4 239.8,1095.9 238.7,1098.5 237.1,1102.6 235.7,1105.9 235.4,1106.6 233.8,1110.7 232.1,1114.8 231.6,1116.0 230.5,1118.8 228.9,1122.9 227.6,1126.3 227.3,1127.0 225.7,1131.1 224.2,1135.1 223.5,1136.8 222.6,1139.2Z" fill="#ff3f00"/>
<path d="M225.6,1139.2 227.6,1139.2 231.6,1139.2 235.7,1139.2 239.8,1139.2 243.8,1139.2 247.9,1139.2 252.0,1139.2 256.0,1139.2 260.1,1139.2 264.2,1139.2 268.2,1139.2 272.3,1139.2 276.4,1139.2 280.5,1139.2 284.5,1139.2 288.6,1139.2 292.7,1139.2 296.7,1139.2 300.8,1139.2 304.9,1139.2 308.9,1139.2 313.0,1139.2 317.1,1139.2 321.1,1139.2 325.2,1139.2 329.3,1139.2 333.3,1139.2 337.4,1139.2 341.5,1139.2 345.5,1139.2 349.6,1139.2 353.7,1139.2 357.7,1139.2 361.8,1139.2 365.9,1139.2 369.9,1139.2 374.0,1139.2 378.1,1139.2 382.1,1139.2 386.2,1139.2 390.3,1139.2 394.3,1139.2 398.4,1139.2 402.5,1139.2 406.5,1139.2 410.6,1139.2 414.7,1139.2 418.7,1139.2 422.8,1139.2 426.9,1139.2 430.9,1139.2 435.0,1139.2 439.1,1139.2 443.1,1139.2 447.2,1139.2 451.3,1139.2 455.4,1139.2 459.4,1139.2 463.5,1139.2 467.6,1139.2 471.6,1139.2 475.7,1139.2 479.8,1139.2 483.8,1139.2 487.9,1139.2 492.0,1139.2 496.0,1139.2 500.1,1139.2 504.2,1139.2 508.2,1139.2 512.3,1139.2 516.4,1139.2 520.4,1139.2 524.5,1139.2 528.6,1139.2 532.6,1139.2 536.7,1139.2 540.8,1139.2 544.8,1139.2 548.9,1139.2 553.0,1139.2 555.0,1139.2 553.0,1135.7 552.6,1135.1 550.2,1131.1 548.9,1128.9 547.7,1127.0 545.3,1122.9 544.8,1122.2 542.8,1118.8 540.8,1115.5 540.3,1114.8 537.8,1110.7 536.7,1108.9 535.3,1106.6 532.8,1102.6 532.6,1102.3 530.2,1098.5 528.6,1095.8 527.7,1094.4 525.1,1090.3 524.5,1089.4 522.5,1086.3 520.4,1083.1 519.9,1082.2 517.2,1078.1 516.4,1076.8 514.6,1074.1 512.3,1070.6 511.9,1070.0 509.2,1065.9 508.2,1064.5 506.4,1061.8 504.2,1058.4 503.7,1057.8 500.9,1053.7 500.1,1052.5 498.1,1049.6 496.0,1046.6 495.3,1045.6 492.4,1041.5 492.0,1040.9 489.5,1037.4 487.9,1035.2 486.5,1033.3 483.8,1029.7 483.5,1029.3 480.5,1025.2 479.8,1024.2 477.4,1021.1 475.7,1018.9 474.2,1017.0 471.6,1013.7 471.1,1013.0 467.8,1008.9 467.6,1008.6 464.5,1004.8 463.5,1003.6 461.1,1000.8 459.4,998.8 457.6,996.7 455.4,994.1 454.0,992.6 451.3,989.5 450.4,988.5 447.2,985.1 446.6,984.5 443.1,980.9 442.7,980.4 439.1,976.8 438.6,976.3 435.0,972.9 434.3,972.3 430.9,969.2 429.8,968.2 426.9,965.6 425.0,964.1 422.8,962.3 419.9,960.0 418.7,959.1 414.7,956.2 414.4,956.0 410.6,953.4 408.1,951.9 406.5,950.9 402.5,948.6 400.8,947.8 398.4,946.6 394.3,944.8 391.5,943.8 390.3,943.3 386.2,942.0 382.1,941.0 378.1,940.3 374.0,939.9 369.9,939.7 365.9,939.9 361.8,940.3 357.7,941.1 353.7,942.2 349.6,943.7 349.4,943.8 345.5,945.4 341.5,947.5 340.9,947.8 337.4,949.9 334.5,951.9 333.3,952.7 329.3,955.8 329.1,956.0 325.2,959.3 324.3,960.0 321.1,963.0 320.1,964.1 317.1,967.2 316.1,968.2 313.0,971.6 312.5,972.3 309.0,976.3 308.9,976.4 305.8,980.4 304.9,981.6 302.7,984.5 300.8,987.0 299.7,988.5 296.9,992.6 296.7,992.8 294.1,996.7 292.7,998.9 291.5,1000.8 288.9,1004.8 288.6,1005.3 286.4,1008.9 284.5,1012.0 284.0,1013.0 281.6,1017.0 280.5,1019.1 279.3,1021.1 277.0,1025.2 276.4,1026.4 274.8,1029.3 272.7,1033.3 272.3,1034.0 270.6,1037.4 268.4,1041.5 268.2,1041.9 266.4,1045.6 264.4,1049.6 264.2,1050.0 262.4,1053.7 260.4,1057.8 260.1,1058.4 258.5,1061.8 256.6,1065.9 256.0,1067.1 254.7,1070.0 252.9,1074.1 252.0,1076.0 251.0,1078.1 249.2,1082.2 247.9,1085.2 247.4,1086.3 245.7,1090.3 243.9,1094.4 243.8,1094.6 242.2,1098.5 240.5,1102.6 239.8,1104.2 238.8,1106.6 237.1,1110.7 235.7,1114.0 235.4,1114.8 233.7,1118.8 232.1,1122.9 231.6,1124.0 230.5,1127.0 228.8,1131.1 227.6,1134.2 227.2,1135.1 225.6,1139.2Z" fill="#ff4400"/>
<path d="M228.7,1139.2 231.6,1139.2 235.7,1139.2 239.8,1139.2 243.8,1139.2 247.9,1139.2 252.0,1139.2 256.0,1139.2 260.1,1139.2 264.2,1139.2 268.2,1139.2 272.3,1139.2 276.4,1139.2 280.5,1139.2 284.5,1139.2 288.6,1139.2 292.7,1139.2 296.7,1139.2 300.8,1139.2 304.9,1139.2 308.9,1139.2 313.0,1139.2 317.1,1139.2 321.1,1139.2 325.2,1139.2 329.3,1139.2 333.3,1139.2 337.4,1139.2 341.5,1139.2 345.5,1139.2 349.6,1139.2 353.7,1139.2 357.7,1139.2 361.8,1139.2 365.9,1139.2 369.9,1139.2 374.0,1139.2 378.1,1139.2 382.1,1139.2 386.2,1139.2 390.3,1139.2 394.3,1139.2 398.4,1139.2 402.5,1139.2 406.5,1139.2 410.6,1139.2 414.7,1139.2 418.7,1139.2 422.8,1139.2 426.9,1139.2 430.9,1139.2 435.0,1139.2 439.1,1139.2 443.1,1139.2 447.2,1139.2 451.3,1139.2 455.4,1139.2 459.4,1139.2 463.5,1139.2 467.6,1139.2 471.6,1139.2 475.7,1139.2 479.8,1139.2 483.8,1139.2 487.9,1139.2 492.0,1139.2 496.0,1139.2 500.1,1139.2 504.2,1139.2 508.2,1139.2 512.3,1139.2 516.4,1139.2 520.4,1139.2 524.5,1139.2 528.6,1139.2 532.6,1139.2 536.7,1139.2 540.8,1139.2 544.8,1139.2 548.9,1139.2 552.0,1139.2 549.5,1135.1 548.9,1134.1 547.0,1131.1 544.8,1127.5 544.5,1127.0 542.0,1122.9 540.8,1120.8 539.5,1118.8 537.0,1114.8 536.7,1114.3 534.4,1110.7 532.6,1107.8 531.9,1106.6 529.3,1102.6 528.6,1101.4 526.7,1098.5 524.5,1095.1 524.1,1094.4 521.4,1090.3 520.4,1088.8 518.8,1086.3 516.4,1082.6 516.1,1082.2 513.4,1078.1 512.3,1076.5 510.7,1074.1 508.2,1070.4 507.9,1070.0 505.1,1065.9 504.2,1064.5 502.3,1061.8 500.1,1058.6 499.5,1057.8 496.6,1053.7 496.0,1052.8 493.7,1049.6 492.0,1047.2 490.8,1045.6 487.9,1041.6 487.8,1041.5 484.8,1037.4 483.8,1036.1 481.7,1033.3 479.8,1030.8 478.6,1029.3 475.7,1025.5 475.4,1025.2 472.2,1021.1 471.6,1020.4 468.9,1017.1 467.6,1015.4 465.5,1013.0 463.5,1010.5 462.1,1008.9 459.4,1005.8 458.6,1004.8 455.4,1001.2 455.0,1000.8 451.3,996.7 451.2,996.7 447.4,992.6 447.2,992.4 443.4,988.5 443.1,988.3 439.2,984.5 439.1,984.3 435.0,980.5 434.9,980.4 430.9,976.9 430.3,976.3 426.9,973.4 425.4,972.3 422.8,970.2 420.2,968.2 418.7,967.1 414.7,964.3 414.4,964.1 410.6,961.6 407.9,960.0 406.5,959.2 402.5,957.0 400.2,956.0 398.4,955.1 394.3,953.4 390.3,952.0 390.1,951.9 386.2,950.8 382.1,949.8 378.1,949.2 374.0,948.8 369.9,948.8 365.9,949.0 361.8,949.5 357.7,950.4 353.7,951.5 352.6,951.9 349.6,953.0 345.5,954.8 343.2,956.0 341.5,956.9 337.4,959.3 336.4,960.0 333.3,962.1 330.7,964.1 329.3,965.2 325.8,968.2 325.2,968.7 321.3,972.3 321.1,972.5 317.3,976.3 317.1,976.6 313.5,980.4 313.0,981.0 310.0,984.5 308.9,985.8 306.7,988.5 304.9,990.9 303.5,992.6 300.8,996.3 300.5,996.7 297.6,1000.8 296.7,1002.0 294.8,1004.8 292.7,1008.1 292.1,1008.9 289.5,1013.0 288.6,1014.4 287.0,1017.1 284.5,1021.1 284.5,1021.1 282.1,1025.2 280.5,1028.0 279.8,1029.3 277.5,1033.3 276.4,1035.3 275.2,1037.4 273.0,1041.5 272.3,1042.8 270.9,1045.6 268.8,1049.6 268.2,1050.6 266.7,1053.7 264.6,1057.8 264.2,1058.7 262.6,1061.8 260.6,1065.9 260.1,1067.0 258.7,1070.0 256.8,1074.1 256.0,1075.6 254.9,1078.1 253.0,1082.2 252.0,1084.4 251.1,1086.3 249.3,1090.3 247.9,1093.5 247.5,1094.4 245.7,1098.5 243.9,1102.6 243.8,1102.8 242.2,1106.6 240.4,1110.7 239.8,1112.3 238.7,1114.8 237.0,1118.8 235.7,1122.0 235.3,1122.9 233.7,1127.0 232.0,1131.1 231.6,1131.9 230.4,1135.1 228.7,1139.2Z" fill="#ff4900"/>
<path d="M231.8,1139.2 235.7,1139.2 239.8,1139.2 243.8,1139.2 247.9,1139.2 252.0,1139.2 256.0,1139.2 260.1,1139.2 264.2,1139.2 268.2,1139.2 272.3,1139.2 276.4,1139.2 280.5,1139.2 284.5,1139.2 288.6,1139.2 292.7,1139.2 296.7,1139.2 300.8,1139.2 304.9,1139.2 308.9,1139.2 313.0,1139.2 317.1,1139.2 321.1,1139.2 325.2,1139.2 329.3,1139.2 333.3,1139.2 337.4,1139.2 341.5,1139.2 345.5,1139.2 349.6,1139.2 353.7,1139.2 357.7,1139.2 361.8,1139.2 365.9,1139.2 369.9,1139.2 374.0,1139.2 378.1,1139.2 382.1,1139.2 386.2,1139.2 390.3,1139.2 394.3,1139.2 398.4,1139.2 402.5,1139.2 406.5,1139.2 410.6,1139.2 414.7,1139.2 418.7,1139.2 422.8,1139.2 426.9,1139.2 430.9,1139.2 435.0,1139.2 439.1,1139.2 443.1,1139.2 447.2,1139.2 451.3,1139.2 455.4,1139.2 459.4,1139.2 463.5,1139.2 467.6,1139.2 471.6,1139.2 475.7,1139.2 479.8,1139.2 483.8,1139.2 487.9,1139.2 492.0,1139.2 496.0,1139.2 500.1,1139.2 504.2,1139.2 508.2,1139.2 512.3,1139.2 516.4,1139.2 520.4,1139.2 524.5,1139.2 528.6,1139.2 532.6,1139.2 536.7,1139.2 540.8,1139.2 544.8,1139.2 548.8,1139.2 546.3,1135.1 544.8,1132.7 543.8,1131.1 541.3,1127.0 540.8,1126.2 538.7,1122.9 536.7,1119.7 536.2,1118.8 533.6,1114.8 532.6,1113.3 531.0,1110.7 528.6,1106.9 528.4,1106.6 525.7,1102.6 524.5,1100.7 523.1,1098.5 520.4,1094.5 520.4,1094.4 517.7,1090.3 516.4,1088.3 515.0,1086.3 512.3,1082.3 512.2,1082.2 509.4,1078.1 508.2,1076.3 506.6,1074.1 504.2,1070.5 503.8,1070.0 501.0,1065.9 500.1,1064.7 498.1,1061.8 496.0,1059.0 495.1,1057.8 492.2,1053.7 492.0,1053.4 489.2,1049.6 487.9,1047.9 486.1,1045.6 483.8,1042.5 483.0,1041.5 479.9,1037.4 479.8,1037.3 476.7,1033.3 475.7,1032.1 473.4,1029.3 471.6,1027.1 470.1,1025.2 467.6,1022.2 466.7,1021.1 463.5,1017.4 463.2,1017.1 459.6,1013.0 459.4,1012.7 456.0,1008.9 455.4,1008.2 452.2,1004.8 451.3,1003.9 448.3,1000.8 447.2,999.7 444.2,996.7 443.1,995.6 440.0,992.6 439.1,991.7 435.6,988.5 435.0,988.0 430.9,984.5 430.9,984.5 426.9,981.1 425.9,980.4 422.8,978.0 420.5,976.3 418.7,975.0 414.7,972.3 414.7,972.3 410.6,969.7 407.9,968.2 406.5,967.4 402.5,965.3 399.9,964.1 398.4,963.4 394.3,961.8 390.3,960.5 388.7,960.0 386.2,959.4 382.1,958.5 378.1,958.0 374.0,957.7 369.9,957.7 365.9,957.9 361.8,958.5 357.7,959.4 355.6,960.0 353.7,960.6 349.6,962.1 345.5,963.9 345.2,964.1 341.5,966.1 338.0,968.2 337.4,968.6 333.3,971.4 332.1,972.3 329.3,974.5 327.1,976.3 325.2,977.9 322.5,980.4 321.1,981.7 318.4,984.5 317.1,985.8 314.5,988.5 313.0,990.2 310.9,992.6 308.9,994.9 307.5,996.7 304.9,1000.0 304.3,1000.8 301.2,1004.8 300.8,1005.4 298.3,1008.9 296.7,1011.1 295.4,1013.0 292.7,1017.1 292.7,1017.1 290.0,1021.1 288.6,1023.4 287.5,1025.2 285.0,1029.3 284.5,1030.0 282.5,1033.3 280.5,1036.9 280.1,1037.4 277.8,1041.5 276.4,1044.0 275.6,1045.6 273.3,1049.6 272.3,1051.5 271.1,1053.7 269.0,1057.8 268.2,1059.2 266.9,1061.8 264.8,1065.9 264.2,1067.2 262.8,1070.0 260.8,1074.1 260.1,1075.4 258.8,1078.1 256.9,1082.2 256.0,1083.9 255.0,1086.3 253.1,1090.3 252.0,1092.7 251.2,1094.4 249.3,1098.5 247.9,1101.6 247.5,1102.6 245.7,1106.6 243.9,1110.7 243.8,1110.8 242.1,1114.8 240.4,1118.8 239.8,1120.2 238.6,1122.9 236.9,1127.0 235.7,1129.9 235.2,1131.1 233.5,1135.1 231.8,1139.2Z" fill="#ff4e00"/>
<path d="M235.1,1139.2 235.7,1139.2 239.8,1139.2 243.8,1139.2 247.9,1139.2 252.0,1139.2 256.0,1139.2 260.1,1139.2 264.2,1139.2 268.2,1139.2 272.3,1139.2 276.4,1139.2 280.5,1139.2 284.5,1139.2 288.6,1139.2 292.7,1139.2 296.7,1139.2 300.8,1139.2 304.9,1139.2 308.9,1139.2 313.0,1139.2 317.1,1139.2 321.1,1139.2 325.2,1139.2 329.3,1139.2 333.3,1139.2 337.4,1139.2 341.5,1139.2 345.5,1139.2 349.6,1139.2 353.7,1139.2 357.7,1139.2 361.8,1139.2 365.9,1139.2 369.9,1139.2 374.0,1139.2 378.1,1139.2 382.1,1139.2 386.2,1139.2 390.3,1139.2 394.3,1139.2 398.4,1139.2 402.5,1139.2 406.5,1139.2 410.6,1139.2 414.7,1139.2 418.7,1139.2 422.8,1139.2 426.9,1139.2 430.9,1139.2 435.0,1139.2 439.1,1139.2 443.1,1139.2 447.2,1139.2 451.3,1139.2 455.4,1139.2 459.4,1139.2 463.5,1139.2 467.6,1139.2 471.6,1139.2 475.7,1139.2 479.8,1139.2 483.8,1139.2 487.9,1139.2 492.0,1139.2 496.0,1139.2 500.1,1139.2 504.2,1139.2 508.2,1139.2 512.3,1139.2 516.4,1139.2 520.4,1139.2 524.5,1139.2 528.6,1139.2 532.6,1139.2 536.7,1139.2 540.8,1139.2 544.8,1139.2 545.6,1139.2 544.8,1137.9 543.1,1135.1 540.8,1131.5 540.5,1131.1 537.9,1127.0 536.7,1125.0 535.3,1122.9 532.7,1118.8 532.6,1118.7 530.1,1114.8 528.6,1112.4 527.4,1110.7 524.8,1106.6 524.5,1106.2 522.1,1102.6 520.4,1100.1 519.3,1098.5 516.6,1094.4 516.4,1094.0 513.8,1090.3 512.3,1088.1 511.0,1086.3 508.2,1082.2 508.2,1082.2 505.4,1078.1 504.2,1076.4 502.5,1074.1 500.1,1070.7 499.6,1070.0 496.6,1065.9 496.0,1065.1 493.6,1061.8 492.0,1059.6 490.6,1057.8 487.9,1054.2 487.5,1053.7 484.4,1049.6 483.8,1048.9 481.2,1045.6 479.8,1043.7 478.0,1041.5 475.7,1038.6 474.7,1037.4 471.6,1033.7 471.3,1033.3 467.9,1029.3 467.6,1028.8 464.4,1025.2 463.5,1024.2 460.8,1021.1 459.4,1019.6 457.1,1017.1 455.4,1015.2 453.2,1013.0 451.3,1010.9 449.3,1008.9 447.2,1006.8 445.2,1004.8 443.1,1002.8 440.9,1000.8 439.1,999.0 436.4,996.7 435.0,995.4 431.7,992.6 430.9,992.0 426.9,988.7 426.6,988.5 422.8,985.7 421.1,984.5 418.7,982.8 415.1,980.4 414.7,980.1 410.6,977.7 408.2,976.3 406.5,975.4 402.5,973.4 399.8,972.3 398.4,971.7 394.3,970.1 390.3,968.8 387.7,968.2 386.2,967.8 382.1,967.0 378.1,966.5 374.0,966.3 369.9,966.4 365.9,966.7 361.8,967.4 358.2,968.2 357.7,968.3 353.7,969.5 349.6,971.1 347.0,972.3 345.5,972.9 341.5,975.1 339.4,976.3 337.4,977.6 333.3,980.4 333.3,980.4 329.3,983.5 328.1,984.5 325.2,987.0 323.5,988.5 321.1,990.7 319.2,992.6 317.1,994.8 315.3,996.7 313.0,999.2 311.6,1000.8 308.9,1003.9 308.2,1004.8 304.9,1008.9 304.9,1009.0 301.8,1013.0 300.8,1014.3 298.8,1017.1 296.7,1019.9 295.9,1021.1 293.1,1025.2 292.7,1025.9 290.5,1029.3 288.6,1032.1 287.8,1033.3 285.3,1037.4 284.5,1038.7 282.9,1041.5 280.5,1045.5 280.4,1045.6 278.1,1049.6 276.4,1052.6 275.8,1053.7 273.5,1057.8 272.3,1060.0 271.3,1061.8 269.2,1065.9 268.2,1067.6 267.0,1070.0 265.0,1074.1 264.2,1075.5 262.9,1078.1 260.9,1082.2 260.1,1083.7 258.9,1086.3 256.9,1090.3 256.0,1092.1 255.0,1094.4 253.1,1098.5 252.0,1100.8 251.2,1102.6 249.3,1106.6 247.9,1109.7 247.4,1110.7 245.6,1114.8 243.8,1118.8 243.8,1118.8 242.0,1122.9 240.3,1127.0 239.8,1128.1 238.5,1131.1 236.8,1135.1 235.7,1137.6 235.1,1139.2Z" fill="#ff5300"/>
<path d="M238.3,1139.2 239.8,1139.2 243.8,1139.2 247.9,1139.2 252.0,1139.2 256.0,1139.2 260.1,1139.2 264.2,1139.2 268.2,1139.2 272.3,1139.2 276.4,1139.2 280.5,1139.2 284.5,1139.2 288.6,1139.2 292.7,1139.2 296.7,1139.2 300.8,1139.2 304.9,1139.2 308.9,1139.2 313.0,1139.2 317.1,1139.2 321.1,1139.2 325.2,1139.2 329.3,1139.2 333.3,1139.2 337.4,1139.2 341.5,1139.2 345.5,1139.2 349.6,1139.2 353.7,1139.2 357.7,1139.2 361.8,1139.2 365.9,1139.2 369.9,1139.2 374.0,1139.2 378.1,1139.2 382.1,1139.2 386.2,1139.2 390.3,1139.2 394.3,1139.2 398.4,1139.2 402.5,1139.2 406.5,1139.2 410.6,1139.2 414.7,1139.2 418.7,1139.2 422.8,1139.2 426.9,1139.2 430.9,1139.2 435.0,1139.2 439.1,1139.2 443.1,1139.2 447.2,1139.2 451.3,1139.2 455.4,1139.2 459.4,1139.2 463.5,1139.2 467.6,1139.2 471.6,1139.2 475.7,1139.2 479.8,1139.2 483.8,1139.2 487.9,1139.2 492.0,1139.2 496.0,1139.2 500.1,1139.2 504.2,1139.2 508.2,1139.2 512.3,1139.2 516.4,1139.2 520.4,1139.2 524.5,1139.2 528.6,1139.2 532.6,1139.2 536.7,1139.2 540.8,1139.2 542.3,1139.2 540.8,1136.7 539.8,1135.1 537.1,1131.1 536.7,1130.4 534.5,1127.0 532.6,1124.1 531.9,1122.9 529.2,1118.8 528.6,1117.9 526.5,1114.8 524.5,1111.7 523.8,1110.7 521.1,1106.6 520.4,1105.7 518.3,1102.6 516.4,1099.7 515.5,1098.5 512.7,1094.4 512.3,1093.8 509.9,1090.3 508.2,1088.0 507.0,1086.3 504.2,1082.3 504.1,1082.2 501.2,1078.1 500.1,1076.6 498.2,1074.1 496.0,1071.1 495.2,1070.0 492.1,1065.9 492.0,1065.7 489.0,1061.8 487.9,1060.4 485.9,1057.8 483.8,1055.1 482.7,1053.7 479.8,1050.0 479.4,1049.6 476.1,1045.6 475.7,1045.1 472.7,1041.5 471.6,1040.2 469.2,1037.4 467.6,1035.5 465.7,1033.3 463.5,1030.8 462.0,1029.3 459.4,1026.4 458.3,1025.2 455.4,1022.1 454.4,1021.1 451.3,1017.9 450.4,1017.1 447.2,1013.8 446.3,1013.0 443.1,1010.0 442.0,1008.9 439.1,1006.3 437.4,1004.8 435.0,1002.7 432.6,1000.8 430.9,999.4 427.5,996.7 426.9,996.2 422.8,993.2 421.9,992.6 418.7,990.5 415.7,988.5 414.7,987.9 410.6,985.5 408.6,984.5 406.5,983.4 402.5,981.4 400.0,980.4 398.4,979.7 394.3,978.3 390.3,977.1 387.1,976.3 386.2,976.1 382.1,975.4 378.1,975.0 374.0,974.8 369.9,974.9 365.9,975.3 361.8,976.0 360.5,976.3 357.7,977.0 353.7,978.3 349.6,979.9 348.4,980.4 345.5,981.7 341.5,983.9 340.6,984.5 337.4,986.4 334.4,988.5 333.3,989.3 329.3,992.4 329.0,992.6 325.2,995.8 324.3,996.7 321.1,999.6 320.0,1000.8 317.1,1003.7 316.0,1004.8 313.0,1008.0 312.2,1008.9 308.9,1012.7 308.7,1013.0 305.4,1017.1 304.9,1017.7 302.3,1021.1 300.8,1023.0 299.2,1025.2 296.7,1028.7 296.3,1029.3 293.5,1033.3 292.7,1034.6 290.8,1037.4 288.6,1040.8 288.1,1041.5 285.6,1045.6 284.5,1047.2 283.1,1049.6 280.6,1053.7 280.5,1054.0 278.3,1057.8 276.4,1061.0 275.9,1061.8 273.7,1065.9 272.3,1068.4 271.4,1070.0 269.3,1074.1 268.2,1075.9 267.1,1078.1 265.0,1082.2 264.2,1083.8 262.9,1086.3 260.9,1090.3 260.1,1091.9 258.9,1094.4 256.9,1098.5 256.0,1100.2 254.9,1102.6 253.0,1106.6 252.0,1108.8 251.1,1110.7 249.2,1114.8 247.9,1117.6 247.3,1118.8 245.5,1122.9 243.8,1126.6 243.7,1127.0 241.9,1131.1 240.1,1135.1 239.8,1135.8 238.3,1139.2Z" fill="#ff5800"/>
<path d="M241.7,1139.2 243.8,1139.2 247.9,1139.2 252.0,1139.2 256.0,1139.2 260.1,1139.2 264.2,1139.2 268.2,1139.2 272.3,1139.2 276.4,1139.2 280.5,1139.2 284.5,1139.2 288.6,1139.2 292.7,1139.2 296.7,1139.2 300.8,1139.2 304.9,1139.2 308.9,1139.2 313.0,1139.2 317.1,1139.2 321.1,1139.2 325.2,1139.2 329.3,1139.2 333.3,1139.2 337.4,1139.2 341.5,1139.2 345.5,1139.2 349.6,1139.2 353.7,1139.2 357.7,1139.2 361.8,1139.2 365.9,1139.2 369.9,1139.2 374.0,1139.2 378.1,1139.2 382.1,1139.2 386.2,1139.2 390.3,1139.2 394.3,1139.2 398.4,1139.2 402.5,1139.2 406.5,1139.2 410.6,1139.2 414.7,1139.2 418.7,1139.2 422.8,1139.2 426.9,1139.2 430.9,1139.2 435.0,1139.2 439.1,1139.2 443.1,1139.2 447.2,1139.2 451.3,1139.2 455.4,1139.2 459.4,1139.2 463.5,1139.2 467.6,1139.2 471.6,1139.2 475.7,1139.2 479.8,1139.2 483.8,1139.2 487.9,1139.2 492.0,1139.2 496.0,1139.2 500.1,1139.2 504.2,1139.2 508.2,1139.2 512.3,1139.2 516.4,1139.2 520.4,1139.2 524.5,1139.2 528.6,1139.2 532.6,1139.2 536.7,1139.2 539.0,1139.2 536.7,1135.6 536.4,1135.1 533.7,1131.1 532.6,1129.4 531.0,1127.0 528.6,1123.3 528.3,1122.9 525.6,1118.8 524.5,1117.2 522.8,1114.8 520.4,1111.2 520.1,1110.7 517.3,1106.6 516.4,1105.3 514.4,1102.6 512.3,1099.5 511.6,1098.5 508.7,1094.4 508.2,1093.8 505.8,1090.3 504.2,1088.1 502.8,1086.3 500.1,1082.6 499.8,1082.2 496.8,1078.1 496.0,1077.1 493.7,1074.1 492.0,1071.7 490.6,1070.0 487.9,1066.5 487.4,1065.9 484.2,1061.8 483.8,1061.4 480.9,1057.8 479.8,1056.3 477.6,1053.7 475.7,1051.4 474.1,1049.6 471.6,1046.7 470.7,1045.6 467.6,1042.0 467.1,1041.5 463.5,1037.5 463.4,1037.4 459.6,1033.3 459.4,1033.1 455.7,1029.3 455.4,1028.8 451.7,1025.2 451.3,1024.8 447.5,1021.1 447.2,1020.8 443.2,1017.1 443.1,1017.0 439.1,1013.4 438.6,1013.0 435.0,1010.0 433.7,1008.9 430.9,1006.7 428.5,1004.8 426.9,1003.6 422.9,1000.8 422.8,1000.7 418.7,998.0 416.6,996.7 414.7,995.5 410.6,993.2 409.4,992.6 406.5,991.2 402.5,989.3 400.5,988.5 398.4,987.7 394.3,986.3 390.3,985.2 387.0,984.5 386.2,984.3 382.1,983.7 378.1,983.3 374.0,983.2 369.9,983.4 365.9,983.8 362.2,984.5 361.8,984.5 357.7,985.6 353.7,986.9 349.6,988.5 349.5,988.5 345.5,990.4 341.5,992.6 341.5,992.6 337.4,995.1 335.2,996.7 333.3,998.0 329.7,1000.8 329.3,1001.1 325.2,1004.5 324.9,1004.8 321.1,1008.3 320.5,1008.9 317.1,1012.4 316.5,1013.0 313.0,1016.7 312.7,1017.1 309.2,1021.1 308.9,1021.4 305.8,1025.2 304.9,1026.4 302.6,1029.3 300.8,1031.6 299.5,1033.3 296.7,1037.2 296.6,1037.4 293.8,1041.5 292.7,1043.1 291.0,1045.6 288.6,1049.2 288.3,1049.6 285.8,1053.7 284.5,1055.6 283.2,1057.8 280.8,1061.8 280.5,1062.4 278.4,1065.9 276.4,1069.3 276.0,1070.0 273.7,1074.1 272.3,1076.6 271.5,1078.1 269.3,1082.2 268.2,1084.1 267.1,1086.3 265.0,1090.3 264.2,1091.9 262.9,1094.4 260.8,1098.5 260.1,1099.9 258.8,1102.6 256.8,1106.6 256.0,1108.1 254.8,1110.7 252.9,1114.8 252.0,1116.6 251.0,1118.8 249.1,1122.9 247.9,1125.4 247.2,1127.0 245.3,1131.1 243.8,1134.3 243.5,1135.1 241.7,1139.2Z" fill="#ff5d00"/>
<path d="M245.1,1139.2 247.9,1139.2 252.0,1139.2 256.0,1139.2 260.1,1139.2 264.2,1139.2 268.2,1139.2 272.3,1139.2 276.4,1139.2 280.5,1139.2 284.5,1139.2 288.6,1139.2 292.7,1139.2 296.7,1139.2 300.8,1139.2 304.9,1139.2 308.9,1139.2 313.0,1139.2 317.1,1139.2 321.1,1139.2 325.2,1139.2 329.3,1139.2 333.3,1139.2 337.4,1139.2 341.5,1139.2 345.5,1139.2 349.6,1139.2 353.7,1139.2 357.7,1139.2 361.8,1139.2 365.9,1139.2 369.9,1139.2 374.0,1139.2 378.1,1139.2 382.1,1139.2 386.2,1139.2 390.3,1139.2 394.3,1139.2 398.4,1139.2 402.5,1139.2 406.5,1139.2 410.6,1139.2 414.7,1139.2 418.7,1139.2 422.8,1139.2 426.9,1139.2 430.9,1139.2 435.0,1139.2 439.1,1139.2 443.1,1139.2 447.2,1139.2 451.3,1139.2 455.4,1139.2 459.4,1139.2 463.5,1139.2 467.6,1139.2 471.6,1139.2 475.7,1139.2 479.8,1139.2 483.8,1139.2 487.9,1139.2 492.0,1139.2 496.0,1139.2 500.1,1139.2 504.2,1139.2 508.2,1139.2 512.3,1139.2 516.4,1139.2 520.4,1139.2 524.5,1139.2 528.6,1139.2 532.6,1139.2 535.6,1139.2 532.9,1135.1 532.6,1134.7 530.2,1131.1 528.6,1128.6 527.4,1127.0 524.7,1122.9 524.5,1122.6 521.9,1118.8 520.4,1116.7 519.1,1114.8 516.4,1110.9 516.2,1110.7 513.3,1106.6 512.3,1105.1 510.4,1102.6 508.2,1099.5 507.5,1098.5 504.5,1094.4 504.2,1093.9 501.5,1090.3 500.1,1088.4 498.5,1086.3 496.0,1083.0 495.4,1082.2 492.2,1078.1 492.0,1077.8 489.0,1074.1 487.9,1072.6 485.8,1070.0 483.8,1067.5 482.5,1065.9 479.8,1062.6 479.1,1061.8 475.7,1057.8 475.7,1057.8 472.2,1053.7 471.6,1053.1 468.6,1049.6 467.6,1048.5 464.9,1045.6 463.5,1044.0 461.1,1041.5 459.4,1039.7 457.1,1037.4 455.4,1035.6 453.1,1033.3 451.3,1031.6 448.9,1029.3 447.2,1027.7 444.5,1025.2 443.1,1024.0 439.8,1021.1 439.1,1020.5 435.0,1017.1 434.9,1017.1 430.9,1013.9 429.7,1013.0 426.9,1010.9 424.0,1008.9 422.8,1008.1 418.7,1005.5 417.7,1004.8 414.7,1003.1 410.6,1000.9 410.4,1000.8 406.5,998.9 402.5,997.1 401.4,996.7 398.4,995.5 394.3,994.2 390.3,993.2 387.6,992.6 386.2,992.3 382.1,991.8 378.1,991.5 374.0,991.4 369.9,991.6 365.9,992.1 363.4,992.6 361.8,992.9 357.7,994.0 353.7,995.3 350.3,996.7 349.6,997.0 345.5,998.9 342.2,1000.8 341.5,1001.1 337.4,1003.7 335.7,1004.8 333.3,1006.5 330.2,1008.9 329.3,1009.7 325.3,1013.0 325.2,1013.1 321.1,1016.8 320.9,1017.1 317.1,1020.9 316.8,1021.1 313.0,1025.2 313.0,1025.2 309.5,1029.3 308.9,1029.9 306.1,1033.3 304.9,1034.8 302.9,1037.4 300.8,1040.1 299.8,1041.5 296.8,1045.6 296.7,1045.6 293.9,1049.6 292.7,1051.4 291.1,1053.7 288.6,1057.5 288.4,1057.8 285.8,1061.8 284.5,1063.9 283.3,1065.9 280.8,1070.0 280.5,1070.6 278.4,1074.1 276.4,1077.5 276.0,1078.1 273.7,1082.2 272.3,1084.7 271.5,1086.3 269.2,1090.3 268.2,1092.1 267.1,1094.4 264.9,1098.5 264.2,1099.8 262.8,1102.6 260.7,1106.6 260.1,1107.8 258.7,1110.7 256.6,1114.8 256.0,1116.0 254.7,1118.8 252.7,1122.9 252.0,1124.4 250.8,1127.0 248.8,1131.1 247.9,1133.0 247.0,1135.1 245.1,1139.2Z" fill="#ff6200"/>
<path d="M248.6,1139.2 252.0,1139.2 256.0,1139.2 260.1,1139.2 264.2,1139.2 268.2,1139.2 272.3,1139.2 276.4,1139.2 280.5,1139.2 284.5,1139.2 288.6,1139.2 292.7,1139.2 296.7,1139.2 300.8,1139.2 304.9,1139.2 308.9,1139.2 313.0,1139.2 317.1,1139.2 321.1,1139.2 325.2,1139.2 329.3,1139.2 333.3,1139.2 337.4,1139.2 341.5,1139.2 345.5,1139.2 349.6,1139.2 353.7,1139.2 357.7,1139.2 361.8,1139.2 365.9,1139.2 369.9,1139.2 374.0,1139.2 378.1,1139.2 382.1,1139.2 386.2,1139.2 390.3,1139.2 394.3,1139.2 398.4,1139.2 402.5,1139.2 406.5,1139.2 410.6,1139.2 414.7,1139.2 418.7,1139.2 422.8,1139.2 426.9,1139.2 430.9,1139.2 435.0,1139.2 439.1,1139.2 443.1,1139.2 447.2,1139.2 451.3,1139.2 455.4,1139.2 459.4,1139.2 463.5,1139.2 467.6,1139.2 471.6,1139.2 475.7,1139.2 479.8,1139.2 483.8,1139.2 487.9,1139.2 492.0,1139.2 496.0,1139.2 500.1,1139.2 504.2,1139.2 508.2,1139.2 512.3,1139.2 516.4,1139.2 520.4,1139.2 524.5,1139.2 528.6,1139.2 532.1,1139.2 529.3,1135.1 528.6,1134.0 526.6,1131.1 524.5,1128.0 523.8,1127.0 520.9,1122.9 520.4,1122.2 518.1,1118.8 516.4,1116.4 515.2,1114.8 512.3,1110.7 512.3,1110.7 509.3,1106.6 508.2,1105.1 506.3,1102.6 504.2,1099.6 503.3,1098.5 500.2,1094.4 500.1,1094.2 497.1,1090.3 496.0,1088.9 493.9,1086.3 492.0,1083.7 490.7,1082.2 487.9,1078.6 487.5,1078.1 484.2,1074.1 483.8,1073.6 480.8,1070.0 479.8,1068.8 477.3,1065.9 475.7,1064.0 473.8,1061.8 471.6,1059.4 470.1,1057.8 467.6,1054.9 466.4,1053.7 463.5,1050.5 462.6,1049.6 459.4,1046.3 458.7,1045.6 455.4,1042.2 454.6,1041.5 451.3,1038.3 450.3,1037.4 447.2,1034.5 445.9,1033.3 443.1,1030.9 441.2,1029.3 439.1,1027.4 436.3,1025.2 435.0,1024.1 431.1,1021.1 430.9,1021.0 426.9,1018.1 425.3,1017.1 422.8,1015.4 419.0,1013.0 418.7,1012.8 414.7,1010.5 411.6,1008.9 410.6,1008.4 406.5,1006.4 402.7,1004.8 402.5,1004.7 398.4,1003.3 394.3,1002.0 390.3,1001.0 388.8,1000.8 386.2,1000.3 382.1,999.8 378.1,999.5 374.0,999.5 369.9,999.8 365.9,1000.3 363.7,1000.8 361.8,1001.2 357.7,1002.3 353.7,1003.6 350.8,1004.8 349.6,1005.3 345.5,1007.3 342.6,1008.9 341.5,1009.5 337.4,1012.1 336.1,1013.0 333.3,1014.9 330.6,1017.1 329.3,1018.1 325.7,1021.1 325.2,1021.5 321.2,1025.2 321.1,1025.3 317.1,1029.3 317.1,1029.3 313.3,1033.3 313.0,1033.6 309.7,1037.4 308.9,1038.3 306.3,1041.5 304.9,1043.2 303.0,1045.6 300.8,1048.4 299.9,1049.6 296.9,1053.7 296.7,1053.9 294.0,1057.8 292.7,1059.7 291.2,1061.8 288.6,1065.7 288.5,1065.9 285.9,1070.0 284.5,1072.1 283.3,1074.1 280.8,1078.1 280.5,1078.7 278.4,1082.2 276.4,1085.5 276.0,1086.3 273.6,1090.3 272.3,1092.7 271.4,1094.4 269.1,1098.5 268.2,1100.1 266.9,1102.6 264.8,1106.6 264.2,1107.7 262.6,1110.7 260.5,1114.8 260.1,1115.6 258.5,1118.8 256.4,1122.9 256.0,1123.7 254.4,1127.0 252.5,1131.1 252.0,1132.0 250.5,1135.1 248.6,1139.2Z" fill="#ff6700"/>
<path d="M252.2,1139.2 256.0,1139.2 260.1,1139.2 264.2,1139.2 268.2,1139.2 272.3,1139.2 276.4,1139.2 280.5,1139.2 284.5,1139.2 288.6,1139.2 292.7,1139.2 296.7,1139.2 300.8,1139.2 304.9,1139.2 308.9,1139.2 313.0,1139.2 317.1,1139.2 321.1,1139.2 325.2,1139.2 329.3,1139.2 333.3,1139.2 337.4,1139.2 341.5,1139.2 345.5,1139.2 349.6,1139.2 353.7,1139.2 357.7,1139.2 361.8,1139.2 365.9,1139.2 369.9,1139.2 374.0,1139.2 378.1,1139.2 382.1,1139.2 386.2,1139.2 390.3,1139.2 394.3,1139.2 398.4,1139.2 402.5,1139.2 406.5,1139.2 410.6,1139.2 414.7,1139.2 418.7,1139.2 422.8,1139.2 426.9,1139.2 430.9,1139.2 435.0,1139.2 439.1,1139.2 443.1,1139.2 447.2,1139.2 451.3,1139.2 455.4,1139.2 459.4,1139.2 463.5,1139.2 467.6,1139.2 471.6,1139.2 475.7,1139.2 479.8,1139.2 483.8,1139.2 487.9,1139.2 492.0,1139.2 496.0,1139.2 500.1,1139.2 504.2,1139.2 508.2,1139.2 512.3,1139.2 516.4,1139.2 520.4,1139.2 524.5,1139.2 528.5,1139.2 525.7,1135.1 524.5,1133.4 522.8,1131.1 520.4,1127.6 520.0,1127.0 517.1,1122.9 516.4,1121.9 514.1,1118.8 512.3,1116.3 511.2,1114.8 508.2,1110.8 508.2,1110.7 505.1,1106.6 504.2,1105.3 502.0,1102.6 500.1,1100.0 498.9,1098.5 496.0,1094.8 495.8,1094.4 492.5,1090.3 492.0,1089.6 489.2,1086.3 487.9,1084.6 485.9,1082.2 483.8,1079.7 482.5,1078.1 479.8,1074.9 479.0,1074.1 475.7,1070.2 475.5,1070.0 471.8,1065.9 471.6,1065.7 468.1,1061.8 467.6,1061.2 464.3,1057.8 463.5,1057.0 460.3,1053.7 459.4,1052.8 456.2,1049.6 455.4,1048.8 451.9,1045.6 451.3,1044.9 447.5,1041.5 447.2,1041.2 443.1,1037.7 442.8,1037.4 439.1,1034.3 437.8,1033.3 435.0,1031.1 432.5,1029.3 430.9,1028.1 426.9,1025.2 426.8,1025.2 422.8,1022.6 420.4,1021.1 418.7,1020.1 414.7,1017.8 413.1,1017.1 410.6,1015.8 406.5,1013.9 404.2,1013.0 402.5,1012.3 398.4,1010.9 394.3,1009.7 390.8,1008.9 390.3,1008.8 386.2,1008.1 382.1,1007.6 378.1,1007.4 374.0,1007.5 369.9,1007.8 365.9,1008.4 363.5,1008.9 361.8,1009.3 357.7,1010.4 353.7,1011.8 350.9,1013.0 349.6,1013.5 345.5,1015.5 342.8,1017.1 341.5,1017.8 337.4,1020.3 336.3,1021.1 333.3,1023.2 330.7,1025.2 329.3,1026.3 325.8,1029.3 325.2,1029.8 321.3,1033.3 321.1,1033.5 317.2,1037.4 317.1,1037.5 313.4,1041.5 313.0,1041.9 309.7,1045.6 308.9,1046.5 306.3,1049.6 304.9,1051.4 303.0,1053.7 300.8,1056.6 299.9,1057.8 296.9,1061.8 296.7,1062.0 294.0,1065.9 292.7,1067.8 291.2,1070.0 288.6,1073.8 288.4,1074.1 285.8,1078.1 284.5,1080.1 283.2,1082.2 280.7,1086.3 280.5,1086.6 278.2,1090.3 276.4,1093.5 275.8,1094.4 273.5,1098.5 272.3,1100.5 271.2,1102.6 268.9,1106.6 268.2,1107.9 266.7,1110.7 264.5,1114.8 264.2,1115.4 262.4,1118.8 260.3,1122.9 260.1,1123.3 258.2,1127.0 256.2,1131.1 256.0,1131.3 254.2,1135.1 252.2,1139.2Z" fill="#ff6c00"/>
<path d="M255.9,1139.2 256.0,1139.2 260.1,1139.2 264.2,1139.2 268.2,1139.2 272.3,1139.2 276.4,1139.2 280.5,1139.2 284.5,1139.2 288.6,1139.2 292.7,1139.2 296.7,1139.2 300.8,1139.2 304.9,1139.2 308.9,1139.2 313.0,1139.2 317.1,1139.2 321.1,1139.2 325.2,1139.2 329.3,1139.2 333.3,1139.2 337.4,1139.2 341.5,1139.2 345.5,1139.2 349.6,1139.2 353.7,1139.2 357.7,1139.2 361.8,1139.2 365.9,1139.2 369.9,1139.2 374.0,1139.2 378.1,1139.2 382.1,1139.2 386.2,1139.2 390.3,1139.2 394.3,1139.2 398.4,1139.2 402.5,1139.2 406.5,1139.2 410.6,1139.2 414.7,1139.2 418.7,1139.2 422.8,1139.2 426.9,1139.2 430.9,1139.2 435.0,1139.2 439.1,1139.2 443.1,1139.2 447.2,1139.2 451.3,1139.2 455.4,1139.2 459.4,1139.2 463.5,1139.2 467.6,1139.2 471.6,1139.2 475.7,1139.2 479.8,1139.2 483.8,1139.2 487.9,1139.2 492.0,1139.2 496.0,1139.2 500.1,1139.2 504.2,1139.2 508.2,1139.2 512.3,1139.2 516.4,1139.2 520.4,1139.2 524.5,1139.2 524.8,1139.2 524.5,1138.7 521.9,1135.1 520.4,1133.0 519.0,1131.1 516.4,1127.4 516.1,1127.0 513.1,1122.9 512.3,1121.8 510.1,1118.8 508.2,1116.4 507.0,1114.8 504.2,1111.0 503.9,1110.7 500.8,1106.6 500.1,1105.7 497.6,1102.6 496.0,1100.5 494.4,1098.5 492.0,1095.5 491.1,1094.4 487.9,1090.5 487.7,1090.3 484.3,1086.3 483.8,1085.7 480.8,1082.2 479.8,1081.0 477.2,1078.1 475.7,1076.4 473.6,1074.1 471.6,1071.9 469.8,1070.0 467.6,1067.5 466.0,1065.9 463.5,1063.3 462.0,1061.8 459.4,1059.2 457.9,1057.8 455.4,1055.3 453.6,1053.7 451.3,1051.5 449.1,1049.6 447.2,1047.9 444.5,1045.6 443.1,1044.4 439.5,1041.5 439.1,1041.1 435.0,1038.0 434.2,1037.4 430.9,1035.0 428.4,1033.3 426.9,1032.3 422.8,1029.7 422.1,1029.3 418.7,1027.3 414.9,1025.2 414.7,1025.1 410.6,1023.1 406.5,1021.3 406.0,1021.1 402.5,1019.7 398.4,1018.4 394.3,1017.3 393.2,1017.1 390.3,1016.4 386.2,1015.8 382.1,1015.4 378.1,1015.2 374.0,1015.3 369.9,1015.7 365.9,1016.3 362.6,1017.1 361.8,1017.2 357.7,1018.4 353.7,1019.9 350.7,1021.1 349.6,1021.6 345.5,1023.6 342.7,1025.2 341.5,1025.9 337.4,1028.5 336.3,1029.3 333.3,1031.3 330.7,1033.3 329.3,1034.5 325.8,1037.4 325.2,1037.9 321.3,1041.5 321.1,1041.7 317.2,1045.6 317.1,1045.7 313.3,1049.6 313.0,1050.0 309.7,1053.7 308.9,1054.6 306.2,1057.8 304.9,1059.4 303.0,1061.8 300.8,1064.6 299.8,1065.9 296.8,1070.0 296.7,1070.0 293.9,1074.1 292.7,1075.7 291.0,1078.1 288.6,1081.7 288.3,1082.2 285.6,1086.3 284.5,1088.0 283.0,1090.3 280.5,1094.4 280.5,1094.5 278.0,1098.5 276.4,1101.2 275.6,1102.6 273.3,1106.6 272.3,1108.3 271.0,1110.7 268.7,1114.8 268.2,1115.5 266.5,1118.8 264.3,1122.9 264.2,1123.1 262.1,1127.0 260.1,1130.8 260.0,1131.1 257.9,1135.1 256.0,1138.8 255.9,1139.2Z" fill="#ff7100"/>
<path d="M259.6,1139.2 260.1,1139.2 264.2,1139.2 268.2,1139.2 272.3,1139.2 276.4,1139.2 280.5,1139.2 284.5,1139.2 288.6,1139.2 292.7,1139.2 296.7,1139.2 300.8,1139.2 304.9,1139.2 308.9,1139.2 313.0,1139.2 317.1,1139.2 321.1,1139.2 325.2,1139.2 329.3,1139.2 333.3,1139.2 337.4,1139.2 341.5,1139.2 345.5,1139.2 349.6,1139.2 353.7,1139.2 357.7,1139.2 361.8,1139.2 365.9,1139.2 369.9,1139.2 374.0,1139.2 378.1,1139.2 382.1,1139.2 386.2,1139.2 390.3,1139.2 394.3,1139.2 398.4,1139.2 402.5,1139.2 406.5,1139.2 410.6,1139.2 414.7,1139.2 418.7,1139.2 422.8,1139.2 426.9,1139.2 430.9,1139.2 435.0,1139.2 439.1,1139.2 443.1,1139.2 447.2,1139.2 451.3,1139.2 455.4,1139.2 459.4,1139.2 463.5,1139.2 467.6,1139.2 471.6,1139.2 475.7,1139.2 479.8,1139.2 483.8,1139.2 487.9,1139.2 492.0,1139.2 496.0,1139.2 500.1,1139.2 504.2,1139.2 508.2,1139.2 512.3,1139.2 516.4,1139.2 520.4,1139.2 521.0,1139.2 520.4,1138.4 518.1,1135.1 516.4,1132.8 515.1,1131.1 512.3,1127.3 512.1,1127.0 509.0,1122.9 508.2,1121.9 505.9,1118.8 504.2,1116.6 502.7,1114.8 500.1,1111.4 499.5,1110.7 496.3,1106.6 496.0,1106.3 493.0,1102.6 492.0,1101.3 489.6,1098.5 487.9,1096.4 486.2,1094.4 483.8,1091.6 482.7,1090.3 479.8,1087.0 479.1,1086.3 475.7,1082.4 475.5,1082.2 471.7,1078.1 471.6,1078.0 467.8,1074.1 467.6,1073.8 463.8,1070.0 463.5,1069.6 459.7,1065.9 459.4,1065.6 455.4,1061.8 455.4,1061.8 451.3,1058.0 451.0,1057.8 447.2,1054.5 446.3,1053.7 443.1,1051.1 441.3,1049.6 439.1,1047.9 436.0,1045.6 435.0,1044.8 430.9,1041.9 430.3,1041.5 426.9,1039.2 424.0,1037.4 422.8,1036.7 418.7,1034.4 416.8,1033.3 414.7,1032.2 410.6,1030.3 408.1,1029.3 406.5,1028.6 402.5,1027.1 398.4,1025.8 396.0,1025.2 394.3,1024.8 390.3,1023.9 386.2,1023.4 382.1,1023.0 378.1,1022.9 374.0,1023.1 369.9,1023.5 365.9,1024.2 361.8,1025.1 361.5,1025.2 357.7,1026.3 353.7,1027.8 350.2,1029.3 349.6,1029.5 345.5,1031.6 342.4,1033.3 341.5,1033.9 337.4,1036.5 336.1,1037.4 333.3,1039.3 330.6,1041.5 329.3,1042.5 325.6,1045.6 325.2,1045.9 321.2,1049.6 321.1,1049.7 317.1,1053.7 317.0,1053.7 313.2,1057.8 313.0,1058.0 309.5,1061.8 308.9,1062.5 306.1,1065.9 304.9,1067.4 302.8,1070.0 300.8,1072.5 299.6,1074.1 296.7,1077.9 296.6,1078.1 293.7,1082.2 292.7,1083.6 290.8,1086.3 288.6,1089.5 288.1,1090.3 285.4,1094.4 284.5,1095.7 282.8,1098.5 280.5,1102.2 280.2,1102.6 277.8,1106.6 276.4,1108.9 275.4,1110.7 273.0,1114.8 272.3,1115.9 270.7,1118.8 268.4,1122.9 268.2,1123.1 266.1,1127.0 264.2,1130.6 263.9,1131.1 261.8,1135.1 260.1,1138.3 259.6,1139.2Z" fill="#ff7600"/>
<path d="M263.6,1139.2 264.2,1139.2 268.2,1139.2 272.3,1139.2 276.4,1139.2 280.5,1139.2 284.5,1139.2 288.6,1139.2 292.7,1139.2 296.7,1139.2 300.8,1139.2 304.9,1139.2 308.9,1139.2 313.0,1139.2 317.1,1139.2 321.1,1139.2 325.2,1139.2 329.3,1139.2 333.3,1139.2 337.4,1139.2 341.5,1139.2 345.5,1139.2 349.6,1139.2 353.7,1139.2 357.7,1139.2 361.8,1139.2 365.9,1139.2 369.9,1139.2 374.0,1139.2 378.1,1139.2 382.1,1139.2 386.2,1139.2 390.3,1139.2 394.3,1139.2 398.4,1139.2 402.5,1139.2 406.5,1139.2 410.6,1139.2 414.7,1139.2 418.7,1139.2 422.8,1139.2 426.9,1139.2 430.9,1139.2 435.0,1139.2 439.1,1139.2 443.1,1139.2 447.2,1139.2 451.3,1139.2 455.4,1139.2 459.4,1139.2 463.5,1139.2 467.6,1139.2 471.6,1139.2 475.7,1139.2 479.8,1139.2 483.8,1139.2 487.9,1139.2 492.0,1139.2 496.0,1139.2 500.1,1139.2 504.2,1139.2 508.2,1139.2 512.3,1139.2 516.4,1139.2 517.1,1139.2 516.4,1138.2 514.1,1135.1 512.3,1132.7 511.0,1131.1 508.2,1127.4 507.9,1127.0 504.7,1122.9 504.2,1122.2 501.5,1118.8 500.1,1117.0 498.3,1114.8 496.0,1112.0 495.0,1110.7 492.0,1107.1 491.6,1106.6 488.2,1102.6 487.9,1102.2 484.6,1098.5 483.8,1097.5 481.0,1094.4 479.8,1092.9 477.4,1090.3 475.7,1088.5 473.6,1086.3 471.6,1084.1 469.7,1082.2 467.6,1079.9 465.7,1078.1 463.5,1075.9 461.6,1074.1 459.4,1071.9 457.3,1070.0 455.4,1068.1 452.9,1065.9 451.3,1064.5 448.2,1061.8 447.2,1061.0 443.2,1057.8 443.1,1057.7 439.1,1054.5 437.9,1053.7 435.0,1051.5 432.2,1049.6 430.9,1048.7 426.9,1046.1 426.0,1045.6 422.8,1043.6 418.9,1041.5 418.7,1041.4 414.7,1039.3 410.6,1037.5 410.5,1037.4 406.5,1035.8 402.5,1034.4 399.1,1033.3 398.4,1033.1 394.3,1032.1 390.3,1031.4 386.2,1030.8 382.1,1030.6 378.1,1030.5 374.0,1030.7 369.9,1031.2 365.9,1031.9 361.8,1032.8 360.2,1033.3 357.7,1034.1 353.7,1035.6 349.6,1037.4 349.5,1037.4 345.5,1039.4 341.9,1041.5 341.5,1041.7 337.4,1044.3 335.7,1045.6 333.3,1047.2 330.2,1049.6 329.3,1050.4 325.3,1053.7 325.2,1053.8 321.1,1057.5 320.9,1057.8 317.1,1061.5 316.8,1061.8 313.0,1065.8 312.9,1065.9 309.3,1070.0 308.9,1070.4 305.8,1074.1 304.9,1075.2 302.5,1078.1 300.8,1080.3 299.4,1082.2 296.7,1085.7 296.3,1086.3 293.4,1090.3 292.7,1091.3 290.5,1094.4 288.6,1097.2 287.8,1098.5 285.1,1102.6 284.5,1103.4 282.5,1106.6 280.5,1109.8 279.9,1110.7 277.4,1114.8 276.4,1116.5 275.0,1118.8 272.6,1122.9 272.3,1123.4 270.3,1127.0 268.2,1130.6 268.0,1131.1 265.8,1135.1 264.2,1138.0 263.6,1139.2Z" fill="#ff7b00"/>
<path d="M267.6,1139.2 268.2,1139.2 272.3,1139.2 276.4,1139.2 280.5,1139.2 284.5,1139.2 288.6,1139.2 292.7,1139.2 296.7,1139.2 300.8,1139.2 304.9,1139.2 308.9,1139.2 313.0,1139.2 317.1,1139.2 321.1,1139.2 325.2,1139.2 329.3,1139.2 333.3,1139.2 337.4,1139.2 341.5,1139.2 345.5,1139.2 349.6,1139.2 353.7,1139.2 357.7,1139.2 361.8,1139.2 365.9,1139.2 369.9,1139.2 374.0,1139.2 378.1,1139.2 382.1,1139.2 386.2,1139.2 390.3,1139.2 394.3,1139.2 398.4,1139.2 402.5,1139.2 406.5,1139.2 410.6,1139.2 414.7,1139.2 418.7,1139.2 422.8,1139.2 426.9,1139.2 430.9,1139.2 435.0,1139.2 439.1,1139.2 443.1,1139.2 447.2,1139.2 451.3,1139.2 455.4,1139.2 459.4,1139.2 463.5,1139.2 467.6,1139.2 471.6,1139.2 475.7,1139.2 479.8,1139.2 483.8,1139.2 487.9,1139.2 492.0,1139.2 496.0,1139.2 500.1,1139.2 504.2,1139.2 508.2,1139.2 512.3,1139.2 513.1,1139.2 512.3,1138.1 510.0,1135.1 508.2,1132.9 506.8,1131.1 504.2,1127.7 503.6,1127.0 500.3,1122.9 500.1,1122.6 497.0,1118.8 496.0,1117.6 493.6,1114.8 492.0,1112.8 490.2,1110.7 487.9,1108.0 486.7,1106.6 483.8,1103.4 483.1,1102.6 479.8,1098.9 479.4,1098.5 475.7,1094.5 475.6,1094.4 471.8,1090.3 471.6,1090.2 467.8,1086.3 467.6,1086.1 463.6,1082.2 463.5,1082.0 459.4,1078.2 459.4,1078.1 455.4,1074.5 454.9,1074.1 451.3,1070.9 450.2,1070.0 447.2,1067.5 445.3,1065.9 443.1,1064.2 440.0,1061.8 439.1,1061.1 435.0,1058.2 434.4,1057.8 430.9,1055.4 428.2,1053.7 426.9,1052.9 422.8,1050.5 421.2,1049.6 418.7,1048.3 414.7,1046.3 413.0,1045.6 410.6,1044.5 406.5,1042.9 402.5,1041.5 402.3,1041.5 398.4,1040.4 394.3,1039.4 390.3,1038.7 386.2,1038.2 382.1,1038.0 378.1,1038.0 374.0,1038.2 369.9,1038.7 365.9,1039.5 361.8,1040.5 358.6,1041.5 357.7,1041.7 353.7,1043.3 349.6,1045.1 348.7,1045.6 345.5,1047.1 341.5,1049.5 341.3,1049.6 337.4,1052.1 335.2,1053.7 333.3,1055.0 329.8,1057.8 329.3,1058.2 325.2,1061.6 324.9,1061.8 321.1,1065.3 320.5,1065.9 317.1,1069.3 316.4,1070.0 313.0,1073.6 312.6,1074.1 308.9,1078.1 308.9,1078.1 305.5,1082.2 304.9,1082.9 302.2,1086.3 300.8,1088.0 299.0,1090.3 296.7,1093.4 296.0,1094.4 293.0,1098.5 292.7,1099.0 290.2,1102.6 288.6,1104.8 287.4,1106.6 284.7,1110.7 284.5,1111.0 282.1,1114.8 280.5,1117.3 279.5,1118.8 277.0,1122.9 276.4,1124.0 274.6,1127.0 272.3,1130.9 272.2,1131.1 269.9,1135.1 268.2,1138.0 267.6,1139.2Z" fill="#ff8000"/>
<path d="M271.7,1139.2 272.3,1139.2 276.4,1139.2 280.5,1139.2 284.5,1139.2 288.6,1139.2 292.7,1139.2 296.7,1139.2 300.8,1139.2 304.9,1139.2 308.9,1139.2 313.0,1139.2 317.1,1139.2 321.1,1139.2 325.2,1139.2 329.3,1139.2 333.3,1139.2 337.4,1139.2 341.5,1139.2 345.5,1139.2 349.6,1139.2 353.7,1139.2 357.7,1139.2 361.8,1139.2 365.9,1139.2 369.9,1139.2 374.0,1139.2 378.1,1139.2 382.1,1139.2 386.2,1139.2 390.3,1139.2 394.3,1139.2 398.4,1139.2 402.5,1139.2 406.5,1139.2 410.6,1139.2 414.7,1139.2 418.7,1139.2 422.8,1139.2 426.9,1139.2 430.9,1139.2 435.0,1139.2 439.1,1139.2 443.1,1139.2 447.2,1139.2 451.3,1139.2 455.4,1139.2 459.4,1139.2 463.5,1139.2 467.6,1139.2 471.6,1139.2 475.7,1139.2 479.8,1139.2 483.8,1139.2 487.9,1139.2 492.0,1139.2 496.0,1139.2 500.1,1139.2 504.2,1139.2 508.2,1139.2 508.9,1139.2 508.2,1138.3 505.7,1135.1 504.2,1133.2 502.4,1131.1 500.1,1128.2 499.1,1127.0 496.0,1123.3 495.7,1122.9 492.3,1118.8 492.0,1118.5 488.8,1114.8 487.9,1113.8 485.2,1110.7 483.8,1109.2 481.5,1106.6 479.8,1104.7 477.7,1102.6 475.7,1100.4 473.8,1098.5 471.6,1096.2 469.8,1094.4 467.6,1092.1 465.7,1090.3 463.5,1088.2 461.4,1086.3 459.4,1084.4 457.0,1082.2 455.4,1080.7 452.3,1078.1 451.3,1077.2 447.4,1074.1 447.2,1073.9 443.1,1070.7 442.2,1070.0 439.1,1067.6 436.6,1065.9 435.0,1064.8 430.9,1062.1 430.5,1061.8 426.9,1059.6 423.7,1057.8 422.8,1057.3 418.7,1055.1 415.7,1053.7 414.7,1053.2 410.6,1051.5 406.5,1049.9 405.6,1049.6 402.5,1048.6 398.4,1047.5 394.3,1046.6 390.3,1046.0 386.5,1045.6 386.2,1045.5 382.1,1045.3 378.1,1045.4 375.5,1045.6 374.0,1045.7 369.9,1046.2 365.9,1047.0 361.8,1048.0 357.7,1049.3 356.9,1049.6 353.7,1050.9 349.6,1052.7 347.6,1053.7 345.5,1054.8 341.5,1057.1 340.5,1057.8 337.4,1059.8 334.5,1061.8 333.3,1062.7 329.3,1065.8 329.2,1065.9 325.2,1069.3 324.4,1070.0 321.1,1073.0 320.0,1074.1 317.1,1077.0 315.9,1078.1 313.0,1081.2 312.1,1082.2 308.9,1085.7 308.5,1086.3 305.0,1090.3 304.9,1090.5 301.7,1094.4 300.8,1095.6 298.6,1098.5 296.7,1100.9 295.5,1102.6 292.7,1106.5 292.6,1106.6 289.7,1110.7 288.6,1112.3 287.0,1114.8 284.5,1118.4 284.3,1118.8 281.6,1122.9 280.5,1124.8 279.1,1127.0 276.6,1131.1 276.4,1131.4 274.1,1135.1 272.3,1138.2 271.7,1139.2Z" fill="#ff8500"/>
<path d="M276.1,1139.2 276.4,1139.2 280.5,1139.2 284.5,1139.2 288.6,1139.2 292.7,1139.2 296.7,1139.2 300.8,1139.2 304.9,1139.2 308.9,1139.2 313.0,1139.2 317.1,1139.2 321.1,1139.2 325.2,1139.2 329.3,1139.2 333.3,1139.2 337.4,1139.2 341.5,1139.2 345.5,1139.2 349.6,1139.2 353.7,1139.2 357.7,1139.2 361.8,1139.2 365.9,1139.2 369.9,1139.2 374.0,1139.2 378.1,1139.2 382.1,1139.2 386.2,1139.2 390.3,1139.2 394.3,1139.2 398.4,1139.2 402.5,1139.2 406.5,1139.2 410.6,1139.2 414.7,1139.2 418.7,1139.2 422.8,1139.2 426.9,1139.2 430.9,1139.2 435.0,1139.2 439.1,1139.2 443.1,1139.2 447.2,1139.2 451.3,1139.2 455.4,1139.2 459.4,1139.2 463.5,1139.2 467.6,1139.2 471.6,1139.2 475.7,1139.2 479.8,1139.2 483.8,1139.2 487.9,1139.2 492.0,1139.2 496.0,1139.2 500.1,1139.2 504.2,1139.2 504.6,1139.2 504.2,1138.6 501.3,1135.1 500.1,1133.7 497.9,1131.1 496.0,1128.8 494.4,1127.0 492.0,1124.1 490.9,1122.9 487.9,1119.5 487.3,1118.8 483.8,1114.9 483.7,1114.8 479.9,1110.7 479.8,1110.5 476.0,1106.6 475.7,1106.3 472.0,1102.6 471.6,1102.1 467.9,1098.5 467.6,1098.1 463.7,1094.4 463.5,1094.3 459.4,1090.5 459.2,1090.3 455.4,1086.9 454.6,1086.3 451.3,1083.5 449.7,1082.2 447.2,1080.2 444.5,1078.1 443.1,1077.1 439.1,1074.1 439.0,1074.1 435.0,1071.3 432.9,1070.0 430.9,1068.7 426.9,1066.2 426.3,1065.9 422.8,1064.0 418.7,1061.9 418.6,1061.8 414.7,1060.0 410.6,1058.4 409.0,1057.8 406.5,1056.9 402.5,1055.6 398.4,1054.6 394.3,1053.7 394.2,1053.7 390.3,1053.1 386.2,1052.7 382.1,1052.6 378.1,1052.7 374.0,1053.0 369.9,1053.6 369.2,1053.7 365.9,1054.4 361.8,1055.4 357.7,1056.8 355.2,1057.8 353.7,1058.3 349.6,1060.2 346.4,1061.8 345.5,1062.3 341.5,1064.7 339.5,1065.9 337.4,1067.3 333.6,1070.0 333.3,1070.2 329.3,1073.4 328.5,1074.1 325.2,1076.8 323.8,1078.1 321.1,1080.5 319.4,1082.2 317.1,1084.5 315.4,1086.3 313.0,1088.7 311.6,1090.3 308.9,1093.3 307.9,1094.4 304.9,1098.0 304.5,1098.5 301.2,1102.6 300.8,1103.1 298.1,1106.6 296.7,1108.4 295.0,1110.7 292.7,1113.9 292.1,1114.8 289.2,1118.8 288.6,1119.7 286.4,1122.9 284.5,1125.8 283.7,1127.0 281.1,1131.1 280.5,1132.1 278.6,1135.1 276.4,1138.6 276.1,1139.2Z" fill="#ff8a00"/>
<path d="M280.5,1139.2 284.5,1139.2 288.6,1139.2 292.7,1139.2 296.7,1139.2 300.8,1139.2 304.9,1139.2 308.9,1139.2 313.0,1139.2 317.1,1139.2 321.1,1139.2 325.2,1139.2 329.3,1139.2 333.3,1139.2 337.4,1139.2 341.5,1139.2 345.5,1139.2 349.6,1139.2 353.7,1139.2 357.7,1139.2 361.8,1139.2 365.9,1139.2 369.9,1139.2 374.0,1139.2 378.1,1139.2 382.1,1139.2 386.2,1139.2 390.3,1139.2 394.3,1139.2 398.4,1139.2 402.5,1139.2 406.5,1139.2 410.6,1139.2 414.7,1139.2 418.7,1139.2 422.8,1139.2 426.9,1139.2 430.9,1139.2 435.0,1139.2 439.1,1139.2 443.1,1139.2 447.2,1139.2 451.3,1139.2 455.4,1139.2 459.4,1139.2 463.5,1139.2 467.6,1139.2 471.6,1139.2 475.7,1139.2 479.8,1139.2 483.8,1139.2 487.9,1139.2 492.0,1139.2 496.0,1139.2 500.1,1139.2 500.1,1139.2 500.1,1139.1 496.7,1135.1 496.0,1134.4 493.2,1131.1 492.0,1129.7 489.6,1127.0 487.9,1125.1 485.9,1122.9 483.8,1120.7 482.1,1118.8 479.8,1116.3 478.3,1114.8 475.7,1112.1 474.3,1110.7 471.6,1108.0 470.2,1106.6 467.6,1104.1 465.9,1102.6 463.5,1100.3 461.5,1098.5 459.4,1096.6 456.9,1094.4 455.4,1093.1 452.1,1090.3 451.3,1089.7 447.2,1086.5 446.9,1086.3 443.1,1083.4 441.4,1082.2 439.1,1080.5 435.5,1078.1 435.0,1077.8 430.9,1075.2 429.0,1074.1 426.9,1072.8 422.8,1070.6 421.5,1070.0 418.7,1068.6 414.7,1066.8 412.5,1065.9 410.6,1065.2 406.5,1063.7 402.5,1062.5 399.7,1061.8 398.4,1061.5 394.3,1060.7 390.3,1060.2 386.2,1059.8 382.1,1059.7 378.1,1059.9 374.0,1060.2 369.9,1060.8 365.9,1061.7 365.3,1061.8 361.8,1062.8 357.7,1064.1 353.7,1065.7 353.3,1065.9 349.6,1067.6 345.5,1069.7 345.1,1070.0 341.5,1072.1 338.5,1074.1 337.4,1074.8 333.3,1077.7 332.7,1078.1 329.3,1080.8 327.7,1082.2 325.2,1084.3 323.0,1086.3 321.1,1088.0 318.7,1090.3 317.1,1091.9 314.7,1094.4 313.0,1096.2 310.9,1098.5 308.9,1100.7 307.3,1102.6 304.9,1105.4 303.9,1106.6 300.8,1110.5 300.6,1110.7 297.5,1114.8 296.7,1115.7 294.4,1118.8 292.7,1121.2 291.5,1122.9 288.6,1127.0 288.6,1127.0 285.9,1131.1 284.5,1133.0 283.2,1135.1 280.5,1139.2Z" fill="#ff8f00"/>
<path d="M285.2,1139.2 288.6,1139.2 292.7,1139.2 296.7,1139.2 300.8,1139.2 304.9,1139.2 308.9,1139.2 313.0,1139.2 317.1,1139.2 321.1,1139.2 325.2,1139.2 329.3,1139.2 333.3,1139.2 337.4,1139.2 341.5,1139.2 345.5,1139.2 349.6,1139.2 353.7,1139.2 357.7,1139.2 361.8,1139.2 365.9,1139.2 369.9,1139.2 374.0,1139.2 378.1,1139.2 382.1,1139.2 386.2,1139.2 390.3,1139.2 394.3,1139.2 398.4,1139.2 402.5,1139.2 406.5,1139.2 410.6,1139.2 414.7,1139.2 418.7,1139.2 422.8,1139.2 426.9,1139.2 430.9,1139.2 435.0,1139.2 439.1,1139.2 443.1,1139.2 447.2,1139.2 451.3,1139.2 455.4,1139.2 459.4,1139.2 463.5,1139.2 467.6,1139.2 471.6,1139.2 475.7,1139.2 479.8,1139.2 483.8,1139.2 487.9,1139.2 492.0,1139.2 495.5,1139.2 492.0,1135.2 491.9,1135.1 488.2,1131.1 487.9,1130.7 484.4,1127.0 483.8,1126.3 480.6,1122.9 479.8,1122.0 476.6,1118.8 475.7,1117.9 472.5,1114.8 471.6,1113.9 468.3,1110.7 467.6,1110.0 463.9,1106.6 463.5,1106.2 459.4,1102.6 459.3,1102.6 455.4,1099.2 454.5,1098.5 451.3,1095.8 449.4,1094.4 447.2,1092.7 444.0,1090.3 443.1,1089.7 439.1,1086.8 438.2,1086.3 435.0,1084.2 431.8,1082.2 430.9,1081.7 426.9,1079.3 424.6,1078.1 422.8,1077.2 418.7,1075.2 416.0,1074.1 414.7,1073.5 410.6,1071.9 406.5,1070.5 404.6,1070.0 402.5,1069.4 398.4,1068.4 394.3,1067.7 390.3,1067.2 386.2,1066.9 382.1,1066.8 378.1,1067.0 374.0,1067.4 369.9,1068.0 365.9,1068.9 361.9,1070.0 361.8,1070.0 357.7,1071.4 353.7,1073.0 351.4,1074.1 349.6,1074.9 345.5,1077.0 343.7,1078.1 341.5,1079.4 337.4,1082.1 337.3,1082.2 333.3,1085.0 331.7,1086.3 329.3,1088.2 326.7,1090.3 325.2,1091.6 322.1,1094.4 321.1,1095.3 317.9,1098.5 317.1,1099.3 313.9,1102.6 313.0,1103.5 310.2,1106.6 308.9,1108.0 306.6,1110.7 304.9,1112.7 303.2,1114.8 300.8,1117.7 299.9,1118.8 296.8,1122.9 296.7,1123.0 293.8,1127.0 292.7,1128.5 290.8,1131.1 288.6,1134.2 288.0,1135.1 285.2,1139.2Z" fill="#ff9400"/>
<path d="M290.1,1139.2 292.7,1139.2 296.7,1139.2 300.8,1139.2 304.9,1139.2 308.9,1139.2 313.0,1139.2 317.1,1139.2 321.1,1139.2 325.2,1139.2 329.3,1139.2 333.3,1139.2 337.4,1139.2 341.5,1139.2 345.5,1139.2 349.6,1139.2 353.7,1139.2 357.7,1139.2 361.8,1139.2 365.9,1139.2 369.9,1139.2 374.0,1139.2 378.1,1139.2 382.1,1139.2 386.2,1139.2 390.3,1139.2 394.3,1139.2 398.4,1139.2 402.5,1139.2 406.5,1139.2 410.6,1139.2 414.7,1139.2 418.7,1139.2 422.8,1139.2 426.9,1139.2 430.9,1139.2 435.0,1139.2 439.1,1139.2 443.1,1139.2 447.2,1139.2 451.3,1139.2 455.4,1139.2 459.4,1139.2 463.5,1139.2 467.6,1139.2 471.6,1139.2 475.7,1139.2 479.8,1139.2 483.8,1139.2 487.9,1139.2 490.6,1139.2 487.9,1136.3 486.8,1135.1 483.8,1131.9 483.0,1131.1 479.8,1127.7 479.0,1127.0 475.7,1123.6 474.9,1122.9 471.6,1119.7 470.7,1118.8 467.6,1115.9 466.4,1114.8 463.5,1112.2 461.8,1110.7 459.4,1108.6 457.0,1106.6 455.4,1105.2 452.0,1102.6 451.3,1101.9 447.2,1098.8 446.7,1098.5 443.1,1095.9 441.0,1094.4 439.1,1093.1 435.0,1090.5 434.8,1090.3 430.9,1088.0 427.7,1086.3 426.9,1085.8 422.8,1083.7 419.6,1082.2 418.7,1081.8 414.7,1080.1 410.6,1078.6 409.2,1078.1 406.5,1077.2 402.5,1076.1 398.4,1075.2 394.3,1074.5 390.3,1074.1 390.1,1074.1 386.2,1073.8 382.1,1073.8 378.1,1074.0 377.4,1074.1 374.0,1074.4 369.9,1075.1 365.9,1076.0 361.8,1077.2 359.0,1078.1 357.7,1078.6 353.7,1080.2 349.6,1082.1 349.5,1082.2 345.5,1084.3 342.2,1086.3 341.5,1086.7 337.4,1089.4 336.0,1090.3 333.3,1092.3 330.6,1094.4 329.3,1095.5 325.7,1098.5 325.2,1098.9 321.2,1102.6 321.1,1102.6 317.1,1106.6 317.0,1106.6 313.1,1110.7 313.0,1110.8 309.3,1114.8 308.9,1115.2 305.8,1118.8 304.9,1120.0 302.4,1122.9 300.8,1124.9 299.2,1127.0 296.7,1130.2 296.1,1131.1 293.0,1135.1 292.7,1135.6 290.1,1139.2Z" fill="#ff9900"/>
<path d="M295.3,1139.2 296.7,1139.2 300.8,1139.2 304.9,1139.2 308.9,1139.2 313.0,1139.2 317.1,1139.2 321.1,1139.2 325.2,1139.2 329.3,1139.2 333.3,1139.2 337.4,1139.2 341.5,1139.2 345.5,1139.2 349.6,1139.2 353.7,1139.2 357.7,1139.2 361.8,1139.2 365.9,1139.2 369.9,1139.2 374.0,1139.2 378.1,1139.2 382.1,1139.2 386.2,1139.2 390.3,1139.2 394.3,1139.2 398.4,1139.2 402.5,1139.2 406.5,1139.2 410.6,1139.2 414.7,1139.2 418.7,1139.2 422.8,1139.2 426.9,1139.2 430.9,1139.2 435.0,1139.2 439.1,1139.2 443.1,1139.2 447.2,1139.2 451.3,1139.2 455.4,1139.2 459.4,1139.2 463.5,1139.2 467.6,1139.2 471.6,1139.2 475.7,1139.2 479.8,1139.2 483.8,1139.2 485.4,1139.2 483.8,1137.5 481.5,1135.1 479.8,1133.4 477.4,1131.1 475.7,1129.3 473.2,1127.0 471.6,1125.4 468.9,1122.9 467.6,1121.7 464.4,1118.8 463.5,1118.0 459.7,1114.8 459.4,1114.5 455.4,1111.2 454.7,1110.7 451.3,1108.0 449.5,1106.6 447.2,1104.9 443.8,1102.6 443.1,1102.1 439.1,1099.3 437.7,1098.5 435.0,1096.8 431.0,1094.4 430.9,1094.4 426.9,1092.2 423.2,1090.3 422.8,1090.1 418.7,1088.3 414.7,1086.6 413.7,1086.3 410.6,1085.2 406.5,1083.9 402.5,1082.8 399.5,1082.2 398.4,1082.0 394.3,1081.3 390.3,1080.9 386.2,1080.7 382.1,1080.7 378.1,1080.9 374.0,1081.4 369.9,1082.1 369.5,1082.2 365.9,1083.0 361.8,1084.2 357.7,1085.7 356.2,1086.3 353.7,1087.3 349.6,1089.3 347.6,1090.3 345.5,1091.4 341.5,1093.8 340.6,1094.4 337.4,1096.5 334.7,1098.5 333.3,1099.5 329.4,1102.6 329.3,1102.6 325.2,1106.1 324.6,1106.6 321.1,1109.8 320.2,1110.7 317.1,1113.7 316.0,1114.8 313.0,1117.9 312.2,1118.8 308.9,1122.4 308.5,1122.9 304.9,1127.0 304.9,1127.1 301.6,1131.1 300.8,1132.0 298.4,1135.1 296.7,1137.2 295.3,1139.2Z" fill="#ff9e00"/>
<path d="M300.7,1139.2 300.8,1139.2 304.9,1139.2 308.9,1139.2 313.0,1139.2 317.1,1139.2 321.1,1139.2 325.2,1139.2 329.3,1139.2 333.3,1139.2 337.4,1139.2 341.5,1139.2 345.5,1139.2 349.6,1139.2 353.7,1139.2 357.7,1139.2 361.8,1139.2 365.9,1139.2 369.9,1139.2 374.0,1139.2 378.1,1139.2 382.1,1139.2 386.2,1139.2 390.3,1139.2 394.3,1139.2 398.4,1139.2 402.5,1139.2 406.5,1139.2 410.6,1139.2 414.7,1139.2 418.7,1139.2 422.8,1139.2 426.9,1139.2 430.9,1139.2 435.0,1139.2 439.1,1139.2 443.1,1139.2 447.2,1139.2 451.3,1139.2 455.4,1139.2 459.4,1139.2 463.5,1139.2 467.6,1139.2 471.6,1139.2 475.7,1139.2 479.8,1139.2 480.0,1139.2 479.8,1139.0 475.8,1135.1 475.7,1135.0 471.6,1131.1 471.5,1131.1 467.6,1127.4 467.0,1127.0 463.5,1123.9 462.4,1122.9 459.4,1120.4 457.5,1118.8 455.4,1117.1 452.3,1114.8 451.3,1114.0 447.2,1111.0 446.8,1110.7 443.1,1108.2 440.8,1106.6 439.1,1105.5 435.0,1103.0 434.3,1102.6 430.9,1100.6 426.9,1098.5 426.9,1098.5 422.8,1096.5 418.7,1094.7 418.0,1094.4 414.7,1093.1 410.6,1091.7 406.5,1090.5 406.1,1090.3 402.5,1089.4 398.4,1088.6 394.3,1088.0 390.3,1087.6 386.2,1087.5 382.1,1087.5 378.1,1087.8 374.0,1088.3 369.9,1089.0 365.9,1090.0 364.7,1090.3 361.8,1091.2 357.7,1092.7 353.7,1094.4 353.6,1094.4 349.6,1096.3 345.5,1098.5 345.5,1098.5 341.5,1100.9 339.0,1102.6 337.4,1103.6 333.3,1106.5 333.2,1106.6 329.3,1109.7 328.1,1110.7 325.2,1113.2 323.4,1114.8 321.1,1116.9 319.1,1118.8 317.1,1120.8 315.0,1122.9 313.0,1125.0 311.2,1127.0 308.9,1129.4 307.5,1131.1 304.9,1134.1 304.0,1135.1 300.8,1139.1 300.7,1139.2Z" fill="#ffa300"/>
<path d="M306.5,1139.2 308.9,1139.2 313.0,1139.2 317.1,1139.2 321.1,1139.2 325.2,1139.2 329.3,1139.2 333.3,1139.2 337.4,1139.2 341.5,1139.2 345.5,1139.2 349.6,1139.2 353.7,1139.2 357.7,1139.2 361.8,1139.2 365.9,1139.2 369.9,1139.2 374.0,1139.2 378.1,1139.2 382.1,1139.2 386.2,1139.2 390.3,1139.2 394.3,1139.2 398.4,1139.2 402.5,1139.2 406.5,1139.2 410.6,1139.2 414.7,1139.2 418.7,1139.2 422.8,1139.2 426.9,1139.2 430.9,1139.2 435.0,1139.2 439.1,1139.2 443.1,1139.2 447.2,1139.2 451.3,1139.2 455.4,1139.2 459.4,1139.2 463.5,1139.2 467.6,1139.2 471.6,1139.2 474.2,1139.2 471.6,1136.8 469.7,1135.1 467.6,1133.1 465.1,1131.1 463.5,1129.6 460.3,1127.0 459.4,1126.2 455.4,1123.0 455.2,1122.9 451.3,1119.9 449.8,1118.8 447.2,1117.0 444.0,1114.8 443.1,1114.2 439.1,1111.6 437.6,1110.7 435.0,1109.1 430.9,1106.9 430.5,1106.6 426.9,1104.7 422.8,1102.8 422.2,1102.6 418.7,1101.1 414.7,1099.5 411.6,1098.5 410.6,1098.1 406.5,1097.0 402.5,1096.0 398.4,1095.2 394.3,1094.7 391.4,1094.4 390.3,1094.3 386.2,1094.2 382.1,1094.3 380.3,1094.4 378.1,1094.6 374.0,1095.1 369.9,1095.9 365.9,1096.9 361.8,1098.1 360.8,1098.5 357.7,1099.6 353.7,1101.3 351.1,1102.6 349.6,1103.3 345.5,1105.5 343.6,1106.6 341.5,1107.9 337.4,1110.6 337.3,1110.7 333.3,1113.5 331.8,1114.8 329.3,1116.7 326.8,1118.8 325.2,1120.2 322.2,1122.9 321.1,1123.9 317.9,1127.0 317.1,1127.8 313.9,1131.1 313.0,1132.0 310.1,1135.1 308.9,1136.4 306.5,1139.2Z" fill="#ffa800"/>
<path d="M312.7,1139.2 313.0,1139.2 317.1,1139.2 321.1,1139.2 325.2,1139.2 329.3,1139.2 333.3,1139.2 337.4,1139.2 341.5,1139.2 345.5,1139.2 349.6,1139.2 353.7,1139.2 357.7,1139.2 361.8,1139.2 365.9,1139.2 369.9,1139.2 374.0,1139.2 378.1,1139.2 382.1,1139.2 386.2,1139.2 390.3,1139.2 394.3,1139.2 398.4,1139.2 402.5,1139.2 406.5,1139.2 410.6,1139.2 414.7,1139.2 418.7,1139.2 422.8,1139.2 426.9,1139.2 430.9,1139.2 435.0,1139.2 439.1,1139.2 443.1,1139.2 447.2,1139.2 451.3,1139.2 455.4,1139.2 459.4,1139.2 463.5,1139.2 467.6,1139.2 468.0,1139.2 467.6,1138.8 463.5,1135.4 463.2,1135.1 459.4,1132.0 458.2,1131.1 455.4,1128.8 452.8,1127.0 451.3,1125.8 447.2,1122.9 447.2,1122.9 443.1,1120.2 441.0,1118.8 439.1,1117.6 435.0,1115.2 434.2,1114.8 430.9,1113.0 426.9,1111.0 426.3,1110.7 422.8,1109.1 418.7,1107.4 416.7,1106.6 414.7,1105.9 410.6,1104.5 406.5,1103.4 402.8,1102.6 402.5,1102.5 398.4,1101.8 394.3,1101.2 390.3,1100.9 386.2,1100.8 382.1,1100.9 378.1,1101.3 374.0,1101.9 370.4,1102.6 369.9,1102.7 365.9,1103.7 361.8,1104.9 357.7,1106.4 357.3,1106.6 353.7,1108.2 349.6,1110.1 348.6,1110.7 345.5,1112.4 341.5,1114.8 341.5,1114.8 337.4,1117.5 335.6,1118.8 333.3,1120.5 330.2,1122.9 329.3,1123.7 325.3,1127.0 325.2,1127.1 321.1,1130.8 320.8,1131.1 317.1,1134.7 316.6,1135.1 313.0,1138.9 312.7,1139.2Z" fill="#ffad00"/>
<path d="M319.5,1139.2 321.1,1139.2 325.2,1139.2 329.3,1139.2 333.3,1139.2 337.4,1139.2 341.5,1139.2 345.5,1139.2 349.6,1139.2 353.7,1139.2 357.7,1139.2 361.8,1139.2 365.9,1139.2 369.9,1139.2 374.0,1139.2 378.1,1139.2 382.1,1139.2 386.2,1139.2 390.3,1139.2 394.3,1139.2 398.4,1139.2 402.5,1139.2 406.5,1139.2 410.6,1139.2 414.7,1139.2 418.7,1139.2 422.8,1139.2 426.9,1139.2 430.9,1139.2 435.0,1139.2 439.1,1139.2 443.1,1139.2 447.2,1139.2 451.3,1139.2 455.4,1139.2 459.4,1139.2 461.2,1139.2 459.4,1137.8 456.0,1135.1 455.4,1134.6 451.3,1131.7 450.4,1131.1 447.2,1128.8 444.4,1127.0 443.1,1126.2 439.1,1123.6 437.8,1122.9 435.0,1121.3 430.9,1119.1 430.4,1118.8 426.9,1117.1 422.8,1115.3 421.6,1114.8 418.7,1113.6 414.7,1112.1 410.6,1110.9 410.0,1110.7 406.5,1109.8 402.5,1108.9 398.4,1108.2 394.3,1107.7 390.3,1107.5 386.2,1107.4 382.1,1107.6 378.1,1107.9 374.0,1108.5 369.9,1109.4 365.9,1110.4 364.9,1110.7 361.8,1111.7 357.7,1113.2 354.1,1114.8 353.7,1115.0 349.6,1116.9 346.1,1118.8 345.5,1119.2 341.5,1121.6 339.6,1122.9 337.4,1124.3 333.8,1127.0 333.3,1127.3 329.3,1130.5 328.6,1131.1 325.2,1133.9 323.9,1135.1 321.1,1137.6 319.5,1139.2Z" fill="#ffb200"/>
<path d="M327.0,1139.2 329.3,1139.2 333.3,1139.2 337.4,1139.2 341.5,1139.2 345.5,1139.2 349.6,1139.2 353.7,1139.2 357.7,1139.2 361.8,1139.2 365.9,1139.2 369.9,1139.2 374.0,1139.2 378.1,1139.2 382.1,1139.2 386.2,1139.2 390.3,1139.2 394.3,1139.2 398.4,1139.2 402.5,1139.2 406.5,1139.2 410.6,1139.2 414.7,1139.2 418.7,1139.2 422.8,1139.2 426.9,1139.2 430.9,1139.2 435.0,1139.2 439.1,1139.2 443.1,1139.2 447.2,1139.2 451.3,1139.2 453.7,1139.2 451.3,1137.4 447.9,1135.1 447.2,1134.7 443.1,1132.0 441.5,1131.1 439.1,1129.6 435.0,1127.3 434.4,1127.0 430.9,1125.1 426.9,1123.2 426.2,1122.9 422.8,1121.4 418.7,1119.8 416.0,1118.8 414.7,1118.4 410.6,1117.1 406.5,1116.1 402.5,1115.3 399.4,1114.8 398.4,1114.6 394.3,1114.2 390.3,1113.9 386.2,1113.9 382.1,1114.1 378.1,1114.5 376.3,1114.8 374.0,1115.1 369.9,1116.0 365.9,1117.1 361.8,1118.4 360.5,1118.8 357.7,1119.9 353.7,1121.7 351.1,1122.9 349.6,1123.7 345.5,1125.9 343.8,1127.0 341.5,1128.4 337.5,1131.1 337.4,1131.1 333.3,1134.1 332.0,1135.1 329.3,1137.3 327.0,1139.2Z" fill="#ffb700"/>
<path d="M335.5,1139.2 337.4,1139.2 341.5,1139.2 345.5,1139.2 349.6,1139.2 353.7,1139.2 357.7,1139.2 361.8,1139.2 365.9,1139.2 369.9,1139.2 374.0,1139.2 378.1,1139.2 382.1,1139.2 386.2,1139.2 390.3,1139.2 394.3,1139.2 398.4,1139.2 402.5,1139.2 406.5,1139.2 410.6,1139.2 414.7,1139.2 418.7,1139.2 422.8,1139.2 426.9,1139.2 430.9,1139.2 435.0,1139.2 439.1,1139.2 443.1,1139.2 445.2,1139.2 443.1,1137.9 439.1,1135.5 438.4,1135.1 435.0,1133.2 430.9,1131.1 430.8,1131.1 426.9,1129.2 422.8,1127.5 421.5,1127.0 418.7,1125.9 414.7,1124.5 410.6,1123.4 408.8,1122.9 406.5,1122.4 402.5,1121.6 398.4,1120.9 394.3,1120.5 390.3,1120.3 386.2,1120.3 382.1,1120.6 378.1,1121.0 374.0,1121.7 369.9,1122.5 368.6,1122.9 365.9,1123.6 361.8,1125.0 357.7,1126.5 356.7,1127.0 353.7,1128.3 349.6,1130.3 348.3,1131.1 345.5,1132.6 341.5,1135.1 341.4,1135.1 337.4,1137.8 335.5,1139.2Z" fill="#ffbc00"/>
<path d="M345.5,1139.2 345.5,1139.2 349.6,1139.2 353.7,1139.2 357.7,1139.2 361.8,1139.2 365.9,1139.2 369.9,1139.2 374.0,1139.2 378.1,1139.2 382.1,1139.2 386.2,1139.2 390.3,1139.2 394.3,1139.2 398.4,1139.2 402.5,1139.2 406.5,1139.2 410.6,1139.2 414.7,1139.2 418.7,1139.2 422.8,1139.2 426.9,1139.2 430.9,1139.2 435.0,1139.2 435.2,1139.2 435.0,1139.1 430.9,1137.1 426.9,1135.2 426.7,1135.1 422.8,1133.5 418.7,1132.0 415.9,1131.1 414.7,1130.7 410.6,1129.5 406.5,1128.6 402.5,1127.8 398.4,1127.2 395.8,1127.0 394.3,1126.9 390.3,1126.7 386.2,1126.7 382.1,1127.0 382.1,1127.0 378.1,1127.4 374.0,1128.1 369.9,1129.0 365.9,1130.2 363.2,1131.1 361.8,1131.5 357.7,1133.1 353.7,1134.9 353.2,1135.1 349.6,1136.9 345.5,1139.2 345.5,1139.2Z" fill="#ffc100"/>
<path d="M358.7,1139.2 361.8,1139.2 365.9,1139.2 369.9,1139.2 374.0,1139.2 378.1,1139.2 382.1,1139.2 386.2,1139.2 390.3,1139.2 394.3,1139.2 398.4,1139.2 402.5,1139.2 406.5,1139.2 410.6,1139.2 414.7,1139.2 418.7,1139.2 422.0,1139.2 418.7,1138.0 414.7,1136.7 410.6,1135.6 408.4,1135.1 406.5,1134.7 402.5,1134.0 398.4,1133.4 394.3,1133.1 390.3,1133.0 386.2,1133.0 382.1,1133.3 378.1,1133.8 374.0,1134.5 371.4,1135.1 369.9,1135.5 365.9,1136.6 361.8,1138.0 358.7,1139.2Z" fill="#ffc600"/>
<path d="M199.1,1108.2 200.9,1102.6 203.2,1095.1 204.6,1090.3 207.2,1082.2 208.5,1078.1 211.0,1070.0 212.3,1065.9 214.9,1057.8 216.2,1053.7 218.8,1045.6 220.2,1041.5 222.8,1033.3 224.1,1029.3 226.8,1021.1 228.2,1017.1 230.9,1008.9 232.3,1004.8 235.1,996.7 236.4,992.6 239.3,984.5 240.7,980.4 243.5,972.3 245.0,968.2 247.9,960.1 249.4,956.0 252.0,948.9 253.9,943.8 256.0,938.1 258.6,931.5 260.1,927.5 263.3,919.3 265.0,915.3 268.2,907.2 270.0,903.0 272.3,897.5 275.2,890.8 277.0,886.8 280.5,879.1 282.6,874.5 284.5,870.5 288.5,862.3 290.7,858.3 292.8,854.2 296.7,847.0 299.7,842.0 302.2,837.9 304.9,833.6 308.9,827.6 313.0,822.1 316.7,817.5 320.4,813.5 324.4,809.4 329.1,805.3 333.3,802.3 337.4,799.8 343.6,797.2 349.6,795.6 357.7,795.2 365.9,796.6 369.9,797.9 377.1,801.3 382.1,804.2 386.2,807.0 390.3,810.2 394.3,813.6 398.6,817.5 402.8,821.6 406.7,825.7 410.6,830.0 414.7,834.7 418.7,839.6 422.8,844.7 426.9,850.0 430.0,854.2 433.0,858.3 435.9,862.3 439.1,866.9 443.1,872.8 447.1,878.6 449.7,882.7 452.4,886.8 455.4,891.3 459.4,897.7 462.7,903.0 465.3,907.1 467.8,911.2 471.6,917.5 475.1,923.4 477.5,927.5 480.0,931.5 483.8,938.1 487.1,943.8 489.4,947.8 492.0,952.3 496.0,959.4 498.7,964.1 501.0,968.2 504.2,973.9 507.7,980.4 510.0,984.5 512.3,988.7 516.4,996.1 518.9,1000.8 521.1,1004.8 524.5,1011.1 527.7,1017.1 529.9,1021.1 532.6,1026.3 536.4,1033.3 538.5,1037.4 540.8,1041.7 544.8,1049.4 547.1,1053.7 549.2,1057.8 553.0,1064.9 555.6,1070.0 557.7,1074.1 561.1,1080.6 564.0,1086.3 566.1,1090.3 569.2,1096.4 572.4,1102.6 574.5,1106.6 577.4,1112.3 580.7,1118.8 582.8,1122.9 585.5,1128.3 589.0,1135.1 591.0,1139.2 591.0,1139.2" fill="none" stroke="#000" stroke-width="0.9"/>
<path d="M526.0,650.6 527.6,658.7 528.6,663.7 530.0,671.0 531.8,679.1 532.6,683.2 534.4,691.3 536.2,699.5 537.1,703.5 539.0,711.7 540.8,719.2 541.9,723.9 543.8,732.0 544.8,736.1 546.9,744.2 548.9,752.3 550.0,756.5 552.1,764.6 553.1,768.7 555.3,776.8 557.0,783.2 558.6,789.0 560.9,797.2 562.0,801.3 564.3,809.4 565.5,813.5 567.8,821.6 569.2,826.5 571.4,833.8 573.3,840.3 575.0,846.0 577.4,853.8 578.7,858.3 581.2,866.4 582.5,870.5 585.0,878.6 586.3,882.7 588.9,890.8 590.2,894.9 592.8,903.0 594.1,907.1 596.8,915.3 598.1,919.3 600.8,927.5 602.2,931.5 604.9,939.7 606.2,943.8 609.0,951.9 610.4,956.0 613.2,964.1 614.6,968.2 617.4,976.3 618.8,980.4 621.6,988.5 623.1,992.6 625.9,1000.8 627.4,1004.8 630.3,1012.9 631.7,1017.1 634.3,1024.3 636.1,1029.3 638.4,1035.5 640.5,1041.5 642.5,1046.7 645.0,1053.7 646.5,1057.8 649.5,1065.9 651.0,1070.0 654.0,1078.1 655.6,1082.2 658.6,1090.3 660.1,1094.4 662.8,1101.5 664.7,1106.6 666.9,1112.2 669.4,1118.8 670.9,1122.9 674.0,1131.1 675.6,1135.1 677.1,1139.2" fill="none" stroke="#000" stroke-width="0.9"/>
<path d="M617.0,650.6 618.1,657.2 619.0,662.8 620.4,671.0 621.8,679.1 622.5,683.2 624.0,691.3 625.5,699.5 626.2,703.5 627.8,711.7 629.3,719.8 630.3,724.5 631.7,732.0 633.4,740.2 634.3,744.8 635.9,752.4 637.6,760.5 638.5,764.6 640.2,772.8 642.0,780.9 642.9,785.0 644.7,793.1 646.5,801.1 647.5,805.3 649.4,813.5 650.6,818.6 652.3,825.7 654.2,833.8 655.2,837.9 657.2,846.0 658.7,852.3 660.2,858.3 662.2,866.4 663.3,870.5 665.4,878.6 666.9,884.4 668.5,890.8 670.7,899.0 671.7,903.0 673.9,911.2 675.0,915.3 677.2,923.4 679.1,930.1 680.6,935.6 682.8,943.8 684.0,947.8 686.3,956.0 687.2,959.2" fill="none" stroke="#000" stroke-width="0.9"/>
<path d="M684.7,650.6 685.9,658.7 687.2,666.9 687.2,667.1" fill="none" stroke="#000" stroke-width="0.9"/>
<rect x="199.1" y="650.6" width="488.1" height="488.6" fill="none" stroke="#000" stroke-width="1.1"/>
<path d="M199.1,650.1 V1139.2 H687.7" fill="none" stroke="#000" stroke-width="1.6"/>
<line x1="186.9" y1="650.6" x2="199.1" y2="650.6" stroke="#000" stroke-width="1.5"/>
<text x="182.2" y="654.5" font-size="10.3" text-anchor="end" fill="#000" stroke="#000" stroke-width="0.75" textLength="20.0" lengthAdjust="spacingAndGlyphs" >0.15</text>
<line x1="199.1" y1="1139.2" x2="199.1" y2="1150.9" stroke="#000" stroke-width="1.5"/>
<text x="199.1" y="1165.2" font-size="10.5" text-anchor="middle" fill="#000" stroke="#000" stroke-width="0.75" textLength="11.1" lengthAdjust="spacingAndGlyphs" >50</text>
<line x1="186.9" y1="748.3" x2="199.1" y2="748.3" stroke="#000" stroke-width="1.5"/>
<text x="182.2" y="752.2" font-size="10.3" text-anchor="end" fill="#000" stroke="#000" stroke-width="0.75" textLength="20.0" lengthAdjust="spacingAndGlyphs" >0.13</text>
<line x1="296.7" y1="1139.2" x2="296.7" y2="1150.9" stroke="#000" stroke-width="1.5"/>
<text x="296.7" y="1165.2" font-size="10.5" text-anchor="middle" fill="#000" stroke="#000" stroke-width="0.75" textLength="11.1" lengthAdjust="spacingAndGlyphs" >70</text>
<line x1="186.9" y1="846.0" x2="199.1" y2="846.0" stroke="#000" stroke-width="1.5"/>
<text x="182.2" y="849.9" font-size="10.3" text-anchor="end" fill="#000" stroke="#000" stroke-width="0.75" textLength="20.0" lengthAdjust="spacingAndGlyphs" >0.11</text>
<line x1="394.3" y1="1139.2" x2="394.3" y2="1150.9" stroke="#000" stroke-width="1.5"/>
<text x="394.3" y="1165.2" font-size="10.5" text-anchor="middle" fill="#000" stroke="#000" stroke-width="0.75" textLength="11.1" lengthAdjust="spacingAndGlyphs" >90</text>
<line x1="186.9" y1="943.8" x2="199.1" y2="943.8" stroke="#000" stroke-width="1.5"/>
<text x="182.2" y="947.7" font-size="10.3" text-anchor="end" fill="#000" stroke="#000" stroke-width="0.75" textLength="20.0" lengthAdjust="spacingAndGlyphs" >0.09</text>
<line x1="492.0" y1="1139.2" x2="492.0" y2="1150.9" stroke="#000" stroke-width="1.5"/>
<text x="492.0" y="1165.2" font-size="10.5" text-anchor="middle" fill="#000" stroke="#000" stroke-width="0.75" textLength="17.3" lengthAdjust="spacingAndGlyphs" >110</text>
<line x1="186.9" y1="1041.5" x2="199.1" y2="1041.5" stroke="#000" stroke-width="1.5"/>
<text x="182.2" y="1045.4" font-size="10.3" text-anchor="end" fill="#000" stroke="#000" stroke-width="0.75" textLength="20.0" lengthAdjust="spacingAndGlyphs" >0.07</text>
<line x1="589.6" y1="1139.2" x2="589.6" y2="1150.9" stroke="#000" stroke-width="1.5"/>
<text x="589.6" y="1165.2" font-size="10.5" text-anchor="middle" fill="#000" stroke="#000" stroke-width="0.75" textLength="17.3" lengthAdjust="spacingAndGlyphs" >130</text>
<line x1="186.9" y1="1139.2" x2="199.1" y2="1139.2" stroke="#000" stroke-width="1.5"/>
<text x="182.2" y="1143.1" font-size="10.3" text-anchor="end" fill="#000" stroke="#000" stroke-width="0.75" textLength="20.0" lengthAdjust="spacingAndGlyphs" >0.05</text>
<line x1="687.2" y1="1139.2" x2="687.2" y2="1150.9" stroke="#000" stroke-width="1.5"/>
<text x="687.2" y="1165.2" font-size="10.5" text-anchor="middle" fill="#000" stroke="#000" stroke-width="0.75" textLength="17.3" lengthAdjust="spacingAndGlyphs" >150</text>
<rect x="381.0" y="799.1" width="17.8" height="10.4" fill="#fff" stroke="#444" stroke-width="0.9"/>
<text x="389.9" y="807.1" font-size="7.6" text-anchor="middle" fill="#333" stroke="#333" stroke-width=".1" >100</text>
<rect x="585.1" y="896.8" width="17.8" height="10.4" fill="#fff" stroke="#444" stroke-width="0.9"/>
<text x="594.0" y="904.8" font-size="7.6" text-anchor="middle" fill="#333" stroke="#333" stroke-width=".1" >110</text>
<rect x="639.4" y="798.6" width="17.8" height="10.4" fill="#fff" stroke="#444" stroke-width="0.9"/>
<text x="648.3" y="806.6" font-size="7.6" text-anchor="middle" fill="#333" stroke="#333" stroke-width=".1" >120</text>
<circle cx="199.1" cy="1139.2" r="4.6" fill="#c00a0a" stroke="#3a0000" stroke-width="1"/>
<circle cx="443.1" cy="1139.2" r="4.6" fill="#c00a0a" stroke="#3a0000" stroke-width="1"/>
</g>
<text x="443.5" y="641.7" font-size="15.4" text-anchor="middle" fill="#000" stroke="#000" stroke-width=".3" textLength="172.5" lengthAdjust="spacingAndGlyphs" >Removal efficiency (%)</text>
<text x="442.8" y="1202.4" font-size="13.5" text-anchor="middle" fill="#000" stroke="#000" stroke-width=".45" textLength="176.5" lengthAdjust="spacingAndGlyphs" >B: Dye concentration (mg/L)</text>
<text x="123.2" y="982.2" font-size="13.5" fill="#000" stroke="#000" stroke-width=".45" textLength="180.0" lengthAdjust="spacingAndGlyphs" transform="rotate(-90 123.2 982.2)" >C: Adsorbent dose (g/100ml)</text>
<text x="360.2" y="1235.9" font-size="21" text-anchor="middle" font-weight="bold" fill="#000" stroke="#000" stroke-width=".3" style="font-family:Liberation Serif, Times New Roman, serif;stroke:none" >(b)</text>
<text x="17.5" y="8.3" font-size="9.8" fill="#000" stroke="#000" textLength="96.8" lengthAdjust="spacingAndGlyphs" >Factor Coding: Actual</text>
<text x="17.5" y="41.0" font-size="9.8" font-weight="bold" fill="#000" stroke="#000" textLength="110.0" lengthAdjust="spacingAndGlyphs" >Removal efficiency (%)</text>
<text x="17.5" y="56.6" font-size="9.8" fill="#000" stroke="#000" textLength="64.0" lengthAdjust="spacingAndGlyphs" >Design Points:</text>
<circle cx="27.1" cy="70.1" r="5.5" fill="#be0000" stroke="#3a0000" stroke-width="1"/>
<text x="39.2" y="73.7" font-size="9.8" font-weight="bold" fill="#b40000" stroke="#b40000" textLength="65.2" lengthAdjust="spacingAndGlyphs" >Above Surface</text>
<circle cx="27.1" cy="86.2" r="5.5" fill="#ffc8c8" stroke="#222" stroke-width="1"/>
<text x="39.2" y="88.7" font-size="9.8" font-weight="bold" fill="#b40000" stroke="#b40000" textLength="63.1" lengthAdjust="spacingAndGlyphs" >Below Surface</text>
<text x="17.2" y="104.8" font-size="9.8" font-weight="bold" fill="#0000ff" stroke="#0000ff" textLength="24.6" lengthAdjust="spacingAndGlyphs" >51.32</text>
<linearGradient id="gb1" x1="0" x2="1" y1="0" y2="0"><stop offset="0" stop-color="#0000ff"/><stop offset="0.5" stop-color="#00ff00"/><stop offset="1" stop-color="#ff0000"/></linearGradient>
<rect x="44.0" y="94.8" width="37.5" height="14.3" fill="url(#gb1)" stroke="#222" stroke-width="0.9"/>
<text x="84.9" y="104.8" font-size="9.8" font-weight="bold" fill="#ff0000" stroke="#ff0000" textLength="25.2" lengthAdjust="spacingAndGlyphs" >99.98</text>
<text x="17.5" y="137.0" font-size="9.8" fill="#000" stroke="#000" textLength="30.4" lengthAdjust="spacingAndGlyphs" >X1 = B</text>
<text x="17.5" y="154.0" font-size="9.8" fill="#000" stroke="#000" textLength="30.2" lengthAdjust="spacingAndGlyphs" >X2 = C</text>
<text x="17.5" y="185.3" font-size="9.8" font-weight="bold" fill="#000" stroke="#000" textLength="67.0" lengthAdjust="spacingAndGlyphs" >Actual Factors</text>
<text x="17.5" y="202.3" font-size="9.8" fill="#000" stroke="#000" textLength="54.4" lengthAdjust="spacingAndGlyphs" >A = 2.00002</text>
<text x="17.5" y="217.7" font-size="9.8" fill="#000" stroke="#000" textLength="30.2" lengthAdjust="spacingAndGlyphs" >D = 80</text>
<text x="1.6" y="626.4" font-size="9.8" fill="#000" stroke="#000" textLength="96.8" lengthAdjust="spacingAndGlyphs" >Factor Coding: Actual</text>
<text x="1.6" y="658.3" font-size="9.8" font-weight="bold" fill="#000" stroke="#000" textLength="110.0" lengthAdjust="spacingAndGlyphs" >Removal efficiency (%)</text>
<circle cx="11.7" cy="671.7" r="5.7" fill="#be0000" stroke="#3a0000" stroke-width="1"/>
<text x="23.8" y="675.2" font-size="9.8" fill="#b40000" stroke="#b40000" textLength="61.0" lengthAdjust="spacingAndGlyphs" >Design Points</text>
<text x="1.3" y="707.6" font-size="9.8" font-weight="bold" fill="#0000ff" stroke="#0000ff" textLength="24.6" lengthAdjust="spacingAndGlyphs" >51.32</text>
<linearGradient id="gb0" x1="0" x2="1" y1="0" y2="0"><stop offset="0" stop-color="#0000ff"/><stop offset="0.5" stop-color="#00ff00"/><stop offset="1" stop-color="#ff0000"/></linearGradient>
<rect x="28.1" y="697.6" width="37.5" height="14.3" fill="url(#gb0)" stroke="#222" stroke-width="0.9"/>
<text x="69.0" y="707.6" font-size="9.8" font-weight="bold" fill="#ff0000" stroke="#ff0000" textLength="25.2" lengthAdjust="spacingAndGlyphs" >99.98</text>
<text x="1.6" y="723.1" font-size="9.8" fill="#000" stroke="#000" textLength="30.4" lengthAdjust="spacingAndGlyphs" >X1 = B</text>
<text x="1.6" y="739.7" font-size="9.8" fill="#000" stroke="#000" textLength="30.2" lengthAdjust="spacingAndGlyphs" >X2 = C</text>
<text x="1.6" y="772.4" font-size="9.8" font-weight="bold" fill="#000" stroke="#000" textLength="67.0" lengthAdjust="spacingAndGlyphs" >Actual Factors</text>
<text x="1.6" y="787.9" font-size="9.8" fill="#000" stroke="#000" textLength="54.4" lengthAdjust="spacingAndGlyphs" >A = 2.00002</text>
<text x="1.6" y="803.8" font-size="9.8" fill="#000" stroke="#000" textLength="30.2" lengthAdjust="spacingAndGlyphs" >D = 80</text>
</g>
</svg>
</body></html>
